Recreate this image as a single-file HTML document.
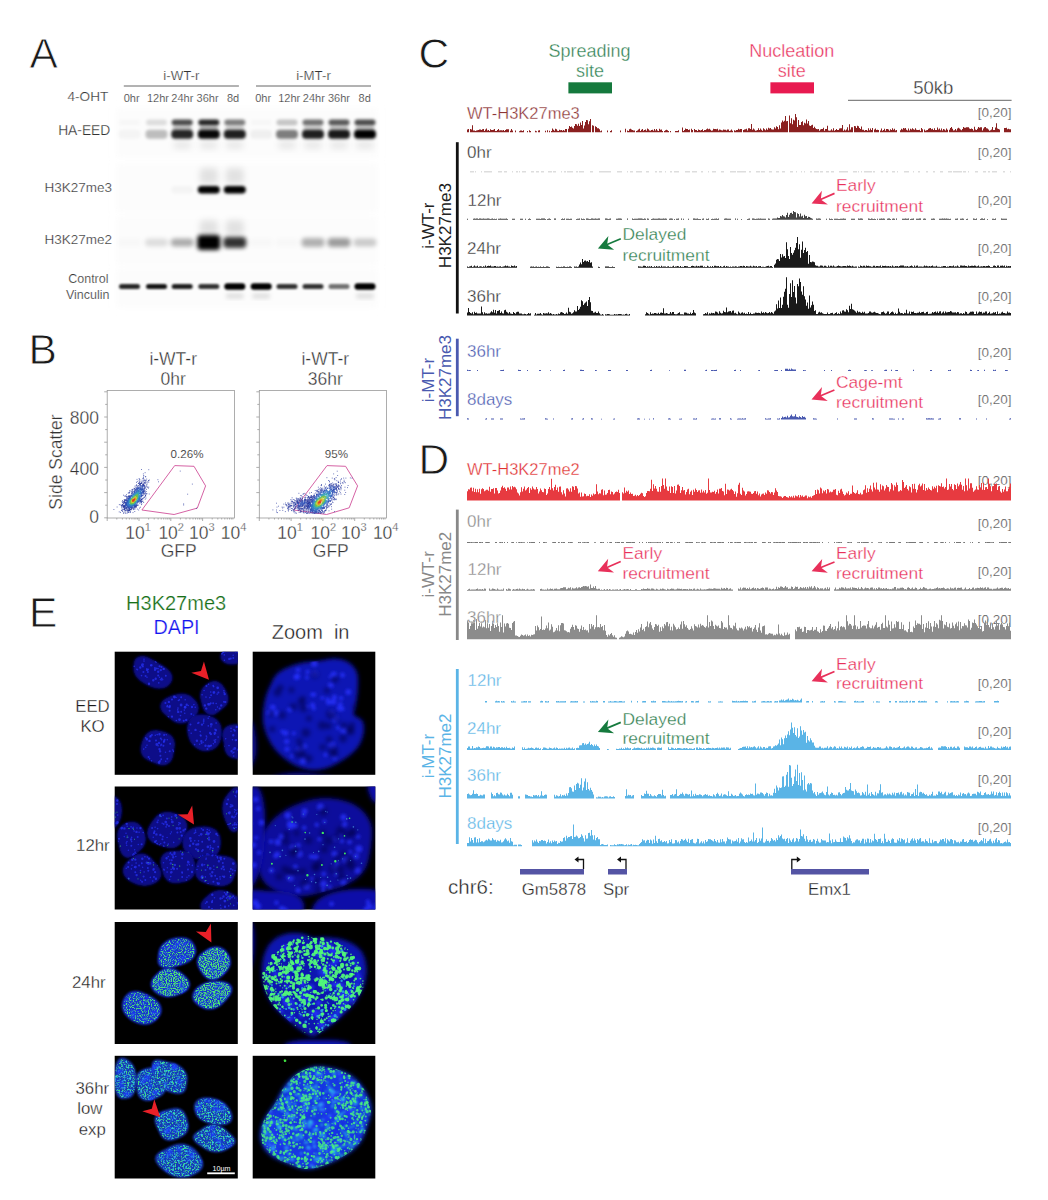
<!DOCTYPE html>
<html><head><meta charset="utf-8"><style>
html,body{margin:0;padding:0;background:#fff;}
svg{display:block;font-family:"Liberation Sans", sans-serif;}
</style></head><body>
<svg width="1048" height="1200" viewBox="0 0 1048 1200">
<defs>
<filter id="b05" x="-50%" y="-50%" width="200%" height="200%"><feGaussianBlur stdDeviation="0.5"/></filter>
<filter id="b1" x="-50%" y="-50%" width="200%" height="200%"><feGaussianBlur stdDeviation="1.2"/></filter>
<filter id="b15" x="-50%" y="-50%" width="200%" height="200%"><feGaussianBlur stdDeviation="1.5"/></filter>
<filter id="b2" x="-50%" y="-50%" width="200%" height="200%"><feGaussianBlur stdDeviation="2"/></filter>
<filter id="b3" x="-50%" y="-50%" width="200%" height="200%"><feGaussianBlur stdDeviation="3"/></filter>
</defs>
<rect width="1048" height="1200" fill="#fff"/>
<text x="29.6" y="68.4" font-size="42.5" fill="#1a1a1a" text-anchor="start" stroke="#fff" stroke-width="0.76" >A</text>
<text x="181.4" y="79.7" font-size="13.3" fill="#333" text-anchor="middle" stroke="#fff" stroke-width="0.24" >i-WT-r</text>
<text x="313.5" y="79.7" font-size="13.3" fill="#333" text-anchor="middle" stroke="#fff" stroke-width="0.24" >i-MT-r</text>
<line x1="123.8" y1="86" x2="238.9" y2="86" stroke="#666" stroke-width="1"/>
<line x1="256" y1="86" x2="371" y2="86" stroke="#666" stroke-width="1"/>
<text x="108.3" y="101.2" font-size="13.6" fill="#333" text-anchor="end" stroke="#fff" stroke-width="0.24" >4-OHT</text>
<text x="131.7" y="101.7" font-size="11" fill="#333" text-anchor="middle" stroke="#fff" stroke-width="0.20" >0hr</text>
<text x="158" y="101.7" font-size="11" fill="#333" text-anchor="middle" stroke="#fff" stroke-width="0.20" >12hr</text>
<text x="182.3" y="101.7" font-size="11" fill="#333" text-anchor="middle" stroke="#fff" stroke-width="0.20" >24hr</text>
<text x="207.6" y="101.7" font-size="11" fill="#333" text-anchor="middle" stroke="#fff" stroke-width="0.20" >36hr</text>
<text x="233" y="101.7" font-size="11" fill="#333" text-anchor="middle" stroke="#fff" stroke-width="0.20" >8d</text>
<text x="263.2" y="101.7" font-size="11" fill="#333" text-anchor="middle" stroke="#fff" stroke-width="0.20" >0hr</text>
<text x="289.2" y="101.7" font-size="11" fill="#333" text-anchor="middle" stroke="#fff" stroke-width="0.20" >12hr</text>
<text x="313.8" y="101.7" font-size="11" fill="#333" text-anchor="middle" stroke="#fff" stroke-width="0.20" >24hr</text>
<text x="339" y="101.7" font-size="11" fill="#333" text-anchor="middle" stroke="#fff" stroke-width="0.20" >36hr</text>
<text x="364.7" y="101.7" font-size="11" fill="#333" text-anchor="middle" stroke="#fff" stroke-width="0.20" >8d</text>
<text x="110.3" y="135.2" font-size="13.8" fill="#333" text-anchor="end" stroke="#fff" stroke-width="0.25" >HA-EED</text>
<text x="112" y="191.6" font-size="13.5" fill="#333" text-anchor="end" stroke="#fff" stroke-width="0.24" >H3K27me3</text>
<text x="112" y="244.1" font-size="13.5" fill="#333" text-anchor="end" stroke="#fff" stroke-width="0.24" >H3K27me2</text>
<text x="108.5" y="282.6" font-size="12.5" fill="#333" text-anchor="end" stroke="#fff" stroke-width="0.22" >Control</text>
<text x="109.5" y="299" font-size="12.5" fill="#333" text-anchor="end" stroke="#fff" stroke-width="0.22" >Vinculin</text>
<rect x="116.5" y="108" width="261" height="50" fill="#fcfcfc" filter="url(#b3)"/>
<rect x="116.5" y="163" width="261" height="50" fill="#fcfcfc" filter="url(#b3)"/>
<rect x="116.5" y="216" width="261" height="50" fill="#fcfcfc" filter="url(#b3)"/>
<rect x="116.5" y="268" width="261" height="40" fill="#fcfcfc" filter="url(#b3)"/>
<rect x="119.0" y="119.6" width="21" height="6" rx="3.0" fill="#000" fill-opacity="0.02" filter="url(#b15)"/>
<rect x="118.5" y="129.8" width="22" height="9" rx="4" fill="#000" fill-opacity="0.03" filter="url(#b15)"/>
<rect x="146.0" y="119.6" width="21" height="6" rx="3.0" fill="#000" fill-opacity="0.12" filter="url(#b15)"/>
<rect x="145.5" y="129.8" width="22" height="9" rx="4" fill="#000" fill-opacity="0.25" filter="url(#b15)"/>
<rect x="171.7" y="119.6" width="21" height="6" rx="3.0" fill="#000" fill-opacity="0.70" filter="url(#b15)"/>
<rect x="171.2" y="129.8" width="22" height="9" rx="4" fill="#000" fill-opacity="0.85" filter="url(#b15)"/>
<rect x="172.7" y="126.0" width="19" height="5" rx="2.5" fill="#000" fill-opacity="0.24" filter="url(#b15)"/>
<rect x="173.2" y="141.0" width="18" height="8" rx="4.0" fill="#000" fill-opacity="0.08" filter="url(#b3)"/>
<rect x="198.3" y="119.6" width="21" height="6" rx="3.0" fill="#000" fill-opacity="0.85" filter="url(#b15)"/>
<rect x="197.8" y="129.8" width="22" height="9" rx="4" fill="#000" fill-opacity="0.97" filter="url(#b15)"/>
<rect x="199.3" y="126.0" width="19" height="5" rx="2.5" fill="#000" fill-opacity="0.30" filter="url(#b15)"/>
<rect x="199.8" y="141.0" width="18" height="8" rx="4.0" fill="#000" fill-opacity="0.08" filter="url(#b3)"/>
<rect x="224.3" y="119.6" width="21" height="6" rx="3.0" fill="#000" fill-opacity="0.50" filter="url(#b15)"/>
<rect x="223.8" y="129.8" width="22" height="9" rx="4" fill="#000" fill-opacity="0.88" filter="url(#b15)"/>
<rect x="225.3" y="126.0" width="19" height="5" rx="2.5" fill="#000" fill-opacity="0.17" filter="url(#b15)"/>
<rect x="225.8" y="141.0" width="18" height="8" rx="4.0" fill="#000" fill-opacity="0.08" filter="url(#b3)"/>
<rect x="250.7" y="119.6" width="21" height="6" rx="3.0" fill="#000" fill-opacity="0.02" filter="url(#b15)"/>
<rect x="250.2" y="129.8" width="22" height="9" rx="4" fill="#000" fill-opacity="0.05" filter="url(#b15)"/>
<rect x="276.5" y="119.6" width="21" height="6" rx="3.0" fill="#000" fill-opacity="0.22" filter="url(#b15)"/>
<rect x="276.0" y="129.8" width="22" height="9" rx="4" fill="#000" fill-opacity="0.50" filter="url(#b15)"/>
<rect x="278.0" y="141.0" width="18" height="8" rx="4.0" fill="#000" fill-opacity="0.08" filter="url(#b3)"/>
<rect x="302.5" y="119.6" width="21" height="6" rx="3.0" fill="#000" fill-opacity="0.55" filter="url(#b15)"/>
<rect x="302.0" y="129.8" width="22" height="9" rx="4" fill="#000" fill-opacity="0.88" filter="url(#b15)"/>
<rect x="303.5" y="126.0" width="19" height="5" rx="2.5" fill="#000" fill-opacity="0.19" filter="url(#b15)"/>
<rect x="304.0" y="141.0" width="18" height="8" rx="4.0" fill="#000" fill-opacity="0.08" filter="url(#b3)"/>
<rect x="328.5" y="119.6" width="21" height="6" rx="3.0" fill="#000" fill-opacity="0.65" filter="url(#b15)"/>
<rect x="328.0" y="129.8" width="22" height="9" rx="4" fill="#000" fill-opacity="0.90" filter="url(#b15)"/>
<rect x="329.5" y="126.0" width="19" height="5" rx="2.5" fill="#000" fill-opacity="0.23" filter="url(#b15)"/>
<rect x="330.0" y="141.0" width="18" height="8" rx="4.0" fill="#000" fill-opacity="0.08" filter="url(#b3)"/>
<rect x="354.5" y="119.6" width="21" height="6" rx="3.0" fill="#000" fill-opacity="0.70" filter="url(#b15)"/>
<rect x="354.0" y="129.8" width="22" height="9" rx="4" fill="#000" fill-opacity="1.00" filter="url(#b15)"/>
<rect x="355.5" y="126.0" width="19" height="5" rx="2.5" fill="#000" fill-opacity="0.24" filter="url(#b15)"/>
<rect x="356.0" y="141.0" width="18" height="8" rx="4.0" fill="#000" fill-opacity="0.08" filter="url(#b3)"/>
<rect x="171.2" y="186.1" width="22" height="7.5" rx="3.75" fill="#000" fill-opacity="0.03" filter="url(#b15)"/>
<rect x="197.8" y="186.1" width="22" height="7.5" rx="3.75" fill="#000" fill-opacity="1.00" filter="url(#b15)"/>
<rect x="199.8" y="168.0" width="18" height="16" rx="4" fill="#000" fill-opacity="0.10" filter="url(#b3)"/>
<rect x="223.8" y="186.1" width="22" height="7.5" rx="3.75" fill="#000" fill-opacity="1.00" filter="url(#b15)"/>
<rect x="225.8" y="168.0" width="18" height="16" rx="4" fill="#000" fill-opacity="0.10" filter="url(#b3)"/>
<rect x="118.0" y="238.5" width="23" height="8" rx="4.0" fill="#000" fill-opacity="0.02" filter="url(#b2)"/>
<rect x="145.0" y="238.5" width="23" height="8" rx="4.0" fill="#000" fill-opacity="0.12" filter="url(#b2)"/>
<rect x="170.7" y="238.5" width="23" height="8" rx="4.0" fill="#000" fill-opacity="0.32" filter="url(#b2)"/>
<rect x="197.3" y="235.0" width="23" height="15" rx="4" fill="#000" fill-opacity="1.00" filter="url(#b2)"/>
<rect x="199.8" y="220.0" width="18" height="16" rx="4" fill="#000" fill-opacity="0.10" filter="url(#b3)"/>
<rect x="223.3" y="237.0" width="23" height="11" rx="4" fill="#000" fill-opacity="0.80" filter="url(#b2)"/>
<rect x="225.8" y="220.0" width="18" height="16" rx="4" fill="#000" fill-opacity="0.10" filter="url(#b3)"/>
<rect x="249.7" y="238.5" width="23" height="8" rx="4.0" fill="#000" fill-opacity="0.02" filter="url(#b2)"/>
<rect x="275.5" y="238.5" width="23" height="8" rx="4.0" fill="#000" fill-opacity="0.02" filter="url(#b2)"/>
<rect x="301.5" y="238.0" width="23" height="9" rx="4" fill="#000" fill-opacity="0.30" filter="url(#b2)"/>
<rect x="327.5" y="238.0" width="23" height="9" rx="4" fill="#000" fill-opacity="0.38" filter="url(#b2)"/>
<rect x="353.5" y="238.5" width="23" height="8" rx="4.0" fill="#000" fill-opacity="0.20" filter="url(#b2)"/>
<rect x="119.0" y="284.0" width="21" height="5" rx="2.5" fill="#000" fill-opacity="0.85" filter="url(#b1)"/>
<rect x="146.0" y="284.0" width="21" height="5" rx="2.5" fill="#000" fill-opacity="0.92" filter="url(#b1)"/>
<rect x="171.7" y="284.0" width="21" height="5" rx="2.5" fill="#000" fill-opacity="0.88" filter="url(#b1)"/>
<rect x="198.3" y="284.0" width="21" height="5" rx="2.5" fill="#000" fill-opacity="0.80" filter="url(#b1)"/>
<rect x="224.3" y="283.2" width="21" height="6.5" rx="3.25" fill="#000" fill-opacity="1.00" filter="url(#b1)"/>
<rect x="225.8" y="293.5" width="18" height="5" rx="2.5" fill="#000" fill-opacity="0.12" filter="url(#b2)"/>
<rect x="250.7" y="283.2" width="21" height="6.5" rx="3.25" fill="#000" fill-opacity="1.00" filter="url(#b1)"/>
<rect x="252.2" y="293.5" width="18" height="5" rx="2.5" fill="#000" fill-opacity="0.12" filter="url(#b2)"/>
<rect x="276.5" y="284.0" width="21" height="5" rx="2.5" fill="#000" fill-opacity="0.80" filter="url(#b1)"/>
<rect x="302.5" y="284.0" width="21" height="5" rx="2.5" fill="#000" fill-opacity="0.80" filter="url(#b1)"/>
<rect x="328.5" y="284.0" width="21" height="5" rx="2.5" fill="#000" fill-opacity="0.55" filter="url(#b1)"/>
<rect x="354.5" y="283.2" width="21" height="6.5" rx="3.25" fill="#000" fill-opacity="1.00" filter="url(#b1)"/>
<rect x="356.0" y="293.5" width="18" height="5" rx="2.5" fill="#000" fill-opacity="0.12" filter="url(#b2)"/>
<text x="28.6" y="364.3" font-size="42.5" fill="#1a1a1a" text-anchor="start" stroke="#fff" stroke-width="0.76" >B</text>
<text x="173.2" y="364.5" font-size="17.5" fill="#333" text-anchor="middle" stroke="#fff" stroke-width="0.32" >i-WT-r</text>
<text x="173.2" y="384.5" font-size="17.5" fill="#333" text-anchor="middle" stroke="#fff" stroke-width="0.32" >0hr</text>
<rect x="107.2" y="390.5" width="127.3" height="127.5" fill="none" stroke="#999" stroke-width="0.8"/>
<path d="M107.2 517.8h-3 M107.2 505.2h-2 M107.2 492.6h-3 M107.2 480.0h-2 M107.2 467.4h-3 M107.2 454.8h-2 M107.2 442.2h-3 M107.2 429.6h-2 M107.2 417.0h-3 M107.2 404.4h-2 M107.2 391.8h-3 M107.2 518h0v3 M116.8 518h0v1.5 M122.4 518h0v1.5 M126.3 518h0v1.5 M129.4 518h0v1.5 M131.9 518h0v1.5 M134.1 518h0v1.5 M135.9 518h0v1.5 M137.5 518h0v1.5 M139.0 518h0v3 M148.6 518h0v1.5 M154.2 518h0v1.5 M158.1 518h0v1.5 M161.2 518h0v1.5 M163.7 518h0v1.5 M165.9 518h0v1.5 M167.7 518h0v1.5 M169.3 518h0v1.5 M170.8 518h0v3 M180.4 518h0v1.5 M186.0 518h0v1.5 M189.9 518h0v1.5 M193.0 518h0v1.5 M195.5 518h0v1.5 M197.7 518h0v1.5 M199.5 518h0v1.5 M201.1 518h0v1.5 M202.6 518h0v3 M212.2 518h0v1.5 M217.8 518h0v1.5 M221.7 518h0v1.5 M224.8 518h0v1.5 M227.3 518h0v1.5 M229.5 518h0v1.5 M231.3 518h0v1.5 M232.9 518h0v1.5" stroke="#999" stroke-width="0.8" fill="none"/>
<text x="325.3" y="364.5" font-size="17.5" fill="#333" text-anchor="middle" stroke="#fff" stroke-width="0.32" >i-WT-r</text>
<text x="325.3" y="384.5" font-size="17.5" fill="#333" text-anchor="middle" stroke="#fff" stroke-width="0.32" >36hr</text>
<rect x="259.3" y="390.5" width="127.3" height="127.5" fill="none" stroke="#999" stroke-width="0.8"/>
<path d="M259.3 517.8h-3 M259.3 505.2h-2 M259.3 492.6h-3 M259.3 480.0h-2 M259.3 467.4h-3 M259.3 454.8h-2 M259.3 442.2h-3 M259.3 429.6h-2 M259.3 417.0h-3 M259.3 404.4h-2 M259.3 391.8h-3 M259.3 518h0v3 M268.9 518h0v1.5 M274.5 518h0v1.5 M278.4 518h0v1.5 M281.5 518h0v1.5 M284.0 518h0v1.5 M286.2 518h0v1.5 M288.0 518h0v1.5 M289.6 518h0v1.5 M291.1 518h0v3 M300.7 518h0v1.5 M306.3 518h0v1.5 M310.2 518h0v1.5 M313.3 518h0v1.5 M315.8 518h0v1.5 M318.0 518h0v1.5 M319.8 518h0v1.5 M321.4 518h0v1.5 M322.9 518h0v3 M332.5 518h0v1.5 M338.1 518h0v1.5 M342.0 518h0v1.5 M345.1 518h0v1.5 M347.6 518h0v1.5 M349.8 518h0v1.5 M351.6 518h0v1.5 M353.2 518h0v1.5 M354.7 518h0v3 M364.3 518h0v1.5 M369.9 518h0v1.5 M373.8 518h0v1.5 M376.9 518h0v1.5 M379.4 518h0v1.5 M381.6 518h0v1.5 M383.4 518h0v1.5 M385.0 518h0v1.5" stroke="#999" stroke-width="0.8" fill="none"/>
<text x="99" y="424" font-size="17.5" fill="#333" text-anchor="end" stroke="#fff" stroke-width="0.32" >800</text>
<text x="99" y="474.5" font-size="17.5" fill="#333" text-anchor="end" stroke="#fff" stroke-width="0.32" >400</text>
<text x="99" y="523" font-size="17.5" fill="#333" text-anchor="end" stroke="#fff" stroke-width="0.32" >0</text>
<text transform="translate(62,462) rotate(-90)" font-size="17.5" fill="#333" stroke="#fff" stroke-width="0.3" text-anchor="middle">Side Scatter</text>
<text x="138.0" y="539" font-size="17.5" fill="#333" stroke="#fff" stroke-width="0.3" text-anchor="middle">10<tspan font-size="11" dy="-8">1</tspan></text>
<text x="171.2" y="539" font-size="17.5" fill="#333" stroke="#fff" stroke-width="0.3" text-anchor="middle">10<tspan font-size="11" dy="-8">2</tspan></text>
<text x="201.8" y="539" font-size="17.5" fill="#333" stroke="#fff" stroke-width="0.3" text-anchor="middle">10<tspan font-size="11" dy="-8">3</tspan></text>
<text x="233.6" y="539" font-size="17.5" fill="#333" stroke="#fff" stroke-width="0.3" text-anchor="middle">10<tspan font-size="11" dy="-8">4</tspan></text>
<text x="178.7" y="556.5" font-size="17.5" fill="#333" text-anchor="middle" stroke="#fff" stroke-width="0.32" >GFP</text>
<text x="290.1" y="539" font-size="17.5" fill="#333" stroke="#fff" stroke-width="0.3" text-anchor="middle">10<tspan font-size="11" dy="-8">1</tspan></text>
<text x="323.3" y="539" font-size="17.5" fill="#333" stroke="#fff" stroke-width="0.3" text-anchor="middle">10<tspan font-size="11" dy="-8">2</tspan></text>
<text x="353.9" y="539" font-size="17.5" fill="#333" stroke="#fff" stroke-width="0.3" text-anchor="middle">10<tspan font-size="11" dy="-8">3</tspan></text>
<text x="385.7" y="539" font-size="17.5" fill="#333" stroke="#fff" stroke-width="0.3" text-anchor="middle">10<tspan font-size="11" dy="-8">4</tspan></text>
<text x="330.8" y="556.5" font-size="17.5" fill="#333" text-anchor="middle" stroke="#fff" stroke-width="0.32" >GFP</text>
<polygon points="141.9,510.0 174.7,465.6 194.0,466.3 205.6,485.9 197.3,508.1 174.1,514.5" fill="none" stroke="#d0509a" stroke-width="0.9"/>
<polygon points="293.7,510 327,465.6 345.6,466.3 357.6,485.9 349.2,507.8 326.6,514.5" fill="none" stroke="#d0509a" stroke-width="0.9"/>
<text x="187" y="458" font-size="11.6" fill="#333" text-anchor="middle" stroke="#fff" stroke-width="0.12" >0.26%</text>
<text x="336.4" y="458" font-size="11.6" fill="#333" text-anchor="middle" stroke="#fff" stroke-width="0.12" >95%</text>
<path d="M137.0 486.0h.8M132.3 508.1h.8M129.1 492.7h.8M144.0 482.4h.8M144.6 490.5h.8M125.6 508.2h.8M120.0 512.4h.8M122.3 511.4h.8M140.1 501.0h.8M143.1 491.8h.8M141.7 481.6h.8M143.4 493.3h.8M140.9 499.6h.8M127.9 496.6h.8M139.0 482.6h.8M129.6 509.3h.8M129.5 490.5h.8M144.9 482.9h.8M125.5 499.6h.8M123.8 499.8h.8M145.4 495.9h.8M148.2 488.1h.8M124.6 500.8h.8M143.1 485.0h.8M133.6 508.0h.8M118.8 511.9h.8M145.4 483.2h.8M140.8 482.2h.8M140.5 500.6h.8M127.4 498.1h.8M138.5 483.5h.8M129.4 496.2h.8M139.5 481.7h.8M119.9 504.9h.8M148.4 482.2h.8M125.2 500.3h.8M126.8 498.9h.8M123.9 508.9h.8M143.3 502.5h.8M124.4 500.2h.8M142.8 498.6h.8M142.0 495.7h.8M144.0 485.2h.8M134.2 506.5h.8M146.4 486.0h.8M124.3 509.6h.8M135.0 489.5h.8M134.8 507.4h.8M145.0 492.3h.8M134.6 490.4h.8M144.7 472.7h.8M126.5 496.9h.8M139.8 501.9h.8M121.5 508.0h.8M137.9 483.4h.8M128.9 496.7h.8M140.4 500.3h.8M124.0 508.7h.8M138.4 485.5h.8M137.5 487.3h.8M123.5 512.6h.8M141.0 504.6h.8M128.7 510.4h.8M140.1 507.2h.8M123.0 505.3h.8M129.0 508.4h.8M143.4 490.8h.8M125.6 507.6h.8M143.9 487.4h.8M142.5 495.0h.8M135.8 507.0h.8M126.1 507.9h.8M122.3 511.0h.8M140.3 483.5h.8M126.2 507.9h.8M135.8 506.1h.8M134.2 490.0h.8M129.5 491.3h.8M135.6 506.7h.8M143.3 480.1h.8M124.5 505.8h.8M143.2 490.0h.8M125.2 502.6h.8M128.5 510.5h.8M135.3 506.6h.8M124.5 501.8h.8M128.0 511.0h.8M141.5 499.5h.8M127.0 511.3h.8M122.7 505.2h.8M144.6 494.1h.8M131.6 507.9h.8M134.4 507.6h.8M130.0 512.4h.8M142.4 478.4h.8M132.1 490.8h.8M135.5 505.6h.8M135.9 505.3h.8M126.0 494.7h.8M136.1 485.1h.8M144.1 493.2h.8M118.9 504.6h.8M137.0 487.0h.8M142.0 498.5h.8M142.6 501.2h.8M124.9 510.4h.8M141.6 483.3h.8M126.1 500.7h.8M136.3 485.0h.8M142.9 473.9h.8M122.5 509.3h.8M148.3 480.5h.8M143.9 497.0h.8M144.2 488.0h.8M125.0 504.7h.8M134.2 488.7h.8M126.0 498.1h.8M128.8 510.1h.8M144.1 486.5h.8M136.5 505.5h.8M132.2 492.9h.8M143.8 491.3h.8M143.2 491.6h.8M145.0 496.2h.8M123.2 513.3h.8M142.4 485.9h.8M121.1 505.9h.8M146.6 486.6h.8M124.4 507.2h.8M125.1 503.1h.8M127.5 496.8h.8M126.2 507.9h.8M121.1 510.2h.8M122.0 502.4h.8M124.7 507.7h.8M143.1 493.7h.8M122.2 504.7h.8M122.4 506.2h.8M123.3 509.4h.8M148.2 480.8h.8M124.6 506.1h.8M127.5 512.5h.8M133.6 489.1h.8M142.9 497.7h.8M134.4 511.5h.8M128.6 496.8h.8M121.2 505.7h.8M126.2 509.7h.8M143.5 494.7h.8M123.9 501.5h.8M135.2 487.9h.8M145.3 476.9h.8M121.1 507.0h.8M124.3 496.1h.8M141.2 499.1h.8M128.8 496.1h.8M141.0 502.0h.8M124.9 500.1h.8M142.8 485.0h.8M133.6 508.8h.8M136.9 509.1h.8M143.6 480.2h.8M123.7 504.0h.8M144.8 486.7h.8M136.0 482.4h.8M145.2 495.3h.8M131.5 507.9h.8M145.6 498.0h.8M141.2 502.3h.8M124.1 505.8h.8M128.8 496.5h.8M145.3 476.5h.8M132.2 492.0h.8M127.3 509.8h.8M132.5 491.8h.8M122.7 506.6h.8M132.6 512.6h.8M124.2 502.6h.8M139.6 484.0h.8M126.7 498.8h.8M141.1 483.1h.8M125.7 500.2h.8M139.0 483.9h.8M138.2 483.2h.8M135.5 506.4h.8M121.8 504.7h.8M133.5 509.5h.8M124.4 509.1h.8M143.4 486.0h.8M139.1 484.3h.8M131.1 493.1h.8M124.5 511.1h.8M123.4 502.9h.8M143.2 485.3h.8M141.7 480.2h.8M123.7 507.4h.8M143.7 483.3h.8M116.7 507.0h.8M141.2 499.6h.8M128.4 509.9h.8M126.6 497.8h.8M139.9 500.7h.8M113.5 509.5h.8M144.0 480.1h.8M131.1 509.3h.8M130.8 492.0h.8M148.8 494.0h.8M131.0 509.0h.8M125.3 496.0h.8M134.6 486.2h.8M148.4 487.1h.8M123.9 500.1h.8M126.4 500.2h.8M143.3 475.9h.8M121.8 501.6h.8M142.3 484.9h.8M139.7 484.2h.8M135.1 506.6h.8M144.5 485.2h.8M123.9 507.8h.8M127.5 509.3h.8M124.9 502.4h.8M142.2 485.2h.8M128.9 509.0h.8M128.4 492.7h.8M132.0 489.4h.8M136.6 479.4h.8M137.9 505.1h.8M124.0 509.2h.8M137.1 504.0h.8M148.9 480.0h.8M140.1 485.7h.8M131.7 508.1h.8M141.6 499.8h.8M136.1 487.2h.8M144.2 485.7h.8M129.9 509.9h.8M128.7 495.9h.8M145.9 489.5h.8M140.2 484.3h.8M146.8 484.0h.8M134.4 488.7h.8M125.8 510.4h.8M144.9 487.4h.8M144.6 491.5h.8M138.7 480.8h.8M128.6 512.5h.8M143.1 477.6h.8M122.9 503.5h.8M122.8 506.7h.8M131.9 493.0h.8M126.4 500.4h.8M129.0 510.5h.8M125.5 500.1h.8M121.4 510.5h.8M126.9 510.3h.8M146.6 493.7h.8M129.4 496.4h.8M129.0 496.7h.8M144.1 488.5h.8M128.0 508.5h.8M145.8 494.1h.8M124.8 513.0h.8M148.4 469.7h.8M133.7 488.2h.8M123.8 506.5h.8M123.5 506.8h.8M123.2 507.2h.8M122.0 504.9h.8M143.1 491.7h.8M136.9 481.4h.8M122.8 507.7h.8M145.2 495.5h.8M141.1 501.5h.8M140.7 500.7h.8M122.3 504.8h.8M140.1 501.4h.8M123.9 506.2h.8M139.1 508.1h.8M146.3 479.1h.8M122.4 509.8h.8M124.8 510.1h.8M140.9 499.6h.8M138.3 510.0h.8M141.2 483.4h.8M124.2 505.9h.8M123.0 505.8h.8M143.8 489.7h.8M124.3 502.2h.8M144.8 499.2h.8M125.4 507.1h.8M128.4 510.2h.8M139.3 482.1h.8M123.1 495.2h.8M122.0 500.6h.8M145.1 481.9h.8M142.5 495.5h.8M141.1 469.5h.8M143.7 482.6h.8M125.0 506.0h.8M138.7 478.6h.8M126.7 508.6h.8M125.5 496.2h.8M134.7 508.9h.8M126.4 499.7h.8M128.2 496.0h.8M126.3 496.5h.8M123.9 506.3h.8M133.3 491.4h.8M122.8 502.8h.8M143.1 484.7h.8M129.0 492.8h.8M123.5 503.2h.8M143.8 490.2h.8M144.6 480.7h.8M128.3 510.7h.8M124.6 505.3h.8M129.9 511.5h.8M127.6 497.2h.8M138.3 486.0h.8M142.0 501.4h.8M132.8 509.6h.8M141.4 503.8h.8M124.3 508.6h.8M130.3 509.6h.8M130.6 509.9h.8M143.6 483.4h.8M143.5 492.3h.8M125.5 511.0h.8M124.2 500.2h.8M131.1 493.6h.8M125.5 508.5h.8M128.9 510.9h.8M142.5 484.4h.8M132.5 489.8h.8M145.8 493.6h.8M122.2 505.1h.8M142.8 492.5h.8M128.8 509.6h.8M145.8 482.1h.8M141.5 482.6h.8M141.4 499.2h.8M144.0 497.3h.8M129.4 509.2h.8M139.5 503.6h.8M131.0 508.4h.8M124.1 509.8h.8M129.1 508.8h.8M135.6 505.4h.8M133.0 508.3h.8M143.4 481.3h.8M127.8 493.2h.8M124.3 502.0h.8M123.0 501.6h.8M140.2 483.5h.8M123.4 506.3h.8M142.7 485.7h.8M135.7 507.0h.8M143.1 484.2h.8M145.4 488.3h.8M139.8 484.1h.8M143.4 475.8h.8M126.7 513.2h.8M125.4 513.1h.8M131.5 489.7h.8M135.7 485.8h.8M123.0 506.3h.8M146.0 484.9h.8M141.0 502.0h.8M145.7 480.5h.8M139.7 502.4h.8M143.7 491.4h.8M134.6 506.4h.8M141.3 483.5h.8M137.3 505.4h.8M143.8 489.0h.8M129.4 508.7h.8M143.3 478.5h.8M130.0 509.3h.8M133.9 507.2h.8M121.1 505.3h.8M145.2 480.2h.8M128.1 512.2h.8M136.6 505.3h.8M133.5 507.6h.8M139.6 479.9h.8M124.6 507.2h.8M144.8 493.7h.8M127.3 510.4h.8M125.5 508.5h.8M145.9 491.6h.8M147.2 482.0h.8M139.1 479.3h.8M146.9 487.6h.8M124.9 503.2h.8M131.0 491.2h.8M123.9 502.1h.8M142.7 484.9h.8M136.2 488.2h.8M139.3 484.9h.8M183.3 505.0h.8M183.3 503.9h.8M158.1 481.8h.8M191.9 484.1h.8M187.3 494.2h.8M157.5 479.7h.8M196.2 508.3h.8M179.8 471.1h.8" stroke="#2838a0" stroke-width=".8" fill="none"/>
<path d="M125.1 506.0h.8M139.8 489.2h.8M140.0 497.1h.8M135.8 505.0h.8M140.8 497.1h.8M128.0 499.8h.8M127.4 506.5h.8M133.9 493.1h.8M134.8 505.5h.8M140.6 486.1h.8M141.2 488.9h.8M137.2 501.7h.8M129.2 498.5h.8M128.0 507.2h.8M133.7 493.0h.8M137.3 489.1h.8M135.7 489.4h.8M134.9 490.5h.8M133.6 505.3h.8M131.0 495.4h.8M126.6 503.4h.8M127.3 500.5h.8M132.0 493.9h.8M137.8 488.2h.8M142.4 492.8h.8M130.0 495.7h.8M136.9 502.6h.8M141.2 494.7h.8M135.8 491.3h.8M127.0 501.4h.8M141.2 493.5h.8M137.9 488.3h.8M131.6 495.0h.8M140.8 489.9h.8M134.2 505.9h.8M129.6 498.1h.8M132.5 506.7h.8M127.6 501.0h.8M129.6 507.1h.8M138.9 487.9h.8M135.3 505.0h.8M128.9 506.6h.8M126.2 503.8h.8M126.7 503.9h.8M128.5 498.5h.8M125.6 502.9h.8M135.9 503.8h.8M141.3 490.0h.8M131.5 495.5h.8M133.9 506.5h.8M139.6 499.0h.8M132.8 507.0h.8M131.5 506.8h.8M128.8 499.1h.8M128.9 498.5h.8M129.1 497.2h.8M140.9 490.0h.8M137.3 501.9h.8M138.8 501.0h.8M126.6 506.7h.8M131.4 506.3h.8M132.0 507.0h.8M131.5 507.0h.8M139.7 498.5h.8M134.1 505.5h.8M134.3 491.7h.8M128.9 498.3h.8M130.7 496.5h.8M136.2 489.0h.8M129.6 496.3h.8M141.7 489.2h.8M137.2 488.3h.8M135.6 490.2h.8M130.7 506.7h.8M125.7 504.9h.8M139.4 489.3h.8M125.3 504.0h.8M130.0 497.4h.8M142.4 486.4h.8M141.3 496.5h.8M127.2 501.5h.8M139.0 500.9h.8M142.2 489.6h.8M140.7 490.0h.8M134.0 505.2h.8M141.2 495.6h.8M141.8 495.4h.8M133.5 505.4h.8M140.9 490.1h.8M129.6 506.7h.8M128.2 506.4h.8M126.0 504.1h.8M127.4 506.5h.8M134.6 491.5h.8M142.4 492.0h.8M142.7 487.0h.8M125.1 504.2h.8M128.9 506.5h.8M125.7 503.6h.8M141.7 487.6h.8M129.3 498.4h.8M128.1 498.3h.8M132.8 494.2h.8M127.9 507.0h.8M128.0 498.5h.8M127.1 501.3h.8M134.2 504.8h.8M134.2 505.7h.8M137.8 489.8h.8M134.6 504.8h.8M132.5 494.4h.8M127.8 499.8h.8M127.1 501.4h.8M139.4 486.2h.8M139.5 499.3h.8M140.6 496.4h.8M133.7 505.8h.8M128.1 506.6h.8M142.0 492.3h.8M129.3 498.6h.8M132.7 505.9h.8M135.8 504.8h.8M136.8 489.8h.8M128.5 498.1h.8M139.0 499.7h.8M142.2 490.8h.8M126.8 502.8h.8M138.0 501.2h.8M126.3 504.0h.8M140.8 486.1h.8M142.3 491.3h.8M130.3 497.0h.8M126.5 501.7h.8M134.6 505.3h.8M134.1 492.0h.8M134.0 491.3h.8M142.1 488.2h.8M138.5 501.9h.8M128.5 506.8h.8M137.7 502.3h.8M141.1 492.6h.8M142.4 491.3h.8M143.2 488.6h.8M134.8 505.7h.8M132.6 505.8h.8M136.9 489.2h.8M126.8 503.1h.8M126.3 504.2h.8M142.3 486.7h.8M128.0 500.4h.8M138.2 501.1h.8M129.7 506.8h.8M133.8 505.5h.8M136.0 491.2h.8M130.7 495.1h.8M127.5 501.5h.8M130.0 507.2h.8M141.9 489.2h.8M136.4 488.7h.8M126.7 506.2h.8M128.8 498.1h.8M136.1 490.9h.8M141.6 489.8h.8M141.3 491.3h.8M126.4 504.5h.8M138.4 500.3h.8M136.9 490.1h.8M128.3 507.4h.8M140.9 495.8h.8M128.7 506.9h.8M127.7 498.6h.8M129.6 507.7h.8M129.7 497.8h.8M139.5 489.4h.8M125.9 503.6h.8M131.3 507.4h.8M129.3 506.7h.8M133.7 505.5h.8M127.7 500.1h.8M125.4 505.8h.8M142.8 489.7h.8M125.9 505.2h.8M141.6 487.9h.8M136.6 488.9h.8M141.7 489.5h.8M130.6 507.1h.8M141.9 486.4h.8M127.0 502.4h.8M127.6 500.4h.8M140.2 489.4h.8M139.2 500.1h.8M141.9 493.7h.8M140.8 494.2h.8M134.2 492.6h.8M142.5 493.3h.8M138.5 488.4h.8M130.3 496.3h.8M133.2 494.0h.8M142.5 486.3h.8M138.3 501.0h.8M141.0 493.2h.8M141.1 493.0h.8M130.5 507.7h.8M127.3 501.4h.8M141.1 496.4h.8M127.0 502.3h.8M139.5 487.3h.8M128.0 499.3h.8M126.3 502.1h.8M129.2 506.9h.8M130.4 507.7h.8M128.6 508.1h.8M140.2 489.1h.8M134.4 492.3h.8M140.5 485.7h.8M134.1 505.9h.8M126.9 505.2h.8M134.2 492.2h.8M141.6 489.9h.8M126.0 503.1h.8M136.0 504.0h.8M140.4 485.8h.8M137.5 501.4h.8M127.1 505.2h.8M128.6 507.4h.8M126.8 502.2h.8M125.4 504.0h.8M141.6 489.5h.8M134.9 492.3h.8M126.9 504.6h.8M131.7 507.5h.8M139.5 500.1h.8M137.7 490.0h.8M127.3 507.3h.8M127.1 502.3h.8M131.1 506.6h.8M134.5 505.6h.8M125.6 506.0h.8M127.9 506.7h.8M129.7 497.0h.8M127.6 507.7h.8M142.2 489.5h.8M137.4 488.7h.8M127.8 499.9h.8M129.6 506.8h.8M127.3 505.6h.8M126.9 507.1h.8M137.3 502.8h.8M125.4 504.6h.8M141.1 492.7h.8M134.1 505.1h.8M137.5 488.2h.8M130.4 507.3h.8M126.3 505.3h.8M128.0 506.8h.8M139.5 488.9h.8M126.0 502.0h.8M135.9 490.9h.8M140.5 488.0h.8M140.4 487.5h.8M128.8 497.5h.8M137.7 488.0h.8M138.6 501.5h.8M139.6 499.7h.8M141.4 495.1h.8M142.6 492.3h.8M126.4 502.2h.8M126.8 504.6h.8M128.1 499.3h.8M128.9 498.4h.8M135.3 489.9h.8M138.7 487.4h.8M128.3 500.0h.8M129.6 497.5h.8M141.5 488.1h.8M141.1 495.5h.8M131.2 495.2h.8M126.8 507.9h.8M131.1 507.6h.8M129.6 498.1h.8M140.6 494.9h.8M132.7 492.8h.8M140.1 488.7h.8M139.8 488.4h.8M139.4 498.4h.8M142.1 488.1h.8M139.5 498.4h.8M140.8 489.2h.8M126.3 502.9h.8M137.8 487.9h.8M134.4 491.1h.8M138.4 488.3h.8M126.3 502.7h.8M129.2 506.8h.8M128.2 500.1h.8M130.8 507.6h.8M140.3 489.4h.8M142.5 489.4h.8M140.5 496.8h.8M127.2 502.0h.8M142.6 492.3h.8M128.1 507.6h.8M125.2 505.2h.8M135.8 489.3h.8M130.5 496.3h.8M143.0 490.3h.8M126.5 505.1h.8M138.5 488.5h.8M129.5 496.3h.8M127.0 500.1h.8M141.2 486.0h.8M142.7 491.0h.8M126.5 504.9h.8M125.5 505.8h.8M134.3 492.5h.8M135.4 504.2h.8M142.3 491.8h.8M126.9 506.9h.8M140.4 487.1h.8M141.5 488.8h.8M140.4 488.7h.8M131.0 495.5h.8M125.6 502.7h.8M136.6 489.2h.8M126.1 504.8h.8" stroke="#3050b8" stroke-width=".8" fill="none"/>
<path d="M128.3 505.3h.8M138.8 497.8h.8M139.5 493.4h.8M131.9 496.4h.8M127.3 504.4h.8M131.7 496.3h.8M135.6 493.6h.8M139.9 493.0h.8M137.5 500.0h.8M127.9 502.3h.8M129.2 505.2h.8M130.2 506.0h.8M138.7 499.1h.8M129.9 505.7h.8M128.2 505.7h.8M128.8 501.5h.8M131.3 505.8h.8M134.6 492.7h.8M134.6 503.9h.8M128.4 500.5h.8M138.6 491.7h.8M138.2 499.9h.8M135.5 502.8h.8M134.5 504.4h.8M128.6 502.1h.8M128.8 499.6h.8M139.2 494.1h.8M138.4 497.8h.8M136.7 500.8h.8M140.3 493.0h.8M139.5 491.5h.8M130.0 498.1h.8M130.8 505.8h.8M139.9 491.2h.8M139.6 493.2h.8M134.8 492.7h.8M136.9 490.7h.8M139.4 496.8h.8M128.6 502.5h.8M132.5 505.1h.8M138.3 498.3h.8M128.6 506.1h.8M132.6 505.2h.8M130.6 497.2h.8M127.6 501.5h.8M139.4 492.5h.8M137.8 499.7h.8M131.1 505.5h.8M135.6 492.0h.8M129.1 504.7h.8M127.7 504.2h.8M129.2 500.0h.8M139.3 497.8h.8M139.9 491.0h.8M138.6 497.9h.8M127.9 502.7h.8M132.0 505.2h.8M139.2 497.7h.8M128.4 503.3h.8M133.9 504.1h.8M129.4 505.0h.8M139.9 491.5h.8M136.4 492.4h.8M136.8 492.1h.8M128.8 504.8h.8M138.6 498.6h.8M134.4 503.2h.8M129.1 500.5h.8M137.8 491.8h.8M135.7 492.2h.8M133.0 504.6h.8M131.0 505.1h.8M128.3 501.5h.8M138.4 499.0h.8M138.4 491.7h.8M129.1 499.9h.8M129.2 500.8h.8M132.7 505.2h.8M134.4 494.3h.8M129.6 499.8h.8M127.8 505.9h.8M135.7 491.6h.8M135.3 502.5h.8M127.5 503.2h.8M131.8 506.1h.8M138.5 492.0h.8M139.8 494.8h.8M137.0 501.7h.8M128.5 504.8h.8M139.4 496.7h.8M130.3 505.2h.8M138.6 497.4h.8M129.0 504.3h.8M128.3 501.6h.8M133.9 504.3h.8M137.2 501.2h.8M134.9 504.0h.8M129.7 505.6h.8M128.8 499.5h.8M132.5 494.9h.8M135.7 501.9h.8M134.8 493.5h.8M127.7 502.1h.8M128.4 500.3h.8M139.7 495.2h.8M139.2 493.5h.8M139.3 496.1h.8M129.5 505.3h.8M131.9 496.3h.8M128.3 504.6h.8M136.3 492.6h.8M127.9 502.5h.8M140.0 495.0h.8M138.5 490.4h.8M129.2 504.8h.8M138.2 491.0h.8M138.3 498.9h.8M129.0 504.4h.8M136.3 493.1h.8M137.3 500.7h.8M127.6 505.1h.8M132.9 495.2h.8M134.7 493.9h.8M138.8 491.5h.8M130.2 506.4h.8M132.3 505.6h.8M127.3 504.7h.8M128.2 502.7h.8M134.8 502.8h.8M135.4 502.6h.8M132.2 495.8h.8M132.1 495.4h.8M136.0 501.8h.8M127.7 503.7h.8M133.0 494.4h.8M139.0 489.8h.8M132.5 504.9h.8M140.3 493.7h.8M140.4 493.4h.8M128.9 501.0h.8M130.2 506.2h.8M127.3 504.6h.8M128.2 500.4h.8M129.4 498.9h.8M128.4 503.8h.8M139.5 495.8h.8M128.8 504.7h.8M140.0 493.0h.8M140.0 492.3h.8M134.3 503.4h.8M137.6 491.4h.8M128.2 505.6h.8M139.5 496.4h.8M133.5 505.3h.8M138.6 490.5h.8M131.9 505.1h.8M138.4 492.5h.8M136.8 501.9h.8M130.5 505.2h.8M129.3 499.6h.8M128.8 505.8h.8M128.5 500.0h.8M140.4 495.0h.8M137.6 490.5h.8M137.1 490.6h.8M129.6 505.9h.8M128.7 500.8h.8M129.9 499.5h.8M130.6 505.8h.8M130.3 498.2h.8M128.1 501.5h.8M127.9 502.6h.8M135.6 502.2h.8M128.6 504.0h.8M127.5 503.0h.8M134.9 493.0h.8M128.9 500.1h.8M133.0 495.8h.8M140.7 490.9h.8M133.1 504.2h.8M128.4 502.8h.8M128.4 500.1h.8M130.2 506.1h.8M129.3 504.8h.8M134.1 494.6h.8M137.8 492.1h.8M128.5 500.3h.8M129.9 506.1h.8M138.4 491.0h.8M129.2 500.5h.8M127.1 503.3h.8M127.7 503.0h.8M139.2 489.7h.8M129.6 506.3h.8M138.5 498.6h.8M135.7 502.0h.8M134.3 493.7h.8M133.8 493.7h.8M132.7 505.6h.8M138.6 492.8h.8M129.7 505.7h.8M136.6 492.3h.8M140.0 491.4h.8M139.2 496.9h.8M138.5 490.4h.8M140.4 492.6h.8M129.4 505.6h.8M128.2 505.1h.8M128.2 505.2h.8M130.6 506.0h.8M128.6 504.7h.8M139.2 493.7h.8M133.0 504.8h.8M131.5 505.2h.8M136.9 491.9h.8M135.1 493.9h.8M130.8 497.0h.8M139.0 495.5h.8M138.2 490.4h.8M128.7 501.9h.8M135.6 502.6h.8M133.2 504.9h.8M129.1 499.3h.8M127.5 504.1h.8M129.6 505.5h.8M140.9 492.8h.8M137.6 490.2h.8M131.6 505.6h.8M134.5 504.1h.8M130.7 506.1h.8M129.3 499.1h.8M138.5 498.5h.8M138.4 497.4h.8M140.6 490.2h.8M136.6 501.7h.8M127.1 504.4h.8M136.7 501.6h.8M137.6 499.7h.8M137.7 499.7h.8M131.6 504.9h.8M139.8 490.4h.8M140.2 491.9h.8M130.3 498.8h.8M137.7 490.9h.8M131.2 496.7h.8M133.5 494.1h.8M131.8 496.7h.8M128.1 503.1h.8M133.0 494.3h.8M137.5 490.7h.8M128.1 501.1h.8M129.2 504.9h.8M139.2 497.1h.8M139.3 493.6h.8M137.5 491.4h.8M140.3 492.2h.8M128.7 504.7h.8M137.0 501.2h.8M138.3 499.3h.8M129.0 505.1h.8M139.9 491.7h.8M134.6 503.6h.8M128.1 505.9h.8M129.9 499.5h.8M134.6 493.9h.8M138.6 490.3h.8M139.6 493.4h.8M128.5 503.7h.8M135.1 503.3h.8M127.3 503.2h.8M137.2 492.2h.8M129.5 506.0h.8M134.8 503.4h.8M130.2 498.7h.8M136.4 492.4h.8M132.6 505.0h.8M128.5 501.4h.8M138.6 499.3h.8M133.9 494.5h.8M128.2 502.7h.8M138.4 491.2h.8M138.3 498.3h.8M137.3 500.7h.8M137.4 501.2h.8M136.9 491.6h.8M138.3 497.9h.8M128.7 499.5h.8" stroke="#3478c8" stroke-width=".8" fill="none"/>
<path d="M135.4 501.5h.8M137.1 494.2h.8M131.7 498.2h.8M137.2 493.9h.8M137.4 497.7h.8M137.2 494.1h.8M135.1 501.8h.8M133.8 495.7h.8M130.3 503.6h.8M137.1 493.1h.8M132.6 496.4h.8M130.0 500.9h.8M137.7 496.3h.8M129.4 501.0h.8M131.1 504.0h.8M136.4 493.8h.8M137.1 493.9h.8M138.6 495.4h.8M138.4 493.5h.8M130.1 500.2h.8M136.5 493.6h.8M129.6 500.1h.8M138.6 495.9h.8M137.5 498.9h.8M138.6 495.1h.8M135.1 494.7h.8M129.8 503.5h.8M138.5 496.2h.8M133.5 496.2h.8M134.0 495.0h.8M135.5 494.0h.8M136.8 498.8h.8M129.1 502.1h.8M130.7 504.8h.8M129.8 501.7h.8M138.0 493.5h.8M129.5 501.2h.8M132.5 497.6h.8M138.1 496.5h.8M138.5 496.8h.8M131.9 504.6h.8M131.7 504.3h.8M134.4 503.0h.8M133.7 496.1h.8M131.3 503.9h.8M132.5 503.8h.8M134.8 502.7h.8M137.5 498.6h.8M132.7 504.2h.8M129.3 500.6h.8M130.4 504.3h.8M135.7 494.2h.8M137.8 493.9h.8M133.1 496.2h.8M135.5 494.0h.8M129.8 500.1h.8M131.2 504.5h.8M137.9 493.9h.8M137.8 494.7h.8M137.4 493.7h.8M130.7 499.1h.8M138.2 493.5h.8M130.7 503.9h.8M137.1 498.4h.8M131.0 499.3h.8M137.4 492.6h.8M134.7 495.0h.8M133.5 503.1h.8M136.0 494.5h.8M136.1 493.4h.8M132.5 503.8h.8M133.4 503.5h.8M129.5 504.6h.8M130.5 504.2h.8M137.8 492.9h.8M137.5 497.2h.8M129.1 501.9h.8M136.6 500.1h.8M129.8 501.0h.8M137.9 494.4h.8M129.9 500.3h.8M134.6 495.1h.8M129.4 501.2h.8M134.9 494.9h.8M136.4 494.1h.8M129.1 502.0h.8M135.1 501.8h.8M132.4 503.9h.8M135.0 495.4h.8M129.1 502.8h.8M138.5 495.6h.8M134.2 494.9h.8M131.0 499.2h.8M134.9 502.5h.8M134.3 502.4h.8M132.4 497.0h.8M133.6 503.6h.8M131.7 504.2h.8M137.8 496.6h.8M135.0 502.4h.8M137.3 497.5h.8M132.3 503.9h.8M129.7 502.0h.8M131.1 504.6h.8M130.4 504.4h.8M138.2 492.9h.8M138.0 493.8h.8M129.6 501.6h.8M137.3 494.5h.8M132.7 496.6h.8M130.6 504.2h.8M131.7 498.4h.8M137.8 496.7h.8M135.0 495.3h.8M132.0 497.4h.8M137.5 493.4h.8M132.4 497.3h.8M138.1 497.6h.8M134.5 495.4h.8M134.7 495.5h.8M133.4 495.6h.8M130.8 498.6h.8M137.8 495.8h.8M137.5 494.1h.8M135.2 494.6h.8M131.8 504.6h.8M136.3 500.5h.8M137.9 495.6h.8M131.9 503.9h.8M136.4 499.6h.8M128.9 502.0h.8M134.9 502.4h.8M130.9 504.8h.8M129.9 504.7h.8M134.6 502.9h.8M130.6 503.9h.8M131.5 504.2h.8M135.6 501.8h.8M130.6 499.7h.8M134.2 503.1h.8M134.2 502.4h.8M137.9 496.0h.8M131.4 504.4h.8M132.2 504.4h.8M137.1 498.9h.8M130.1 504.6h.8M130.7 504.4h.8M130.2 500.5h.8M138.3 493.0h.8M135.8 494.4h.8M132.5 503.5h.8M135.1 502.1h.8M137.5 492.9h.8M134.0 503.4h.8M129.6 500.5h.8M134.4 495.4h.8M134.0 495.6h.8M134.0 503.4h.8M136.4 494.2h.8M131.4 498.7h.8M130.2 500.1h.8M137.9 493.4h.8M130.1 504.4h.8M137.4 492.7h.8M133.4 503.6h.8M138.1 494.5h.8M133.0 503.4h.8M137.6 494.3h.8M136.9 498.6h.8M129.8 504.2h.8M130.4 504.5h.8M132.9 503.8h.8M134.6 502.0h.8M135.9 501.2h.8M137.7 493.3h.8M130.3 504.4h.8M132.4 504.2h.8M135.6 501.7h.8M138.1 494.2h.8M132.3 504.1h.8M130.6 499.3h.8M133.2 504.1h.8M130.2 499.4h.8M133.3 503.7h.8M134.5 495.5h.8M132.0 503.9h.8M132.8 497.3h.8M137.1 498.6h.8M130.8 499.5h.8" stroke="#38a8b8" stroke-width=".8" fill="none"/>
<path d="M132.6 503.3h.8M130.1 501.8h.8M131.2 503.8h.8M129.9 502.4h.8M131.4 503.5h.8M129.8 502.6h.8M135.6 495.3h.8M134.9 495.8h.8M136.3 496.6h.8M137.2 495.9h.8M136.7 497.5h.8M133.5 502.7h.8M130.2 502.4h.8M130.6 501.1h.8M136.8 496.3h.8M136.5 496.6h.8M137.1 494.9h.8M130.7 500.2h.8M131.1 503.3h.8M135.6 500.6h.8M132.4 503.3h.8M131.0 503.1h.8M131.1 502.5h.8M134.7 501.4h.8M131.5 499.7h.8M130.5 502.3h.8M131.9 502.8h.8M131.3 502.6h.8M133.6 497.1h.8M137.3 496.7h.8M135.5 496.5h.8M130.7 502.3h.8M136.7 495.1h.8M135.1 496.1h.8M136.2 496.8h.8M133.2 502.5h.8M136.4 497.6h.8M135.8 498.8h.8M130.5 501.9h.8M130.8 500.6h.8M130.7 500.6h.8M136.2 495.7h.8M130.5 503.3h.8M133.4 502.7h.8M136.8 497.1h.8M134.8 496.2h.8M130.3 501.2h.8M135.9 495.0h.8M137.2 495.7h.8M130.1 502.2h.8M130.4 501.2h.8M130.4 502.7h.8M130.7 503.7h.8M129.8 501.9h.8M130.5 503.6h.8M133.4 497.3h.8M130.7 500.4h.8M133.9 497.2h.8M136.3 498.5h.8M137.4 495.1h.8M134.7 496.4h.8M131.9 503.0h.8M131.1 499.3h.8M132.9 497.4h.8M135.9 496.4h.8M135.2 496.2h.8M133.7 502.6h.8M130.9 502.9h.8M136.9 494.9h.8M132.3 498.1h.8M136.1 497.8h.8M134.2 501.5h.8M131.3 499.0h.8M132.2 502.9h.8M136.2 495.9h.8M132.4 503.0h.8M135.1 496.1h.8M132.6 503.4h.8M136.4 496.3h.8M130.0 502.7h.8M136.7 494.7h.8M135.2 500.9h.8M131.8 503.6h.8M136.1 498.1h.8M130.6 503.2h.8M130.5 502.8h.8M134.7 496.7h.8M136.0 495.5h.8M134.6 501.6h.8M131.6 498.7h.8M133.2 503.0h.8M134.5 501.5h.8M132.6 498.0h.8M137.0 495.8h.8M136.4 496.5h.8M131.8 503.1h.8M130.8 500.4h.8M130.2 501.2h.8M131.5 503.2h.8M130.5 501.1h.8M136.3 499.4h.8M134.6 500.9h.8M130.8 501.6h.8M133.1 502.7h.8M130.3 502.4h.8M136.2 495.9h.8M132.2 502.7h.8M130.9 501.1h.8M131.2 499.4h.8M131.6 503.6h.8M135.8 495.6h.8M133.4 502.9h.8M135.6 496.1h.8M133.7 496.9h.8M136.3 498.3h.8M131.4 503.6h.8M134.1 496.8h.8M131.8 503.1h.8M136.7 498.3h.8M132.7 497.7h.8M130.8 503.7h.8M137.1 497.7h.8M136.4 495.8h.8M136.3 495.8h.8M130.8 503.7h.8M133.4 502.4h.8M130.9 503.4h.8M130.2 503.0h.8M136.0 498.9h.8M134.4 501.9h.8M130.0 501.9h.8M132.3 503.3h.8M134.5 501.7h.8M130.5 503.3h.8M136.8 497.8h.8M135.5 499.6h.8M132.1 502.8h.8M131.3 499.5h.8M135.8 499.1h.8M136.2 498.7h.8M130.3 502.0h.8M134.3 501.8h.8M136.2 496.1h.8M135.2 499.8h.8M135.4 499.8h.8M136.0 499.4h.8M136.8 498.0h.8M130.3 502.2h.8" stroke="#70c050" stroke-width=".8" fill="none"/>
<path d="M133.2 502.1h.8M131.3 500.7h.8M133.1 502.2h.8M131.6 500.4h.8M132.1 499.5h.8M131.8 502.4h.8M134.7 500.3h.8M132.1 499.7h.8M132.1 502.2h.8M135.1 497.1h.8M133.9 501.0h.8M131.6 501.7h.8M133.1 498.7h.8M135.0 497.9h.8M135.1 497.4h.8M134.7 499.6h.8M131.7 502.1h.8M135.3 496.7h.8M131.4 502.5h.8M134.9 500.2h.8M134.8 497.2h.8M132.4 501.9h.8M135.4 499.4h.8M133.2 502.1h.8M133.2 501.5h.8M132.0 499.9h.8M132.0 502.1h.8M134.9 498.0h.8M131.7 502.1h.8M132.6 502.3h.8M134.4 500.5h.8M131.6 501.6h.8M136.0 497.8h.8M133.2 501.6h.8M135.1 497.3h.8M132.5 502.3h.8M131.8 499.7h.8M135.0 499.7h.8M134.9 499.0h.8M135.5 498.9h.8M135.2 499.2h.8M133.6 498.5h.8M133.3 501.9h.8M131.1 501.7h.8M135.7 498.7h.8M134.9 497.6h.8M133.9 497.8h.8M131.2 501.5h.8M131.4 500.2h.8M135.3 498.9h.8M134.6 500.2h.8M132.5 499.1h.8M133.3 501.4h.8M132.8 498.8h.8M132.3 502.0h.8M135.2 497.2h.8M131.2 501.7h.8M131.6 501.1h.8M132.6 502.2h.8M135.7 498.7h.8M135.8 498.1h.8M135.2 497.1h.8M131.0 501.9h.8M135.0 498.1h.8M135.9 497.9h.8M135.4 498.8h.8M132.1 500.0h.8M135.3 498.9h.8M132.2 502.2h.8M133.4 497.9h.8M134.4 500.5h.8M135.6 497.5h.8M135.3 496.9h.8M134.5 500.1h.8M134.6 497.0h.8M135.0 499.1h.8M134.1 497.9h.8" stroke="#c8d038" stroke-width=".8" fill="none"/>
<path d="M134.0 498.5h.8M134.7 499.0h.8M132.3 500.2h.8M132.0 501.5h.8M134.2 498.8h.8M134.8 499.2h.8M134.3 499.4h.8M134.0 498.2h.8M132.5 499.9h.8M134.8 498.9h.8M132.4 500.0h.8M132.0 501.1h.8M133.0 501.3h.8M132.7 499.4h.8M134.2 499.4h.8M134.0 498.5h.8M134.5 499.4h.8M134.3 498.7h.8M132.2 501.5h.8M133.8 498.6h.8M133.6 500.9h.8M134.8 498.4h.8M132.0 501.3h.8M133.1 501.4h.8M132.2 500.5h.8M132.4 499.8h.8M134.3 498.9h.8M134.2 499.7h.8M132.6 499.8h.8M131.8 500.9h.8M134.5 499.2h.8M134.7 498.6h.8M132.6 499.7h.8M132.8 499.3h.8M132.2 500.2h.8M133.1 501.4h.8M134.7 498.5h.8M132.8 499.5h.8M132.2 500.2h.8M134.9 498.7h.8M134.7 498.1h.8M133.3 501.1h.8M132.7 499.7h.8M132.5 500.0h.8M133.3 501.3h.8M134.3 498.9h.8" stroke="#e89028" stroke-width=".8" fill="none"/>
<path d="M133.2 500.5h.8M133.8 499.6h.8M134.1 499.0h.8M132.7 500.1h.8M133.9 500.1h.8M133.9 499.2h.8M132.8 500.0h.8M132.9 500.6h.8M132.6 500.5h.8M133.1 500.8h.8M132.4 501.0h.8M132.5 500.6h.8M132.8 500.2h.8M133.4 500.3h.8M134.0 499.5h.8M133.4 499.7h.8M133.1 500.8h.8M133.2 499.7h.8M132.5 500.2h.8M133.7 499.8h.8M133.6 500.2h.8M132.3 501.0h.8M132.6 501.1h.8M134.2 499.6h.8M133.1 499.7h.8" stroke="#e04020" stroke-width=".8" fill="none"/>
<path d="M343.6 482.1h.8M331.6 498.9h.8M305.6 506.4h.8M336.1 492.5h.8M324.8 510.7h.8M326.1 506.8h.8M302.1 504.8h.8M308.4 513.1h.8M306.5 504.2h.8M315.3 493.0h.8M317.4 491.0h.8M335.7 477.6h.8M333.5 486.2h.8M315.6 512.9h.8M325.9 506.1h.8M335.3 492.4h.8M351.6 478.2h.8M317.0 490.6h.8M335.3 488.5h.8M304.3 506.2h.8M330.8 485.6h.8M332.3 482.9h.8M318.4 512.4h.8M337.3 487.4h.8M338.2 488.3h.8M297.9 505.7h.8M347.7 485.5h.8M336.0 488.7h.8M336.0 485.8h.8M323.1 513.1h.8M326.7 507.4h.8M322.7 511.7h.8M317.7 513.4h.8M341.1 478.7h.8M339.3 489.6h.8M329.7 484.6h.8M319.8 490.7h.8M317.9 487.2h.8M307.7 512.6h.8M318.4 512.1h.8M330.5 485.7h.8M321.6 490.2h.8M319.6 512.0h.8M306.0 510.8h.8M317.5 513.1h.8M308.5 496.8h.8M328.7 485.0h.8M340.6 489.8h.8M306.9 507.4h.8M307.0 503.2h.8M324.0 508.3h.8M339.9 492.6h.8M328.6 510.8h.8M306.1 513.2h.8M320.9 485.3h.8M339.7 488.4h.8M308.3 505.2h.8M309.2 502.7h.8M308.9 501.1h.8M337.8 484.4h.8M336.8 471.2h.8M329.2 481.2h.8M336.4 480.7h.8M318.8 488.8h.8M320.2 513.2h.8M337.6 494.7h.8M329.3 484.7h.8M307.4 507.0h.8M331.3 509.2h.8M316.2 512.8h.8M333.1 484.9h.8M332.6 499.8h.8M320.8 485.6h.8M340.4 483.0h.8M317.7 492.0h.8M337.9 482.5h.8M332.6 502.6h.8M342.0 482.6h.8M334.3 478.6h.8M321.5 510.1h.8M328.6 485.7h.8M304.0 505.4h.8M308.0 503.0h.8M337.9 486.1h.8M313.6 496.3h.8M304.6 508.6h.8M303.1 512.2h.8M316.7 494.0h.8M337.8 487.1h.8M309.6 500.0h.8M307.0 504.9h.8M315.5 513.3h.8M330.1 504.9h.8M315.0 512.9h.8M321.3 489.0h.8M344.6 487.2h.8M309.7 500.1h.8M313.7 495.2h.8M313.9 495.6h.8M338.4 488.7h.8M330.6 485.1h.8M306.7 507.1h.8M338.2 482.3h.8M332.0 502.0h.8M337.8 481.3h.8M325.1 484.1h.8M328.8 485.8h.8M343.7 480.2h.8M335.5 488.7h.8M333.5 496.2h.8M325.2 488.1h.8M334.1 499.8h.8M307.4 503.9h.8M312.4 513.1h.8M328.2 480.5h.8M338.0 488.4h.8M336.1 485.2h.8M332.6 498.1h.8M340.0 487.4h.8M330.1 501.1h.8M340.1 483.8h.8M310.3 512.1h.8M331.0 503.8h.8M321.7 489.5h.8M306.7 508.8h.8M341.1 485.5h.8M333.0 497.5h.8M340.6 486.8h.8M339.3 491.3h.8M321.0 512.8h.8M331.0 506.7h.8M340.2 481.0h.8M310.8 499.6h.8M336.1 489.6h.8M318.0 491.4h.8M336.0 488.9h.8M341.1 488.1h.8M327.3 505.7h.8M337.6 486.1h.8M326.5 507.9h.8M306.4 509.1h.8M345.3 492.5h.8M309.2 501.4h.8M322.5 511.7h.8M325.8 509.2h.8M335.5 486.8h.8M336.3 493.4h.8M333.9 495.4h.8M335.0 499.2h.8M313.2 497.1h.8M335.6 499.7h.8M343.8 481.6h.8M309.1 502.5h.8M333.5 484.0h.8M308.1 510.9h.8M332.7 497.5h.8M325.4 510.6h.8M311.8 498.9h.8M307.6 499.1h.8M298.2 510.4h.8M308.0 506.5h.8M337.2 490.2h.8M335.4 484.1h.8M311.4 497.0h.8M320.6 490.4h.8M312.7 513.3h.8M321.5 512.8h.8M307.3 495.7h.8M321.9 511.0h.8M313.8 494.0h.8M320.3 512.9h.8M321.2 484.5h.8M308.5 503.1h.8M309.4 502.7h.8M340.6 494.1h.8M319.7 511.8h.8M324.3 511.2h.8M306.9 513.2h.8M326.2 508.2h.8M321.8 511.1h.8M320.9 490.7h.8M313.6 495.6h.8M343.3 478.1h.8M304.6 502.3h.8M308.2 506.0h.8M335.4 487.5h.8M306.7 507.0h.8M314.1 513.3h.8M325.5 510.3h.8M308.2 505.5h.8M324.3 488.1h.8M332.7 486.0h.8M314.1 513.4h.8M313.9 495.9h.8M308.4 511.5h.8M338.1 489.2h.8M335.6 484.1h.8M333.3 484.7h.8M317.8 489.5h.8M338.4 482.4h.8M334.5 479.8h.8M308.4 500.0h.8M308.6 504.4h.8M309.3 513.2h.8M302.7 509.8h.8M331.6 484.9h.8M336.0 484.0h.8M311.8 512.7h.8M336.2 487.6h.8M310.3 512.8h.8M316.3 491.7h.8M309.4 511.0h.8M308.0 509.5h.8M310.6 499.7h.8M322.5 488.2h.8M321.6 512.6h.8M335.9 488.6h.8M347.2 487.6h.8M323.9 486.2h.8M338.4 493.8h.8M334.6 494.2h.8M321.3 510.6h.8M316.5 494.1h.8M333.4 497.7h.8M319.7 489.7h.8M330.4 504.0h.8M319.5 491.5h.8M319.9 511.8h.8M324.3 510.9h.8M303.4 510.2h.8M306.3 505.6h.8M345.5 478.1h.8M328.8 505.7h.8M342.6 483.6h.8M320.6 489.2h.8M299.9 511.8h.8M338.0 485.8h.8M318.3 512.5h.8M306.8 505.2h.8M335.9 485.9h.8M320.5 490.2h.8M318.1 492.1h.8M344.9 482.7h.8M306.9 506.5h.8M337.3 475.5h.8M344.4 494.5h.8M310.9 513.0h.8M321.4 488.3h.8M336.2 485.9h.8M298.6 508.4h.8M310.9 497.2h.8M344.4 490.2h.8M323.6 513.0h.8M323.9 512.3h.8M326.8 507.2h.8M304.5 502.5h.8M334.2 498.3h.8M337.1 486.8h.8M310.7 497.5h.8M332.1 485.9h.8M338.6 485.6h.8M320.3 487.8h.8M311.5 497.4h.8M317.1 491.7h.8M319.9 511.4h.8M328.6 506.8h.8M328.8 503.9h.8M334.7 484.0h.8M335.6 492.1h.8M319.5 513.0h.8M307.4 506.7h.8M325.3 510.3h.8M327.6 505.6h.8M308.4 508.6h.8M336.2 490.4h.8M321.6 510.5h.8M305.1 510.8h.8M336.7 492.6h.8M349.9 477.9h.8M331.0 483.6h.8M324.9 487.4h.8M307.5 501.6h.8M305.0 512.5h.8M307.5 510.4h.8M336.9 491.4h.8M316.2 490.4h.8M331.8 478.1h.8M309.4 502.5h.8M311.1 500.1h.8M311.8 499.0h.8M307.7 503.3h.8M329.8 483.7h.8M304.3 507.0h.8M302.2 508.7h.8M330.3 501.0h.8M307.5 508.3h.8M329.1 484.5h.8M300.0 504.0h.8M307.1 513.1h.8M305.9 513.1h.8M324.1 507.9h.8M327.9 506.8h.8M336.2 494.3h.8M330.7 504.5h.8M304.7 507.3h.8M302.9 511.3h.8M333.3 473.9h.8M335.8 499.1h.8M334.2 498.8h.8M340.6 479.5h.8M326.5 477.7h.8M334.1 511.6h.8M323.3 508.5h.8M305.8 509.1h.8M331.4 500.2h.8M329.2 481.9h.8M307.9 497.2h.8M310.6 499.4h.8M339.3 486.2h.8M326.1 487.0h.8M328.8 485.8h.8M311.7 497.2h.8M310.7 495.5h.8M335.8 495.3h.8M308.4 505.6h.8M305.1 505.7h.8M334.9 486.1h.8M303.5 508.4h.8M314.8 490.5h.8M307.5 500.3h.8M333.4 499.5h.8M331.7 485.2h.8M306.4 511.6h.8M333.9 479.0h.8M337.0 486.2h.8M329.8 501.3h.8M304.1 507.8h.8M296.2 499.7h.8M300.5 499.2h.8M306.6 506.3h.8M312.7 506.0h.8M292.8 504.8h.8M299.3 500.0h.8M313.7 496.9h.8M306.1 499.8h.8M294.6 500.8h.8M298.1 502.2h.8M290.9 505.5h.8M293.0 506.0h.8M277.2 512.6h.8M291.8 501.4h.8M288.1 504.4h.8M287.7 502.9h.8M314.3 500.7h.8M297.6 509.7h.8M308.0 496.6h.8M311.3 508.6h.8M296.7 503.5h.8M276.1 510.0h.8M293.4 502.2h.8M309.9 496.8h.8M296.7 502.3h.8M307.9 507.2h.8M289.5 509.2h.8M309.0 497.3h.8M290.9 508.5h.8M296.5 501.1h.8M308.6 499.5h.8M290.0 505.7h.8M289.1 506.4h.8M307.0 497.6h.8M302.9 509.7h.8M304.2 500.3h.8M299.5 509.0h.8M292.9 499.5h.8M295.0 504.1h.8M295.5 504.5h.8M303.6 512.7h.8M301.0 508.4h.8M316.2 494.7h.8M313.3 505.6h.8M296.7 500.8h.8M297.2 506.1h.8M309.4 504.4h.8M300.7 511.3h.8M301.2 501.2h.8M306.6 509.2h.8M293.5 502.8h.8M295.1 506.5h.8M296.5 501.7h.8M299.7 498.2h.8M311.6 497.4h.8M283.5 507.2h.8M300.7 508.5h.8M300.4 498.7h.8M286.5 506.0h.8M298.5 493.3h.8M323.5 501.4h.8M297.0 503.0h.8M286.5 505.2h.8M303.0 493.8h.8M288.1 509.7h.8M295.4 508.6h.8M306.7 501.9h.8M288.6 503.9h.8M308.3 502.1h.8M298.3 498.7h.8M289.6 505.1h.8M310.9 506.2h.8M293.6 504.0h.8M298.5 509.0h.8M297.4 508.2h.8M301.8 506.1h.8M305.7 506.0h.8M307.8 506.2h.8M297.1 507.1h.8M310.5 499.6h.8M296.0 505.1h.8M314.1 506.8h.8M316.0 494.5h.8M309.0 502.9h.8M285.7 504.7h.8M314.7 497.7h.8M312.8 500.3h.8M309.9 500.3h.8M300.1 508.3h.8M296.8 502.5h.8M306.9 500.5h.8M302.7 500.6h.8M305.4 500.9h.8M301.5 506.6h.8M304.8 507.4h.8M300.4 509.7h.8M292.2 501.5h.8M316.3 498.1h.8M300.0 512.2h.8M298.4 502.5h.8M301.9 505.8h.8M307.5 504.3h.8M296.4 498.3h.8M312.5 498.0h.8M291.9 502.9h.8M304.0 500.4h.8M311.9 505.1h.8M305.6 501.0h.8M298.6 499.8h.8M291.7 497.8h.8M309.5 499.4h.8M291.6 510.7h.8M288.8 505.9h.8M305.1 500.1h.8M282.4 510.4h.8M306.7 503.4h.8M310.7 501.3h.8M310.6 496.3h.8M276.2 512.0h.8M311.4 496.0h.8M308.0 496.5h.8M313.5 503.7h.8M297.4 507.8h.8M298.1 501.0h.8M305.6 501.6h.8M300.6 495.5h.8M307.7 503.6h.8M306.3 503.0h.8M302.1 509.0h.8M294.0 511.3h.8M282.3 508.0h.8M300.9 509.5h.8M301.6 497.0h.8M288.1 504.9h.8M308.5 508.1h.8M296.8 500.9h.8M303.6 512.9h.8M308.0 500.1h.8M319.3 498.6h.8M292.7 505.7h.8M303.7 510.4h.8M320.1 497.8h.8M308.4 500.3h.8M301.7 501.2h.8M313.5 497.3h.8M297.5 501.5h.8M308.5 504.1h.8M298.1 507.4h.8M298.6 507.9h.8M323.5 493.8h.8M303.1 508.1h.8M308.2 497.7h.8M287.9 508.1h.8M312.2 498.8h.8M315.8 502.0h.8M299.2 506.2h.8M293.2 509.7h.8M300.6 495.7h.8M281.7 507.1h.8M300.5 506.5h.8M285.1 503.0h.8M310.2 502.9h.8M294.5 505.0h.8M294.7 512.2h.8M291.5 500.1h.8M287.7 506.9h.8M301.5 508.7h.8M309.3 493.0h.8M306.9 501.4h.8M310.1 497.8h.8M276.6 507.1h.8M308.6 501.5h.8M305.6 505.7h.8M294.4 505.7h.8M297.5 498.7h.8M311.9 500.9h.8M308.6 502.9h.8M288.5 506.4h.8M299.9 501.6h.8M302.0 499.2h.8M312.8 505.6h.8M279.5 510.5h.8M308.9 507.1h.8M290.9 501.7h.8M296.5 501.9h.8M307.3 508.2h.8M307.1 505.3h.8M299.3 508.9h.8M299.7 499.9h.8M312.1 496.5h.8M299.2 509.7h.8M322.1 494.6h.8M311.0 501.4h.8M304.6 508.7h.8M287.5 503.2h.8M295.5 500.5h.8M300.2 506.0h.8M297.6 505.5h.8M305.8 506.5h.8M309.2 504.0h.8M293.3 503.2h.8M286.3 505.0h.8M299.2 505.8h.8M305.4 499.8h.8M295.2 504.6h.8M308.0 503.6h.8M307.8 503.5h.8M316.6 499.1h.8M291.1 510.5h.8M289.7 503.2h.8M308.2 502.0h.8M295.8 498.2h.8M310.9 498.1h.8M287.2 508.4h.8M287.7 507.7h.8M313.2 496.1h.8M288.2 507.9h.8M303.7 507.4h.8M311.2 505.6h.8M300.8 511.6h.8M297.1 501.8h.8M291.3 506.0h.8M304.2 497.8h.8M293.5 507.1h.8M308.5 503.6h.8M290.4 499.7h.8M306.3 508.3h.8M314.0 501.7h.8M310.7 499.4h.8M290.5 505.7h.8M324.1 499.3h.8M300.3 510.6h.8M310.4 501.2h.8M295.2 504.5h.8M316.9 509.3h.8M311.3 502.4h.8M305.3 497.1h.8M290.3 506.8h.8M304.4 493.4h.8M314.8 505.6h.8M312.2 508.6h.8M301.9 497.0h.8M296.5 503.3h.8M300.5 508.1h.8M300.8 499.2h.8M291.3 503.3h.8M304.6 509.1h.8M299.4 500.6h.8M302.6 494.2h.8M307.6 502.3h.8M293.7 502.2h.8M309.6 498.0h.8M298.8 506.3h.8M297.1 499.3h.8M300.5 511.1h.8M301.3 501.2h.8M310.6 502.1h.8M298.5 508.5h.8M293.9 509.6h.8M307.4 507.9h.8M303.1 505.5h.8M278.1 506.2h.8M285.4 504.7h.8M294.5 506.2h.8M293.3 510.5h.8M296.4 506.9h.8M291.2 505.3h.8M300.3 500.8h.8M302.1 508.2h.8M293.6 502.8h.8M293.9 509.0h.8M294.7 513.1h.8M289.8 505.9h.8M305.8 500.4h.8M304.7 499.4h.8M298.7 510.1h.8M302.2 501.2h.8M294.2 500.0h.8M310.1 497.5h.8M307.9 502.9h.8M302.2 498.5h.8M305.3 504.6h.8M309.3 500.2h.8M298.6 506.7h.8M307.3 499.7h.8M294.6 503.1h.8M295.7 508.1h.8M299.1 501.9h.8M288.2 511.0h.8M305.8 504.8h.8M298.9 507.2h.8M303.7 506.8h.8M303.6 510.7h.8M311.0 496.0h.8M307.5 502.8h.8M293.0 511.8h.8M312.7 499.3h.8M297.3 500.6h.8M304.8 499.4h.8M307.3 503.9h.8M297.3 502.8h.8M295.3 502.1h.8M289.4 507.4h.8M272.5 509.9h.8M310.3 505.4h.8M299.6 507.1h.8M307.5 501.5h.8M309.5 503.0h.8M294.1 505.0h.8M311.6 500.4h.8M313.6 497.3h.8M304.8 500.1h.8M294.4 502.8h.8M318.8 496.3h.8M276.0 503.2h.8M305.4 497.5h.8M307.7 504.8h.8M302.5 506.2h.8M300.9 505.9h.8M313.8 507.4h.8M299.8 501.2h.8M300.8 506.9h.8M294.9 507.4h.8M312.3 503.1h.8M309.3 504.9h.8M287.7 510.0h.8M310.8 506.1h.8M289.4 504.4h.8M302.0 505.9h.8M309.0 498.1h.8M299.8 497.9h.8M313.7 500.0h.8M304.8 499.7h.8M308.5 498.2h.8M310.0 505.3h.8M305.4 495.1h.8M310.0 502.0h.8M312.6 501.9h.8M311.2 492.5h.8M306.1 495.1h.8M301.6 512.0h.8M298.2 506.5h.8M296.7 501.9h.8M304.4 506.6h.8M304.2 499.4h.8M312.5 501.7h.8M299.8 498.9h.8M306.4 502.3h.8M307.1 500.9h.8M284.9 511.6h.8M296.2 513.2h.8M299.4 506.2h.8M291.6 508.6h.8M297.6 507.1h.8M292.9 506.9h.8M302.1 505.4h.8M298.7 512.5h.8M295.3 503.7h.8M301.1 500.4h.8M294.5 508.4h.8M305.0 498.9h.8M302.1 500.8h.8M291.6 501.7h.8M295.3 504.1h.8M306.9 501.8h.8M292.0 509.0h.8M302.1 500.2h.8M294.0 508.2h.8M298.4 499.6h.8M307.2 499.0h.8M297.7 502.7h.8M283.4 504.1h.8M307.8 505.7h.8M307.5 507.5h.8M295.4 504.8h.8M298.8 500.5h.8M309.2 498.5h.8M288.1 506.8h.8" stroke="#2838a0" stroke-width=".8" fill="none"/>
<path d="M315.7 511.2h.8M331.7 492.2h.8M312.5 510.2h.8M324.5 507.2h.8M311.3 508.2h.8M334.9 489.2h.8M318.2 510.3h.8M330.4 500.5h.8M308.6 507.9h.8M321.5 491.3h.8M320.4 491.9h.8M332.6 496.5h.8M330.7 489.7h.8M327.6 488.5h.8M314.6 498.1h.8M311.7 501.0h.8M332.9 487.3h.8M330.8 498.7h.8M318.1 494.9h.8M319.5 494.0h.8M309.2 507.9h.8M332.2 493.4h.8M319.2 510.8h.8M325.5 490.6h.8M323.5 507.4h.8M316.6 495.8h.8M309.4 506.5h.8M333.2 489.5h.8M322.4 507.8h.8M323.0 507.0h.8M324.2 490.4h.8M310.1 510.4h.8M331.0 489.9h.8M311.7 500.9h.8M311.6 509.0h.8M327.4 502.8h.8M309.8 508.3h.8M319.8 492.5h.8M328.2 501.8h.8M312.6 500.1h.8M312.7 499.6h.8M310.5 509.4h.8M315.3 511.1h.8M333.5 489.5h.8M310.1 505.0h.8M327.5 501.6h.8M315.9 495.4h.8M320.9 509.5h.8M330.2 489.7h.8M314.1 511.8h.8M317.4 510.1h.8M331.6 494.6h.8M312.0 502.4h.8M326.0 505.3h.8M321.4 492.2h.8M316.0 511.8h.8M333.2 494.7h.8M323.1 491.1h.8M318.5 493.2h.8M331.1 496.4h.8M330.3 487.4h.8M324.2 490.3h.8M325.8 504.0h.8M312.5 511.1h.8M326.4 490.1h.8M328.7 487.6h.8M311.5 501.0h.8M332.7 492.9h.8M333.1 487.8h.8M334.3 487.2h.8M312.6 511.0h.8M330.2 488.8h.8M312.5 509.7h.8M332.1 490.7h.8M327.7 502.7h.8M322.0 491.9h.8M333.1 486.8h.8M333.2 489.5h.8M331.6 491.2h.8M313.3 512.3h.8M314.1 497.0h.8M309.7 509.4h.8M313.8 510.4h.8M323.6 507.3h.8M315.2 511.5h.8M323.7 490.0h.8M331.9 494.0h.8M309.6 506.5h.8M319.2 510.7h.8M332.0 496.0h.8M312.9 512.9h.8M311.7 509.9h.8M330.6 497.4h.8M319.0 492.8h.8M312.5 500.9h.8M324.9 490.3h.8M316.3 496.1h.8M319.2 494.4h.8M317.2 512.2h.8M333.9 488.6h.8M329.6 488.2h.8M332.1 492.9h.8M309.5 506.9h.8M333.6 492.0h.8M333.8 490.2h.8M331.8 487.0h.8M314.2 499.2h.8M331.2 499.1h.8M320.9 491.9h.8M316.1 512.4h.8M314.5 498.7h.8M309.0 507.7h.8M310.2 509.5h.8M334.6 487.0h.8M332.2 492.6h.8M333.6 490.3h.8M309.4 505.4h.8M325.1 488.8h.8M312.1 500.2h.8M332.3 490.8h.8M333.5 489.3h.8M316.1 511.0h.8M318.3 493.2h.8M331.2 489.2h.8M327.2 488.3h.8M319.2 510.5h.8M321.5 507.9h.8M317.3 494.7h.8M332.4 491.4h.8M328.0 501.0h.8M310.1 509.8h.8M333.1 490.3h.8M312.1 511.4h.8M315.9 496.4h.8M309.8 504.9h.8M324.0 490.8h.8M325.7 490.2h.8M314.9 511.5h.8M310.1 509.4h.8M313.4 499.0h.8M310.4 510.2h.8M322.5 508.4h.8M330.6 487.5h.8M322.2 490.6h.8M312.6 498.9h.8M322.8 508.3h.8M324.5 489.9h.8M310.8 507.3h.8M311.8 511.3h.8M321.1 492.3h.8M323.2 491.8h.8M315.9 511.2h.8M332.4 490.3h.8M314.7 498.1h.8M334.8 489.4h.8M317.8 495.1h.8M315.1 512.5h.8M312.4 501.8h.8M322.3 508.8h.8M326.9 488.2h.8M311.6 509.3h.8M315.0 510.7h.8M312.1 511.2h.8M333.7 489.4h.8M314.4 497.4h.8M334.1 489.4h.8M323.2 491.9h.8M333.2 492.7h.8M312.1 509.4h.8M310.5 509.8h.8M331.4 496.0h.8M317.4 511.6h.8M326.5 504.7h.8M312.1 501.1h.8M315.9 497.0h.8M330.5 490.2h.8M310.3 505.8h.8M311.8 501.9h.8M316.7 511.9h.8M320.5 492.0h.8M323.8 491.2h.8M309.0 504.6h.8M317.3 494.4h.8M312.0 509.6h.8M311.1 510.4h.8M311.5 511.7h.8M309.4 509.8h.8M327.0 503.7h.8M316.0 511.1h.8M323.6 505.8h.8M315.0 496.5h.8M311.0 507.3h.8M308.9 506.8h.8M333.5 490.0h.8M310.5 503.8h.8M310.4 503.2h.8M331.4 495.8h.8M322.4 508.9h.8M312.2 509.9h.8M319.4 510.3h.8M328.8 500.8h.8M323.5 507.2h.8M314.6 498.1h.8M331.3 495.4h.8M310.1 511.4h.8M310.1 506.3h.8M320.3 508.9h.8M313.2 510.5h.8M310.7 506.1h.8M329.4 488.4h.8M333.8 487.9h.8M312.8 510.7h.8M331.4 491.5h.8M331.8 495.3h.8M332.2 494.3h.8M322.4 508.2h.8M310.9 508.2h.8M333.0 491.0h.8M323.0 491.5h.8M326.1 490.2h.8M334.0 492.9h.8M314.2 511.8h.8M318.2 511.0h.8M320.2 493.0h.8M312.8 511.2h.8M329.7 489.0h.8M309.8 506.0h.8M309.3 504.2h.8M312.1 510.0h.8M324.3 491.3h.8M325.1 506.4h.8M332.7 491.1h.8M326.6 488.3h.8M324.1 507.7h.8M314.8 498.6h.8M329.6 501.1h.8M309.9 504.8h.8M331.1 488.3h.8M319.2 510.0h.8M331.0 489.8h.8M308.6 507.0h.8M313.3 499.2h.8M331.3 486.6h.8M330.3 486.4h.8M334.3 491.2h.8M319.1 511.1h.8M315.6 512.1h.8M311.2 504.5h.8M311.9 511.3h.8M311.0 509.7h.8M331.8 486.7h.8M310.0 504.4h.8M328.1 501.5h.8M312.9 500.8h.8M328.5 500.0h.8M319.5 493.9h.8M311.3 509.7h.8M330.2 497.4h.8M322.7 490.0h.8M327.0 504.5h.8M331.8 489.9h.8M314.2 510.7h.8M322.7 508.3h.8M314.5 498.3h.8M314.6 510.6h.8M321.8 508.0h.8M311.9 502.5h.8M323.0 507.6h.8M326.4 503.9h.8M310.0 509.1h.8M314.6 512.4h.8M311.0 508.7h.8M330.1 487.2h.8M330.6 496.2h.8M317.5 495.9h.8M333.3 487.5h.8M326.4 503.0h.8M310.1 503.4h.8M334.0 491.6h.8M332.8 488.6h.8M309.8 505.1h.8M332.2 492.4h.8M310.8 511.1h.8M311.2 508.6h.8M309.5 503.5h.8M333.8 486.7h.8M329.6 486.8h.8M333.4 491.5h.8M332.8 489.6h.8M328.9 500.8h.8M329.6 498.5h.8M313.7 512.8h.8M319.6 493.6h.8M316.2 495.1h.8M326.0 489.5h.8M328.7 500.9h.8M328.3 501.5h.8M329.1 486.7h.8M332.2 491.0h.8M316.7 510.4h.8M312.0 509.6h.8M327.2 501.8h.8M317.8 495.4h.8M320.8 508.3h.8M313.6 499.9h.8M309.1 506.1h.8M323.4 507.0h.8M317.5 496.0h.8M310.5 511.1h.8M334.2 492.3h.8M318.3 494.3h.8M331.9 488.2h.8M334.7 492.7h.8M331.2 495.8h.8M313.8 512.0h.8M310.1 511.2h.8M311.1 510.5h.8M333.1 489.9h.8M328.3 502.1h.8M309.6 503.6h.8M329.6 498.6h.8M329.4 488.9h.8M318.1 510.7h.8M319.8 508.9h.8M321.6 508.2h.8M334.0 487.3h.8M301.8 502.0h.8M302.2 504.6h.8M302.2 502.8h.8M301.8 504.9h.8M298.1 505.3h.8M304.0 502.7h.8M297.9 505.0h.8M301.3 504.1h.8M298.6 504.5h.8M305.5 503.5h.8M301.3 505.3h.8M299.3 503.5h.8M303.0 504.0h.8M298.2 503.4h.8M304.2 504.0h.8M304.2 501.8h.8M303.2 503.7h.8M300.8 502.7h.8M299.9 505.4h.8M304.7 503.1h.8M302.9 502.7h.8M303.5 503.8h.8M304.9 502.4h.8M304.1 501.2h.8M299.7 503.0h.8M300.9 502.3h.8M303.3 501.7h.8M302.4 503.5h.8M304.0 502.5h.8M302.1 503.2h.8M301.5 504.6h.8M301.4 503.3h.8M302.3 502.0h.8M301.3 502.9h.8M299.9 503.4h.8M301.5 501.9h.8M299.4 505.0h.8M298.7 505.4h.8M303.7 503.4h.8M300.7 503.0h.8M297.9 503.7h.8M305.9 503.1h.8M300.3 504.2h.8M304.9 502.0h.8M304.3 503.9h.8M298.2 502.9h.8M304.5 503.4h.8M303.6 504.2h.8M300.7 504.7h.8M306.2 502.6h.8M299.8 502.7h.8M297.8 503.3h.8M303.2 504.4h.8M300.1 504.9h.8M297.5 503.4h.8M300.8 504.2h.8M298.0 505.2h.8M302.2 502.2h.8M303.4 502.9h.8M304.0 502.9h.8M302.6 504.2h.8M304.2 501.3h.8M301.5 503.5h.8M297.9 504.9h.8M300.3 505.3h.8" stroke="#3050b8" stroke-width=".8" fill="none"/>
<path d="M312.5 506.2h.8M329.8 495.9h.8M321.6 507.2h.8M312.3 509.3h.8M325.7 490.8h.8M327.3 492.8h.8M326.9 493.1h.8M323.7 493.9h.8M328.6 491.4h.8M325.3 491.9h.8M315.8 508.9h.8M316.5 509.1h.8M316.6 497.7h.8M311.0 506.7h.8M313.2 509.1h.8M311.2 507.0h.8M311.0 506.5h.8M324.9 502.4h.8M328.6 493.5h.8M329.1 491.6h.8M311.5 505.9h.8M311.8 505.0h.8M322.5 505.4h.8M321.7 507.3h.8M312.3 503.5h.8M313.3 509.4h.8M322.4 493.7h.8M311.1 507.3h.8M326.3 490.6h.8M329.7 496.2h.8M320.5 507.2h.8M320.3 494.0h.8M312.9 507.8h.8M320.8 507.7h.8M328.1 494.7h.8M329.5 491.4h.8M314.7 509.7h.8M324.3 503.5h.8M321.2 494.8h.8M328.6 494.1h.8M314.4 508.6h.8M318.4 508.3h.8M317.6 508.6h.8M313.0 504.2h.8M313.1 504.0h.8M330.9 494.0h.8M319.1 507.7h.8M328.5 494.5h.8M313.4 503.1h.8M323.2 505.1h.8M326.6 500.4h.8M315.6 499.0h.8M316.0 499.4h.8M317.0 508.2h.8M327.8 499.1h.8M316.7 508.8h.8M328.7 492.9h.8M312.5 507.0h.8M324.2 493.5h.8M315.9 498.1h.8M327.7 500.8h.8M323.2 492.3h.8M321.4 507.6h.8M312.1 506.4h.8M320.6 507.8h.8M312.2 505.6h.8M321.4 507.1h.8M311.1 505.3h.8M324.8 503.5h.8M313.2 506.6h.8M319.5 495.0h.8M319.4 495.1h.8M321.1 506.2h.8M312.3 506.7h.8M318.0 509.5h.8M320.7 508.2h.8M312.1 504.9h.8M329.0 493.6h.8M313.0 507.4h.8M320.6 507.1h.8M312.4 509.5h.8M313.5 503.2h.8M330.5 495.7h.8M312.2 506.5h.8M328.7 496.7h.8M328.7 492.5h.8M323.6 492.8h.8M312.9 506.9h.8M313.3 508.8h.8M323.0 494.0h.8M311.8 507.0h.8M322.7 505.5h.8M329.0 493.7h.8M320.1 507.1h.8M324.5 502.6h.8M318.3 508.5h.8M325.6 502.0h.8M328.6 495.0h.8M316.3 509.0h.8M329.8 495.0h.8M329.3 490.7h.8M312.6 502.2h.8M311.6 505.7h.8M326.9 501.9h.8M318.3 496.6h.8M326.7 493.2h.8M317.0 508.4h.8M319.8 495.2h.8M325.9 500.6h.8M312.4 504.3h.8M312.5 507.0h.8M313.1 502.9h.8M316.3 497.2h.8M311.5 506.1h.8M314.7 510.4h.8M328.2 499.7h.8M329.5 492.6h.8M327.5 500.7h.8M317.1 508.8h.8M326.9 492.7h.8M329.9 492.7h.8M327.7 492.9h.8M323.3 505.5h.8M325.5 491.3h.8M316.8 508.4h.8M329.2 492.3h.8M323.5 492.5h.8M316.3 509.8h.8M321.3 507.8h.8M327.8 498.1h.8M328.2 498.7h.8M312.3 507.3h.8M325.7 501.9h.8M313.9 508.6h.8M312.2 504.8h.8M320.2 494.3h.8M317.8 496.4h.8M313.1 509.5h.8M327.8 492.0h.8M325.6 491.6h.8M317.4 508.7h.8M324.3 504.5h.8M316.0 509.2h.8M325.0 501.9h.8M312.1 505.5h.8M328.0 497.2h.8M328.1 496.2h.8M314.3 510.2h.8M312.6 506.2h.8M311.8 505.9h.8M329.7 490.7h.8M323.9 503.9h.8M324.9 492.5h.8M312.3 505.9h.8M327.0 491.3h.8M326.0 501.5h.8M329.5 495.4h.8M328.6 493.4h.8M313.4 500.9h.8M323.3 504.0h.8M330.2 493.8h.8M328.3 491.9h.8M319.7 508.9h.8M315.5 509.3h.8M315.1 508.3h.8M315.4 509.7h.8M313.2 506.5h.8M312.4 504.4h.8M316.1 498.6h.8M311.4 505.8h.8M320.9 507.5h.8M324.6 503.4h.8M312.4 505.8h.8M328.3 492.1h.8M312.2 503.2h.8M323.8 493.3h.8M316.9 509.6h.8M313.4 501.6h.8M327.2 493.1h.8M326.7 490.8h.8M330.2 493.4h.8M316.0 508.5h.8M312.4 505.7h.8M315.0 498.8h.8M311.6 507.5h.8M314.0 508.3h.8M327.2 498.7h.8M319.3 507.5h.8M313.0 508.8h.8M323.9 504.6h.8M328.1 495.1h.8M330.4 491.1h.8M320.8 507.2h.8M329.4 493.1h.8M320.0 508.1h.8M329.3 493.6h.8M330.5 490.4h.8M329.6 495.8h.8M323.3 504.5h.8M313.6 502.3h.8M312.7 508.5h.8M312.1 506.5h.8M313.8 509.1h.8M312.5 506.9h.8M325.6 501.3h.8M312.2 505.6h.8M313.6 502.3h.8M321.2 494.1h.8M321.7 507.3h.8M326.6 491.1h.8M316.4 498.1h.8M311.4 505.4h.8M328.8 493.2h.8M324.8 492.5h.8M330.5 491.7h.8M311.6 508.6h.8M329.7 496.7h.8M320.6 494.7h.8M321.7 495.0h.8M315.5 499.6h.8M311.6 505.7h.8M316.6 509.5h.8M322.4 492.5h.8M315.3 508.2h.8M317.5 508.3h.8M317.8 508.0h.8M312.3 503.7h.8M318.5 496.6h.8M330.2 496.5h.8M320.1 494.6h.8M327.2 498.9h.8M316.9 498.2h.8M330.2 492.6h.8M315.1 509.8h.8M320.9 507.8h.8M328.6 494.8h.8M314.0 502.0h.8M314.2 501.7h.8M325.8 490.9h.8M329.5 495.9h.8M312.3 505.9h.8M328.1 499.8h.8M323.6 492.2h.8M329.4 495.9h.8M323.6 493.8h.8M312.9 505.0h.8M328.1 493.7h.8M312.9 502.8h.8M328.3 499.0h.8M315.4 508.9h.8M320.4 494.7h.8M317.6 496.4h.8M319.4 508.0h.8M315.7 510.0h.8M328.8 492.9h.8M312.8 508.6h.8M325.7 493.0h.8M326.5 491.0h.8M324.8 502.9h.8M312.0 508.8h.8M315.0 508.5h.8M327.6 493.5h.8M328.5 499.3h.8M313.2 501.4h.8M328.6 491.5h.8M318.3 495.8h.8M312.6 509.5h.8M324.6 503.6h.8M319.4 508.8h.8M313.9 509.2h.8M325.9 492.9h.8M327.0 491.6h.8M328.7 491.4h.8M320.6 494.6h.8M328.9 491.8h.8M312.9 506.9h.8M329.3 490.9h.8M329.2 492.6h.8M314.5 500.7h.8M321.6 507.3h.8M331.1 491.5h.8M325.9 502.5h.8M315.7 509.6h.8M311.7 504.6h.8M313.1 503.7h.8M320.3 495.9h.8M313.2 507.4h.8M316.2 510.1h.8M328.1 494.2h.8M312.0 504.4h.8M312.2 507.1h.8M329.6 495.2h.8" stroke="#3478c8" stroke-width=".8" fill="none"/>
<path d="M319.1 507.2h.8M313.9 505.7h.8M313.5 506.6h.8M317.7 498.1h.8M326.8 497.4h.8M327.5 496.9h.8M315.5 501.8h.8M318.5 507.1h.8M325.3 500.0h.8M326.0 494.7h.8M314.6 506.0h.8M318.8 507.4h.8M326.8 495.8h.8M320.3 505.9h.8M320.7 505.5h.8M317.5 499.4h.8M317.1 507.7h.8M324.0 494.1h.8M324.8 494.2h.8M323.7 502.6h.8M315.6 501.3h.8M314.4 506.6h.8M315.6 501.3h.8M320.5 505.8h.8M314.0 505.4h.8M314.5 502.5h.8M313.8 506.4h.8M325.2 501.2h.8M315.3 501.7h.8M314.4 505.7h.8M313.6 505.8h.8M328.0 495.9h.8M323.3 495.3h.8M323.2 502.7h.8M315.6 507.0h.8M321.6 495.2h.8M321.4 496.6h.8M316.7 499.8h.8M325.0 493.8h.8M322.7 495.8h.8M324.6 495.3h.8M317.9 506.7h.8M313.7 503.9h.8M314.0 506.5h.8M313.8 506.4h.8M320.1 506.3h.8M320.1 506.2h.8M325.9 498.0h.8M314.3 506.3h.8M315.9 508.0h.8M325.1 499.8h.8M315.6 501.7h.8M325.6 500.5h.8M319.0 497.1h.8M314.9 502.0h.8M321.5 495.5h.8M317.4 499.5h.8M318.2 498.6h.8M322.1 494.8h.8M319.2 507.0h.8M314.4 507.0h.8M316.2 507.3h.8M313.8 505.2h.8M316.5 507.0h.8M314.0 506.3h.8M320.6 505.4h.8M316.7 507.2h.8M321.7 496.3h.8M323.9 502.6h.8M314.0 506.8h.8M321.3 495.6h.8M322.6 503.5h.8M322.0 504.0h.8M314.9 507.8h.8M314.9 506.6h.8M323.0 495.5h.8M314.9 502.5h.8M323.8 494.3h.8M313.5 504.1h.8M321.2 496.0h.8M316.1 500.4h.8M324.8 501.8h.8M324.3 502.2h.8M315.9 508.1h.8M320.8 496.8h.8M319.4 506.2h.8M315.2 507.8h.8M316.2 499.9h.8M314.5 502.1h.8M326.2 493.5h.8M314.3 504.8h.8M325.8 494.7h.8M314.2 504.7h.8M326.0 494.3h.8M317.0 499.5h.8M318.3 507.3h.8M323.1 503.1h.8M319.5 497.7h.8M318.5 507.3h.8M314.1 502.6h.8M313.5 506.8h.8M315.2 507.3h.8M322.7 504.1h.8M326.7 497.9h.8M316.8 507.1h.8M323.0 494.8h.8M324.3 495.5h.8M318.5 498.0h.8M316.7 499.7h.8M326.8 496.0h.8M318.4 506.6h.8M324.5 501.4h.8M322.6 503.8h.8M325.4 500.2h.8M325.3 498.9h.8M324.9 500.9h.8M324.1 502.1h.8M314.0 503.8h.8M323.2 494.4h.8M314.5 506.9h.8M316.1 500.3h.8M315.6 501.4h.8M325.1 500.0h.8M314.7 507.3h.8M322.2 495.3h.8M318.0 506.8h.8M314.1 503.2h.8M315.0 508.1h.8M325.8 498.1h.8M322.6 495.9h.8M325.3 494.9h.8M320.4 505.7h.8M324.2 501.6h.8M313.5 506.1h.8M317.3 507.8h.8M321.8 495.6h.8M321.8 504.4h.8M316.4 499.9h.8M314.9 501.5h.8M315.8 507.4h.8M323.3 503.4h.8M315.0 501.5h.8M315.4 507.6h.8M319.5 506.9h.8M318.7 506.7h.8M320.5 505.2h.8M321.4 505.4h.8M318.8 497.5h.8M321.0 496.1h.8M316.4 508.1h.8M313.9 507.0h.8M316.4 500.6h.8M324.7 500.4h.8M324.6 501.7h.8M320.2 505.7h.8M319.0 497.3h.8M316.6 508.0h.8M322.9 494.9h.8M322.4 503.8h.8M327.3 497.9h.8M318.0 507.2h.8M326.7 494.4h.8M313.3 505.1h.8M327.5 497.4h.8M324.9 500.5h.8M322.8 503.4h.8M315.4 501.3h.8M325.7 494.1h.8M326.4 497.1h.8M319.9 505.9h.8M319.5 507.1h.8M325.9 496.0h.8M317.8 507.0h.8M318.1 506.8h.8M323.4 502.4h.8M315.1 506.9h.8M314.7 506.6h.8M315.8 508.1h.8M326.7 494.2h.8M323.0 503.4h.8M324.7 500.6h.8M314.6 501.3h.8M314.0 504.7h.8M314.5 505.8h.8M325.0 494.2h.8M321.7 495.0h.8M315.0 506.0h.8M323.7 502.3h.8M324.6 494.2h.8M318.5 498.1h.8M319.6 506.1h.8M326.3 494.4h.8M314.1 505.3h.8M322.7 495.1h.8M326.0 494.9h.8M324.1 495.2h.8M324.1 494.6h.8M314.4 504.6h.8M324.3 502.2h.8M326.7 497.0h.8M317.1 498.7h.8M313.6 504.9h.8M313.9 505.8h.8M327.5 495.5h.8M326.8 496.9h.8M327.7 495.0h.8M326.0 498.6h.8M327.7 494.2h.8M322.5 503.6h.8M321.7 505.4h.8M326.3 496.5h.8M315.2 507.1h.8M323.1 503.0h.8M313.9 505.2h.8M317.2 507.2h.8" stroke="#38a8b8" stroke-width=".8" fill="none"/>
<path d="M317.0 506.2h.8M316.0 502.2h.8M319.2 505.9h.8M325.0 497.3h.8M319.8 505.3h.8M325.4 498.3h.8M322.9 502.0h.8M324.6 497.0h.8M323.8 500.1h.8M316.0 505.7h.8M324.2 496.4h.8M315.8 503.9h.8M322.7 496.3h.8M321.4 497.7h.8M322.1 501.9h.8M318.6 505.5h.8M317.0 506.0h.8M321.8 503.9h.8M323.7 500.3h.8M315.2 505.2h.8M315.0 503.9h.8M323.3 496.7h.8M321.6 503.2h.8M319.9 498.3h.8M316.8 505.9h.8M321.0 498.0h.8M324.9 498.4h.8M318.8 498.5h.8M319.1 499.4h.8M318.8 505.4h.8M325.7 497.7h.8M317.2 505.9h.8M316.5 505.1h.8M315.8 505.1h.8M315.4 504.6h.8M322.3 502.8h.8M323.8 499.3h.8M317.6 499.6h.8M324.1 498.2h.8M315.9 504.6h.8M317.7 506.3h.8M325.3 496.6h.8M315.8 505.9h.8M315.1 503.1h.8M319.0 498.4h.8M315.9 505.0h.8M325.3 497.1h.8M323.3 496.7h.8M314.9 505.6h.8M322.0 503.1h.8M323.5 497.3h.8M324.0 498.2h.8M315.2 502.7h.8M320.0 498.2h.8M324.0 501.1h.8M325.1 496.7h.8M322.7 502.0h.8M322.4 503.2h.8M315.0 505.5h.8M319.3 505.7h.8M318.8 499.3h.8M318.6 505.2h.8M320.9 497.1h.8M314.7 505.0h.8M323.1 497.4h.8M323.3 497.5h.8M320.9 504.5h.8M323.5 497.8h.8M320.3 497.4h.8M322.9 501.0h.8M323.6 501.3h.8M321.9 496.5h.8M324.5 496.5h.8M316.6 505.3h.8M317.9 499.3h.8M315.9 506.3h.8M322.2 503.0h.8M317.3 501.2h.8M319.8 505.7h.8M315.5 504.5h.8M322.2 496.9h.8M316.2 505.9h.8M323.3 501.8h.8M316.3 501.6h.8M319.7 504.8h.8M316.2 506.0h.8M315.7 504.2h.8M316.4 501.3h.8M315.2 505.2h.8M322.0 503.5h.8M316.0 505.7h.8M316.4 506.1h.8M323.6 500.1h.8M315.2 505.7h.8M322.6 502.3h.8M315.8 502.2h.8M315.8 504.9h.8M317.2 501.2h.8M318.7 498.5h.8M321.0 504.7h.8M316.4 500.8h.8M315.6 505.0h.8M316.4 501.1h.8M318.7 505.7h.8M321.5 503.5h.8M314.9 503.9h.8M315.2 504.4h.8M322.9 502.5h.8M317.4 500.7h.8M323.8 501.2h.8M322.7 497.2h.8M315.1 504.2h.8M324.5 496.8h.8M324.2 500.5h.8M319.2 498.1h.8M316.9 500.3h.8M318.0 500.0h.8M316.2 504.7h.8M316.9 505.2h.8M319.0 505.2h.8M321.7 497.3h.8M316.6 502.0h.8M322.0 496.9h.8M316.0 501.4h.8M324.1 496.6h.8M321.8 496.5h.8M321.8 497.6h.8M319.5 498.5h.8M324.3 500.2h.8M318.0 506.0h.8M316.0 506.0h.8M322.4 496.7h.8M318.4 505.3h.8M323.2 496.0h.8M320.6 497.7h.8M315.7 503.7h.8" stroke="#70c050" stroke-width=".8" fill="none"/>
<path d="M322.3 498.1h.8M318.3 504.9h.8M320.1 503.6h.8M317.1 503.0h.8M320.2 499.5h.8M317.9 504.5h.8M319.5 499.3h.8M322.2 498.1h.8M323.0 499.8h.8M322.5 501.3h.8M316.9 502.2h.8M323.5 499.2h.8M317.4 504.3h.8M319.1 504.9h.8M317.0 504.4h.8M316.7 503.0h.8M319.1 504.2h.8M322.5 500.9h.8M321.8 500.7h.8M318.0 504.8h.8M318.8 504.3h.8M317.1 503.2h.8M316.8 502.3h.8M319.6 503.8h.8M316.7 504.5h.8M316.9 505.1h.8M316.5 502.4h.8M323.1 499.8h.8M316.3 504.4h.8M319.9 499.4h.8M320.6 502.7h.8M322.2 500.3h.8M317.2 501.6h.8M321.8 499.6h.8M316.8 502.0h.8M322.0 501.7h.8M320.2 504.0h.8M316.8 502.4h.8M316.5 502.7h.8M318.4 504.7h.8M319.2 500.1h.8M323.5 498.8h.8M319.3 504.6h.8M322.6 497.9h.8M323.0 499.3h.8M321.3 499.1h.8M320.3 503.9h.8M318.7 500.7h.8M317.1 502.0h.8M320.7 499.1h.8M318.8 500.2h.8M320.0 499.7h.8M317.9 501.3h.8M318.5 504.6h.8M321.8 499.4h.8M317.3 504.7h.8M322.4 499.9h.8M316.8 502.8h.8M317.7 500.9h.8M317.8 504.7h.8M323.0 500.2h.8M321.2 498.4h.8M317.6 501.2h.8M318.5 504.4h.8M318.9 504.9h.8M316.2 503.3h.8M320.8 498.8h.8M316.8 502.8h.8M316.4 504.0h.8M317.4 501.4h.8M321.9 498.1h.8M317.1 501.5h.8M321.9 499.8h.8M317.7 501.4h.8" stroke="#c8d038" stroke-width=".8" fill="none"/>
<path d="M321.0 500.0h.8M318.5 501.5h.8M321.6 499.8h.8M319.2 503.5h.8M317.4 503.4h.8M317.7 503.8h.8M320.0 500.2h.8M318.2 504.2h.8M320.5 502.0h.8M318.7 501.3h.8M321.3 500.4h.8M318.6 503.9h.8M320.2 500.5h.8M320.7 500.5h.8M318.2 501.8h.8M321.3 501.1h.8M319.1 503.7h.8M321.0 500.3h.8M318.3 503.8h.8M319.2 503.7h.8M320.3 502.3h.8M320.8 501.9h.8M318.2 504.2h.8M317.4 502.4h.8M317.7 503.9h.8M319.0 503.6h.8M319.8 503.3h.8M317.9 503.9h.8M320.3 500.4h.8M320.3 499.9h.8M319.3 500.8h.8M319.6 500.3h.8M319.6 503.0h.8M318.3 504.2h.8M319.7 503.0h.8M319.1 500.6h.8M319.9 502.7h.8M320.9 499.7h.8M317.6 503.4h.8M318.0 503.8h.8" stroke="#e89028" stroke-width=".8" fill="none"/>
<path d="M319.6 501.6h.8M319.8 502.4h.8M319.1 502.7h.8M318.2 502.8h.8M319.9 501.1h.8M319.7 501.2h.8M319.3 502.2h.8M318.6 502.2h.8M318.5 502.4h.8M320.0 502.2h.8M319.0 501.5h.8M318.6 502.3h.8M319.6 501.1h.8M318.1 502.7h.8M320.0 502.1h.8M320.7 501.1h.8M319.9 502.2h.8M319.0 502.4h.8M318.4 502.9h.8" stroke="#e04020" stroke-width=".8" fill="none"/>
<text x="29.1" y="626.8" font-size="42.5" fill="#1a1a1a" text-anchor="start" stroke="#fff" stroke-width="0.76" >E</text>
<text x="176.1" y="609.5" font-size="20" fill="#187018" text-anchor="middle" stroke="#fff" stroke-width="0.24" >H3K27me3</text>
<text x="176.5" y="634" font-size="19.8" fill="#1414f0" text-anchor="middle" stroke="#fff" stroke-width="0.24" >DAPI</text>
<text x="310.6" y="639.2" font-size="20" fill="#1a1a1a" text-anchor="middle" stroke="#fff" stroke-width="0.36" >Zoom&#160;&#160;in</text>
<text x="92.5" y="712" font-size="16.8" fill="#1a1a1a" text-anchor="middle" stroke="#fff" stroke-width="0.30" >EED</text>
<text x="92.5" y="732.3" font-size="16.8" fill="#1a1a1a" text-anchor="middle" stroke="#fff" stroke-width="0.30" >KO</text>
<text x="92.9" y="851" font-size="16.8" fill="#1a1a1a" text-anchor="middle" stroke="#fff" stroke-width="0.30" >12hr</text>
<text x="88.8" y="987.9" font-size="16.8" fill="#1a1a1a" text-anchor="middle" stroke="#fff" stroke-width="0.30" >24hr</text>
<text x="92.3" y="1094" font-size="16.8" fill="#1a1a1a" text-anchor="middle" stroke="#fff" stroke-width="0.30" >36hr</text>
<text x="89.8" y="1114.4" font-size="16.8" fill="#1a1a1a" text-anchor="middle" stroke="#fff" stroke-width="0.30" >low</text>
<text x="92.3" y="1134.5" font-size="16.8" fill="#1a1a1a" text-anchor="middle" stroke="#fff" stroke-width="0.30" >exp</text>
<defs><clipPath id="cp00"><rect x="114.7" y="651.7" width="123.10000000000001" height="123.09999999999991"/></clipPath><clipPath id="cp01"><rect x="252.7" y="651.7" width="122.60000000000002" height="123.09999999999991"/></clipPath><clipPath id="cp10"><rect x="114.7" y="786.5" width="123.10000000000001" height="123.0"/></clipPath><clipPath id="cp11"><rect x="252.7" y="786.5" width="122.60000000000002" height="123.0"/></clipPath><clipPath id="cp20"><rect x="114.7" y="922" width="123.10000000000001" height="122"/></clipPath><clipPath id="cp21"><rect x="252.7" y="922" width="122.60000000000002" height="122"/></clipPath><clipPath id="cp30"><rect x="114.7" y="1055.8" width="123.10000000000001" height="122.70000000000005"/></clipPath><clipPath id="cp31"><rect x="252.7" y="1055.8" width="122.60000000000002" height="122.70000000000005"/></clipPath><filter id="f0" x="0" y="0" width="100%" height="100%" color-interpolation-filters="sRGB"><feTurbulence type="fractalNoise" baseFrequency="0.8" numOctaves="1" seed="13"/><feColorMatrix type="matrix" values="0 0 0 0 0.306 0 0 0 0 0.910 0 0 0 0 0.455 6 0 0 0 -2.880"/><feGaussianBlur stdDeviation="0.25"/><feComposite in2="SourceAlpha" operator="in"/></filter><filter id="f1" x="0" y="0" width="100%" height="100%" color-interpolation-filters="sRGB"><feTurbulence type="fractalNoise" baseFrequency="0.8" numOctaves="1" seed="13"/><feColorMatrix type="matrix" values="0 0 0 0 0.306 0 0 0 0 0.910 0 0 0 0 0.455 6 0 0 0 -2.520"/><feGaussianBlur stdDeviation="0.25"/><feComposite in2="SourceAlpha" operator="in"/></filter><filter id="f2" x="0" y="0" width="100%" height="100%" color-interpolation-filters="sRGB"><feTurbulence type="fractalNoise" baseFrequency="0.5" numOctaves="1" seed="15"/><feColorMatrix type="matrix" values="0 0 0 0 0.188 0 0 0 0 0.784 0 0 0 0 0.878 5 0 0 0 -2.500"/><feGaussianBlur stdDeviation="0.4"/><feComposite in2="SourceAlpha" operator="in"/></filter><filter id="f3" x="0" y="0" width="100%" height="100%" color-interpolation-filters="sRGB"><feTurbulence type="fractalNoise" baseFrequency="0.8" numOctaves="1" seed="16"/><feColorMatrix type="matrix" values="0 0 0 0 0.251 0 0 0 0 0.878 0 0 0 0 0.502 6 0 0 0 -3.180"/><feGaussianBlur stdDeviation="0.25"/><feComposite in2="SourceAlpha" operator="in"/></filter></defs>
<rect x="114.7" y="651.7" width="123.10000000000001" height="123.09999999999991" fill="#000"/>
<g clip-path="url(#cp00)"><path d="M170.8 683.0L169.3 684.9L167.4 686.5L165.1 687.8L162.4 688.6L159.2 688.8L155.8 688.4L152.4 687.4L149.0 686.2L145.8 684.6L142.8 682.8L139.9 680.7L137.4 678.3L135.4 675.8L134.2 673.1L133.5 670.5L133.3 668.1L133.4 665.7L133.7 663.3L134.3 660.8L135.5 658.6L137.7 656.9L140.7 656.0L144.3 656.1L148.1 657.2L151.6 658.9L154.8 660.8L157.6 662.5L160.4 664.1L163.3 665.8L166.2 667.8L169.0 670.2L171.1 672.9L172.3 675.7L172.5 678.4L171.9 680.9Z" fill="#080a88" filter="url(#b1)"/><clipPath id="nc1"><path d="M170.8 683.0L169.3 684.9L167.4 686.5L165.1 687.8L162.4 688.6L159.2 688.8L155.8 688.4L152.4 687.4L149.0 686.2L145.8 684.6L142.8 682.8L139.9 680.7L137.4 678.3L135.4 675.8L134.2 673.1L133.5 670.5L133.3 668.1L133.4 665.7L133.7 663.3L134.3 660.8L135.5 658.6L137.7 656.9L140.7 656.0L144.3 656.1L148.1 657.2L151.6 658.9L154.8 660.8L157.6 662.5L160.4 664.1L163.3 665.8L166.2 667.8L169.0 670.2L171.1 672.9L172.3 675.7L172.5 678.4L171.9 680.9Z"/></clipPath><g clip-path="url(#nc1)"><g stroke="#2630f0" stroke-opacity="0.75" stroke-linecap="round" fill="none" filter="url(#b05)"><path d="M162.7 679.7h0M141.5 675.6h0M144.0 659.2h0M137.5 669.8h0M161.3 680.0h0M158.8 682.9h0M134.1 666.4h0M160.4 679.5h0M144.0 661.1h0M136.9 669.3h0M146.8 668.8h0M158.1 668.6h0M150.8 665.4h0M147.0 677.3h0M159.5 677.2h0M148.3 669.4h0" stroke-width="1.6"/><path d="M142.9 666.6h0M154.9 668.1h0M161.7 678.6h0M159.5 666.2h0M143.4 672.1h0M145.6 676.1h0M158.2 675.6h0M147.9 672.0h0M165.8 675.8h0M156.7 668.5h0M161.5 666.9h0" stroke-width="2.0"/><path d="M149.0 683.7h0M153.3 680.3h0M155.0 669.8h0M147.1 669.9h0M160.8 670.1h0M140.3 667.5h0M163.7 668.9h0M151.4 665.3h0M155.7 678.8h0M158.2 671.8h0" stroke-width="2.4"/><path d="M156.1 661.4h0M142.6 664.6h0M142.3 665.2h0" stroke-width="2.8"/></g></g><path d="M228.0 695.3L228.6 698.1L228.4 700.9L227.6 703.5L226.1 705.7L224.3 707.5L222.4 709.0L220.6 710.4L218.7 712.0L216.6 713.6L214.1 714.9L211.3 715.3L208.4 714.7L205.9 713.1L204.0 710.7L202.7 707.9L201.9 705.2L201.2 702.7L200.6 700.1L200.1 697.6L200.0 694.9L200.4 692.2L201.4 689.8L202.8 687.6L204.5 685.8L206.5 684.1L208.6 682.7L210.9 681.6L213.5 680.9L216.2 681.0L218.8 681.9L221.1 683.5L223.0 685.6L224.6 687.9L225.9 690.3L227.1 692.7Z" fill="#080a88" filter="url(#b1)"/><clipPath id="nc2"><path d="M228.0 695.3L228.6 698.1L228.4 700.9L227.6 703.5L226.1 705.7L224.3 707.5L222.4 709.0L220.6 710.4L218.7 712.0L216.6 713.6L214.1 714.9L211.3 715.3L208.4 714.7L205.9 713.1L204.0 710.7L202.7 707.9L201.9 705.2L201.2 702.7L200.6 700.1L200.1 697.6L200.0 694.9L200.4 692.2L201.4 689.8L202.8 687.6L204.5 685.8L206.5 684.1L208.6 682.7L210.9 681.6L213.5 680.9L216.2 681.0L218.8 681.9L221.1 683.5L223.0 685.6L224.6 687.9L225.9 690.3L227.1 692.7Z"/></clipPath><g clip-path="url(#nc2)"><g stroke="#2630f0" stroke-opacity="0.75" stroke-linecap="round" fill="none" filter="url(#b05)"><path d="M204.1 690.5h0M209.8 697.6h0M217.2 694.1h0M210.7 692.0h0M224.1 692.6h0M213.9 692.8h0M213.7 686.6h0M215.8 709.7h0M223.9 690.7h0M216.2 703.5h0M217.5 707.0h0M208.5 684.3h0M202.1 694.7h0M206.0 697.1h0" stroke-width="1.6"/><path d="M224.0 701.8h0M211.1 695.2h0M210.7 703.3h0M225.4 702.0h0M206.4 686.0h0M219.6 708.4h0M208.2 704.0h0M213.2 703.3h0M218.4 692.6h0M213.2 685.8h0" stroke-width="2.0"/><path d="M204.9 705.4h0M221.2 705.4h0M206.3 708.6h0M224.7 694.1h0M208.7 704.5h0M209.6 704.3h0" stroke-width="2.4"/><path d="M217.7 687.8h0M213.9 692.4h0" stroke-width="2.8"/></g></g><path d="M198.8 708.1L198.5 710.8L197.5 713.4L195.9 715.8L193.9 717.9L191.6 719.7L189.1 721.3L186.4 722.7L183.3 723.5L180.1 723.7L177.0 723.1L174.2 721.9L171.8 720.3L169.7 718.6L167.7 716.9L165.6 715.2L163.4 713.2L161.5 710.9L160.3 708.1L160.2 705.1L161.3 702.3L163.3 699.9L166.0 698.1L168.8 696.7L171.6 695.6L174.3 694.7L177.2 694.0L180.1 693.5L183.1 693.5L186.1 694.1L189.0 695.1L191.5 696.6L193.7 698.5L195.7 700.5L197.2 702.8L198.4 705.4Z" fill="#080a88" filter="url(#b1)"/><clipPath id="nc3"><path d="M198.8 708.1L198.5 710.8L197.5 713.4L195.9 715.8L193.9 717.9L191.6 719.7L189.1 721.3L186.4 722.7L183.3 723.5L180.1 723.7L177.0 723.1L174.2 721.9L171.8 720.3L169.7 718.6L167.7 716.9L165.6 715.2L163.4 713.2L161.5 710.9L160.3 708.1L160.2 705.1L161.3 702.3L163.3 699.9L166.0 698.1L168.8 696.7L171.6 695.6L174.3 694.7L177.2 694.0L180.1 693.5L183.1 693.5L186.1 694.1L189.0 695.1L191.5 696.6L193.7 698.5L195.7 700.5L197.2 702.8L198.4 705.4Z"/></clipPath><g clip-path="url(#nc3)"><g stroke="#2630f0" stroke-opacity="0.75" stroke-linecap="round" fill="none" filter="url(#b05)"><path d="M184.3 710.1h0M193.8 715.3h0M178.0 708.1h0M184.8 713.3h0M180.5 715.6h0M176.4 720.5h0M177.7 709.9h0M193.9 704.6h0M170.0 705.5h0M179.4 699.9h0M176.1 697.5h0M167.5 705.6h0M188.3 705.5h0M185.2 699.8h0M168.2 716.9h0M195.2 707.2h0M178.4 700.5h0" stroke-width="1.6"/><path d="M181.2 711.7h0M191.3 713.9h0M181.2 697.3h0M165.4 703.0h0M169.6 710.8h0M183.7 720.7h0M169.8 706.5h0M172.0 699.6h0M167.2 706.6h0" stroke-width="2.0"/><path d="M186.2 719.9h0M178.2 711.9h0M186.7 704.8h0M168.9 701.9h0M169.4 707.0h0M192.0 707.0h0M185.1 707.3h0M172.0 716.6h0" stroke-width="2.4"/><path d="M185.1 707.2h0M181.1 705.0h0M179.5 719.6h0M174.4 697.0h0" stroke-width="2.8"/></g></g><path d="M221.9 732.4L221.8 735.6L221.2 738.8L220.2 741.9L218.7 744.8L216.5 747.4L213.9 749.3L210.9 750.6L207.7 751.2L204.5 751.2L201.4 750.7L198.5 749.6L195.8 748.1L193.5 746.1L191.5 743.8L190.0 741.2L188.8 738.4L187.9 735.5L187.3 732.4L187.0 729.2L187.2 725.8L188.0 722.4L189.6 719.4L192.0 716.9L195.0 715.2L198.2 714.4L201.4 714.3L204.5 714.5L207.4 715.1L210.3 715.9L213.1 716.9L215.7 718.5L218.0 720.6L219.8 723.1L221.1 726.1L221.7 729.2Z" fill="#080a88" filter="url(#b1)"/><clipPath id="nc4"><path d="M221.9 732.4L221.8 735.6L221.2 738.8L220.2 741.9L218.7 744.8L216.5 747.4L213.9 749.3L210.9 750.6L207.7 751.2L204.5 751.2L201.4 750.7L198.5 749.6L195.8 748.1L193.5 746.1L191.5 743.8L190.0 741.2L188.8 738.4L187.9 735.5L187.3 732.4L187.0 729.2L187.2 725.8L188.0 722.4L189.6 719.4L192.0 716.9L195.0 715.2L198.2 714.4L201.4 714.3L204.5 714.5L207.4 715.1L210.3 715.9L213.1 716.9L215.7 718.5L218.0 720.6L219.8 723.1L221.1 726.1L221.7 729.2Z"/></clipPath><g clip-path="url(#nc4)"><g stroke="#2630f0" stroke-opacity="0.75" stroke-linecap="round" fill="none" filter="url(#b05)"><path d="M208.2 718.3h0M194.6 744.6h0M191.2 733.3h0M216.1 723.1h0M203.6 723.1h0M205.5 740.2h0M203.8 719.2h0M215.6 739.8h0M214.2 740.2h0M206.3 736.0h0M189.0 730.3h0M206.8 737.0h0M200.2 731.6h0M206.4 738.9h0M199.6 744.2h0M211.0 726.7h0M209.2 716.3h0M218.1 737.1h0M200.9 735.9h0M215.0 729.4h0M210.8 745.8h0M214.5 734.3h0M213.4 743.8h0M203.1 742.3h0M208.3 725.9h0" stroke-width="1.6"/><path d="M201.5 743.0h0M207.4 749.0h0M209.7 746.3h0M200.5 735.3h0M211.1 745.4h0M198.0 723.2h0M198.6 722.8h0M215.0 742.0h0M203.7 721.0h0M190.5 724.5h0" stroke-width="2.0"/><path d="M201.3 741.1h0M215.9 730.3h0M202.0 724.6h0M196.9 740.7h0M210.9 734.1h0M205.5 745.8h0M195.5 729.9h0M210.0 732.9h0" stroke-width="2.4"/><path d="M208.6 746.2h0M211.3 724.4h0M214.9 733.2h0" stroke-width="2.8"/></g></g><path d="M174.1 751.7L173.6 754.6L172.9 757.6L171.6 760.5L169.5 763.1L166.6 764.8L163.3 765.5L159.9 765.2L156.8 764.2L154.0 763.1L151.4 761.9L148.7 760.7L146.0 759.3L143.6 757.4L141.7 754.8L140.7 751.9L140.4 748.9L140.8 745.9L141.5 743.0L142.5 740.3L143.7 737.6L145.3 735.0L147.5 732.8L150.2 731.1L153.3 730.3L156.5 730.1L159.6 730.5L162.6 731.2L165.5 732.1L168.3 733.4L170.9 735.1L173.0 737.5L174.4 740.3L175.0 743.3L174.9 746.2L174.5 749.0Z" fill="#080a88" filter="url(#b1)"/><clipPath id="nc5"><path d="M174.1 751.7L173.6 754.6L172.9 757.6L171.6 760.5L169.5 763.1L166.6 764.8L163.3 765.5L159.9 765.2L156.8 764.2L154.0 763.1L151.4 761.9L148.7 760.7L146.0 759.3L143.6 757.4L141.7 754.8L140.7 751.9L140.4 748.9L140.8 745.9L141.5 743.0L142.5 740.3L143.7 737.6L145.3 735.0L147.5 732.8L150.2 731.1L153.3 730.3L156.5 730.1L159.6 730.5L162.6 731.2L165.5 732.1L168.3 733.4L170.9 735.1L173.0 737.5L174.4 740.3L175.0 743.3L174.9 746.2L174.5 749.0Z"/></clipPath><g clip-path="url(#nc5)"><g stroke="#2630f0" stroke-opacity="0.75" stroke-linecap="round" fill="none" filter="url(#b05)"><path d="M143.7 749.1h0M161.6 739.8h0M165.7 761.2h0M151.5 760.8h0M147.0 745.3h0M157.2 734.6h0M166.2 734.8h0M165.5 752.3h0M158.1 745.8h0M167.3 739.7h0M155.3 735.2h0M150.7 735.9h0M173.6 751.4h0M172.8 750.0h0M160.9 745.6h0M149.6 758.8h0M145.8 737.9h0M145.8 747.2h0" stroke-width="1.6"/><path d="M160.0 760.9h0M156.0 740.6h0M163.4 745.7h0M164.1 734.9h0M161.2 759.2h0M160.4 755.8h0M148.6 757.1h0M169.7 751.3h0M163.8 742.1h0M160.8 738.6h0M151.9 735.0h0M161.3 744.6h0M170.2 743.8h0M164.6 739.7h0M167.3 758.7h0" stroke-width="2.0"/><path d="M159.5 749.1h0M160.1 751.2h0M149.5 740.9h0M164.1 741.1h0M146.9 739.3h0M159.5 734.3h0M159.0 743.0h0M150.4 736.4h0" stroke-width="2.4"/><path d="M159.1 762.5h0M156.8 744.5h0" stroke-width="2.8"/></g></g><path d="M257.8 741.5L258.0 744.4L257.8 747.5L257.0 750.5L255.4 753.4L252.9 755.7L249.9 757.3L246.7 758.3L243.3 758.9L240.0 759.2L236.6 759.1L233.2 758.6L230.1 757.3L227.4 755.3L225.6 752.6L224.5 749.7L224.1 746.8L223.7 744.1L223.2 741.5L222.5 738.7L222.1 735.5L222.4 732.1L223.8 729.0L226.3 726.5L229.6 724.9L233.2 724.2L236.7 724.2L240.0 724.5L243.2 724.9L246.3 725.4L249.4 726.4L252.3 728.1L254.5 730.3L256.0 733.0L257.0 735.8L257.5 738.7Z" fill="#080a88" filter="url(#b1)"/><clipPath id="nc6"><path d="M257.8 741.5L258.0 744.4L257.8 747.5L257.0 750.5L255.4 753.4L252.9 755.7L249.9 757.3L246.7 758.3L243.3 758.9L240.0 759.2L236.6 759.1L233.2 758.6L230.1 757.3L227.4 755.3L225.6 752.6L224.5 749.7L224.1 746.8L223.7 744.1L223.2 741.5L222.5 738.7L222.1 735.5L222.4 732.1L223.8 729.0L226.3 726.5L229.6 724.9L233.2 724.2L236.7 724.2L240.0 724.5L243.2 724.9L246.3 725.4L249.4 726.4L252.3 728.1L254.5 730.3L256.0 733.0L257.0 735.8L257.5 738.7Z"/></clipPath><g clip-path="url(#nc6)"><g stroke="#2630f0" stroke-opacity="0.75" stroke-linecap="round" fill="none" filter="url(#b05)"><path d="M233.7 729.7h0M234.3 729.9h0M225.7 738.7h0M231.0 728.4h0M233.2 749.3h0M223.8 746.2h0M255.9 741.2h0M253.9 735.9h0M229.0 745.6h0M249.5 747.2h0M233.9 752.3h0M247.0 743.7h0M232.9 753.1h0M232.5 739.8h0M242.6 726.5h0M246.9 749.3h0M238.1 726.7h0M246.6 740.7h0M231.0 731.3h0M233.7 756.0h0M236.5 740.1h0M251.7 749.3h0" stroke-width="1.6"/><path d="M249.5 729.2h0M249.0 737.7h0M240.2 750.6h0M252.4 742.0h0M243.2 753.8h0M253.7 741.1h0M252.8 742.7h0M247.3 750.6h0M234.8 730.7h0M238.9 740.7h0M244.3 736.3h0M247.5 727.6h0M238.6 727.3h0" stroke-width="2.0"/><path d="M235.7 740.1h0M239.3 751.4h0M236.7 726.9h0M231.6 751.2h0M238.1 749.8h0M242.9 740.2h0M242.4 727.4h0M233.3 735.2h0" stroke-width="2.4"/><path d="M241.0 732.8h0M234.8 748.5h0M246.2 748.2h0" stroke-width="2.8"/></g></g><path d="M243.0 656.0L243.3 657.4L243.2 658.9L242.6 660.3L241.5 661.6L240.0 662.7L238.2 663.6L236.2 664.1L234.1 664.5L232.0 664.6L229.9 664.5L227.8 664.2L225.8 663.6L224.1 662.7L222.7 661.6L221.5 660.3L220.7 658.9L220.3 657.5L220.3 656.0L220.6 654.6L221.3 653.2L222.3 652.0L223.5 650.9L224.8 649.9L226.2 648.9L227.9 647.9L229.8 647.1L232.0 646.6L234.3 646.6L236.6 647.1L238.5 648.0L240.0 649.3L241.0 650.7L241.6 652.1L242.1 653.4L242.6 654.7Z" fill="#080a88" filter="url(#b1)"/><clipPath id="nc7"><path d="M243.0 656.0L243.3 657.4L243.2 658.9L242.6 660.3L241.5 661.6L240.0 662.7L238.2 663.6L236.2 664.1L234.1 664.5L232.0 664.6L229.9 664.5L227.8 664.2L225.8 663.6L224.1 662.7L222.7 661.6L221.5 660.3L220.7 658.9L220.3 657.5L220.3 656.0L220.6 654.6L221.3 653.2L222.3 652.0L223.5 650.9L224.8 649.9L226.2 648.9L227.9 647.9L229.8 647.1L232.0 646.6L234.3 646.6L236.6 647.1L238.5 648.0L240.0 649.3L241.0 650.7L241.6 652.1L242.1 653.4L242.6 654.7Z"/></clipPath><g clip-path="url(#nc7)"><g stroke="#2630f0" stroke-opacity="0.75" stroke-linecap="round" fill="none" filter="url(#b05)"><path d="M239.4 661.2h0M224.3 654.9h0M224.4 660.2h0M230.2 650.1h0M224.9 651.7h0M223.1 652.1h0M233.2 655.2h0" stroke-width="1.6"/><path d="M230.8 658.6h0M237.9 652.2h0M223.3 652.2h0M233.3 657.9h0M235.7 651.6h0" stroke-width="2.0"/><path d="M221.8 653.4h0M229.3 658.9h0" stroke-width="2.4"/></g></g></g>
<path transform="translate(209 679.8) rotate(48)" d="M0 0 L-17 -8.5 L-12 0 L-17 8.5 Z" fill="#e82028"/>
<rect x="252.7" y="651.7" width="122.60000000000002" height="123.09999999999991" fill="#000"/>
<g clip-path="url(#cp01)"><path d="M279.3 672.0C284.0 668.5 292.4 665.2 298.9 663.4C305.4 661.6 312.3 661.8 318.4 661.0C324.5 660.2 330.2 658.1 335.5 658.5C340.8 658.9 346.5 660.8 350.2 663.4C353.9 666.0 356.3 669.5 357.5 674.4C358.7 679.3 357.9 687.0 357.5 692.7C357.1 698.4 355.6 704.9 355.0 708.6C354.4 712.3 352.6 712.7 353.8 714.7C355.0 716.7 360.8 717.8 362.4 720.8C364.0 723.8 364.4 728.5 363.6 733.0C362.8 737.5 361.0 743.2 357.5 747.7C354.0 752.2 348.5 756.5 342.8 760.0C337.1 763.5 329.6 767.5 323.3 769.0C317.0 770.5 311.1 770.5 305.0 769.0C298.9 767.5 292.1 764.0 286.6 760.0C281.1 756.0 275.9 751.4 272.0 745.3C268.1 739.2 264.6 730.6 263.4 723.3C262.2 716.0 263.5 707.8 264.7 701.3C265.9 694.8 268.4 689.1 270.8 684.2C273.2 679.3 274.6 675.5 279.3 672.0Z" fill="#1012b4" filter="url(#b2)"/><clipPath id="nc8"><path d="M279.3 672.0C284.0 668.5 292.4 665.2 298.9 663.4C305.4 661.6 312.3 661.8 318.4 661.0C324.5 660.2 330.2 658.1 335.5 658.5C340.8 658.9 346.5 660.8 350.2 663.4C353.9 666.0 356.3 669.5 357.5 674.4C358.7 679.3 357.9 687.0 357.5 692.7C357.1 698.4 355.6 704.9 355.0 708.6C354.4 712.3 352.6 712.7 353.8 714.7C355.0 716.7 360.8 717.8 362.4 720.8C364.0 723.8 364.4 728.5 363.6 733.0C362.8 737.5 361.0 743.2 357.5 747.7C354.0 752.2 348.5 756.5 342.8 760.0C337.1 763.5 329.6 767.5 323.3 769.0C317.0 770.5 311.1 770.5 305.0 769.0C298.9 767.5 292.1 764.0 286.6 760.0C281.1 756.0 275.9 751.4 272.0 745.3C268.1 739.2 264.6 730.6 263.4 723.3C262.2 716.0 263.5 707.8 264.7 701.3C265.9 694.8 268.4 689.1 270.8 684.2C273.2 679.3 274.6 675.5 279.3 672.0Z"/></clipPath><g clip-path="url(#nc8)"><g stroke="#2530ff" stroke-opacity="0.75" stroke-linecap="round" fill="none" filter="url(#b15)"><path d="M307.0 677.4h0M301.3 749.2h0M292.0 756.0h0M293.8 733.3h0M327.5 699.0h0M313.9 708.4h0M342.7 709.0h0M282.2 731.6h0M330.7 676.8h0M322.3 698.0h0M307.1 706.8h0M312.0 694.6h0" stroke-width="4.0"/><path d="M290.8 709.6h0M307.8 672.0h0M325.6 754.7h0M341.1 698.3h0M332.3 747.7h0M338.3 727.7h0" stroke-width="4.4"/><path d="M298.1 670.1h0M340.4 704.4h0M268.9 712.9h0M333.5 675.3h0M313.9 694.6h0" stroke-width="4.8"/><path d="M342.4 675.0h0M286.7 741.4h0M334.6 757.6h0M334.5 697.0h0M289.6 709.6h0M304.5 746.2h0M287.0 749.1h0M312.6 705.2h0" stroke-width="5.2"/><path d="M331.6 712.6h0M297.4 676.4h0M328.6 702.2h0M334.7 720.0h0" stroke-width="5.6"/><path d="M348.3 692.0h0M285.5 733.1h0M272.8 707.6h0M330.7 685.3h0M296.4 676.9h0" stroke-width="6.0"/><path d="M333.9 674.7h0M276.0 713.1h0M299.1 749.8h0M314.9 673.7h0M339.8 708.1h0M333.4 701.8h0" stroke-width="6.4"/><path d="M314.3 663.4h0M303.2 760.7h0M335.4 718.3h0" stroke-width="6.8"/><path d="M331.9 745.2h0M343.8 730.5h0" stroke-width="7.2"/></g></g><clipPath id="nc9"><path d="M279.3 672.0C284.0 668.5 292.4 665.2 298.9 663.4C305.4 661.6 312.3 661.8 318.4 661.0C324.5 660.2 330.2 658.1 335.5 658.5C340.8 658.9 346.5 660.8 350.2 663.4C353.9 666.0 356.3 669.5 357.5 674.4C358.7 679.3 357.9 687.0 357.5 692.7C357.1 698.4 355.6 704.9 355.0 708.6C354.4 712.3 352.6 712.7 353.8 714.7C355.0 716.7 360.8 717.8 362.4 720.8C364.0 723.8 364.4 728.5 363.6 733.0C362.8 737.5 361.0 743.2 357.5 747.7C354.0 752.2 348.5 756.5 342.8 760.0C337.1 763.5 329.6 767.5 323.3 769.0C317.0 770.5 311.1 770.5 305.0 769.0C298.9 767.5 292.1 764.0 286.6 760.0C281.1 756.0 275.9 751.4 272.0 745.3C268.1 739.2 264.6 730.6 263.4 723.3C262.2 716.0 263.5 707.8 264.7 701.3C265.9 694.8 268.4 689.1 270.8 684.2C273.2 679.3 274.6 675.5 279.3 672.0Z"/></clipPath><g clip-path="url(#nc9)"><g stroke="#000048" stroke-opacity="0.55" stroke-linecap="round" fill="none" filter="url(#b2)"><path d="M326.9 690.4h0M355.7 707.3h0M308.9 718.4h0M336.4 719.3h0M302.8 699.1h0M271.1 714.1h0M301.2 747.2h0M291.5 689.9h0" stroke-width="6.0"/><path d="M351.9 725.1h0M299.3 741.2h0M272.2 729.1h0M328.6 726.0h0M280.3 687.7h0M303.2 754.3h0M322.7 747.3h0" stroke-width="6.4"/><path d="M350.4 729.8h0M329.1 739.6h0" stroke-width="6.8"/><path d="M343.8 725.5h0M335.0 679.1h0M301.3 701.5h0" stroke-width="7.2"/><path d="M282.3 715.3h0M293.5 706.8h0M334.3 754.2h0M314.8 674.6h0" stroke-width="7.6"/><path d="M308.7 758.5h0M343.0 738.5h0M277.4 692.4h0" stroke-width="8.0"/><path d="M350.5 731.3h0M303.5 708.0h0" stroke-width="8.4"/><path d="M322.2 725.4h0" stroke-width="8.8"/><path d="M305.8 732.8h0" stroke-width="9.2"/><path d="M330.8 714.3h0M298.6 753.9h0" stroke-width="9.6"/><path d="M332.9 750.1h0" stroke-width="10.0"/></g></g><path d="M256.3 744.0L256.4 748.5L256.1 752.8L255.4 756.6L254.6 759.5L253.7 761.6L252.8 763.4L251.9 765.1L251.0 766.8L250.0 768.3L248.9 768.9L247.8 768.1L246.8 765.9L246.1 762.6L245.6 758.8L245.2 755.0L244.9 751.4L244.5 747.8L244.2 744.0L243.9 739.7L244.0 735.2L244.3 730.9L245.0 727.3L245.9 724.6L246.9 722.8L248.0 721.7L249.0 721.1L250.0 720.8L251.0 721.1L252.0 722.1L252.9 723.9L253.7 726.4L254.4 729.3L255.0 732.4L255.6 735.9L256.0 739.7Z" fill="#0a0c90" filter="url(#b2)"/><path d="M336.8 785.0L334.5 786.9L332.0 788.7L329.7 790.4L327.5 792.3L324.7 794.3L320.5 796.2L314.6 797.6L307.4 798.3L300.0 798.0L293.3 797.1L287.5 795.8L282.6 794.5L277.8 793.4L272.7 792.2L267.6 790.9L263.4 789.2L260.8 787.2L260.4 785.0L262.0 782.9L265.0 781.0L268.4 779.2L272.1 777.6L276.1 776.0L280.9 774.6L286.6 773.4L293.1 772.7L300.0 772.6L306.7 773.1L312.9 773.8L318.8 774.7L324.5 775.8L329.8 777.1L334.2 778.8L337.1 780.7L337.9 782.9Z" fill="#0a0c90" filter="url(#b2)"/></g>
<rect x="114.7" y="786.5" width="123.10000000000001" height="123.0" fill="#000"/>
<g clip-path="url(#cp10)"><path d="M145.9 839.0L145.6 842.1L144.6 845.0L143.2 847.5L141.4 849.5L139.5 851.2L137.6 852.8L135.7 854.4L133.5 856.1L131.0 857.3L128.2 857.9L125.4 857.4L123.0 855.8L121.1 853.3L119.8 850.3L119.0 847.3L118.5 844.5L117.9 841.8L117.4 839.0L117.1 836.0L117.3 833.0L118.1 830.0L119.6 827.4L121.5 825.4L123.8 823.9L126.1 822.8L128.5 822.1L131.0 821.7L133.5 821.7L136.0 822.3L138.4 823.5L140.5 825.3L142.3 827.6L143.7 830.1L144.8 832.9L145.6 835.9Z" fill="#080a88" filter="url(#b1)"/><clipPath id="nc10"><path d="M145.9 839.0L145.6 842.1L144.6 845.0L143.2 847.5L141.4 849.5L139.5 851.2L137.6 852.8L135.7 854.4L133.5 856.1L131.0 857.3L128.2 857.9L125.4 857.4L123.0 855.8L121.1 853.3L119.8 850.3L119.0 847.3L118.5 844.5L117.9 841.8L117.4 839.0L117.1 836.0L117.3 833.0L118.1 830.0L119.6 827.4L121.5 825.4L123.8 823.9L126.1 822.8L128.5 822.1L131.0 821.7L133.5 821.7L136.0 822.3L138.4 823.5L140.5 825.3L142.3 827.6L143.7 830.1L144.8 832.9L145.6 835.9Z"/></clipPath><g clip-path="url(#nc10)"><g stroke="#2630f0" stroke-opacity="0.75" stroke-linecap="round" fill="none" filter="url(#b05)"><path d="M133.3 827.2h0M127.2 826.3h0M132.6 855.0h0M134.6 849.8h0M135.1 852.2h0M128.4 850.2h0M131.6 837.4h0M138.3 844.5h0M124.3 836.6h0M118.0 841.3h0M127.0 841.6h0M137.0 828.0h0M139.1 832.3h0M128.0 837.2h0M131.6 841.6h0M131.1 826.9h0M126.0 833.3h0M126.3 843.1h0M126.7 845.2h0M143.2 832.6h0M134.1 831.0h0M132.5 828.4h0M136.0 853.6h0" stroke-width="1.6"/><path d="M137.7 837.0h0M119.0 838.8h0M131.3 845.7h0M141.6 844.2h0" stroke-width="2.0"/><path d="M131.1 839.5h0M136.5 831.9h0M126.7 823.8h0M124.4 828.4h0M133.8 854.2h0M121.6 828.3h0M122.0 827.9h0M140.4 828.1h0" stroke-width="2.4"/></g></g><clipPath id="nc11"><path d="M145.9 839.0L145.6 842.1L144.6 845.0L143.2 847.5L141.4 849.5L139.5 851.2L137.6 852.8L135.7 854.4L133.5 856.1L131.0 857.3L128.2 857.9L125.4 857.4L123.0 855.8L121.1 853.3L119.8 850.3L119.0 847.3L118.5 844.5L117.9 841.8L117.4 839.0L117.1 836.0L117.3 833.0L118.1 830.0L119.6 827.4L121.5 825.4L123.8 823.9L126.1 822.8L128.5 822.1L131.0 821.7L133.5 821.7L136.0 822.3L138.4 823.5L140.5 825.3L142.3 827.6L143.7 830.1L144.8 832.9L145.6 835.9Z"/></clipPath><g clip-path="url(#nc11)"><g stroke="#50f060" stroke-opacity="0.9" stroke-linecap="round" fill="none"><path d="M134.6 839.3h0M127.2 836.1h0M127.1 837.6h0" stroke-width="0.8"/><path d="M129.0 828.5h0M133.5 829.0h0M120.3 846.0h0" stroke-width="1.2"/></g></g><path d="M187.0 830.0L186.0 833.1L184.9 836.0L183.6 838.8L182.1 841.6L180.2 844.3L177.6 846.5L174.5 847.9L171.1 848.3L167.7 848.0L164.5 847.1L161.6 846.2L158.6 845.2L155.4 844.0L152.3 842.4L149.6 840.0L147.7 837.0L147.0 833.5L147.4 830.0L148.7 826.8L150.3 823.9L152.1 821.3L153.9 818.9L155.9 816.5L158.3 814.4L161.2 812.8L164.4 811.9L167.7 811.7L171.0 812.1L174.2 812.9L177.4 814.0L180.4 815.4L183.3 817.5L185.5 820.1L186.9 823.3L187.4 826.7Z" fill="#080a88" filter="url(#b1)"/><clipPath id="nc12"><path d="M187.0 830.0L186.0 833.1L184.9 836.0L183.6 838.8L182.1 841.6L180.2 844.3L177.6 846.5L174.5 847.9L171.1 848.3L167.7 848.0L164.5 847.1L161.6 846.2L158.6 845.2L155.4 844.0L152.3 842.4L149.6 840.0L147.7 837.0L147.0 833.5L147.4 830.0L148.7 826.8L150.3 823.9L152.1 821.3L153.9 818.9L155.9 816.5L158.3 814.4L161.2 812.8L164.4 811.9L167.7 811.7L171.0 812.1L174.2 812.9L177.4 814.0L180.4 815.4L183.3 817.5L185.5 820.1L186.9 823.3L187.4 826.7Z"/></clipPath><g clip-path="url(#nc12)"><g stroke="#2630f0" stroke-opacity="0.75" stroke-linecap="round" fill="none" filter="url(#b05)"><path d="M179.7 823.2h0M163.2 815.4h0M159.2 844.9h0M157.6 828.6h0M171.5 819.6h0M171.4 832.0h0M180.3 823.4h0M162.2 823.2h0M153.3 837.3h0M166.1 826.9h0M178.8 824.7h0M156.3 840.7h0M161.3 816.5h0M158.1 820.2h0M168.3 844.1h0M171.7 816.9h0M167.1 837.5h0M178.9 822.8h0M170.5 833.8h0M173.7 842.4h0M155.1 827.2h0M160.7 843.7h0M181.9 835.6h0" stroke-width="1.6"/><path d="M152.1 828.0h0M177.4 832.5h0M164.4 842.5h0M163.7 824.1h0M163.6 846.3h0M169.0 825.9h0M157.4 822.3h0M185.2 829.2h0M166.8 818.5h0M157.1 843.7h0M162.8 836.4h0M180.7 832.0h0M162.4 839.3h0M154.5 831.3h0" stroke-width="2.0"/><path d="M160.4 834.9h0M155.2 841.8h0M154.0 832.9h0M181.8 835.6h0M183.5 830.4h0M166.9 824.6h0M156.4 834.4h0M160.1 815.2h0" stroke-width="2.4"/><path d="M176.9 828.4h0M165.8 822.1h0M175.7 815.5h0M172.3 821.9h0M179.7 828.3h0" stroke-width="2.8"/></g></g><clipPath id="nc13"><path d="M187.0 830.0L186.0 833.1L184.9 836.0L183.6 838.8L182.1 841.6L180.2 844.3L177.6 846.5L174.5 847.9L171.1 848.3L167.7 848.0L164.5 847.1L161.6 846.2L158.6 845.2L155.4 844.0L152.3 842.4L149.6 840.0L147.7 837.0L147.0 833.5L147.4 830.0L148.7 826.8L150.3 823.9L152.1 821.3L153.9 818.9L155.9 816.5L158.3 814.4L161.2 812.8L164.4 811.9L167.7 811.7L171.0 812.1L174.2 812.9L177.4 814.0L180.4 815.4L183.3 817.5L185.5 820.1L186.9 823.3L187.4 826.7Z"/></clipPath><g clip-path="url(#nc13)"><g stroke="#50f060" stroke-opacity="0.9" stroke-linecap="round" fill="none"><path d="M167.7 845.3h0M179.1 838.9h0M169.0 818.2h0M160.1 816.2h0M173.1 825.6h0" stroke-width="0.8"/><path d="M176.8 817.8h0" stroke-width="1.2"/></g></g><path d="M220.5 838.0L220.8 841.0L220.8 843.9L220.4 846.9L219.7 850.0L218.3 853.0L216.2 855.7L213.4 857.9L210.1 859.4L206.6 860.2L203.1 860.3L199.8 859.9L196.7 859.2L193.7 858.2L191.0 856.9L188.4 855.2L186.3 853.1L184.5 850.7L183.2 848.0L182.5 845.1L182.2 842.0L182.6 838.9L183.7 835.8L185.5 832.9L188.0 830.5L191.0 828.6L194.3 827.4L197.6 826.7L200.9 826.4L204.2 826.3L207.4 826.6L210.6 827.2L213.6 828.4L216.3 830.1L218.3 832.5L219.8 835.2Z" fill="#080a88" filter="url(#b1)"/><clipPath id="nc14"><path d="M220.5 838.0L220.8 841.0L220.8 843.9L220.4 846.9L219.7 850.0L218.3 853.0L216.2 855.7L213.4 857.9L210.1 859.4L206.6 860.2L203.1 860.3L199.8 859.9L196.7 859.2L193.7 858.2L191.0 856.9L188.4 855.2L186.3 853.1L184.5 850.7L183.2 848.0L182.5 845.1L182.2 842.0L182.6 838.9L183.7 835.8L185.5 832.9L188.0 830.5L191.0 828.6L194.3 827.4L197.6 826.7L200.9 826.4L204.2 826.3L207.4 826.6L210.6 827.2L213.6 828.4L216.3 830.1L218.3 832.5L219.8 835.2Z"/></clipPath><g clip-path="url(#nc14)"><g stroke="#2630f0" stroke-opacity="0.75" stroke-linecap="round" fill="none" filter="url(#b05)"><path d="M188.7 852.2h0M200.6 856.3h0M212.7 851.9h0M210.0 849.1h0M209.2 830.2h0M202.7 855.6h0M207.3 829.5h0M210.3 832.2h0M206.3 833.7h0M199.1 835.6h0M195.5 830.3h0M194.3 833.3h0M206.4 856.2h0M194.8 840.7h0M201.5 828.7h0M210.3 845.6h0M217.6 835.5h0M198.5 840.9h0" stroke-width="1.6"/><path d="M205.0 858.3h0M203.1 829.9h0M195.5 832.3h0M209.0 837.4h0M202.0 851.1h0M190.9 841.1h0M202.8 850.1h0M210.7 847.4h0M202.2 841.8h0M212.9 854.9h0M196.0 849.0h0M218.2 846.8h0M212.9 848.4h0M208.9 833.4h0" stroke-width="2.0"/><path d="M198.2 844.2h0M209.1 839.5h0M207.1 832.5h0M216.4 834.0h0M196.4 844.6h0M189.9 845.8h0M208.7 855.0h0M193.2 843.7h0" stroke-width="2.4"/><path d="M207.3 854.6h0M190.3 838.4h0M201.2 834.3h0M207.9 846.9h0M214.0 841.5h0M208.1 834.2h0M197.9 850.3h0" stroke-width="2.8"/></g></g><clipPath id="nc15"><path d="M220.5 838.0L220.8 841.0L220.8 843.9L220.4 846.9L219.7 850.0L218.3 853.0L216.2 855.7L213.4 857.9L210.1 859.4L206.6 860.2L203.1 860.3L199.8 859.9L196.7 859.2L193.7 858.2L191.0 856.9L188.4 855.2L186.3 853.1L184.5 850.7L183.2 848.0L182.5 845.1L182.2 842.0L182.6 838.9L183.7 835.8L185.5 832.9L188.0 830.5L191.0 828.6L194.3 827.4L197.6 826.7L200.9 826.4L204.2 826.3L207.4 826.6L210.6 827.2L213.6 828.4L216.3 830.1L218.3 832.5L219.8 835.2Z"/></clipPath><g clip-path="url(#nc15)"><g stroke="#50f060" stroke-opacity="0.9" stroke-linecap="round" fill="none"><path d="M198.2 851.3h0M188.1 852.5h0M199.2 857.5h0M206.0 834.5h0M207.4 838.7h0" stroke-width="0.8"/><path d="M212.7 850.6h0" stroke-width="1.2"/></g></g><path d="M160.9 870.5L161.5 873.5L161.1 876.5L159.7 879.4L157.4 881.7L154.6 883.6L151.5 884.8L148.3 885.6L145.1 885.9L142.0 885.8L139.0 885.3L136.2 884.5L133.5 883.3L130.9 882.0L128.5 880.4L126.2 878.4L124.3 876.1L123.1 873.4L122.7 870.5L123.2 867.6L124.4 864.9L126.1 862.5L128.1 860.4L130.3 858.4L132.7 856.5L135.4 854.8L138.6 853.7L142.0 853.3L145.4 853.9L148.3 855.4L150.7 857.3L152.6 859.5L154.3 861.5L156.0 863.5L157.8 865.5L159.5 867.8Z" fill="#080a88" filter="url(#b1)"/><clipPath id="nc16"><path d="M160.9 870.5L161.5 873.5L161.1 876.5L159.7 879.4L157.4 881.7L154.6 883.6L151.5 884.8L148.3 885.6L145.1 885.9L142.0 885.8L139.0 885.3L136.2 884.5L133.5 883.3L130.9 882.0L128.5 880.4L126.2 878.4L124.3 876.1L123.1 873.4L122.7 870.5L123.2 867.6L124.4 864.9L126.1 862.5L128.1 860.4L130.3 858.4L132.7 856.5L135.4 854.8L138.6 853.7L142.0 853.3L145.4 853.9L148.3 855.4L150.7 857.3L152.6 859.5L154.3 861.5L156.0 863.5L157.8 865.5L159.5 867.8Z"/></clipPath><g clip-path="url(#nc16)"><g stroke="#2630f0" stroke-opacity="0.75" stroke-linecap="round" fill="none" filter="url(#b05)"><path d="M142.6 867.2h0M152.7 881.0h0M132.0 865.3h0M153.2 870.0h0M126.3 868.3h0M144.9 856.8h0M131.4 868.9h0M134.5 867.2h0M140.5 870.6h0M136.1 863.1h0M140.7 880.2h0M153.5 862.7h0M147.3 857.1h0M150.4 877.4h0M157.5 865.0h0M144.1 872.0h0" stroke-width="1.6"/><path d="M143.6 876.5h0M128.1 867.0h0M145.3 880.0h0M154.0 877.0h0M141.8 863.2h0M128.6 862.5h0M142.1 881.8h0M139.1 865.4h0M147.8 867.9h0M135.3 872.3h0M148.3 870.8h0M128.6 878.5h0" stroke-width="2.0"/><path d="M155.9 878.7h0M149.0 858.6h0M136.6 875.1h0M132.3 859.8h0M146.8 862.8h0M146.8 862.7h0M135.3 859.6h0M155.1 872.1h0M153.7 869.3h0M142.3 858.8h0" stroke-width="2.4"/><path d="M148.4 863.5h0M135.4 867.1h0M150.0 863.3h0" stroke-width="2.8"/></g></g><clipPath id="nc17"><path d="M160.9 870.5L161.5 873.5L161.1 876.5L159.7 879.4L157.4 881.7L154.6 883.6L151.5 884.8L148.3 885.6L145.1 885.9L142.0 885.8L139.0 885.3L136.2 884.5L133.5 883.3L130.9 882.0L128.5 880.4L126.2 878.4L124.3 876.1L123.1 873.4L122.7 870.5L123.2 867.6L124.4 864.9L126.1 862.5L128.1 860.4L130.3 858.4L132.7 856.5L135.4 854.8L138.6 853.7L142.0 853.3L145.4 853.9L148.3 855.4L150.7 857.3L152.6 859.5L154.3 861.5L156.0 863.5L157.8 865.5L159.5 867.8Z"/></clipPath><g clip-path="url(#nc17)"><g stroke="#50f060" stroke-opacity="0.9" stroke-linecap="round" fill="none"><path d="M128.9 878.9h0M140.3 872.7h0M133.5 858.6h0M138.0 878.9h0M148.1 862.5h0M153.6 864.9h0" stroke-width="0.8"/></g></g><path d="M195.7 866.5L195.7 869.6L195.2 872.7L194.0 875.7L192.1 878.2L189.6 880.1L186.7 881.4L183.8 882.2L180.9 882.8L178.0 883.2L175.0 883.3L171.9 883.0L169.0 881.9L166.5 880.0L164.6 877.6L163.3 874.9L162.4 872.1L161.6 869.4L160.8 866.5L160.2 863.4L160.3 860.1L161.2 856.9L163.2 854.2L165.9 852.3L169.1 851.2L172.2 850.8L175.2 850.7L178.0 850.7L180.8 850.6L183.8 850.8L186.8 851.5L189.5 852.9L191.8 855.1L193.4 857.7L194.5 860.6L195.2 863.5Z" fill="#080a88" filter="url(#b1)"/><clipPath id="nc18"><path d="M195.7 866.5L195.7 869.6L195.2 872.7L194.0 875.7L192.1 878.2L189.6 880.1L186.7 881.4L183.8 882.2L180.9 882.8L178.0 883.2L175.0 883.3L171.9 883.0L169.0 881.9L166.5 880.0L164.6 877.6L163.3 874.9L162.4 872.1L161.6 869.4L160.8 866.5L160.2 863.4L160.3 860.1L161.2 856.9L163.2 854.2L165.9 852.3L169.1 851.2L172.2 850.8L175.2 850.7L178.0 850.7L180.8 850.6L183.8 850.8L186.8 851.5L189.5 852.9L191.8 855.1L193.4 857.7L194.5 860.6L195.2 863.5Z"/></clipPath><g clip-path="url(#nc18)"><g stroke="#2630f0" stroke-opacity="0.75" stroke-linecap="round" fill="none" filter="url(#b05)"><path d="M171.2 869.4h0M163.5 862.7h0M187.3 865.1h0M169.8 860.1h0M163.8 869.3h0M169.6 879.5h0M186.3 880.0h0M170.7 876.6h0M188.9 875.7h0M168.3 856.6h0M189.4 864.6h0M182.0 872.0h0M180.6 851.0h0M170.1 853.8h0M187.0 877.2h0M170.5 852.8h0M167.4 867.7h0M167.1 872.1h0M164.2 869.9h0M192.4 865.4h0M172.9 855.3h0M188.0 861.2h0M175.8 856.5h0" stroke-width="1.6"/><path d="M177.1 868.7h0M182.2 872.8h0M172.9 867.9h0M188.0 869.5h0M182.1 858.2h0M171.9 854.5h0M171.8 860.2h0M182.2 877.1h0" stroke-width="2.0"/><path d="M173.2 857.3h0M170.8 863.4h0M166.6 858.3h0M174.4 853.8h0M171.1 872.4h0M192.0 872.0h0M171.5 872.1h0M174.9 865.0h0M174.5 852.8h0" stroke-width="2.4"/><path d="M173.8 868.8h0M188.3 862.3h0M182.3 854.3h0" stroke-width="2.8"/></g></g><clipPath id="nc19"><path d="M195.7 866.5L195.7 869.6L195.2 872.7L194.0 875.7L192.1 878.2L189.6 880.1L186.7 881.4L183.8 882.2L180.9 882.8L178.0 883.2L175.0 883.3L171.9 883.0L169.0 881.9L166.5 880.0L164.6 877.6L163.3 874.9L162.4 872.1L161.6 869.4L160.8 866.5L160.2 863.4L160.3 860.1L161.2 856.9L163.2 854.2L165.9 852.3L169.1 851.2L172.2 850.8L175.2 850.7L178.0 850.7L180.8 850.6L183.8 850.8L186.8 851.5L189.5 852.9L191.8 855.1L193.4 857.7L194.5 860.6L195.2 863.5Z"/></clipPath><g clip-path="url(#nc19)"><g stroke="#50f060" stroke-opacity="0.9" stroke-linecap="round" fill="none"><path d="M172.9 866.8h0M178.2 879.9h0M172.6 864.4h0M173.0 864.7h0M182.5 852.4h0" stroke-width="0.8"/><path d="M179.7 866.0h0" stroke-width="1.2"/></g></g><path d="M236.6 870.0L235.8 872.8L235.0 875.5L234.0 878.3L232.5 881.0L230.2 883.4L227.1 885.3L223.4 886.2L219.6 886.4L216.0 886.0L212.6 885.4L209.3 884.7L206.0 883.8L202.7 882.6L199.7 880.9L197.3 878.6L195.8 875.9L195.1 872.9L195.0 870.0L195.3 867.1L196.0 864.2L197.2 861.3L199.0 858.7L201.7 856.5L205.1 855.0L208.9 854.4L212.5 854.4L216.0 854.8L219.3 855.1L222.7 855.4L226.2 855.9L229.9 856.9L233.1 858.6L235.5 861.0L236.8 864.0L237.0 867.0Z" fill="#080a88" filter="url(#b1)"/><clipPath id="nc20"><path d="M236.6 870.0L235.8 872.8L235.0 875.5L234.0 878.3L232.5 881.0L230.2 883.4L227.1 885.3L223.4 886.2L219.6 886.4L216.0 886.0L212.6 885.4L209.3 884.7L206.0 883.8L202.7 882.6L199.7 880.9L197.3 878.6L195.8 875.9L195.1 872.9L195.0 870.0L195.3 867.1L196.0 864.2L197.2 861.3L199.0 858.7L201.7 856.5L205.1 855.0L208.9 854.4L212.5 854.4L216.0 854.8L219.3 855.1L222.7 855.4L226.2 855.9L229.9 856.9L233.1 858.6L235.5 861.0L236.8 864.0L237.0 867.0Z"/></clipPath><g clip-path="url(#nc20)"><g stroke="#2630f0" stroke-opacity="0.75" stroke-linecap="round" fill="none" filter="url(#b05)"><path d="M206.2 858.2h0M217.6 883.7h0M222.5 876.2h0M217.7 858.1h0M220.0 876.9h0M217.3 882.8h0M232.7 870.0h0M213.9 869.5h0M208.1 883.5h0M220.2 879.0h0M235.0 870.6h0M215.9 855.1h0M213.8 866.0h0M197.0 869.5h0M210.1 874.1h0M198.0 866.3h0M232.7 873.7h0M204.6 864.7h0M229.6 871.6h0M205.4 876.9h0M206.0 859.2h0M207.5 867.1h0" stroke-width="1.6"/><path d="M220.9 859.5h0M205.5 869.9h0M224.3 858.8h0M217.3 856.9h0M230.5 877.3h0M224.1 869.4h0M215.2 875.7h0M213.4 881.8h0M205.1 881.0h0M222.8 862.9h0M230.9 869.1h0M221.6 868.8h0M212.3 855.6h0M201.6 876.9h0M217.0 878.7h0" stroke-width="2.0"/><path d="M224.1 876.7h0M218.9 861.2h0M223.2 866.7h0M201.9 877.7h0M212.3 872.3h0M211.5 876.0h0" stroke-width="2.4"/><path d="M233.3 863.6h0M218.6 883.6h0M202.2 865.0h0M202.2 876.7h0M220.6 857.8h0M210.2 868.4h0" stroke-width="2.8"/></g></g><clipPath id="nc21"><path d="M236.6 870.0L235.8 872.8L235.0 875.5L234.0 878.3L232.5 881.0L230.2 883.4L227.1 885.3L223.4 886.2L219.6 886.4L216.0 886.0L212.6 885.4L209.3 884.7L206.0 883.8L202.7 882.6L199.7 880.9L197.3 878.6L195.8 875.9L195.1 872.9L195.0 870.0L195.3 867.1L196.0 864.2L197.2 861.3L199.0 858.7L201.7 856.5L205.1 855.0L208.9 854.4L212.5 854.4L216.0 854.8L219.3 855.1L222.7 855.4L226.2 855.9L229.9 856.9L233.1 858.6L235.5 861.0L236.8 864.0L237.0 867.0Z"/></clipPath><g clip-path="url(#nc21)"><g stroke="#50f060" stroke-opacity="0.9" stroke-linecap="round" fill="none"><path d="M201.4 870.2h0" stroke-width="0.8"/><path d="M205.9 880.5h0M202.8 877.8h0M230.7 875.4h0M217.1 867.2h0M207.9 865.2h0" stroke-width="1.2"/></g></g><path d="M247.7 809.0L247.2 812.9L246.1 816.4L244.7 819.3L243.3 821.8L241.9 824.1L240.5 826.5L238.9 828.9L237.1 830.9L235.0 832.1L232.8 832.0L230.7 830.7L228.9 828.4L227.4 825.6L226.0 822.8L224.8 819.8L223.6 816.6L222.6 813.0L222.2 809.0L222.4 804.9L223.3 801.2L224.7 798.1L226.3 795.7L228.0 793.6L229.6 791.7L231.2 789.8L233.0 788.1L235.0 787.1L237.1 786.9L239.2 787.7L241.2 789.5L242.9 791.8L244.4 794.5L245.8 797.6L246.9 801.1L247.6 804.9Z" fill="#080a88" filter="url(#b1)"/><clipPath id="nc22"><path d="M247.7 809.0L247.2 812.9L246.1 816.4L244.7 819.3L243.3 821.8L241.9 824.1L240.5 826.5L238.9 828.9L237.1 830.9L235.0 832.1L232.8 832.0L230.7 830.7L228.9 828.4L227.4 825.6L226.0 822.8L224.8 819.8L223.6 816.6L222.6 813.0L222.2 809.0L222.4 804.9L223.3 801.2L224.7 798.1L226.3 795.7L228.0 793.6L229.6 791.7L231.2 789.8L233.0 788.1L235.0 787.1L237.1 786.9L239.2 787.7L241.2 789.5L242.9 791.8L244.4 794.5L245.8 797.6L246.9 801.1L247.6 804.9Z"/></clipPath><g clip-path="url(#nc22)"><g stroke="#2630f0" stroke-opacity="0.75" stroke-linecap="round" fill="none" filter="url(#b05)"><path d="M242.8 820.2h0M230.9 804.6h0M235.9 810.2h0M243.1 809.8h0M242.3 811.1h0M235.1 795.6h0M235.2 816.4h0M235.8 796.7h0M234.9 822.8h0M228.4 812.9h0M238.1 822.2h0M232.7 825.0h0M242.4 798.2h0M236.0 827.5h0M234.5 812.0h0M242.2 806.8h0M234.6 809.6h0M236.1 814.5h0M228.0 824.5h0M229.4 824.0h0" stroke-width="1.6"/><path d="M236.8 813.3h0M229.4 813.5h0M238.4 809.4h0M228.1 799.4h0M236.6 824.5h0M233.9 817.5h0M237.0 791.0h0M233.7 828.1h0M240.9 797.4h0" stroke-width="2.0"/><path d="M232.1 816.7h0M229.6 812.4h0M226.9 804.0h0M236.6 792.3h0M234.6 824.4h0M239.3 807.9h0M230.7 806.6h0M232.3 805.8h0" stroke-width="2.4"/></g></g><clipPath id="nc23"><path d="M247.7 809.0L247.2 812.9L246.1 816.4L244.7 819.3L243.3 821.8L241.9 824.1L240.5 826.5L238.9 828.9L237.1 830.9L235.0 832.1L232.8 832.0L230.7 830.7L228.9 828.4L227.4 825.6L226.0 822.8L224.8 819.8L223.6 816.6L222.6 813.0L222.2 809.0L222.4 804.9L223.3 801.2L224.7 798.1L226.3 795.7L228.0 793.6L229.6 791.7L231.2 789.8L233.0 788.1L235.0 787.1L237.1 786.9L239.2 787.7L241.2 789.5L242.9 791.8L244.4 794.5L245.8 797.6L246.9 801.1L247.6 804.9Z"/></clipPath><g clip-path="url(#nc23)"><g stroke="#50f060" stroke-opacity="0.9" stroke-linecap="round" fill="none"><path d="M226.4 813.8h0M230.3 823.4h0M234.4 828.6h0M233.3 791.9h0M245.0 802.8h0" stroke-width="0.8"/><path d="M241.4 811.5h0" stroke-width="1.2"/></g></g><path d="M121.9 812.0L121.6 814.7L121.1 817.2L120.4 819.6L119.6 821.8L118.6 823.8L117.4 825.5L116.0 826.8L114.6 827.8L113.0 828.4L111.4 828.5L109.7 828.0L108.2 826.9L106.8 825.1L105.8 822.8L105.1 820.1L104.8 817.3L104.7 814.6L104.7 812.0L104.8 809.4L105.0 806.8L105.4 804.2L106.0 801.6L107.0 799.3L108.3 797.6L109.8 796.5L111.4 796.0L113.0 796.0L114.6 796.4L116.1 797.0L117.5 798.1L118.9 799.5L120.1 801.4L121.1 803.7L121.7 806.4L121.9 809.2Z" fill="#080a88" filter="url(#b1)"/><clipPath id="nc24"><path d="M121.9 812.0L121.6 814.7L121.1 817.2L120.4 819.6L119.6 821.8L118.6 823.8L117.4 825.5L116.0 826.8L114.6 827.8L113.0 828.4L111.4 828.5L109.7 828.0L108.2 826.9L106.8 825.1L105.8 822.8L105.1 820.1L104.8 817.3L104.7 814.6L104.7 812.0L104.8 809.4L105.0 806.8L105.4 804.2L106.0 801.6L107.0 799.3L108.3 797.6L109.8 796.5L111.4 796.0L113.0 796.0L114.6 796.4L116.1 797.0L117.5 798.1L118.9 799.5L120.1 801.4L121.1 803.7L121.7 806.4L121.9 809.2Z"/></clipPath><g clip-path="url(#nc24)"><g stroke="#2630f0" stroke-opacity="0.75" stroke-linecap="round" fill="none" filter="url(#b05)"><path d="M111.0 816.0h0M116.8 823.8h0M110.1 804.0h0M117.7 815.1h0M106.7 805.3h0M111.5 805.2h0M110.9 826.0h0M111.2 803.5h0" stroke-width="1.6"/><path d="M117.0 804.1h0M111.1 819.6h0" stroke-width="2.0"/><path d="M110.2 802.6h0M111.1 812.3h0M109.7 807.3h0M117.3 800.5h0M113.5 815.5h0M109.3 800.5h0M114.4 823.3h0" stroke-width="2.4"/><path d="M117.4 822.5h0M113.9 813.7h0M109.4 807.4h0" stroke-width="2.8"/></g></g><clipPath id="nc25"><path d="M121.9 812.0L121.6 814.7L121.1 817.2L120.4 819.6L119.6 821.8L118.6 823.8L117.4 825.5L116.0 826.8L114.6 827.8L113.0 828.4L111.4 828.5L109.7 828.0L108.2 826.9L106.8 825.1L105.8 822.8L105.1 820.1L104.8 817.3L104.7 814.6L104.7 812.0L104.8 809.4L105.0 806.8L105.4 804.2L106.0 801.6L107.0 799.3L108.3 797.6L109.8 796.5L111.4 796.0L113.0 796.0L114.6 796.4L116.1 797.0L117.5 798.1L118.9 799.5L120.1 801.4L121.1 803.7L121.7 806.4L121.9 809.2Z"/></clipPath><g clip-path="url(#nc25)"><g stroke="#50f060" stroke-opacity="0.9" stroke-linecap="round" fill="none"><path d="M117.0 812.2h0M115.6 817.1h0" stroke-width="0.8"/><path d="M109.5 814.7h0M110.3 803.5h0M114.7 812.9h0M114.4 805.0h0" stroke-width="1.2"/></g></g><path d="M243.4 905.0L243.0 907.8L241.8 910.4L239.9 912.8L237.6 914.8L235.0 916.6L232.0 918.0L228.8 919.0L225.4 919.4L222.0 919.3L218.8 918.7L215.7 917.9L212.8 916.9L209.8 915.9L206.8 914.6L204.0 912.8L201.7 910.5L200.5 907.8L200.3 905.0L201.3 902.3L203.0 899.8L205.0 897.7L207.2 895.7L209.5 893.8L212.1 892.1L215.1 890.7L218.5 889.9L222.0 889.9L225.4 890.5L228.5 891.6L231.3 892.9L233.9 894.3L236.5 895.9L239.0 897.6L241.2 899.8L242.8 902.3Z" fill="#080a88" filter="url(#b1)"/><clipPath id="nc26"><path d="M243.4 905.0L243.0 907.8L241.8 910.4L239.9 912.8L237.6 914.8L235.0 916.6L232.0 918.0L228.8 919.0L225.4 919.4L222.0 919.3L218.8 918.7L215.7 917.9L212.8 916.9L209.8 915.9L206.8 914.6L204.0 912.8L201.7 910.5L200.5 907.8L200.3 905.0L201.3 902.3L203.0 899.8L205.0 897.7L207.2 895.7L209.5 893.8L212.1 892.1L215.1 890.7L218.5 889.9L222.0 889.9L225.4 890.5L228.5 891.6L231.3 892.9L233.9 894.3L236.5 895.9L239.0 897.6L241.2 899.8L242.8 902.3Z"/></clipPath><g clip-path="url(#nc26)"><g stroke="#2630f0" stroke-opacity="0.75" stroke-linecap="round" fill="none" filter="url(#b05)"><path d="M237.5 902.9h0M224.5 892.6h0M220.9 908.3h0M222.3 898.2h0M239.8 903.3h0M212.4 900.5h0M233.7 905.4h0M214.5 897.7h0M214.8 915.4h0M230.4 915.0h0M220.5 905.2h0M206.8 911.2h0M228.7 905.9h0M222.8 915.3h0M205.5 903.2h0M228.9 914.1h0M234.6 898.0h0" stroke-width="1.6"/><path d="M212.0 908.8h0M238.4 904.0h0M222.1 911.2h0M233.2 896.3h0M206.5 910.9h0M226.7 897.9h0M215.0 911.1h0M231.8 897.4h0M228.1 896.5h0M214.6 910.2h0M206.9 901.9h0M216.6 912.3h0M209.0 907.0h0M220.7 911.8h0" stroke-width="2.0"/><path d="M212.0 902.0h0M225.0 906.8h0M212.3 894.7h0M227.4 892.3h0M220.5 898.5h0M223.5 896.5h0" stroke-width="2.4"/><path d="M229.7 898.4h0M217.4 915.7h0M226.3 894.3h0M217.5 911.3h0M224.9 901.1h0" stroke-width="2.8"/></g></g><clipPath id="nc27"><path d="M243.4 905.0L243.0 907.8L241.8 910.4L239.9 912.8L237.6 914.8L235.0 916.6L232.0 918.0L228.8 919.0L225.4 919.4L222.0 919.3L218.8 918.7L215.7 917.9L212.8 916.9L209.8 915.9L206.8 914.6L204.0 912.8L201.7 910.5L200.5 907.8L200.3 905.0L201.3 902.3L203.0 899.8L205.0 897.7L207.2 895.7L209.5 893.8L212.1 892.1L215.1 890.7L218.5 889.9L222.0 889.9L225.4 890.5L228.5 891.6L231.3 892.9L233.9 894.3L236.5 895.9L239.0 897.6L241.2 899.8L242.8 902.3Z"/></clipPath><g clip-path="url(#nc27)"><g stroke="#50f060" stroke-opacity="0.9" stroke-linecap="round" fill="none"><path d="M227.5 892.3h0M230.6 903.9h0M221.8 916.9h0M227.8 900.0h0" stroke-width="0.8"/><path d="M212.5 911.6h0M230.0 896.2h0" stroke-width="1.2"/></g></g></g>
<path transform="translate(194 824.5) rotate(58)" d="M0 0 L-17 -8.5 L-12 0 L-17 8.5 Z" fill="#e82028"/>
<rect x="252.7" y="786.5" width="122.60000000000002" height="123.0" fill="#000"/>
<g clip-path="url(#cp11)"><path d="M257.3 857.3C257.3 850.0 259.4 841.8 262.2 835.3C265.0 828.8 269.3 823.1 274.4 818.2C279.5 813.3 285.6 809.2 292.7 806.0C299.8 802.8 309.0 799.7 317.2 798.7C325.4 797.7 334.5 798.3 341.6 799.9C348.7 801.5 355.1 804.3 360.0 808.4C364.9 812.5 369.2 818.2 371.0 824.3C372.8 830.4 372.0 837.5 371.0 845.0C370.0 852.5 368.7 863.0 364.8 869.5C360.9 876.0 354.2 880.5 347.7 884.2C341.2 887.9 333.8 889.5 325.7 891.5C317.6 893.5 307.0 896.4 298.9 896.4C290.8 896.4 283.0 894.4 276.9 891.5C270.8 888.6 265.5 885.0 262.2 879.3C258.9 873.6 257.3 864.6 257.3 857.3Z" fill="#0c0e9c" filter="url(#b2)"/><clipPath id="nc28"><path d="M257.3 857.3C257.3 850.0 259.4 841.8 262.2 835.3C265.0 828.8 269.3 823.1 274.4 818.2C279.5 813.3 285.6 809.2 292.7 806.0C299.8 802.8 309.0 799.7 317.2 798.7C325.4 797.7 334.5 798.3 341.6 799.9C348.7 801.5 355.1 804.3 360.0 808.4C364.9 812.5 369.2 818.2 371.0 824.3C372.8 830.4 372.0 837.5 371.0 845.0C370.0 852.5 368.7 863.0 364.8 869.5C360.9 876.0 354.2 880.5 347.7 884.2C341.2 887.9 333.8 889.5 325.7 891.5C317.6 893.5 307.0 896.4 298.9 896.4C290.8 896.4 283.0 894.4 276.9 891.5C270.8 888.6 265.5 885.0 262.2 879.3C258.9 873.6 257.3 864.6 257.3 857.3Z"/></clipPath><g clip-path="url(#nc28)"><g stroke="#2530ff" stroke-opacity="0.75" stroke-linecap="round" fill="none" filter="url(#b15)"><path d="M288.3 876.6h0M324.4 821.6h0M329.9 887.1h0M350.2 852.1h0M340.8 835.0h0M312.2 878.9h0" stroke-width="4.0"/><path d="M323.0 889.9h0M358.0 836.6h0M336.9 862.9h0M303.6 815.1h0M275.3 856.2h0M336.1 874.2h0M304.3 827.8h0M341.8 841.0h0M319.5 839.1h0M316.7 824.7h0" stroke-width="4.4"/><path d="M323.7 874.1h0M345.0 824.0h0M271.1 841.6h0M311.2 856.7h0M344.0 825.5h0M349.5 842.0h0" stroke-width="4.8"/><path d="M298.1 890.2h0M295.4 867.0h0M298.2 845.5h0M271.4 870.3h0" stroke-width="5.2"/><path d="M315.7 857.1h0M281.6 836.6h0M334.9 839.0h0" stroke-width="5.6"/><path d="M277.2 854.6h0M292.4 847.5h0M294.5 825.4h0M334.5 853.9h0M356.1 856.3h0M304.6 811.2h0" stroke-width="6.0"/><path d="M290.5 826.3h0M357.5 870.5h0M306.5 886.4h0M343.2 881.7h0M334.9 868.0h0M343.5 817.2h0" stroke-width="6.4"/><path d="M290.2 823.9h0M299.3 853.9h0M345.3 860.0h0M290.5 877.9h0M287.8 815.5h0M278.0 842.2h0" stroke-width="6.8"/><path d="M358.9 848.8h0M320.5 807.0h0M323.2 884.0h0" stroke-width="7.2"/></g></g><clipPath id="nc29"><path d="M257.3 857.3C257.3 850.0 259.4 841.8 262.2 835.3C265.0 828.8 269.3 823.1 274.4 818.2C279.5 813.3 285.6 809.2 292.7 806.0C299.8 802.8 309.0 799.7 317.2 798.7C325.4 797.7 334.5 798.3 341.6 799.9C348.7 801.5 355.1 804.3 360.0 808.4C364.9 812.5 369.2 818.2 371.0 824.3C372.8 830.4 372.0 837.5 371.0 845.0C370.0 852.5 368.7 863.0 364.8 869.5C360.9 876.0 354.2 880.5 347.7 884.2C341.2 887.9 333.8 889.5 325.7 891.5C317.6 893.5 307.0 896.4 298.9 896.4C290.8 896.4 283.0 894.4 276.9 891.5C270.8 888.6 265.5 885.0 262.2 879.3C258.9 873.6 257.3 864.6 257.3 857.3Z"/></clipPath><g clip-path="url(#nc29)"><g stroke="#000048" stroke-opacity="0.55" stroke-linecap="round" fill="none" filter="url(#b2)"><path d="M319.2 862.4h0M296.5 833.1h0" stroke-width="6.0"/><path d="M295.5 849.7h0M295.9 871.4h0M322.8 833.0h0M343.5 853.6h0M286.2 834.3h0M337.2 858.2h0M317.6 889.1h0M352.8 831.7h0" stroke-width="6.4"/><path d="M348.2 834.8h0M335.7 838.1h0M316.9 881.0h0" stroke-width="6.8"/><path d="M352.1 832.8h0M324.2 849.6h0M341.0 869.2h0M303.1 871.7h0M279.2 876.7h0" stroke-width="7.2"/><path d="M284.7 869.4h0M285.9 841.6h0M341.2 876.9h0M308.5 840.5h0" stroke-width="7.6"/><path d="M315.9 867.4h0" stroke-width="8.0"/><path d="M290.1 872.0h0M304.6 883.0h0M323.4 811.8h0" stroke-width="8.4"/><path d="M315.9 866.8h0M351.2 866.1h0M333.7 869.0h0" stroke-width="9.2"/><path d="M348.8 861.8h0M328.0 840.8h0" stroke-width="9.6"/><path d="M340.7 831.2h0M293.5 852.2h0" stroke-width="10.0"/></g></g><clipPath id="nc30"><path d="M257.3 857.3C257.3 850.0 259.4 841.8 262.2 835.3C265.0 828.8 269.3 823.1 274.4 818.2C279.5 813.3 285.6 809.2 292.7 806.0C299.8 802.8 309.0 799.7 317.2 798.7C325.4 797.7 334.5 798.3 341.6 799.9C348.7 801.5 355.1 804.3 360.0 808.4C364.9 812.5 369.2 818.2 371.0 824.3C372.8 830.4 372.0 837.5 371.0 845.0C370.0 852.5 368.7 863.0 364.8 869.5C360.9 876.0 354.2 880.5 347.7 884.2C341.2 887.9 333.8 889.5 325.7 891.5C317.6 893.5 307.0 896.4 298.9 896.4C290.8 896.4 283.0 894.4 276.9 891.5C270.8 888.6 265.5 885.0 262.2 879.3C258.9 873.6 257.3 864.6 257.3 857.3Z"/></clipPath><g clip-path="url(#nc30)"><g stroke="#4080d0" stroke-opacity="0.85" stroke-linecap="round" fill="none"><path d="M320.7 877.5h0M294.7 885.6h0M324.8 822.4h0M271.2 870.8h0M295.3 846.2h0M305.5 879.5h0M325.7 811.3h0M316.8 814.5h0M313.5 852.5h0M292.0 816.8h0M289.2 829.4h0M355.5 856.3h0M337.9 880.0h0M347.0 875.3h0M342.7 858.8h0M303.3 814.1h0M275.3 825.6h0M285.9 855.3h0M350.6 860.6h0M338.4 860.7h0M292.9 817.8h0M327.3 812.0h0M357.8 829.8h0M338.6 838.8h0M311.6 881.7h0M331.2 863.8h0M288.4 878.7h0M323.0 844.7h0" stroke-width="1.2"/><path d="M295.8 851.4h0M298.0 870.7h0M315.8 882.6h0M309.6 833.0h0M346.7 818.9h0M347.7 878.6h0M353.4 826.9h0M350.5 878.1h0M318.7 851.4h0M280.1 856.6h0M314.5 874.5h0M330.5 881.3h0M327.6 877.2h0M334.6 847.2h0M270.0 852.4h0M289.1 877.6h0M282.4 850.4h0M305.0 839.1h0M361.5 863.2h0M336.3 873.7h0M327.1 885.4h0M295.8 822.2h0" stroke-width="1.6"/></g></g><clipPath id="nc31"><path d="M257.3 857.3C257.3 850.0 259.4 841.8 262.2 835.3C265.0 828.8 269.3 823.1 274.4 818.2C279.5 813.3 285.6 809.2 292.7 806.0C299.8 802.8 309.0 799.7 317.2 798.7C325.4 797.7 334.5 798.3 341.6 799.9C348.7 801.5 355.1 804.3 360.0 808.4C364.9 812.5 369.2 818.2 371.0 824.3C372.8 830.4 372.0 837.5 371.0 845.0C370.0 852.5 368.7 863.0 364.8 869.5C360.9 876.0 354.2 880.5 347.7 884.2C341.2 887.9 333.8 889.5 325.7 891.5C317.6 893.5 307.0 896.4 298.9 896.4C290.8 896.4 283.0 894.4 276.9 891.5C270.8 888.6 265.5 885.0 262.2 879.3C258.9 873.6 257.3 864.6 257.3 857.3Z"/></clipPath><g clip-path="url(#nc31)"><g stroke="#40f060" stroke-opacity="0.95" stroke-linecap="round" fill="none" filter="url(#b05)"><path d="M292.1 822.0h0M344.5 835.9h0M349.6 818.2h0M305.2 832.6h0" stroke-width="1.6"/><path d="M271.9 863.8h0M321.9 865.0h0M344.9 853.4h0" stroke-width="2.0"/><path d="M335.3 861.3h0M322.8 832.9h0M307.4 875.3h0" stroke-width="2.4"/></g></g><path d="M264.9 835.0L264.3 843.7L263.5 851.9L262.4 859.4L261.0 866.2L259.4 872.1L257.5 877.1L255.5 881.4L253.4 885.0L251.0 887.7L248.4 889.0L245.8 888.0L243.3 884.3L241.3 878.1L239.8 870.0L238.9 861.0L238.3 852.1L238.0 843.5L237.7 835.0L237.6 826.2L237.8 817.1L238.5 808.2L239.9 800.4L241.9 794.5L244.1 790.9L246.5 789.0L248.8 787.9L251.0 787.0L253.3 786.3L255.8 786.2L258.4 787.7L260.8 791.7L262.8 798.1L264.3 806.6L265.0 816.1L265.2 825.7Z" fill="#0e10a8" filter="url(#b2)"/><clipPath id="nc32"><path d="M264.9 835.0L264.3 843.7L263.5 851.9L262.4 859.4L261.0 866.2L259.4 872.1L257.5 877.1L255.5 881.4L253.4 885.0L251.0 887.7L248.4 889.0L245.8 888.0L243.3 884.3L241.3 878.1L239.8 870.0L238.9 861.0L238.3 852.1L238.0 843.5L237.7 835.0L237.6 826.2L237.8 817.1L238.5 808.2L239.9 800.4L241.9 794.5L244.1 790.9L246.5 789.0L248.8 787.9L251.0 787.0L253.3 786.3L255.8 786.2L258.4 787.7L260.8 791.7L262.8 798.1L264.3 806.6L265.0 816.1L265.2 825.7Z"/></clipPath><g clip-path="url(#nc32)"><g stroke="#2530ff" stroke-opacity="0.75" stroke-linecap="round" fill="none" filter="url(#b15)"><path d="M256.0 837.8h0M243.5 837.6h0M238.6 843.5h0" stroke-width="4.0"/><path d="M259.2 852.6h0M250.1 823.4h0M258.2 808.7h0" stroke-width="4.4"/><path d="M255.7 799.4h0M245.7 835.8h0" stroke-width="5.2"/><path d="M253.7 865.1h0M253.3 845.0h0M261.5 822.6h0" stroke-width="5.6"/><path d="M246.4 821.9h0" stroke-width="6.0"/><path d="M242.0 842.7h0" stroke-width="6.8"/></g></g><path d="M395.7 902.3L396.2 905.7L395.8 909.2L394.0 913.0L390.6 916.8L385.4 920.5L378.6 923.6L371.0 926.0L363.1 927.8L355.4 929.1L347.7 930.2L339.9 931.1L331.9 931.5L324.3 931.2L317.8 929.8L313.1 927.4L310.6 924.2L310.0 920.8L310.4 917.3L311.2 914.0L311.8 910.7L312.7 907.2L314.7 903.4L318.4 899.5L324.2 895.8L331.6 892.8L339.9 890.7L348.4 889.6L356.5 889.1L364.0 889.1L371.1 889.5L377.7 890.4L383.6 891.7L388.4 893.7L392.0 896.2L394.3 899.1Z" fill="#0e10a8" filter="url(#b2)"/><clipPath id="nc33"><path d="M395.7 902.3L396.2 905.7L395.8 909.2L394.0 913.0L390.6 916.8L385.4 920.5L378.6 923.6L371.0 926.0L363.1 927.8L355.4 929.1L347.7 930.2L339.9 931.1L331.9 931.5L324.3 931.2L317.8 929.8L313.1 927.4L310.6 924.2L310.0 920.8L310.4 917.3L311.2 914.0L311.8 910.7L312.7 907.2L314.7 903.4L318.4 899.5L324.2 895.8L331.6 892.8L339.9 890.7L348.4 889.6L356.5 889.1L364.0 889.1L371.1 889.5L377.7 890.4L383.6 891.7L388.4 893.7L392.0 896.2L394.3 899.1Z"/></clipPath><g clip-path="url(#nc33)"><g stroke="#2530ff" stroke-opacity="0.75" stroke-linecap="round" fill="none" filter="url(#b15)"><path d="M376.6 904.8h0" stroke-width="4.0"/><path d="M375.0 908.6h0M367.9 901.8h0" stroke-width="4.4"/><path d="M331.6 904.0h0M379.2 894.3h0M320.4 925.1h0" stroke-width="4.8"/><path d="M365.9 909.6h0M349.2 919.0h0" stroke-width="5.2"/><path d="M324.1 925.8h0M366.8 920.9h0" stroke-width="5.6"/><path d="M351.3 918.0h0M366.9 914.1h0" stroke-width="6.0"/><path d="M344.7 918.7h0M369.2 906.4h0M345.5 913.8h0M338.6 926.0h0M345.4 923.0h0" stroke-width="6.4"/></g></g><path d="M304.1 908.0L303.2 911.6L301.2 915.1L298.1 918.3L293.7 920.9L288.5 922.9L282.9 924.2L277.2 925.1L271.7 925.9L266.0 926.6L259.9 927.1L253.5 927.1L247.0 926.3L241.3 924.3L237.1 921.5L234.5 918.1L233.2 914.6L232.3 911.3L231.5 908.0L230.7 904.5L230.6 900.8L231.9 897.1L235.4 893.7L240.7 891.3L247.3 890.0L254.1 889.8L260.4 890.2L266.0 890.7L271.4 891.0L277.1 891.1L283.2 891.5L289.4 892.5L295.1 894.5L299.5 897.2L302.4 900.6L303.9 904.3Z" fill="#0e10a8" filter="url(#b2)"/><clipPath id="nc34"><path d="M304.1 908.0L303.2 911.6L301.2 915.1L298.1 918.3L293.7 920.9L288.5 922.9L282.9 924.2L277.2 925.1L271.7 925.9L266.0 926.6L259.9 927.1L253.5 927.1L247.0 926.3L241.3 924.3L237.1 921.5L234.5 918.1L233.2 914.6L232.3 911.3L231.5 908.0L230.7 904.5L230.6 900.8L231.9 897.1L235.4 893.7L240.7 891.3L247.3 890.0L254.1 889.8L260.4 890.2L266.0 890.7L271.4 891.0L277.1 891.1L283.2 891.5L289.4 892.5L295.1 894.5L299.5 897.2L302.4 900.6L303.9 904.3Z"/></clipPath><g clip-path="url(#nc34)"><g stroke="#2530ff" stroke-opacity="0.75" stroke-linecap="round" fill="none" filter="url(#b15)"><path d="M287.1 917.1h0M276.5 902.7h0" stroke-width="4.4"/><path d="M269.1 915.7h0" stroke-width="4.8"/><path d="M259.8 925.8h0" stroke-width="5.2"/><path d="M272.0 919.9h0M263.4 920.5h0M284.9 910.6h0M281.9 908.7h0" stroke-width="6.0"/><path d="M255.2 902.6h0M238.5 908.4h0" stroke-width="6.4"/><path d="M277.0 923.2h0M257.8 906.3h0" stroke-width="6.8"/><path d="M258.7 915.8h0" stroke-width="7.2"/></g></g><path d="M388.4 790.0L388.3 792.2L387.7 794.2L386.8 796.1L385.6 797.6L384.2 798.9L382.8 800.0L381.3 800.9L379.7 801.8L378.0 802.3L376.2 802.4L374.4 801.8L372.9 800.7L371.6 799.1L370.7 797.4L370.0 795.6L369.3 793.8L368.7 792.0L368.1 790.0L367.8 787.8L367.9 785.6L368.6 783.5L369.8 781.7L371.3 780.4L373.0 779.5L374.7 779.0L376.3 778.7L378.0 778.6L379.7 778.6L381.3 779.0L382.9 779.8L384.3 780.9L385.6 782.4L386.6 784.0L387.5 785.9L388.1 787.9Z" fill="#0e10a8" filter="url(#b2)"/></g>
<rect x="114.7" y="922" width="123.10000000000001" height="122" fill="#000"/>
<g clip-path="url(#cp20)"><path d="M194.1 944.3L195.1 946.5L195.8 948.8L196.1 951.3L195.6 954.1L194.2 957.0L191.9 959.7L188.8 962.0L185.4 963.7L181.9 964.9L178.6 965.9L175.3 966.9L171.9 967.7L168.4 968.3L164.9 968.3L161.9 967.6L159.6 966.0L158.2 963.8L157.7 961.3L157.7 958.8L157.9 956.4L158.2 953.9L158.6 951.4L159.4 948.7L161.0 945.9L163.4 943.3L166.4 941.0L169.9 939.3L173.6 938.1L177.2 937.4L180.6 937.2L183.8 937.4L186.8 938.1L189.3 939.2L191.3 940.6L192.9 942.4Z" fill="#1632d0" filter="url(#b1)"/><clipPath id="nc35"><path d="M194.1 944.3L195.1 946.5L195.8 948.8L196.1 951.3L195.6 954.1L194.2 957.0L191.9 959.7L188.8 962.0L185.4 963.7L181.9 964.9L178.6 965.9L175.3 966.9L171.9 967.7L168.4 968.3L164.9 968.3L161.9 967.6L159.6 966.0L158.2 963.8L157.7 961.3L157.7 958.8L157.9 956.4L158.2 953.9L158.6 951.4L159.4 948.7L161.0 945.9L163.4 943.3L166.4 941.0L169.9 939.3L173.6 938.1L177.2 937.4L180.6 937.2L183.8 937.4L186.8 938.1L189.3 939.2L191.3 940.6L192.9 942.4Z"/></clipPath><g clip-path="url(#nc35)"><g stroke="#2630f0" stroke-opacity="0.75" stroke-linecap="round" fill="none" filter="url(#b05)"><path d="M168.5 953.1h0M172.0 948.7h0M176.2 965.7h0M166.2 947.6h0M192.6 953.8h0M185.1 944.1h0M194.0 950.9h0M173.8 964.5h0M176.5 945.5h0M163.6 951.4h0M176.2 952.1h0M168.8 945.3h0M189.8 953.3h0M189.1 942.7h0M182.1 959.3h0" stroke-width="1.6"/><path d="M185.8 943.3h0M189.2 958.5h0M180.6 964.4h0M169.8 961.2h0M167.1 943.7h0M167.6 955.5h0M183.1 959.9h0M185.6 948.7h0M178.9 959.4h0M179.9 954.7h0M183.0 945.2h0M165.7 952.6h0M162.6 946.8h0M185.9 947.9h0M168.7 942.3h0M173.3 956.9h0M179.0 943.0h0" stroke-width="2.0"/><path d="M164.7 960.3h0M186.2 948.9h0M171.1 945.3h0M167.7 949.6h0M165.7 958.3h0M173.4 950.2h0M182.6 957.8h0" stroke-width="2.4"/><path d="M167.1 946.8h0M169.9 947.6h0" stroke-width="2.8"/></g></g><path d="M194.1 944.3L195.1 946.5L195.8 948.8L196.1 951.3L195.6 954.1L194.2 957.0L191.9 959.7L188.8 962.0L185.4 963.7L181.9 964.9L178.6 965.9L175.3 966.9L171.9 967.7L168.4 968.3L164.9 968.3L161.9 967.6L159.6 966.0L158.2 963.8L157.7 961.3L157.7 958.8L157.9 956.4L158.2 953.9L158.6 951.4L159.4 948.7L161.0 945.9L163.4 943.3L166.4 941.0L169.9 939.3L173.6 938.1L177.2 937.4L180.6 937.2L183.8 937.4L186.8 938.1L189.3 939.2L191.3 940.6L192.9 942.4Z" transform="translate(176.2 952.7) scale(0.93) translate(-176.2 -952.7)" fill="#fff" filter="url(#f0)"/><clipPath id="nc36"><path d="M194.1 944.3L195.1 946.5L195.8 948.8L196.1 951.3L195.6 954.1L194.2 957.0L191.9 959.7L188.8 962.0L185.4 963.7L181.9 964.9L178.6 965.9L175.3 966.9L171.9 967.7L168.4 968.3L164.9 968.3L161.9 967.6L159.6 966.0L158.2 963.8L157.7 961.3L157.7 958.8L157.9 956.4L158.2 953.9L158.6 951.4L159.4 948.7L161.0 945.9L163.4 943.3L166.4 941.0L169.9 939.3L173.6 938.1L177.2 937.4L180.6 937.2L183.8 937.4L186.8 938.1L189.3 939.2L191.3 940.6L192.9 942.4Z"/></clipPath><g clip-path="url(#nc36)"><g stroke="#2040ff" stroke-opacity="0.7" stroke-linecap="round" fill="none" filter="url(#b1)"><path d="M176.5 945.8h0M187.0 950.8h0M164.7 952.7h0M160.1 953.0h0" stroke-width="2.4"/><path d="M184.1 943.8h0M171.9 958.9h0M177.5 943.5h0" stroke-width="3.2"/><path d="M178.3 943.7h0M179.8 959.2h0" stroke-width="4.0"/><path d="M184.1 957.3h0" stroke-width="4.4"/><path d="M174.4 947.8h0" stroke-width="4.8"/></g></g><path d="M230.2 965.9L229.2 968.3L227.7 970.6L226.0 972.5L224.2 974.4L222.2 976.3L219.9 978.1L217.3 979.5L214.2 980.3L211.0 980.3L207.9 979.3L205.2 977.5L203.1 975.3L201.4 972.9L199.9 970.6L198.6 968.2L197.5 965.6L196.9 962.8L197.0 960.0L197.8 957.3L199.4 954.9L201.4 953.0L203.7 951.4L205.9 950.0L208.3 948.6L210.9 947.5L213.8 946.7L216.9 946.4L220.0 947.0L222.9 948.3L225.4 950.1L227.4 952.4L229.0 954.9L230.1 957.6L230.7 960.4L230.8 963.2Z" fill="#1632d0" filter="url(#b1)"/><clipPath id="nc37"><path d="M230.2 965.9L229.2 968.3L227.7 970.6L226.0 972.5L224.2 974.4L222.2 976.3L219.9 978.1L217.3 979.5L214.2 980.3L211.0 980.3L207.9 979.3L205.2 977.5L203.1 975.3L201.4 972.9L199.9 970.6L198.6 968.2L197.5 965.6L196.9 962.8L197.0 960.0L197.8 957.3L199.4 954.9L201.4 953.0L203.7 951.4L205.9 950.0L208.3 948.6L210.9 947.5L213.8 946.7L216.9 946.4L220.0 947.0L222.9 948.3L225.4 950.1L227.4 952.4L229.0 954.9L230.1 957.6L230.7 960.4L230.8 963.2Z"/></clipPath><g clip-path="url(#nc37)"><g stroke="#2630f0" stroke-opacity="0.75" stroke-linecap="round" fill="none" filter="url(#b05)"><path d="M213.3 958.8h0M224.2 955.5h0M211.2 957.9h0M200.6 970.2h0M207.2 975.6h0M209.4 960.2h0M210.0 968.6h0M229.1 960.3h0M220.9 950.4h0M226.8 955.7h0M219.4 960.6h0M214.1 970.3h0M219.1 973.3h0M217.9 951.1h0M220.3 962.6h0M204.9 971.7h0" stroke-width="1.6"/><path d="M218.5 951.3h0M206.6 967.2h0M219.0 960.9h0M217.7 957.9h0M213.7 954.6h0M223.6 973.2h0M221.3 959.7h0M218.6 963.6h0M224.7 959.9h0" stroke-width="2.0"/><path d="M229.2 964.6h0M208.9 969.0h0M216.1 953.5h0M222.5 952.4h0M221.6 969.5h0M208.5 974.6h0M208.4 958.2h0M200.8 958.7h0" stroke-width="2.4"/><path d="M222.1 959.6h0M220.1 963.0h0M210.2 954.8h0M227.8 956.7h0M206.8 951.5h0" stroke-width="2.8"/></g></g><path d="M230.2 965.9L229.2 968.3L227.7 970.6L226.0 972.5L224.2 974.4L222.2 976.3L219.9 978.1L217.3 979.5L214.2 980.3L211.0 980.3L207.9 979.3L205.2 977.5L203.1 975.3L201.4 972.9L199.9 970.6L198.6 968.2L197.5 965.6L196.9 962.8L197.0 960.0L197.8 957.3L199.4 954.9L201.4 953.0L203.7 951.4L205.9 950.0L208.3 948.6L210.9 947.5L213.8 946.7L216.9 946.4L220.0 947.0L222.9 948.3L225.4 950.1L227.4 952.4L229.0 954.9L230.1 957.6L230.7 960.4L230.8 963.2Z" transform="translate(214 963) scale(0.93) translate(-214 -963)" fill="#fff" filter="url(#f1)"/><clipPath id="nc38"><path d="M230.2 965.9L229.2 968.3L227.7 970.6L226.0 972.5L224.2 974.4L222.2 976.3L219.9 978.1L217.3 979.5L214.2 980.3L211.0 980.3L207.9 979.3L205.2 977.5L203.1 975.3L201.4 972.9L199.9 970.6L198.6 968.2L197.5 965.6L196.9 962.8L197.0 960.0L197.8 957.3L199.4 954.9L201.4 953.0L203.7 951.4L205.9 950.0L208.3 948.6L210.9 947.5L213.8 946.7L216.9 946.4L220.0 947.0L222.9 948.3L225.4 950.1L227.4 952.4L229.0 954.9L230.1 957.6L230.7 960.4L230.8 963.2Z"/></clipPath><g clip-path="url(#nc38)"><g stroke="#2040ff" stroke-opacity="0.7" stroke-linecap="round" fill="none" filter="url(#b1)"><path d="M214.0 955.5h0M219.6 956.4h0M226.9 964.8h0" stroke-width="2.4"/><path d="M217.7 970.9h0" stroke-width="2.8"/><path d="M214.5 976.7h0M221.5 956.7h0" stroke-width="3.2"/><path d="M222.9 972.2h0M221.6 959.7h0M210.5 948.8h0" stroke-width="3.6"/><path d="M212.1 969.2h0" stroke-width="4.0"/></g></g><path d="M189.8 986.5L188.6 988.9L186.6 990.9L184.3 992.5L181.8 993.8L179.2 994.8L176.6 995.8L173.8 996.6L170.8 997.1L167.5 997.2L164.1 996.7L160.8 995.8L157.7 994.3L155.0 992.4L152.8 990.1L151.3 987.5L150.6 984.8L150.8 982.2L151.7 979.8L153.1 977.6L154.7 975.7L156.4 974.0L158.2 972.2L160.3 970.5L162.8 969.1L165.8 968.1L169.2 967.7L172.6 968.2L175.9 969.3L178.7 970.8L181.3 972.6L183.7 974.4L185.9 976.4L187.9 978.7L189.4 981.2L190.1 983.8Z" fill="#1632d0" filter="url(#b1)"/><clipPath id="nc39"><path d="M189.8 986.5L188.6 988.9L186.6 990.9L184.3 992.5L181.8 993.8L179.2 994.8L176.6 995.8L173.8 996.6L170.8 997.1L167.5 997.2L164.1 996.7L160.8 995.8L157.7 994.3L155.0 992.4L152.8 990.1L151.3 987.5L150.6 984.8L150.8 982.2L151.7 979.8L153.1 977.6L154.7 975.7L156.4 974.0L158.2 972.2L160.3 970.5L162.8 969.1L165.8 968.1L169.2 967.7L172.6 968.2L175.9 969.3L178.7 970.8L181.3 972.6L183.7 974.4L185.9 976.4L187.9 978.7L189.4 981.2L190.1 983.8Z"/></clipPath><g clip-path="url(#nc39)"><g stroke="#2630f0" stroke-opacity="0.75" stroke-linecap="round" fill="none" filter="url(#b05)"><path d="M167.6 970.2h0M177.4 972.8h0M172.1 987.2h0M153.3 983.4h0M169.9 971.3h0M181.1 975.3h0M164.5 970.3h0M174.0 983.5h0M162.1 972.8h0M175.8 990.6h0M176.9 981.6h0M165.8 973.7h0M184.0 979.3h0M176.8 990.0h0M161.0 979.6h0M155.1 984.5h0M167.8 976.1h0" stroke-width="1.6"/><path d="M168.9 994.4h0M172.3 976.8h0M180.6 984.8h0M159.5 986.5h0M182.2 992.9h0M170.6 979.6h0M171.2 970.5h0M159.8 971.5h0M181.5 978.5h0M159.7 984.5h0M168.6 974.7h0M177.1 984.2h0M179.4 985.8h0" stroke-width="2.0"/><path d="M178.4 976.7h0M162.6 985.6h0M162.1 984.5h0M166.9 988.3h0M157.3 982.1h0M155.5 989.2h0M156.0 976.9h0M159.2 991.2h0" stroke-width="2.4"/></g></g><path d="M189.8 986.5L188.6 988.9L186.6 990.9L184.3 992.5L181.8 993.8L179.2 994.8L176.6 995.8L173.8 996.6L170.8 997.1L167.5 997.2L164.1 996.7L160.8 995.8L157.7 994.3L155.0 992.4L152.8 990.1L151.3 987.5L150.6 984.8L150.8 982.2L151.7 979.8L153.1 977.6L154.7 975.7L156.4 974.0L158.2 972.2L160.3 970.5L162.8 969.1L165.8 968.1L169.2 967.7L172.6 968.2L175.9 969.3L178.7 970.8L181.3 972.6L183.7 974.4L185.9 976.4L187.9 978.7L189.4 981.2L190.1 983.8Z" transform="translate(170 983) scale(0.93) translate(-170 -983)" fill="#fff" filter="url(#f1)"/><clipPath id="nc40"><path d="M189.8 986.5L188.6 988.9L186.6 990.9L184.3 992.5L181.8 993.8L179.2 994.8L176.6 995.8L173.8 996.6L170.8 997.1L167.5 997.2L164.1 996.7L160.8 995.8L157.7 994.3L155.0 992.4L152.8 990.1L151.3 987.5L150.6 984.8L150.8 982.2L151.7 979.8L153.1 977.6L154.7 975.7L156.4 974.0L158.2 972.2L160.3 970.5L162.8 969.1L165.8 968.1L169.2 967.7L172.6 968.2L175.9 969.3L178.7 970.8L181.3 972.6L183.7 974.4L185.9 976.4L187.9 978.7L189.4 981.2L190.1 983.8Z"/></clipPath><g clip-path="url(#nc40)"><g stroke="#2040ff" stroke-opacity="0.7" stroke-linecap="round" fill="none" filter="url(#b1)"><path d="M159.3 990.8h0M182.8 992.5h0M168.2 990.0h0" stroke-width="2.4"/><path d="M166.2 972.0h0M180.5 986.7h0M167.5 995.7h0" stroke-width="2.8"/><path d="M168.2 987.4h0" stroke-width="3.6"/><path d="M181.1 984.0h0M184.0 989.5h0" stroke-width="4.4"/><path d="M159.4 983.9h0" stroke-width="4.8"/></g></g><path d="M232.0 987.2L232.2 989.9L231.5 992.7L230.1 995.3L228.3 997.7L226.5 999.9L224.5 1002.1L222.4 1004.2L219.9 1006.2L216.9 1008.0L213.6 1009.2L210.2 1009.6L206.9 1009.4L204.0 1008.7L201.4 1007.6L199.2 1006.3L197.1 1004.8L195.2 1003.1L193.7 1001.2L192.6 998.9L192.3 996.4L192.7 993.7L193.9 991.0L195.8 988.4L198.3 986.2L201.2 984.4L204.2 982.9L207.4 981.9L210.6 981.3L213.6 981.0L216.6 980.9L219.7 980.9L222.7 981.2L225.7 981.9L228.5 983.1L230.7 984.9Z" fill="#1632d0" filter="url(#b1)"/><clipPath id="nc41"><path d="M232.0 987.2L232.2 989.9L231.5 992.7L230.1 995.3L228.3 997.7L226.5 999.9L224.5 1002.1L222.4 1004.2L219.9 1006.2L216.9 1008.0L213.6 1009.2L210.2 1009.6L206.9 1009.4L204.0 1008.7L201.4 1007.6L199.2 1006.3L197.1 1004.8L195.2 1003.1L193.7 1001.2L192.6 998.9L192.3 996.4L192.7 993.7L193.9 991.0L195.8 988.4L198.3 986.2L201.2 984.4L204.2 982.9L207.4 981.9L210.6 981.3L213.6 981.0L216.6 980.9L219.7 980.9L222.7 981.2L225.7 981.9L228.5 983.1L230.7 984.9Z"/></clipPath><g clip-path="url(#nc41)"><g stroke="#2630f0" stroke-opacity="0.75" stroke-linecap="round" fill="none" filter="url(#b05)"><path d="M224.5 995.9h0M220.6 990.9h0M225.8 991.2h0M204.2 1005.4h0M211.7 984.8h0M217.3 990.2h0M219.5 1002.7h0M201.9 991.0h0M215.3 998.3h0M210.9 983.8h0M205.6 993.9h0M224.4 989.4h0M215.3 986.3h0M200.2 1002.8h0M209.0 990.9h0M212.2 1005.8h0" stroke-width="1.6"/><path d="M226.8 994.9h0M216.9 994.8h0M217.4 991.5h0M197.3 990.8h0M212.1 990.6h0" stroke-width="2.0"/><path d="M225.8 987.1h0M216.0 989.3h0M215.3 992.5h0M210.5 999.3h0M212.4 992.3h0M204.8 998.2h0M205.8 995.7h0M228.4 995.5h0M227.5 988.3h0M225.1 996.3h0M196.4 1001.0h0M215.0 983.2h0M197.0 993.8h0M225.6 994.0h0" stroke-width="2.4"/><path d="M226.7 989.8h0M205.9 989.0h0M220.0 992.3h0" stroke-width="2.8"/></g></g><path d="M232.0 987.2L232.2 989.9L231.5 992.7L230.1 995.3L228.3 997.7L226.5 999.9L224.5 1002.1L222.4 1004.2L219.9 1006.2L216.9 1008.0L213.6 1009.2L210.2 1009.6L206.9 1009.4L204.0 1008.7L201.4 1007.6L199.2 1006.3L197.1 1004.8L195.2 1003.1L193.7 1001.2L192.6 998.9L192.3 996.4L192.7 993.7L193.9 991.0L195.8 988.4L198.3 986.2L201.2 984.4L204.2 982.9L207.4 981.9L210.6 981.3L213.6 981.0L216.6 980.9L219.7 980.9L222.7 981.2L225.7 981.9L228.5 983.1L230.7 984.9Z" transform="translate(212 994.5) scale(0.93) translate(-212 -994.5)" fill="#fff" filter="url(#f1)"/><clipPath id="nc42"><path d="M232.0 987.2L232.2 989.9L231.5 992.7L230.1 995.3L228.3 997.7L226.5 999.9L224.5 1002.1L222.4 1004.2L219.9 1006.2L216.9 1008.0L213.6 1009.2L210.2 1009.6L206.9 1009.4L204.0 1008.7L201.4 1007.6L199.2 1006.3L197.1 1004.8L195.2 1003.1L193.7 1001.2L192.6 998.9L192.3 996.4L192.7 993.7L193.9 991.0L195.8 988.4L198.3 986.2L201.2 984.4L204.2 982.9L207.4 981.9L210.6 981.3L213.6 981.0L216.6 980.9L219.7 980.9L222.7 981.2L225.7 981.9L228.5 983.1L230.7 984.9Z"/></clipPath><g clip-path="url(#nc42)"><g stroke="#2040ff" stroke-opacity="0.7" stroke-linecap="round" fill="none" filter="url(#b1)"><path d="M224.1 984.8h0M211.4 994.2h0M206.6 995.3h0M209.7 986.4h0" stroke-width="2.4"/><path d="M204.4 1001.9h0M223.3 996.9h0" stroke-width="2.8"/><path d="M198.0 992.4h0" stroke-width="3.2"/><path d="M201.4 1005.0h0" stroke-width="3.6"/><path d="M217.6 996.7h0" stroke-width="4.0"/><path d="M219.2 985.0h0" stroke-width="4.4"/></g></g><path d="M157.3 1019.2L155.3 1021.0L153.0 1022.6L150.5 1023.8L147.7 1024.6L144.7 1024.8L141.5 1024.5L138.4 1023.7L135.3 1022.5L132.2 1021.0L129.3 1019.0L126.7 1016.6L124.5 1013.9L122.9 1010.8L122.1 1007.6L122.0 1004.5L122.5 1001.6L123.5 999.0L124.9 996.5L126.7 994.4L128.9 992.6L131.6 991.4L134.7 990.9L137.9 991.1L141.1 991.8L144.1 993.0L147.0 994.2L149.9 995.7L152.9 997.3L155.9 999.4L158.5 1002.0L160.5 1005.1L161.5 1008.4L161.5 1011.6L160.6 1014.6L159.1 1017.1Z" fill="#1632d0" filter="url(#b1)"/><clipPath id="nc43"><path d="M157.3 1019.2L155.3 1021.0L153.0 1022.6L150.5 1023.8L147.7 1024.6L144.7 1024.8L141.5 1024.5L138.4 1023.7L135.3 1022.5L132.2 1021.0L129.3 1019.0L126.7 1016.6L124.5 1013.9L122.9 1010.8L122.1 1007.6L122.0 1004.5L122.5 1001.6L123.5 999.0L124.9 996.5L126.7 994.4L128.9 992.6L131.6 991.4L134.7 990.9L137.9 991.1L141.1 991.8L144.1 993.0L147.0 994.2L149.9 995.7L152.9 997.3L155.9 999.4L158.5 1002.0L160.5 1005.1L161.5 1008.4L161.5 1011.6L160.6 1014.6L159.1 1017.1Z"/></clipPath><g clip-path="url(#nc43)"><g stroke="#2630f0" stroke-opacity="0.75" stroke-linecap="round" fill="none" filter="url(#b05)"><path d="M137.9 999.0h0M153.0 1003.2h0M148.0 1008.1h0M130.5 1005.5h0M142.6 1018.3h0M132.4 1001.4h0M138.8 1016.9h0M145.6 1000.8h0M150.5 1007.1h0M145.3 1010.0h0M124.5 1004.5h0M157.4 1014.7h0M127.5 1006.8h0M148.8 1003.0h0M142.3 1011.8h0M142.7 1002.4h0M148.2 1014.1h0M133.8 1001.4h0M156.9 1013.0h0" stroke-width="1.6"/><path d="M145.9 1018.6h0M153.0 1012.6h0M148.2 1010.5h0M136.6 1010.9h0M137.8 1006.6h0M143.5 1001.1h0M132.7 1010.8h0M149.6 1018.4h0M144.8 1022.2h0M138.7 1016.4h0M158.5 1012.4h0M142.9 1009.1h0" stroke-width="2.0"/><path d="M146.7 994.4h0M144.1 997.2h0M127.1 1012.9h0M147.5 1019.8h0M127.4 999.1h0M142.3 1007.6h0M157.0 1017.3h0M154.8 1019.6h0M125.1 1010.3h0M147.2 997.6h0M129.6 1001.6h0M152.0 1014.3h0" stroke-width="2.4"/><path d="M135.9 995.2h0M156.6 1010.0h0" stroke-width="2.8"/></g></g><path d="M157.3 1019.2L155.3 1021.0L153.0 1022.6L150.5 1023.8L147.7 1024.6L144.7 1024.8L141.5 1024.5L138.4 1023.7L135.3 1022.5L132.2 1021.0L129.3 1019.0L126.7 1016.6L124.5 1013.9L122.9 1010.8L122.1 1007.6L122.0 1004.5L122.5 1001.6L123.5 999.0L124.9 996.5L126.7 994.4L128.9 992.6L131.6 991.4L134.7 990.9L137.9 991.1L141.1 991.8L144.1 993.0L147.0 994.2L149.9 995.7L152.9 997.3L155.9 999.4L158.5 1002.0L160.5 1005.1L161.5 1008.4L161.5 1011.6L160.6 1014.6L159.1 1017.1Z" transform="translate(141.3 1008) scale(0.93) translate(-141.3 -1008)" fill="#fff" filter="url(#f0)"/><clipPath id="nc44"><path d="M157.3 1019.2L155.3 1021.0L153.0 1022.6L150.5 1023.8L147.7 1024.6L144.7 1024.8L141.5 1024.5L138.4 1023.7L135.3 1022.5L132.2 1021.0L129.3 1019.0L126.7 1016.6L124.5 1013.9L122.9 1010.8L122.1 1007.6L122.0 1004.5L122.5 1001.6L123.5 999.0L124.9 996.5L126.7 994.4L128.9 992.6L131.6 991.4L134.7 990.9L137.9 991.1L141.1 991.8L144.1 993.0L147.0 994.2L149.9 995.7L152.9 997.3L155.9 999.4L158.5 1002.0L160.5 1005.1L161.5 1008.4L161.5 1011.6L160.6 1014.6L159.1 1017.1Z"/></clipPath><g clip-path="url(#nc44)"><g stroke="#2040ff" stroke-opacity="0.7" stroke-linecap="round" fill="none" filter="url(#b1)"><path d="M125.7 1001.1h0M146.0 1009.3h0M133.5 994.7h0" stroke-width="2.4"/><path d="M139.4 1012.0h0M151.5 1013.2h0M147.8 1008.0h0M139.5 997.9h0" stroke-width="2.8"/><path d="M144.3 1003.4h0" stroke-width="3.2"/><path d="M133.4 1012.8h0M143.5 1019.0h0" stroke-width="4.0"/><path d="M133.7 1015.9h0M155.3 1012.7h0" stroke-width="4.4"/></g></g></g>
<path transform="translate(211.4 942.6) rotate(62)" d="M0 0 L-17 -8.5 L-12 0 L-17 8.5 Z" fill="#e82028"/>
<rect x="252.7" y="922" width="122.60000000000002" height="122" fill="#000"/>
<g clip-path="url(#cp21)"><path d="M313 938 C300 930 275 930 266 950 C258 968 260 995 282 1015 C296 1028 306 1034 313 1037 C322 1032 340 1020 352 1006 C368 988 370 965 362 952 C352 938 330 936 313 938Z" fill="#1018b0" filter="url(#b2)"/><clipPath id="nc45"><path d="M313 938 C300 930 275 930 266 950 C258 968 260 995 282 1015 C296 1028 306 1034 313 1037 C322 1032 340 1020 352 1006 C368 988 370 965 362 952 C352 938 330 936 313 938Z"/></clipPath><g clip-path="url(#nc45)"><g stroke="#2530ff" stroke-opacity="0.75" stroke-linecap="round" fill="none" filter="url(#b15)"><path d="M326.0 969.1h0M322.6 1023.8h0M296.0 1008.4h0M325.0 978.8h0M320.9 980.5h0M282.3 975.3h0" stroke-width="4.0"/><path d="M317.1 1016.9h0M349.7 990.4h0M285.4 1002.3h0M325.0 973.0h0M301.2 1015.5h0M268.8 988.6h0M291.9 1017.5h0" stroke-width="4.4"/><path d="M357.8 974.1h0M312.3 1012.2h0M289.0 1020.3h0M329.7 965.3h0M334.9 957.1h0M354.8 1007.0h0M333.1 964.7h0M286.5 986.7h0" stroke-width="4.8"/><path d="M355.9 1004.3h0M302.8 1000.4h0M283.2 997.5h0M317.2 952.9h0M311.4 986.8h0M348.4 994.5h0M334.7 951.2h0" stroke-width="5.2"/><path d="M275.4 974.0h0M358.6 978.2h0M323.7 945.9h0M287.6 976.2h0" stroke-width="5.6"/><path d="M280.6 1011.6h0M334.6 984.5h0M318.6 1002.9h0" stroke-width="6.0"/><path d="M330.7 1018.1h0M288.1 978.5h0M302.4 984.0h0" stroke-width="6.4"/><path d="M329.1 946.6h0M327.9 987.1h0M315.2 1012.9h0M336.2 960.3h0M298.1 963.5h0M342.0 995.2h0" stroke-width="6.8"/><path d="M321.1 1024.8h0M285.4 948.1h0M332.3 950.8h0M340.7 986.2h0" stroke-width="7.2"/></g></g><clipPath id="nc46"><path d="M313 938 C300 930 275 930 266 950 C258 968 260 995 282 1015 C296 1028 306 1034 313 1037 C322 1032 340 1020 352 1006 C368 988 370 965 362 952 C352 938 330 936 313 938Z"/></clipPath><g clip-path="url(#nc46)"><g stroke="#2444ff" stroke-opacity="0.65" stroke-linecap="round" fill="none" filter="url(#b2)"><path d="M355.3 963.8h0M319.8 1013.1h0" stroke-width="6.4"/><path d="M337.7 994.3h0M352.7 998.7h0" stroke-width="6.8"/><path d="M356.6 985.2h0M338.2 1011.2h0" stroke-width="7.2"/><path d="M285.3 1018.8h0" stroke-width="7.6"/><path d="M343.0 1005.6h0" stroke-width="8.4"/><path d="M334.6 1018.5h0M346.8 996.7h0" stroke-width="10.0"/><path d="M323.5 971.6h0" stroke-width="10.4"/><path d="M321.1 953.3h0" stroke-width="11.2"/><path d="M289.3 1003.0h0M305.8 996.5h0" stroke-width="11.6"/></g></g><clipPath id="nc47"><path d="M313 938 C300 930 275 930 266 950 C258 968 260 995 282 1015 C296 1028 306 1034 313 1037 C322 1032 340 1020 352 1006 C368 988 370 965 362 952 C352 938 330 936 313 938Z"/></clipPath><g clip-path="url(#nc47)"><g stroke="#30d0e8" stroke-opacity="0.7" stroke-linecap="round" fill="none" filter="url(#b05)"><path d="M317.9 1031.2h0M320.1 943.5h0M271.7 991.4h0M314.2 998.3h0M316.6 1026.9h0M319.4 952.3h0M321.0 951.9h0M320.5 1022.1h0M328.5 1003.4h0M292.6 1014.3h0M328.9 1020.8h0M309.0 999.0h0M322.9 1009.5h0M306.1 978.7h0M288.7 987.2h0M299.7 996.1h0M338.8 987.3h0M300.0 1013.7h0M330.3 993.7h0M325.5 990.8h0M309.1 1014.2h0M269.5 983.1h0M341.8 1022.9h0M311.4 997.2h0M322.4 1030.1h0M302.3 991.6h0M333.5 1018.8h0M309.4 1018.9h0M340.9 1001.1h0M333.2 1025.5h0M351.3 994.7h0M288.1 1017.6h0M345.1 1004.8h0M355.3 992.2h0M294.8 1017.9h0M301.0 1014.8h0M301.0 1008.3h0M293.1 943.8h0" stroke-width="1.6"/><path d="M353.8 986.2h0M302.1 957.4h0M333.6 962.0h0M306.6 986.0h0M296.6 996.4h0M291.4 1015.1h0M274.9 970.7h0M284.9 1015.6h0M335.9 965.4h0M299.3 1021.7h0M351.1 990.3h0M280.0 1008.9h0M312.1 1014.7h0M273.1 971.3h0M347.0 982.6h0M299.3 1022.0h0M313.1 995.9h0M328.2 1013.9h0M286.1 1009.0h0M339.2 1001.0h0M328.5 946.6h0M282.5 1006.8h0M312.0 955.1h0M317.2 948.7h0M325.8 1024.8h0M271.2 1004.0h0M312.5 1004.0h0M279.1 983.1h0M310.0 968.0h0M349.1 962.0h0M271.9 985.0h0" stroke-width="2.0"/><path d="M281.8 994.7h0M344.4 979.0h0M300.2 992.3h0M342.9 995.7h0M342.2 1021.5h0M324.3 972.4h0M328.2 1025.2h0M339.9 987.0h0M302.3 988.2h0M322.3 1028.0h0M278.5 994.0h0M341.8 1000.3h0M313.8 990.9h0M334.0 997.4h0M293.6 1009.5h0M280.8 955.8h0M303.5 1006.2h0M341.6 980.8h0M297.2 943.2h0M335.1 991.0h0" stroke-width="2.4"/><path d="M288.0 1022.7h0M351.7 996.5h0M304.9 1003.0h0M305.0 1012.1h0M282.5 997.2h0M296.5 1003.9h0M328.9 996.0h0M285.9 1022.1h0M305.8 1021.9h0M290.5 992.4h0M321.7 946.3h0M293.6 971.7h0M317.7 1016.3h0M284.2 960.4h0M308.9 1003.0h0M343.0 991.6h0M289.3 1007.8h0M266.1 976.8h0" stroke-width="2.8"/><path d="M310.0 1000.4h0M335.1 1015.7h0M281.4 1016.0h0M297.2 990.4h0M341.8 950.5h0M300.0 1005.4h0M271.5 994.0h0M321.8 1010.5h0M269.9 1000.1h0M338.0 985.0h0M344.9 1009.3h0M306.6 946.9h0M321.5 1014.4h0" stroke-width="3.2"/></g></g><clipPath id="nc48"><path d="M313 938 C300 930 275 930 266 950 C258 968 260 995 282 1015 C296 1028 306 1034 313 1037 C322 1032 340 1020 352 1006 C368 988 370 965 362 952 C352 938 330 936 313 938Z"/></clipPath><g clip-path="url(#nc48)"><g stroke="#50f878" stroke-opacity="0.92" stroke-linecap="round" fill="none" filter="url(#b05)"><path d="M303.5 940.7h0M321.5 1018.8h0M329.8 974.9h0M312.0 992.1h0M301.0 995.8h0M296.4 973.4h0M272.6 971.6h0M294.1 964.0h0M316.1 968.8h0M302.0 951.9h0M318.3 953.8h0M299.3 978.8h0M316.1 1008.7h0M315.4 991.5h0M304.1 1025.9h0M331.9 965.5h0M318.0 1023.4h0M323.9 1026.0h0M316.3 939.9h0M284.5 976.8h0M360.6 984.4h0M310.6 992.5h0M268.4 986.7h0M287.0 972.6h0M316.9 1027.8h0M292.3 978.4h0M350.1 963.2h0M284.8 966.3h0M350.7 963.7h0M332.2 994.3h0M282.7 987.8h0M287.3 944.3h0M326.6 995.3h0M299.4 984.3h0M345.5 990.8h0M327.4 988.0h0M326.9 942.1h0M268.7 963.2h0M285.4 970.9h0M348.6 993.8h0M323.5 992.2h0M281.2 952.8h0M317.0 1019.4h0M284.8 1019.4h0M315.0 939.2h0M294.6 952.7h0M362.8 983.7h0M296.5 990.4h0M304.4 951.3h0M333.6 992.4h0M314.3 979.2h0M309.6 944.1h0M269.5 971.9h0M295.2 951.7h0M283.9 1008.3h0M299.2 1013.0h0M277.0 969.7h0M280.6 950.1h0M306.1 1027.2h0M327.3 1002.1h0M301.5 955.9h0M270.5 964.8h0M295.3 1025.4h0M359.3 998.4h0M275.7 988.9h0M330.0 974.9h0M346.7 993.1h0M319.3 954.0h0M336.1 990.7h0M290.4 997.1h0M299.4 1011.5h0M279.3 963.7h0M332.1 995.6h0M303.7 947.5h0M339.8 983.6h0M320.8 999.4h0M348.7 996.9h0M340.2 978.4h0M333.3 993.1h0M352.7 987.6h0M294.2 948.1h0M296.5 980.6h0M302.1 1031.3h0M336.4 950.9h0M334.0 960.0h0M346.1 995.4h0M264.8 986.0h0M345.1 947.9h0M289.8 1017.1h0M304.3 942.7h0M318.3 978.8h0M269.0 965.8h0M349.0 960.5h0M316.9 1029.4h0M336.5 1003.0h0M305.7 983.2h0M288.7 962.3h0M344.8 949.1h0M274.2 996.0h0M299.2 1013.1h0M281.4 963.8h0M302.7 952.0h0M322.8 946.2h0M278.7 998.6h0M302.0 1009.7h0M299.5 951.1h0M270.1 994.6h0M309.9 1028.9h0M323.9 990.9h0M347.6 949.6h0M299.6 978.9h0M308.4 1006.7h0M292.4 944.8h0M302.1 958.5h0M277.8 954.4h0M268.4 977.5h0M332.0 971.2h0M286.2 992.1h0M322.6 977.4h0M312.8 995.3h0M360.7 978.4h0M335.5 982.2h0M335.3 1010.5h0M304.8 986.9h0M310.6 1004.6h0M341.0 959.9h0M348.2 994.6h0M279.7 966.7h0M283.9 969.6h0M341.6 989.0h0M329.3 965.2h0M282.3 950.9h0M288.8 953.0h0M297.8 954.1h0M284.6 1015.4h0M306.1 981.1h0M309.5 959.3h0" stroke-width="1.2"/><path d="M361.2 999.1h0M307.7 982.4h0M328.2 955.6h0M270.8 1011.6h0M332.0 953.4h0M312.2 937.1h0M280.0 1011.9h0M294.4 1012.8h0M363.2 987.5h0M317.2 962.0h0M280.5 1021.8h0M354.2 983.5h0M280.2 985.8h0M326.5 966.3h0M327.3 949.5h0M355.7 991.3h0M279.3 1002.9h0M304.6 1032.7h0M315.3 980.4h0M342.0 945.8h0M342.5 977.6h0M343.3 994.9h0M360.3 978.7h0M357.0 965.9h0M339.9 945.6h0M303.0 969.3h0M343.9 952.5h0M351.0 954.4h0M266.9 975.7h0M330.0 1016.2h0M274.5 954.7h0M331.6 1013.1h0M350.0 995.6h0M280.2 1004.9h0M318.2 1031.2h0M361.5 994.3h0M295.3 992.7h0M265.7 991.7h0M354.1 984.0h0M281.4 966.2h0M288.4 944.0h0M320.3 977.4h0M327.9 997.4h0M268.8 979.2h0M288.2 972.7h0M328.5 1016.6h0M298.8 955.1h0M337.0 1017.1h0M327.0 942.8h0M268.3 1006.3h0M289.6 971.2h0M264.0 981.8h0M328.9 982.8h0M343.3 978.0h0M295.0 955.1h0M333.1 1010.8h0M330.5 971.3h0M271.8 987.3h0M266.3 970.3h0M333.7 956.9h0M323.8 1022.5h0M323.2 970.3h0M308.8 974.7h0M291.2 1004.0h0M314.4 1023.6h0M286.5 995.0h0M274.5 1012.0h0M308.4 936.6h0M303.8 965.7h0M322.6 952.5h0M282.8 1022.6h0M341.4 1010.8h0M276.8 1011.7h0M308.7 989.8h0M273.5 997.1h0M362.9 981.0h0M312.5 1019.2h0M337.2 989.1h0M322.3 1016.2h0M347.2 968.6h0M283.6 945.5h0M319.9 979.4h0M321.9 949.5h0M266.3 974.5h0M314.9 941.3h0M302.5 948.7h0M321.2 993.0h0M358.3 967.3h0M321.1 1020.0h0M350.7 957.9h0M339.5 977.8h0M291.6 965.2h0M327.6 975.3h0M330.6 1028.4h0M282.7 995.1h0M284.7 981.4h0M308.4 938.7h0M346.1 990.6h0M331.1 996.4h0M323.1 989.2h0M345.7 991.6h0M270.1 984.0h0M278.6 981.6h0M334.2 968.8h0M353.6 999.8h0M346.9 952.9h0M344.0 955.0h0M287.3 983.1h0M321.8 999.5h0M329.9 968.7h0M310.5 971.5h0M334.6 1008.3h0M343.5 1003.8h0M359.5 986.9h0M290.4 959.0h0M290.6 960.0h0M270.0 995.7h0M283.7 966.4h0M334.9 1000.7h0M326.7 984.8h0M275.9 991.8h0M321.6 963.0h0M304.2 963.7h0M298.7 942.0h0M291.7 953.5h0M311.8 1031.5h0M319.7 993.9h0M280.3 997.3h0M309.0 1023.7h0M279.6 1021.4h0M323.9 958.3h0M302.3 1012.2h0M281.8 948.3h0M346.3 986.1h0M334.6 942.9h0M302.9 957.9h0M326.8 981.3h0M297.8 1009.2h0M278.2 996.0h0M335.2 943.3h0" stroke-width="1.6"/><path d="M300.0 964.6h0M315.2 943.3h0M274.6 993.4h0M296.1 996.8h0M282.9 954.5h0M322.2 980.5h0M326.7 1018.3h0M319.8 945.5h0M351.7 983.4h0M296.1 960.4h0M282.1 980.5h0M302.2 990.2h0M307.0 979.2h0M284.9 956.3h0M349.9 1010.1h0M341.3 976.7h0M286.5 988.4h0M349.4 960.1h0M281.1 1022.7h0M274.7 963.3h0M282.9 957.9h0M309.2 956.8h0M296.2 980.4h0M277.7 952.4h0M350.6 965.4h0M315.9 942.7h0M304.9 954.8h0M340.7 989.2h0M267.1 968.2h0M265.4 979.8h0M351.9 974.0h0M324.8 970.5h0M293.7 998.6h0M280.6 959.2h0M314.5 937.7h0M324.5 988.2h0M285.9 1001.0h0M334.1 960.5h0M289.1 964.0h0M263.8 990.0h0M324.0 977.6h0M327.8 958.8h0M356.7 1004.9h0M327.7 943.1h0M354.3 980.4h0M308.5 985.4h0M280.6 979.0h0M348.2 982.0h0M278.6 995.4h0M308.2 987.4h0M298.9 971.2h0M310.9 987.8h0M358.3 969.1h0M292.6 976.9h0M293.2 964.1h0M353.8 974.4h0M357.3 971.6h0M332.1 972.5h0M269.7 972.4h0M288.0 951.4h0M319.4 1015.5h0M297.3 969.3h0M311.5 967.1h0M282.1 946.5h0M295.9 971.7h0M310.2 966.4h0M332.8 960.4h0M278.3 951.9h0M280.0 969.7h0M344.0 969.6h0M327.6 943.9h0M320.8 950.4h0M293.9 940.3h0M271.4 1001.2h0M329.8 979.0h0M273.6 966.7h0M284.7 985.7h0M353.2 988.3h0M278.9 966.7h0M309.9 995.0h0M288.0 954.6h0M329.5 980.4h0M264.7 976.1h0M331.5 959.2h0M340.0 952.2h0M319.4 948.8h0M297.2 1007.7h0M351.6 992.0h0M304.8 982.6h0M348.0 1005.3h0M327.4 952.7h0M319.4 1029.6h0M337.0 1003.8h0M346.6 958.8h0M278.2 1004.6h0M308.8 977.5h0M334.3 996.3h0M304.1 950.8h0M326.0 1011.0h0M267.4 977.9h0M298.3 968.8h0M284.2 959.4h0M311.5 945.8h0M283.7 967.4h0M320.6 949.8h0M338.5 993.4h0M279.0 975.4h0M291.8 994.8h0M319.1 1017.8h0M283.8 953.6h0M274.8 980.0h0M323.4 984.2h0M316.0 947.8h0M358.0 962.7h0M322.8 983.7h0M289.4 964.8h0M349.9 977.0h0M276.5 983.4h0M318.1 960.4h0M300.0 996.7h0M340.1 961.1h0" stroke-width="2.0"/><path d="M316.5 951.6h0M331.1 1008.3h0M327.6 987.6h0M312.8 996.7h0M358.9 1003.7h0M328.5 954.3h0M295.7 1003.3h0M322.5 992.8h0M347.6 957.7h0M271.0 994.7h0M282.5 1006.8h0M339.2 1007.1h0M280.3 992.2h0M297.7 960.9h0M326.2 973.1h0M320.7 942.1h0M326.4 973.1h0M307.8 989.1h0M283.9 993.9h0M275.8 962.7h0M322.5 999.8h0M272.6 957.5h0M267.2 1005.4h0M274.4 1013.2h0M323.9 960.8h0M287.3 993.1h0M337.4 986.2h0M354.9 971.2h0M291.5 1009.1h0M293.3 941.7h0M338.7 946.9h0M286.1 1022.5h0M325.5 965.6h0M284.9 972.3h0M354.7 996.2h0M310.3 943.8h0M325.4 987.6h0M263.2 977.5h0M345.5 999.5h0M317.4 965.3h0M351.7 974.6h0M324.8 1019.6h0M311.6 996.5h0M319.9 967.4h0M293.5 991.9h0M275.6 1013.7h0M289.3 955.3h0M314.0 1003.6h0M285.4 967.4h0M308.1 960.1h0M292.6 956.6h0M315.0 966.8h0M331.0 941.6h0M290.3 986.1h0M341.1 948.6h0M297.8 971.2h0M296.8 983.0h0M333.7 993.2h0M304.3 954.4h0M294.6 948.6h0M315.5 980.6h0M340.7 958.2h0M344.6 956.2h0M281.9 991.4h0M282.3 976.6h0M358.1 988.4h0M353.7 993.0h0M347.0 982.2h0M351.1 996.6h0M327.0 962.6h0M288.0 998.4h0M301.8 1002.6h0M320.3 954.0h0M316.2 964.0h0M323.2 964.5h0M335.3 1006.6h0M296.5 976.6h0M271.8 998.5h0M315.8 999.3h0M336.1 953.5h0M290.6 948.8h0M304.1 994.8h0M267.0 988.4h0M298.3 959.4h0M352.2 991.3h0M286.0 973.5h0M310.5 960.6h0M264.3 989.8h0M352.3 970.5h0M351.4 1015.9h0M348.4 1015.4h0M266.4 985.9h0M296.5 942.9h0M331.5 955.0h0M296.0 979.6h0M308.4 946.8h0M363.2 990.8h0" stroke-width="2.4"/><path d="M311.3 942.5h0M321.6 937.9h0M330.2 972.6h0M286.7 1000.0h0M318.7 948.5h0M340.5 997.1h0M275.4 976.7h0M321.4 939.3h0M282.3 956.9h0M328.0 945.5h0M277.5 1017.8h0M273.3 990.3h0M297.1 943.7h0M326.3 975.7h0M329.0 996.7h0M286.6 972.8h0M300.5 978.3h0M355.7 978.8h0M313.4 997.3h0M277.1 1008.2h0M309.6 964.5h0M265.8 988.0h0M299.9 969.4h0M291.7 952.7h0M360.4 986.6h0M300.1 1022.9h0M273.5 994.3h0M332.7 948.0h0M325.2 982.3h0M312.6 937.0h0M348.5 1017.7h0M297.7 946.6h0M321.1 981.6h0M338.4 967.7h0M288.8 980.9h0M302.8 978.2h0M270.2 981.5h0M316.5 949.3h0M289.4 952.7h0M296.9 977.7h0M303.2 942.9h0M302.2 937.8h0M319.4 946.0h0M336.0 1025.8h0M277.1 964.6h0M269.5 976.4h0M304.7 980.8h0M315.5 952.4h0M271.7 982.1h0M301.3 980.6h0M303.9 1015.4h0M271.8 994.1h0M276.0 1000.2h0M340.0 970.9h0M273.7 978.9h0M338.6 957.5h0M311.8 958.6h0M302.0 973.8h0M321.7 1005.3h0M291.9 1013.1h0M352.0 974.2h0M300.8 982.9h0M316.5 1028.0h0M309.3 976.1h0M342.6 952.4h0M294.5 992.7h0M302.7 975.3h0M309.0 1003.9h0M357.1 991.1h0M333.4 1005.4h0M319.6 952.8h0" stroke-width="2.8"/><path d="M346.8 964.9h0M314.2 940.7h0M304.6 1003.8h0M297.8 940.1h0M338.3 994.0h0M293.5 988.1h0M287.5 948.8h0M322.0 952.8h0M266.8 978.5h0M300.7 992.8h0M342.2 996.9h0M298.0 956.6h0M305.0 1008.5h0M340.3 971.0h0M318.6 1007.9h0M328.1 976.3h0M307.7 995.0h0M263.8 973.4h0M326.2 971.0h0M281.0 973.5h0M330.4 955.0h0M264.6 988.9h0M317.0 997.5h0M272.3 969.3h0M313.2 1011.1h0M289.5 945.2h0M352.7 995.2h0M288.5 977.6h0M315.6 991.5h0M293.9 983.6h0M264.3 986.9h0M280.3 967.7h0M301.7 977.9h0M273.3 999.2h0M289.0 1004.5h0M326.2 997.9h0M325.0 954.0h0M349.9 986.6h0M343.5 954.6h0M271.1 963.4h0M323.0 940.1h0M312.1 1017.6h0M324.8 968.0h0M339.3 985.4h0M268.5 969.3h0M319.7 984.4h0M300.6 967.7h0M333.2 975.7h0M283.0 955.9h0M338.9 1020.8h0M282.2 968.5h0M323.2 987.1h0M281.0 981.8h0M307.7 945.0h0M353.5 957.4h0M296.6 950.9h0M317.9 993.4h0M289.2 965.7h0M326.4 1010.5h0M296.5 961.4h0M288.4 993.8h0M302.4 963.3h0M336.5 971.1h0M308.4 1005.1h0M325.6 1005.3h0M310.9 1031.6h0M273.4 1011.9h0M327.4 948.7h0M302.0 974.9h0M305.3 978.0h0M361.0 991.2h0M346.2 977.3h0M315.6 942.0h0M291.2 982.3h0M323.7 985.8h0M268.7 981.1h0M325.7 1007.5h0M330.8 997.7h0M341.1 1012.0h0" stroke-width="3.2"/><path d="M323.6 958.5h0M324.4 970.0h0M296.0 994.5h0M358.9 990.3h0M337.1 943.7h0M339.5 1003.0h0M339.5 972.0h0M330.7 989.5h0M309.7 999.5h0M303.8 947.5h0M316.9 979.1h0M296.7 1020.3h0M314.8 960.7h0M276.4 980.0h0M340.1 1001.6h0M300.3 999.7h0M356.6 969.1h0M339.1 945.5h0M326.0 982.2h0M358.0 987.7h0M286.5 967.9h0M332.8 967.9h0M342.4 999.9h0M290.2 954.0h0M295.9 979.5h0M281.4 950.2h0M302.2 962.1h0M360.3 995.6h0M322.6 1014.0h0M314.4 938.6h0M353.0 963.3h0M293.2 985.9h0M314.6 991.9h0M283.5 972.0h0M340.2 990.8h0M282.7 949.9h0M350.7 974.6h0M297.7 989.7h0M342.3 1008.2h0M346.4 1006.5h0M289.3 956.5h0M341.1 988.1h0M292.6 963.4h0M332.6 979.6h0M286.9 981.2h0M289.5 994.0h0M289.8 992.7h0M270.4 969.9h0M355.3 1004.6h0M334.8 1020.4h0M323.2 943.5h0M307.5 1014.8h0M321.3 950.8h0M324.8 948.6h0M351.0 975.8h0M306.2 954.2h0M335.5 976.4h0M346.3 992.5h0M298.4 997.1h0M323.5 983.7h0M300.0 951.8h0M322.5 938.7h0M341.9 966.7h0M322.3 960.2h0" stroke-width="3.6"/><path d="M265.5 994.0h0M272.4 978.0h0M306.6 995.2h0M268.4 968.0h0M321.8 1021.4h0M339.0 968.5h0M359.6 993.3h0M345.0 959.3h0M278.4 960.5h0M288.1 977.5h0M332.6 1020.4h0M272.6 968.7h0M329.4 947.0h0M296.2 948.4h0M310.3 996.6h0M347.9 983.8h0M357.7 989.3h0M298.3 968.3h0M349.1 1006.9h0M343.1 975.5h0M349.2 984.5h0M291.7 969.5h0M333.8 968.9h0M320.0 984.6h0M318.8 967.4h0M321.4 980.0h0M307.2 976.2h0M321.1 952.3h0M359.3 968.5h0M313.7 954.6h0M347.4 999.6h0M279.8 974.0h0M316.7 946.2h0M347.1 976.2h0M298.6 982.7h0M284.6 994.6h0M304.5 989.7h0M320.7 956.4h0M309.6 987.4h0M336.2 973.3h0M324.9 1032.0h0M271.6 989.0h0M295.8 972.3h0M336.4 956.4h0M299.2 941.3h0M287.8 1000.8h0M307.4 951.0h0M273.2 956.1h0M275.3 958.4h0M307.8 953.4h0M356.2 968.4h0M333.4 998.4h0M284.7 1024.9h0M311.2 961.9h0M277.0 961.0h0M320.6 1033.1h0M291.5 961.9h0M297.0 978.6h0" stroke-width="4.0"/><path d="M279.0 999.2h0M315.0 963.1h0M337.2 948.5h0M344.3 953.9h0M308.6 979.1h0M288.5 948.1h0M330.7 978.4h0M303.8 1000.9h0M336.1 999.0h0M322.2 984.6h0M290.2 943.4h0M297.1 961.7h0M329.7 986.1h0M276.3 997.5h0M338.2 952.3h0M304.5 1025.7h0M262.5 986.1h0M289.4 966.8h0M310.7 947.2h0M275.0 1006.3h0M286.1 992.4h0M275.2 958.2h0M269.9 998.4h0M348.4 968.9h0M342.1 964.9h0M324.6 981.4h0M296.7 975.0h0M351.7 958.1h0M291.2 968.2h0M315.9 952.0h0M287.4 970.2h0M315.3 939.1h0M320.5 982.0h0" stroke-width="4.4"/></g></g><path d="M350.7 1049.0L349.8 1050.7L348.7 1052.3L347.1 1053.9L344.5 1055.5L340.7 1056.9L335.7 1058.0L329.9 1058.6L323.9 1058.9L318.0 1058.8L312.3 1058.6L306.7 1058.1L301.4 1057.5L296.5 1056.5L292.3 1055.3L289.1 1053.9L286.7 1052.4L285.0 1050.7L283.9 1049.0L283.5 1047.2L284.2 1045.4L286.3 1043.6L290.0 1042.1L295.1 1041.0L301.0 1040.3L307.0 1040.1L312.6 1040.1L318.0 1040.0L323.4 1040.0L329.2 1039.9L335.3 1040.2L341.2 1040.9L346.2 1042.0L349.5 1043.6L351.1 1045.5L351.3 1047.3Z" fill="#1014b0" filter="url(#b2)"/><path d="M254.2 945.0L253.9 950.2L253.4 955.1L252.8 959.7L251.9 963.6L250.9 967.0L249.8 969.6L248.6 971.5L247.3 972.9L246.0 974.0L244.6 974.5L243.2 974.2L241.7 972.7L240.5 969.8L239.5 965.6L238.8 960.5L238.5 955.2L238.4 950.0L238.4 945.0L238.4 940.0L238.6 934.9L238.9 929.7L239.6 924.9L240.6 921.0L241.9 918.5L243.3 917.3L244.7 917.1L246.0 917.3L247.3 917.7L248.6 918.2L250.0 919.2L251.3 921.2L252.5 924.4L253.5 928.8L254.1 934.0L254.3 939.5Z" fill="#0e10a8" filter="url(#b2)"/></g>
<rect x="114.7" y="1055.8" width="123.10000000000001" height="122.70000000000005" fill="#000"/>
<g clip-path="url(#cp30)"><path d="M136.6 1079.0L136.5 1083.1L136.1 1087.1L135.2 1090.8L133.9 1093.9L132.2 1096.2L130.4 1097.7L128.5 1098.5L126.7 1098.8L125.0 1099.0L123.2 1099.0L121.4 1098.9L119.5 1098.1L117.7 1096.4L116.2 1093.8L115.1 1090.4L114.5 1086.6L114.3 1082.8L114.3 1079.0L114.4 1075.3L114.6 1071.5L115.1 1067.6L116.0 1063.9L117.4 1060.8L119.1 1058.7L121.1 1057.7L123.1 1057.7L125.0 1058.3L126.7 1059.2L128.4 1060.3L130.1 1061.5L131.7 1063.0L133.3 1065.2L134.6 1067.9L135.6 1071.3L136.3 1075.0Z" fill="#1838b8" filter="url(#b1)"/><path d="M136.6 1079.0L136.5 1083.1L136.1 1087.1L135.2 1090.8L133.9 1093.9L132.2 1096.2L130.4 1097.7L128.5 1098.5L126.7 1098.8L125.0 1099.0L123.2 1099.0L121.4 1098.9L119.5 1098.1L117.7 1096.4L116.2 1093.8L115.1 1090.4L114.5 1086.6L114.3 1082.8L114.3 1079.0L114.4 1075.3L114.6 1071.5L115.1 1067.6L116.0 1063.9L117.4 1060.8L119.1 1058.7L121.1 1057.7L123.1 1057.7L125.0 1058.3L126.7 1059.2L128.4 1060.3L130.1 1061.5L131.7 1063.0L133.3 1065.2L134.6 1067.9L135.6 1071.3L136.3 1075.0Z" transform="translate(125 1079) scale(0.93) translate(-125 -1079)" fill="#fff" filter="url(#f2)"/><path d="M136.6 1079.0L136.5 1083.1L136.1 1087.1L135.2 1090.8L133.9 1093.9L132.2 1096.2L130.4 1097.7L128.5 1098.5L126.7 1098.8L125.0 1099.0L123.2 1099.0L121.4 1098.9L119.5 1098.1L117.7 1096.4L116.2 1093.8L115.1 1090.4L114.5 1086.6L114.3 1082.8L114.3 1079.0L114.4 1075.3L114.6 1071.5L115.1 1067.6L116.0 1063.9L117.4 1060.8L119.1 1058.7L121.1 1057.7L123.1 1057.7L125.0 1058.3L126.7 1059.2L128.4 1060.3L130.1 1061.5L131.7 1063.0L133.3 1065.2L134.6 1067.9L135.6 1071.3L136.3 1075.0Z" transform="translate(125 1079) scale(0.93) translate(-125 -1079)" fill="#fff" filter="url(#f3)"/><clipPath id="nc49"><path d="M136.6 1079.0L136.5 1083.1L136.1 1087.1L135.2 1090.8L133.9 1093.9L132.2 1096.2L130.4 1097.7L128.5 1098.5L126.7 1098.8L125.0 1099.0L123.2 1099.0L121.4 1098.9L119.5 1098.1L117.7 1096.4L116.2 1093.8L115.1 1090.4L114.5 1086.6L114.3 1082.8L114.3 1079.0L114.4 1075.3L114.6 1071.5L115.1 1067.6L116.0 1063.9L117.4 1060.8L119.1 1058.7L121.1 1057.7L123.1 1057.7L125.0 1058.3L126.7 1059.2L128.4 1060.3L130.1 1061.5L131.7 1063.0L133.3 1065.2L134.6 1067.9L135.6 1071.3L136.3 1075.0Z"/></clipPath><g clip-path="url(#nc49)"><g stroke="#1c3cff" stroke-opacity="0.75" stroke-linecap="round" fill="none" filter="url(#b1)"><path d="M116.0 1080.2h0M127.2 1093.3h0" stroke-width="2.8"/><path d="M129.4 1094.0h0" stroke-width="3.2"/><path d="M121.1 1071.6h0M126.5 1076.0h0M122.3 1086.9h0" stroke-width="3.6"/><path d="M120.3 1084.4h0M121.8 1082.2h0" stroke-width="4.0"/><path d="M119.3 1071.7h0" stroke-width="4.8"/><path d="M126.2 1093.8h0" stroke-width="5.2"/></g></g><path d="M166.3 1089.3L165.1 1091.8L163.4 1094.1L161.2 1095.9L158.9 1097.3L156.4 1098.5L153.8 1099.6L151.0 1100.5L148.0 1101.0L144.8 1100.7L141.9 1099.5L139.5 1097.4L137.9 1094.7L137.0 1091.8L136.5 1089.0L136.2 1086.3L135.8 1083.7L135.6 1081.0L135.7 1078.1L136.5 1075.3L138.0 1072.8L140.2 1070.8L142.7 1069.4L145.4 1068.4L148.2 1067.8L151.0 1067.3L153.9 1067.2L156.9 1067.6L159.7 1068.6L162.2 1070.4L164.1 1072.7L165.4 1075.4L166.2 1078.2L166.7 1080.9L167.0 1083.7L166.9 1086.5Z" fill="#1838b8" filter="url(#b1)"/><path d="M166.3 1089.3L165.1 1091.8L163.4 1094.1L161.2 1095.9L158.9 1097.3L156.4 1098.5L153.8 1099.6L151.0 1100.5L148.0 1101.0L144.8 1100.7L141.9 1099.5L139.5 1097.4L137.9 1094.7L137.0 1091.8L136.5 1089.0L136.2 1086.3L135.8 1083.7L135.6 1081.0L135.7 1078.1L136.5 1075.3L138.0 1072.8L140.2 1070.8L142.7 1069.4L145.4 1068.4L148.2 1067.8L151.0 1067.3L153.9 1067.2L156.9 1067.6L159.7 1068.6L162.2 1070.4L164.1 1072.7L165.4 1075.4L166.2 1078.2L166.7 1080.9L167.0 1083.7L166.9 1086.5Z" transform="translate(151 1083.7) scale(0.93) translate(-151 -1083.7)" fill="#fff" filter="url(#f2)"/><path d="M166.3 1089.3L165.1 1091.8L163.4 1094.1L161.2 1095.9L158.9 1097.3L156.4 1098.5L153.8 1099.6L151.0 1100.5L148.0 1101.0L144.8 1100.7L141.9 1099.5L139.5 1097.4L137.9 1094.7L137.0 1091.8L136.5 1089.0L136.2 1086.3L135.8 1083.7L135.6 1081.0L135.7 1078.1L136.5 1075.3L138.0 1072.8L140.2 1070.8L142.7 1069.4L145.4 1068.4L148.2 1067.8L151.0 1067.3L153.9 1067.2L156.9 1067.6L159.7 1068.6L162.2 1070.4L164.1 1072.7L165.4 1075.4L166.2 1078.2L166.7 1080.9L167.0 1083.7L166.9 1086.5Z" transform="translate(151 1083.7) scale(0.93) translate(-151 -1083.7)" fill="#fff" filter="url(#f3)"/><clipPath id="nc50"><path d="M166.3 1089.3L165.1 1091.8L163.4 1094.1L161.2 1095.9L158.9 1097.3L156.4 1098.5L153.8 1099.6L151.0 1100.5L148.0 1101.0L144.8 1100.7L141.9 1099.5L139.5 1097.4L137.9 1094.7L137.0 1091.8L136.5 1089.0L136.2 1086.3L135.8 1083.7L135.6 1081.0L135.7 1078.1L136.5 1075.3L138.0 1072.8L140.2 1070.8L142.7 1069.4L145.4 1068.4L148.2 1067.8L151.0 1067.3L153.9 1067.2L156.9 1067.6L159.7 1068.6L162.2 1070.4L164.1 1072.7L165.4 1075.4L166.2 1078.2L166.7 1080.9L167.0 1083.7L166.9 1086.5Z"/></clipPath><g clip-path="url(#nc50)"><g stroke="#1c3cff" stroke-opacity="0.75" stroke-linecap="round" fill="none" filter="url(#b1)"><path d="M145.0 1070.6h0" stroke-width="2.8"/><path d="M149.5 1081.3h0M163.3 1078.9h0" stroke-width="3.6"/><path d="M162.3 1079.1h0M150.8 1085.7h0M154.0 1093.0h0" stroke-width="4.0"/><path d="M155.8 1092.3h0" stroke-width="4.4"/><path d="M153.7 1070.4h0M143.5 1081.0h0" stroke-width="5.2"/><path d="M147.1 1077.4h0M151.8 1098.6h0" stroke-width="5.6"/></g></g><path d="M185.7 1089.7L184.6 1091.6L182.8 1093.0L180.4 1093.7L177.6 1093.9L174.5 1093.5L171.2 1092.7L167.8 1091.5L164.3 1089.7L161.0 1087.3L158.1 1084.3L156.0 1081.2L154.6 1078.0L153.8 1075.1L153.1 1072.4L152.5 1069.7L152.0 1067.0L151.8 1064.2L152.5 1061.9L154.3 1060.2L156.8 1059.5L159.9 1059.7L163.0 1060.4L165.9 1061.2L168.9 1061.9L172.0 1062.6L175.6 1063.6L179.3 1065.5L182.7 1068.1L185.4 1071.4L187.0 1074.8L187.5 1078.0L187.4 1080.7L187.0 1083.1L186.6 1085.3L186.3 1087.5Z" fill="#1838b8" filter="url(#b1)"/><path d="M185.7 1089.7L184.6 1091.6L182.8 1093.0L180.4 1093.7L177.6 1093.9L174.5 1093.5L171.2 1092.7L167.8 1091.5L164.3 1089.7L161.0 1087.3L158.1 1084.3L156.0 1081.2L154.6 1078.0L153.8 1075.1L153.1 1072.4L152.5 1069.7L152.0 1067.0L151.8 1064.2L152.5 1061.9L154.3 1060.2L156.8 1059.5L159.9 1059.7L163.0 1060.4L165.9 1061.2L168.9 1061.9L172.0 1062.6L175.6 1063.6L179.3 1065.5L182.7 1068.1L185.4 1071.4L187.0 1074.8L187.5 1078.0L187.4 1080.7L187.0 1083.1L186.6 1085.3L186.3 1087.5Z" transform="translate(170 1076.5) scale(0.93) translate(-170 -1076.5)" fill="#fff" filter="url(#f2)"/><path d="M185.7 1089.7L184.6 1091.6L182.8 1093.0L180.4 1093.7L177.6 1093.9L174.5 1093.5L171.2 1092.7L167.8 1091.5L164.3 1089.7L161.0 1087.3L158.1 1084.3L156.0 1081.2L154.6 1078.0L153.8 1075.1L153.1 1072.4L152.5 1069.7L152.0 1067.0L151.8 1064.2L152.5 1061.9L154.3 1060.2L156.8 1059.5L159.9 1059.7L163.0 1060.4L165.9 1061.2L168.9 1061.9L172.0 1062.6L175.6 1063.6L179.3 1065.5L182.7 1068.1L185.4 1071.4L187.0 1074.8L187.5 1078.0L187.4 1080.7L187.0 1083.1L186.6 1085.3L186.3 1087.5Z" transform="translate(170 1076.5) scale(0.93) translate(-170 -1076.5)" fill="#fff" filter="url(#f3)"/><clipPath id="nc51"><path d="M185.7 1089.7L184.6 1091.6L182.8 1093.0L180.4 1093.7L177.6 1093.9L174.5 1093.5L171.2 1092.7L167.8 1091.5L164.3 1089.7L161.0 1087.3L158.1 1084.3L156.0 1081.2L154.6 1078.0L153.8 1075.1L153.1 1072.4L152.5 1069.7L152.0 1067.0L151.8 1064.2L152.5 1061.9L154.3 1060.2L156.8 1059.5L159.9 1059.7L163.0 1060.4L165.9 1061.2L168.9 1061.9L172.0 1062.6L175.6 1063.6L179.3 1065.5L182.7 1068.1L185.4 1071.4L187.0 1074.8L187.5 1078.0L187.4 1080.7L187.0 1083.1L186.6 1085.3L186.3 1087.5Z"/></clipPath><g clip-path="url(#nc51)"><g stroke="#1c3cff" stroke-opacity="0.75" stroke-linecap="round" fill="none" filter="url(#b1)"><path d="M166.6 1088.4h0M175.7 1086.3h0" stroke-width="2.8"/><path d="M154.6 1066.2h0M167.6 1076.7h0M177.8 1077.9h0" stroke-width="3.2"/><path d="M165.8 1083.9h0" stroke-width="3.6"/><path d="M157.9 1064.6h0M172.9 1068.0h0" stroke-width="4.0"/><path d="M179.5 1081.8h0M175.2 1068.0h0" stroke-width="4.8"/><path d="M153.8 1067.1h0" stroke-width="5.2"/><path d="M174.3 1065.8h0" stroke-width="5.6"/></g></g><path d="M232.4 1117.8L231.9 1120.1L230.6 1122.2L228.3 1123.7L225.5 1124.7L222.3 1125.1L218.9 1125.1L215.6 1124.8L212.4 1124.3L209.1 1123.6L205.8 1122.5L202.7 1121.1L199.9 1119.2L197.6 1117.0L196.0 1114.7L195.0 1112.3L194.4 1110.0L194.1 1107.7L194.2 1105.4L194.8 1103.2L196.1 1101.2L198.0 1099.5L200.6 1098.3L203.6 1097.6L206.9 1097.4L210.2 1097.6L213.7 1098.2L217.0 1099.1L220.2 1100.5L223.2 1102.1L225.7 1104.1L227.7 1106.2L229.3 1108.4L230.6 1110.7L231.6 1113.0L232.3 1115.4Z" fill="#1838b8" filter="url(#b1)"/><path d="M232.4 1117.8L231.9 1120.1L230.6 1122.2L228.3 1123.7L225.5 1124.7L222.3 1125.1L218.9 1125.1L215.6 1124.8L212.4 1124.3L209.1 1123.6L205.8 1122.5L202.7 1121.1L199.9 1119.2L197.6 1117.0L196.0 1114.7L195.0 1112.3L194.4 1110.0L194.1 1107.7L194.2 1105.4L194.8 1103.2L196.1 1101.2L198.0 1099.5L200.6 1098.3L203.6 1097.6L206.9 1097.4L210.2 1097.6L213.7 1098.2L217.0 1099.1L220.2 1100.5L223.2 1102.1L225.7 1104.1L227.7 1106.2L229.3 1108.4L230.6 1110.7L231.6 1113.0L232.3 1115.4Z" transform="translate(213 1111.5) scale(0.93) translate(-213 -1111.5)" fill="#fff" filter="url(#f2)"/><path d="M232.4 1117.8L231.9 1120.1L230.6 1122.2L228.3 1123.7L225.5 1124.7L222.3 1125.1L218.9 1125.1L215.6 1124.8L212.4 1124.3L209.1 1123.6L205.8 1122.5L202.7 1121.1L199.9 1119.2L197.6 1117.0L196.0 1114.7L195.0 1112.3L194.4 1110.0L194.1 1107.7L194.2 1105.4L194.8 1103.2L196.1 1101.2L198.0 1099.5L200.6 1098.3L203.6 1097.6L206.9 1097.4L210.2 1097.6L213.7 1098.2L217.0 1099.1L220.2 1100.5L223.2 1102.1L225.7 1104.1L227.7 1106.2L229.3 1108.4L230.6 1110.7L231.6 1113.0L232.3 1115.4Z" transform="translate(213 1111.5) scale(0.93) translate(-213 -1111.5)" fill="#fff" filter="url(#f3)"/><clipPath id="nc52"><path d="M232.4 1117.8L231.9 1120.1L230.6 1122.2L228.3 1123.7L225.5 1124.7L222.3 1125.1L218.9 1125.1L215.6 1124.8L212.4 1124.3L209.1 1123.6L205.8 1122.5L202.7 1121.1L199.9 1119.2L197.6 1117.0L196.0 1114.7L195.0 1112.3L194.4 1110.0L194.1 1107.7L194.2 1105.4L194.8 1103.2L196.1 1101.2L198.0 1099.5L200.6 1098.3L203.6 1097.6L206.9 1097.4L210.2 1097.6L213.7 1098.2L217.0 1099.1L220.2 1100.5L223.2 1102.1L225.7 1104.1L227.7 1106.2L229.3 1108.4L230.6 1110.7L231.6 1113.0L232.3 1115.4Z"/></clipPath><g clip-path="url(#nc52)"><g stroke="#1c3cff" stroke-opacity="0.75" stroke-linecap="round" fill="none" filter="url(#b1)"><path d="M214.5 1107.9h0" stroke-width="3.2"/><path d="M205.6 1100.9h0M200.8 1105.3h0" stroke-width="3.6"/><path d="M197.5 1109.8h0" stroke-width="4.0"/><path d="M214.9 1109.2h0M217.8 1109.7h0M222.9 1105.6h0M222.2 1109.3h0" stroke-width="4.4"/><path d="M209.6 1101.1h0M198.9 1108.8h0" stroke-width="4.8"/><path d="M217.4 1102.3h0" stroke-width="5.2"/></g></g><path d="M187.1 1118.5L187.8 1121.1L188.4 1123.7L188.6 1126.5L188.2 1129.4L187.1 1132.1L185.2 1134.5L182.8 1136.3L180.2 1137.8L177.4 1139.0L174.6 1139.9L171.7 1140.6L168.6 1140.7L165.6 1140.0L163.1 1138.5L161.1 1136.3L159.8 1133.9L158.7 1131.5L157.7 1129.2L156.5 1126.9L155.4 1124.3L154.6 1121.4L154.7 1118.3L156.0 1115.4L158.2 1113.1L161.0 1111.5L164.0 1110.5L166.8 1109.8L169.5 1109.1L172.3 1108.5L175.2 1108.1L178.3 1108.3L181.1 1109.3L183.4 1111.1L185.1 1113.4L186.2 1116.0Z" fill="#1838b8" filter="url(#b1)"/><path d="M187.1 1118.5L187.8 1121.1L188.4 1123.7L188.6 1126.5L188.2 1129.4L187.1 1132.1L185.2 1134.5L182.8 1136.3L180.2 1137.8L177.4 1139.0L174.6 1139.9L171.7 1140.6L168.6 1140.7L165.6 1140.0L163.1 1138.5L161.1 1136.3L159.8 1133.9L158.7 1131.5L157.7 1129.2L156.5 1126.9L155.4 1124.3L154.6 1121.4L154.7 1118.3L156.0 1115.4L158.2 1113.1L161.0 1111.5L164.0 1110.5L166.8 1109.8L169.5 1109.1L172.3 1108.5L175.2 1108.1L178.3 1108.3L181.1 1109.3L183.4 1111.1L185.1 1113.4L186.2 1116.0Z" transform="translate(172 1124) scale(0.93) translate(-172 -1124)" fill="#fff" filter="url(#f2)"/><path d="M187.1 1118.5L187.8 1121.1L188.4 1123.7L188.6 1126.5L188.2 1129.4L187.1 1132.1L185.2 1134.5L182.8 1136.3L180.2 1137.8L177.4 1139.0L174.6 1139.9L171.7 1140.6L168.6 1140.7L165.6 1140.0L163.1 1138.5L161.1 1136.3L159.8 1133.9L158.7 1131.5L157.7 1129.2L156.5 1126.9L155.4 1124.3L154.6 1121.4L154.7 1118.3L156.0 1115.4L158.2 1113.1L161.0 1111.5L164.0 1110.5L166.8 1109.8L169.5 1109.1L172.3 1108.5L175.2 1108.1L178.3 1108.3L181.1 1109.3L183.4 1111.1L185.1 1113.4L186.2 1116.0Z" transform="translate(172 1124) scale(0.93) translate(-172 -1124)" fill="#fff" filter="url(#f3)"/><clipPath id="nc53"><path d="M187.1 1118.5L187.8 1121.1L188.4 1123.7L188.6 1126.5L188.2 1129.4L187.1 1132.1L185.2 1134.5L182.8 1136.3L180.2 1137.8L177.4 1139.0L174.6 1139.9L171.7 1140.6L168.6 1140.7L165.6 1140.0L163.1 1138.5L161.1 1136.3L159.8 1133.9L158.7 1131.5L157.7 1129.2L156.5 1126.9L155.4 1124.3L154.6 1121.4L154.7 1118.3L156.0 1115.4L158.2 1113.1L161.0 1111.5L164.0 1110.5L166.8 1109.8L169.5 1109.1L172.3 1108.5L175.2 1108.1L178.3 1108.3L181.1 1109.3L183.4 1111.1L185.1 1113.4L186.2 1116.0Z"/></clipPath><g clip-path="url(#nc53)"><g stroke="#1c3cff" stroke-opacity="0.75" stroke-linecap="round" fill="none" filter="url(#b1)"><path d="M170.7 1138.0h0M163.0 1113.2h0M165.6 1131.2h0" stroke-width="2.8"/><path d="M178.5 1126.2h0M173.1 1119.3h0M178.2 1127.5h0M186.7 1126.0h0" stroke-width="3.2"/><path d="M175.3 1131.0h0" stroke-width="3.6"/><path d="M170.4 1115.0h0" stroke-width="4.0"/><path d="M167.7 1132.0h0" stroke-width="4.4"/><path d="M168.4 1128.8h0" stroke-width="5.2"/></g></g><path d="M235.6 1141.7L234.9 1143.8L233.2 1145.7L231.1 1147.3L228.7 1148.7L226.2 1150.0L223.4 1151.2L220.1 1152.1L216.4 1152.4L212.5 1152.0L208.9 1151.0L205.6 1149.5L202.9 1147.8L200.3 1146.1L197.8 1144.4L195.6 1142.4L193.8 1140.3L192.9 1138.0L193.2 1135.7L194.6 1133.7L196.6 1132.1L198.8 1130.7L200.9 1129.2L202.9 1127.7L205.4 1126.2L208.5 1124.9L212.3 1124.3L216.4 1124.6L220.2 1125.8L223.4 1127.6L225.9 1129.6L228.0 1131.5L230.0 1133.3L232.1 1135.2L234.0 1137.2L235.3 1139.4Z" fill="#1838b8" filter="url(#b1)"/><path d="M235.6 1141.7L234.9 1143.8L233.2 1145.7L231.1 1147.3L228.7 1148.7L226.2 1150.0L223.4 1151.2L220.1 1152.1L216.4 1152.4L212.5 1152.0L208.9 1151.0L205.6 1149.5L202.9 1147.8L200.3 1146.1L197.8 1144.4L195.6 1142.4L193.8 1140.3L192.9 1138.0L193.2 1135.7L194.6 1133.7L196.6 1132.1L198.8 1130.7L200.9 1129.2L202.9 1127.7L205.4 1126.2L208.5 1124.9L212.3 1124.3L216.4 1124.6L220.2 1125.8L223.4 1127.6L225.9 1129.6L228.0 1131.5L230.0 1133.3L232.1 1135.2L234.0 1137.2L235.3 1139.4Z" transform="translate(214.4 1138.7) scale(0.93) translate(-214.4 -1138.7)" fill="#fff" filter="url(#f2)"/><path d="M235.6 1141.7L234.9 1143.8L233.2 1145.7L231.1 1147.3L228.7 1148.7L226.2 1150.0L223.4 1151.2L220.1 1152.1L216.4 1152.4L212.5 1152.0L208.9 1151.0L205.6 1149.5L202.9 1147.8L200.3 1146.1L197.8 1144.4L195.6 1142.4L193.8 1140.3L192.9 1138.0L193.2 1135.7L194.6 1133.7L196.6 1132.1L198.8 1130.7L200.9 1129.2L202.9 1127.7L205.4 1126.2L208.5 1124.9L212.3 1124.3L216.4 1124.6L220.2 1125.8L223.4 1127.6L225.9 1129.6L228.0 1131.5L230.0 1133.3L232.1 1135.2L234.0 1137.2L235.3 1139.4Z" transform="translate(214.4 1138.7) scale(0.93) translate(-214.4 -1138.7)" fill="#fff" filter="url(#f3)"/><clipPath id="nc54"><path d="M235.6 1141.7L234.9 1143.8L233.2 1145.7L231.1 1147.3L228.7 1148.7L226.2 1150.0L223.4 1151.2L220.1 1152.1L216.4 1152.4L212.5 1152.0L208.9 1151.0L205.6 1149.5L202.9 1147.8L200.3 1146.1L197.8 1144.4L195.6 1142.4L193.8 1140.3L192.9 1138.0L193.2 1135.7L194.6 1133.7L196.6 1132.1L198.8 1130.7L200.9 1129.2L202.9 1127.7L205.4 1126.2L208.5 1124.9L212.3 1124.3L216.4 1124.6L220.2 1125.8L223.4 1127.6L225.9 1129.6L228.0 1131.5L230.0 1133.3L232.1 1135.2L234.0 1137.2L235.3 1139.4Z"/></clipPath><g clip-path="url(#nc54)"><g stroke="#1c3cff" stroke-opacity="0.75" stroke-linecap="round" fill="none" filter="url(#b1)"><path d="M213.2 1133.7h0M221.6 1146.8h0M227.4 1146.5h0" stroke-width="2.8"/><path d="M220.3 1142.4h0" stroke-width="3.2"/><path d="M230.0 1145.6h0M216.2 1139.5h0M210.6 1134.2h0" stroke-width="3.6"/><path d="M218.7 1140.0h0" stroke-width="4.0"/><path d="M213.0 1134.9h0" stroke-width="4.4"/><path d="M222.5 1147.2h0" stroke-width="4.8"/><path d="M212.0 1128.2h0" stroke-width="5.2"/></g></g><path d="M203.1 1165.9L202.1 1168.5L200.3 1170.7L197.9 1172.7L195.2 1174.3L192.2 1175.8L188.8 1177.0L185.0 1177.8L180.8 1177.9L176.5 1177.3L172.4 1176.0L168.7 1174.2L165.5 1172.0L162.5 1169.7L159.8 1167.2L157.5 1164.6L155.8 1161.7L155.1 1158.7L155.7 1155.8L157.6 1153.4L160.2 1151.5L163.1 1150.0L166.0 1148.7L168.7 1147.3L171.6 1145.8L175.1 1144.5L179.1 1143.7L183.7 1143.7L188.2 1144.9L192.1 1146.9L195.3 1149.4L197.7 1152.2L199.7 1154.9L201.2 1157.6L202.5 1160.4L203.2 1163.1Z" fill="#1838b8" filter="url(#b1)"/><path d="M203.1 1165.9L202.1 1168.5L200.3 1170.7L197.9 1172.7L195.2 1174.3L192.2 1175.8L188.8 1177.0L185.0 1177.8L180.8 1177.9L176.5 1177.3L172.4 1176.0L168.7 1174.2L165.5 1172.0L162.5 1169.7L159.8 1167.2L157.5 1164.6L155.8 1161.7L155.1 1158.7L155.7 1155.8L157.6 1153.4L160.2 1151.5L163.1 1150.0L166.0 1148.7L168.7 1147.3L171.6 1145.8L175.1 1144.5L179.1 1143.7L183.7 1143.7L188.2 1144.9L192.1 1146.9L195.3 1149.4L197.7 1152.2L199.7 1154.9L201.2 1157.6L202.5 1160.4L203.2 1163.1Z" transform="translate(180 1161) scale(0.93) translate(-180 -1161)" fill="#fff" filter="url(#f2)"/><path d="M203.1 1165.9L202.1 1168.5L200.3 1170.7L197.9 1172.7L195.2 1174.3L192.2 1175.8L188.8 1177.0L185.0 1177.8L180.8 1177.9L176.5 1177.3L172.4 1176.0L168.7 1174.2L165.5 1172.0L162.5 1169.7L159.8 1167.2L157.5 1164.6L155.8 1161.7L155.1 1158.7L155.7 1155.8L157.6 1153.4L160.2 1151.5L163.1 1150.0L166.0 1148.7L168.7 1147.3L171.6 1145.8L175.1 1144.5L179.1 1143.7L183.7 1143.7L188.2 1144.9L192.1 1146.9L195.3 1149.4L197.7 1152.2L199.7 1154.9L201.2 1157.6L202.5 1160.4L203.2 1163.1Z" transform="translate(180 1161) scale(0.93) translate(-180 -1161)" fill="#fff" filter="url(#f3)"/><clipPath id="nc55"><path d="M203.1 1165.9L202.1 1168.5L200.3 1170.7L197.9 1172.7L195.2 1174.3L192.2 1175.8L188.8 1177.0L185.0 1177.8L180.8 1177.9L176.5 1177.3L172.4 1176.0L168.7 1174.2L165.5 1172.0L162.5 1169.7L159.8 1167.2L157.5 1164.6L155.8 1161.7L155.1 1158.7L155.7 1155.8L157.6 1153.4L160.2 1151.5L163.1 1150.0L166.0 1148.7L168.7 1147.3L171.6 1145.8L175.1 1144.5L179.1 1143.7L183.7 1143.7L188.2 1144.9L192.1 1146.9L195.3 1149.4L197.7 1152.2L199.7 1154.9L201.2 1157.6L202.5 1160.4L203.2 1163.1Z"/></clipPath><g clip-path="url(#nc55)"><g stroke="#1c3cff" stroke-opacity="0.75" stroke-linecap="round" fill="none" filter="url(#b1)"><path d="M175.2 1157.7h0M188.7 1149.9h0M190.9 1150.3h0M167.0 1157.4h0M177.2 1149.1h0" stroke-width="2.8"/><path d="M170.1 1154.7h0M166.9 1170.7h0M201.3 1161.6h0M180.0 1154.2h0" stroke-width="3.2"/><path d="M162.0 1158.8h0M167.1 1154.6h0M189.2 1154.2h0" stroke-width="3.6"/><path d="M188.6 1160.2h0" stroke-width="4.0"/><path d="M179.6 1149.6h0" stroke-width="4.8"/><path d="M192.1 1155.6h0M170.1 1151.5h0" stroke-width="5.2"/></g></g></g>
<path transform="translate(160.3 1117.3) rotate(45)" d="M0 0 L-17 -8.5 L-12 0 L-17 8.5 Z" fill="#e82028"/>
<line x1="207.2" y1="1173.3" x2="234.8" y2="1173.3" stroke="#fff" stroke-width="1.8"/>
<text x="221.5" y="1171.2" font-size="7.2" fill="#fff" text-anchor="middle">10µm</text>
<rect x="252.7" y="1055.8" width="122.60000000000002" height="122.70000000000005" fill="#000"/>
<g clip-path="url(#cp31)"><path d="M260.4 1138.5C259.6 1133.2 261.1 1127.1 263.4 1121.4C265.7 1115.7 270.5 1110.6 274.4 1104.3C278.3 1098.0 282.1 1089.0 286.6 1083.5C291.1 1078.0 296.0 1074.1 301.3 1071.3C306.6 1068.5 311.5 1066.4 318.4 1066.4C325.3 1066.4 335.9 1068.5 342.8 1071.3C349.7 1074.1 355.2 1077.8 359.9 1083.5C364.6 1089.2 369.7 1098.4 370.9 1105.5C372.1 1112.6 369.5 1119.6 367.3 1126.3C365.1 1133.0 362.8 1140.1 357.5 1145.8C352.2 1151.5 343.6 1156.6 335.5 1160.5C327.4 1164.4 316.8 1168.6 308.6 1169.0C300.5 1169.4 293.3 1165.5 286.6 1162.9C279.9 1160.3 272.7 1157.3 268.3 1153.2C263.9 1149.1 261.2 1143.8 260.4 1138.5Z" fill="#1838e0" filter="url(#b2)"/><clipPath id="nc56"><path d="M260.4 1138.5C259.6 1133.2 261.1 1127.1 263.4 1121.4C265.7 1115.7 270.5 1110.6 274.4 1104.3C278.3 1098.0 282.1 1089.0 286.6 1083.5C291.1 1078.0 296.0 1074.1 301.3 1071.3C306.6 1068.5 311.5 1066.4 318.4 1066.4C325.3 1066.4 335.9 1068.5 342.8 1071.3C349.7 1074.1 355.2 1077.8 359.9 1083.5C364.6 1089.2 369.7 1098.4 370.9 1105.5C372.1 1112.6 369.5 1119.6 367.3 1126.3C365.1 1133.0 362.8 1140.1 357.5 1145.8C352.2 1151.5 343.6 1156.6 335.5 1160.5C327.4 1164.4 316.8 1168.6 308.6 1169.0C300.5 1169.4 293.3 1165.5 286.6 1162.9C279.9 1160.3 272.7 1157.3 268.3 1153.2C263.9 1149.1 261.2 1143.8 260.4 1138.5Z"/></clipPath><g clip-path="url(#nc56)"><g stroke="#2530ff" stroke-opacity="0.75" stroke-linecap="round" fill="none" filter="url(#b15)"><path d="M336.6 1132.6h0M319.3 1087.1h0M320.9 1149.8h0M313.0 1153.7h0M328.6 1070.0h0M345.3 1127.5h0M287.6 1160.8h0M349.7 1116.1h0M284.5 1133.4h0M333.8 1094.3h0M350.1 1135.9h0M347.7 1080.8h0M273.3 1131.1h0" stroke-width="4.0"/><path d="M339.6 1142.4h0M286.0 1121.6h0M275.2 1134.7h0M299.1 1155.4h0M287.2 1149.8h0" stroke-width="4.4"/><path d="M348.5 1086.0h0M315.5 1139.0h0M305.8 1126.0h0M308.2 1099.2h0M300.7 1099.3h0M325.7 1117.9h0M288.4 1145.6h0M304.6 1106.6h0M309.6 1077.0h0" stroke-width="4.8"/><path d="M267.2 1145.2h0M275.0 1151.6h0M280.5 1143.9h0M303.4 1099.7h0M314.7 1145.7h0" stroke-width="5.2"/><path d="M321.8 1078.4h0M323.0 1109.8h0M358.8 1140.6h0M340.0 1138.5h0M316.7 1076.0h0M312.1 1165.1h0M292.0 1114.9h0" stroke-width="5.6"/><path d="M321.4 1104.4h0M332.7 1098.7h0M309.5 1149.3h0M337.2 1124.6h0M286.0 1116.4h0M330.7 1150.5h0M340.8 1101.2h0M331.4 1116.7h0" stroke-width="6.0"/><path d="M267.4 1102.4h0M291.0 1100.1h0M327.7 1143.7h0M358.1 1086.8h0M339.8 1074.5h0" stroke-width="6.4"/><path d="M269.7 1113.0h0M348.9 1110.7h0M302.2 1127.4h0M313.8 1125.1h0M334.0 1094.6h0M304.6 1111.3h0M272.6 1146.2h0" stroke-width="6.8"/><path d="M271.0 1123.3h0" stroke-width="7.2"/></g></g><clipPath id="nc57"><path d="M260.4 1138.5C259.6 1133.2 261.1 1127.1 263.4 1121.4C265.7 1115.7 270.5 1110.6 274.4 1104.3C278.3 1098.0 282.1 1089.0 286.6 1083.5C291.1 1078.0 296.0 1074.1 301.3 1071.3C306.6 1068.5 311.5 1066.4 318.4 1066.4C325.3 1066.4 335.9 1068.5 342.8 1071.3C349.7 1074.1 355.2 1077.8 359.9 1083.5C364.6 1089.2 369.7 1098.4 370.9 1105.5C372.1 1112.6 369.5 1119.6 367.3 1126.3C365.1 1133.0 362.8 1140.1 357.5 1145.8C352.2 1151.5 343.6 1156.6 335.5 1160.5C327.4 1164.4 316.8 1168.6 308.6 1169.0C300.5 1169.4 293.3 1165.5 286.6 1162.9C279.9 1160.3 272.7 1157.3 268.3 1153.2C263.9 1149.1 261.2 1143.8 260.4 1138.5Z"/></clipPath><g clip-path="url(#nc57)"><g stroke="#1030e0" stroke-opacity="0.8" stroke-linecap="round" fill="none" filter="url(#b3)"><path d="M291.5 1092.9h0" stroke-width="10.4"/><path d="M337.1 1146.2h0M338.5 1131.9h0" stroke-width="10.8"/><path d="M317.3 1091.3h0" stroke-width="11.6"/><path d="M284.5 1107.9h0" stroke-width="12.4"/><path d="M340.4 1125.1h0" stroke-width="12.8"/></g></g><clipPath id="nc58"><path d="M260.4 1138.5C259.6 1133.2 261.1 1127.1 263.4 1121.4C265.7 1115.7 270.5 1110.6 274.4 1104.3C278.3 1098.0 282.1 1089.0 286.6 1083.5C291.1 1078.0 296.0 1074.1 301.3 1071.3C306.6 1068.5 311.5 1066.4 318.4 1066.4C325.3 1066.4 335.9 1068.5 342.8 1071.3C349.7 1074.1 355.2 1077.8 359.9 1083.5C364.6 1089.2 369.7 1098.4 370.9 1105.5C372.1 1112.6 369.5 1119.6 367.3 1126.3C365.1 1133.0 362.8 1140.1 357.5 1145.8C352.2 1151.5 343.6 1156.6 335.5 1160.5C327.4 1164.4 316.8 1168.6 308.6 1169.0C300.5 1169.4 293.3 1165.5 286.6 1162.9C279.9 1160.3 272.7 1157.3 268.3 1153.2C263.9 1149.1 261.2 1143.8 260.4 1138.5Z"/></clipPath><g clip-path="url(#nc58)"><g stroke="#30d8f0" stroke-opacity="0.5" stroke-linecap="round" fill="none" filter="url(#b1)"><path d="M277.7 1124.6h0M301.2 1138.4h0M338.2 1092.2h0M294.1 1140.7h0M354.8 1110.2h0M325.7 1091.4h0M361.7 1097.1h0M264.2 1131.9h0M302.6 1074.2h0M274.1 1144.8h0M322.6 1109.9h0M324.4 1098.0h0M366.2 1120.2h0M335.0 1146.9h0M265.3 1140.6h0M335.3 1145.7h0M324.1 1109.5h0M286.7 1099.2h0M320.5 1136.3h0M366.3 1111.0h0M346.0 1144.9h0M340.3 1156.0h0M316.2 1153.7h0M339.2 1073.6h0M286.3 1151.7h0M317.1 1072.5h0M282.3 1084.2h0M306.1 1095.0h0M286.2 1161.4h0M313.9 1115.5h0M356.4 1101.8h0M350.1 1149.3h0M284.5 1137.9h0M335.1 1092.4h0M340.4 1079.3h0M265.6 1143.9h0M283.3 1091.8h0M336.2 1120.4h0M322.3 1161.4h0M281.5 1127.1h0M288.7 1115.1h0M329.5 1115.8h0M332.4 1094.1h0M307.7 1142.2h0M321.9 1153.3h0M291.2 1166.4h0M273.8 1101.6h0M300.9 1133.7h0M291.9 1086.8h0M341.8 1104.2h0M273.8 1148.1h0" stroke-width="2.4"/><path d="M301.3 1153.3h0M327.4 1082.5h0M328.7 1125.2h0M298.2 1071.0h0M334.5 1076.3h0M326.6 1151.0h0M277.7 1103.3h0M370.1 1114.4h0M341.1 1099.2h0M278.6 1102.7h0M287.1 1161.9h0M359.3 1131.7h0M346.8 1140.2h0M330.6 1090.5h0M353.4 1126.2h0M366.2 1111.4h0M345.5 1126.4h0M341.8 1130.5h0M299.9 1094.8h0M269.8 1144.9h0M283.7 1140.5h0M322.9 1119.8h0M332.4 1095.8h0M292.1 1138.3h0M356.8 1097.2h0M354.9 1082.3h0M306.2 1074.8h0M314.1 1101.1h0M325.7 1144.9h0M331.3 1160.6h0M354.8 1095.6h0M270.5 1124.0h0M350.4 1127.4h0M309.4 1148.0h0M337.0 1120.6h0M362.6 1129.2h0M344.0 1112.1h0M307.2 1123.8h0M302.1 1137.2h0M268.9 1122.0h0M361.8 1127.8h0M319.3 1157.9h0" stroke-width="2.8"/><path d="M365.5 1107.8h0M361.4 1115.0h0M333.6 1091.9h0M348.7 1076.7h0M308.4 1107.3h0M281.6 1083.3h0M290.0 1103.7h0M341.9 1114.0h0M265.5 1134.3h0M290.2 1118.4h0M321.8 1124.8h0M289.0 1107.7h0M343.1 1146.0h0M296.0 1136.1h0M269.7 1121.9h0M336.8 1101.0h0M305.5 1142.4h0M324.7 1146.1h0M281.8 1096.2h0M327.3 1124.5h0M311.4 1165.8h0M304.7 1103.2h0M359.9 1087.6h0M320.4 1109.2h0M297.6 1165.6h0M328.9 1087.1h0M307.4 1103.8h0M323.9 1133.8h0M264.3 1106.0h0M269.7 1140.7h0M320.5 1067.2h0M294.7 1103.8h0M281.9 1103.8h0M283.5 1157.9h0M338.6 1153.4h0M287.2 1102.2h0M317.3 1080.8h0M288.5 1097.5h0M268.9 1116.3h0M366.3 1099.9h0M311.5 1096.5h0M307.3 1154.9h0M298.3 1135.2h0M280.8 1161.3h0M361.7 1124.2h0M358.7 1078.2h0M333.4 1151.2h0" stroke-width="3.2"/><path d="M292.0 1079.5h0M321.1 1074.4h0M332.1 1151.7h0M316.1 1085.8h0M337.0 1147.6h0M265.7 1125.2h0M327.7 1161.5h0M283.1 1110.7h0M361.4 1108.6h0M334.0 1123.6h0M297.5 1139.6h0M286.9 1101.6h0M266.7 1132.6h0M353.7 1100.1h0M319.2 1105.2h0M290.5 1088.8h0M358.4 1085.2h0M352.3 1146.6h0M349.7 1144.1h0M340.3 1114.7h0M314.5 1146.5h0M340.0 1116.6h0M320.1 1149.3h0M316.0 1087.8h0M348.8 1088.1h0M355.9 1122.3h0M289.1 1154.4h0M313.6 1142.0h0M264.3 1131.7h0M296.3 1129.4h0M345.0 1132.7h0M308.0 1086.9h0M339.7 1147.6h0M293.3 1110.3h0M273.9 1140.1h0M362.9 1130.5h0M288.4 1089.8h0M298.7 1167.3h0M308.1 1089.9h0M353.0 1113.5h0M305.8 1086.6h0M301.1 1136.0h0M332.3 1150.1h0M332.5 1106.3h0M272.4 1122.0h0M288.5 1107.8h0" stroke-width="3.6"/><path d="M339.4 1069.5h0M296.6 1094.6h0M324.1 1137.1h0M308.0 1147.4h0M370.6 1097.9h0M346.5 1135.5h0M305.8 1103.4h0M316.8 1129.3h0M319.0 1160.1h0M320.2 1158.7h0M350.7 1108.6h0M333.7 1102.1h0M322.7 1159.1h0M314.8 1168.2h0M336.6 1111.2h0M312.0 1087.4h0M279.4 1127.2h0M309.4 1126.6h0M304.5 1109.0h0" stroke-width="4.0"/><path d="M317.5 1074.0h0M303.2 1069.7h0M342.6 1156.0h0M342.8 1099.3h0M286.4 1147.8h0M327.4 1128.3h0M304.2 1121.7h0M338.3 1069.4h0M337.4 1118.6h0M274.2 1104.2h0M310.8 1135.3h0M314.5 1168.2h0M289.3 1084.0h0M270.6 1135.1h0M333.9 1072.8h0M316.9 1092.1h0M282.3 1136.9h0M292.8 1167.7h0M310.2 1121.6h0M286.9 1113.5h0M334.7 1150.3h0M313.9 1092.0h0M352.8 1083.5h0M270.0 1110.2h0M304.0 1126.4h0" stroke-width="4.4"/><path d="M279.0 1127.5h0M322.9 1147.8h0M292.8 1127.8h0M321.4 1104.4h0M314.9 1068.0h0M338.7 1140.5h0M280.4 1108.3h0M316.6 1098.0h0M292.1 1159.2h0M280.9 1087.2h0M332.7 1146.3h0M334.3 1153.4h0M314.9 1130.4h0M299.6 1167.4h0M321.1 1134.1h0M280.3 1158.9h0M343.4 1099.0h0" stroke-width="4.8"/><path d="M263.9 1125.7h0M310.9 1122.8h0M293.0 1117.1h0M355.7 1142.6h0M355.2 1102.9h0M301.7 1098.6h0M331.1 1090.5h0M314.6 1108.2h0M285.3 1089.9h0M265.3 1127.4h0M272.7 1148.5h0M315.9 1159.1h0M278.2 1122.0h0" stroke-width="5.2"/></g></g><clipPath id="nc59"><path d="M260.4 1138.5C259.6 1133.2 261.1 1127.1 263.4 1121.4C265.7 1115.7 270.5 1110.6 274.4 1104.3C278.3 1098.0 282.1 1089.0 286.6 1083.5C291.1 1078.0 296.0 1074.1 301.3 1071.3C306.6 1068.5 311.5 1066.4 318.4 1066.4C325.3 1066.4 335.9 1068.5 342.8 1071.3C349.7 1074.1 355.2 1077.8 359.9 1083.5C364.6 1089.2 369.7 1098.4 370.9 1105.5C372.1 1112.6 369.5 1119.6 367.3 1126.3C365.1 1133.0 362.8 1140.1 357.5 1145.8C352.2 1151.5 343.6 1156.6 335.5 1160.5C327.4 1164.4 316.8 1168.6 308.6 1169.0C300.5 1169.4 293.3 1165.5 286.6 1162.9C279.9 1160.3 272.7 1157.3 268.3 1153.2C263.9 1149.1 261.2 1143.8 260.4 1138.5Z"/></clipPath><g clip-path="url(#nc59)"><g stroke="#48f080" stroke-opacity="0.8" stroke-linecap="round" fill="none" filter="url(#b05)"><path d="M330.1 1156.6h0M350.0 1137.2h0M273.6 1092.6h0M363.4 1087.3h0M286.0 1130.9h0M291.2 1114.2h0M310.0 1133.1h0M322.4 1068.1h0M348.2 1137.5h0M264.7 1118.0h0M289.0 1145.0h0M344.3 1153.0h0M356.0 1128.2h0M364.0 1099.5h0M339.1 1099.7h0M345.6 1103.0h0M332.1 1160.5h0M281.4 1097.8h0M315.0 1090.6h0M312.5 1110.9h0M265.2 1104.5h0M292.7 1156.4h0M332.8 1139.9h0M339.9 1124.1h0M349.1 1135.1h0M288.2 1143.9h0M267.9 1097.5h0M314.0 1153.1h0M289.2 1157.7h0M353.8 1141.4h0M321.9 1121.5h0M270.3 1095.2h0M280.9 1126.9h0M289.4 1142.8h0M305.9 1123.3h0M300.3 1069.1h0M312.1 1079.3h0M299.2 1076.9h0M298.5 1135.0h0M290.8 1095.9h0M281.4 1131.4h0M319.3 1077.3h0M300.2 1113.6h0M339.4 1153.0h0M294.5 1101.1h0M309.1 1094.4h0M339.9 1118.7h0M347.8 1095.9h0M362.8 1092.8h0M356.5 1093.8h0M348.8 1152.0h0M304.0 1090.6h0M323.6 1136.6h0M267.3 1149.6h0M281.2 1107.4h0M266.0 1120.3h0M326.5 1159.8h0M265.3 1132.9h0M274.6 1128.4h0M299.3 1093.9h0M338.9 1140.5h0M279.8 1103.7h0M329.2 1145.2h0M298.8 1085.1h0M297.0 1126.5h0M280.0 1098.5h0M337.8 1159.2h0M356.7 1119.0h0M271.9 1122.1h0M324.7 1073.2h0M276.3 1143.7h0M357.0 1126.3h0M297.5 1087.9h0M289.9 1122.5h0M267.0 1148.5h0M345.5 1152.7h0M307.4 1106.6h0M361.3 1123.9h0M298.7 1090.1h0M275.3 1145.9h0M347.6 1110.4h0M269.0 1109.5h0M276.3 1122.1h0M338.3 1096.5h0M315.3 1091.7h0M340.1 1083.5h0M289.2 1159.5h0M275.3 1147.3h0M348.7 1136.2h0M358.8 1085.7h0M318.2 1113.1h0M319.7 1138.7h0M270.5 1147.6h0M329.0 1075.9h0M308.9 1089.5h0M332.1 1123.5h0M267.2 1146.6h0M303.7 1124.4h0M310.8 1065.6h0M346.8 1101.9h0M367.7 1130.0h0M364.1 1113.8h0M300.8 1118.9h0M261.6 1123.7h0M305.8 1078.9h0M330.7 1066.0h0M319.0 1068.4h0M309.5 1132.1h0M319.7 1098.6h0M287.2 1139.4h0M339.3 1117.2h0M302.4 1158.5h0M363.9 1132.8h0M296.7 1086.8h0M325.9 1081.2h0M319.2 1168.0h0M310.3 1081.8h0M351.1 1113.3h0M285.1 1152.2h0M319.9 1136.1h0M357.3 1092.8h0M330.4 1102.1h0M364.2 1114.6h0M309.0 1134.2h0M289.0 1109.6h0M361.9 1117.3h0M262.7 1119.9h0M338.0 1121.3h0M320.7 1073.6h0M328.0 1102.6h0M351.6 1094.3h0M329.5 1101.7h0M330.9 1139.5h0M285.9 1110.0h0M341.0 1089.9h0M327.9 1153.4h0M315.4 1077.0h0M319.6 1087.0h0M298.1 1126.4h0M360.8 1113.4h0M271.3 1121.5h0M369.1 1109.0h0M344.6 1115.7h0M313.0 1105.4h0M348.7 1147.0h0M320.5 1162.7h0M331.9 1159.2h0M303.9 1094.5h0M340.3 1100.5h0M330.0 1160.0h0M361.2 1088.1h0M329.3 1066.2h0M303.1 1169.0h0M304.1 1070.7h0M309.4 1094.4h0M356.8 1132.3h0M264.8 1111.0h0M282.6 1104.7h0M357.4 1118.4h0M340.4 1133.1h0M285.7 1102.5h0M276.7 1104.6h0M352.0 1088.4h0M342.1 1140.9h0M363.9 1112.6h0M332.2 1129.3h0M309.6 1081.4h0M304.7 1140.0h0M312.3 1082.3h0M359.4 1117.5h0M312.4 1167.1h0M283.0 1115.6h0M322.5 1082.2h0M287.2 1117.4h0M272.0 1121.4h0M323.8 1079.7h0M297.2 1083.4h0M340.5 1107.8h0M311.1 1094.6h0M269.3 1148.1h0M324.8 1071.3h0M276.8 1088.0h0M343.0 1157.2h0M291.8 1129.1h0M341.4 1090.1h0M271.7 1119.9h0M319.1 1166.1h0M344.6 1144.9h0M315.8 1091.6h0M307.3 1091.5h0M282.5 1094.2h0M294.1 1112.0h0M337.0 1158.9h0M323.3 1080.9h0M291.9 1102.2h0M328.5 1155.8h0M332.9 1144.6h0M357.1 1119.8h0M361.7 1090.8h0M265.0 1134.1h0M297.6 1164.2h0M356.2 1131.8h0M285.6 1120.5h0M332.1 1099.8h0M365.0 1120.6h0M361.0 1092.7h0M335.6 1124.3h0M343.2 1100.0h0M324.9 1080.5h0M317.9 1070.9h0M308.7 1134.6h0M307.4 1074.6h0M370.5 1101.5h0M369.3 1107.1h0M358.2 1128.9h0M359.7 1097.1h0M348.1 1153.7h0M347.8 1122.2h0M356.4 1084.9h0M329.1 1098.5h0M300.2 1072.1h0M261.8 1125.9h0M340.9 1104.0h0M295.8 1071.4h0M290.7 1153.7h0M353.1 1090.2h0M337.2 1148.7h0M308.6 1096.1h0M284.5 1113.5h0M295.3 1073.8h0M298.7 1148.7h0M300.0 1143.6h0M294.1 1142.4h0M360.8 1138.7h0M278.4 1124.2h0M286.2 1157.5h0M313.2 1083.0h0M319.8 1079.7h0M295.5 1144.2h0M319.8 1082.0h0M271.7 1141.4h0M271.1 1100.7h0" stroke-width="1.2"/><path d="M273.5 1115.9h0M282.9 1126.1h0M261.5 1114.9h0M316.7 1103.5h0M343.1 1145.1h0M290.6 1085.0h0M347.9 1141.6h0M318.9 1087.0h0M348.5 1130.9h0M287.8 1105.1h0M310.7 1077.4h0M261.7 1134.1h0M288.4 1116.3h0M342.1 1082.4h0M338.0 1103.1h0M310.3 1085.9h0M331.2 1135.9h0M289.8 1153.4h0M270.7 1125.3h0M280.4 1144.4h0M287.9 1150.6h0M289.3 1133.1h0M318.4 1138.1h0M266.8 1110.5h0M284.9 1110.6h0M351.5 1072.4h0M285.7 1089.1h0M315.3 1103.1h0M368.3 1107.2h0M351.0 1151.7h0M337.1 1115.7h0M263.6 1125.4h0M316.8 1102.7h0M337.6 1159.1h0M359.0 1143.5h0M326.6 1085.3h0M289.1 1141.4h0M311.1 1115.9h0M304.0 1114.4h0M365.0 1133.1h0M302.9 1163.6h0M356.9 1095.0h0M309.6 1134.9h0M361.1 1140.1h0M328.0 1143.1h0M344.4 1129.0h0M366.4 1124.7h0M331.0 1145.2h0M351.2 1132.7h0M329.9 1130.3h0M348.0 1082.2h0M327.5 1101.7h0M325.6 1108.7h0M295.4 1074.9h0M322.4 1141.8h0M322.2 1070.4h0M282.8 1079.9h0M282.7 1104.8h0M290.2 1164.1h0M284.9 1099.6h0M346.7 1097.5h0M344.7 1150.8h0M337.1 1134.3h0M299.8 1126.1h0M266.0 1138.8h0M362.1 1091.5h0M287.1 1078.0h0M288.8 1106.8h0M316.7 1166.0h0M346.2 1093.9h0M325.0 1064.1h0M269.5 1152.3h0M333.1 1083.6h0M284.4 1117.7h0M300.2 1101.3h0M269.4 1107.6h0M297.7 1110.4h0M303.4 1166.5h0M309.9 1133.2h0M261.2 1114.2h0M334.5 1154.6h0M264.4 1126.7h0M352.9 1095.3h0M366.4 1097.2h0M300.2 1121.6h0M285.7 1140.6h0M300.4 1166.7h0M345.9 1105.7h0M333.7 1151.8h0M336.5 1069.2h0M329.8 1089.7h0M298.1 1079.1h0M305.6 1099.6h0M277.7 1086.8h0M296.2 1081.5h0M324.3 1153.5h0M267.3 1114.9h0M296.1 1122.2h0M339.8 1095.8h0M338.9 1129.6h0M292.5 1114.7h0M355.7 1116.3h0M322.9 1144.1h0M316.3 1110.0h0M307.7 1084.1h0M264.1 1122.3h0M273.0 1109.2h0M302.2 1112.2h0M316.3 1066.9h0M276.7 1121.1h0M335.1 1108.7h0M292.9 1164.6h0M349.6 1148.8h0M283.4 1106.1h0M335.8 1142.6h0M287.9 1076.1h0M337.9 1116.2h0M326.2 1113.8h0M324.0 1078.5h0M312.2 1068.3h0M302.8 1123.0h0M323.5 1159.5h0M320.4 1133.7h0M302.4 1076.4h0M298.2 1074.7h0M262.7 1139.2h0M290.7 1145.7h0M328.6 1095.3h0M287.3 1119.0h0M347.9 1134.2h0M365.4 1120.8h0M304.1 1105.8h0M311.5 1155.9h0M331.7 1157.4h0M328.4 1147.0h0M365.7 1108.4h0M354.9 1107.8h0M266.3 1122.5h0M338.0 1114.2h0M353.0 1107.3h0M344.9 1095.3h0M363.7 1115.7h0M346.0 1116.1h0M362.1 1126.2h0M297.0 1117.2h0M327.3 1145.7h0M360.5 1121.4h0M361.7 1130.2h0M311.8 1069.0h0M326.3 1098.5h0M345.2 1119.9h0M278.7 1092.6h0M329.4 1133.9h0M338.6 1066.0h0M298.2 1093.9h0M321.8 1071.1h0M299.9 1083.0h0M325.9 1139.8h0M348.5 1128.3h0M344.7 1086.9h0M284.1 1154.3h0M292.4 1120.1h0M330.3 1097.1h0M341.5 1149.6h0M285.1 1111.5h0M276.0 1107.3h0M282.1 1130.7h0M302.1 1128.5h0M262.5 1135.6h0M338.1 1121.4h0M355.5 1100.0h0M346.5 1101.2h0M308.8 1100.8h0M298.9 1161.8h0M283.4 1152.3h0M316.9 1161.8h0M303.5 1111.2h0M262.6 1140.5h0M361.2 1106.7h0M277.4 1087.9h0M328.3 1101.5h0M318.5 1087.0h0M302.1 1109.9h0M347.6 1092.1h0M283.1 1119.6h0M354.5 1138.8h0M339.7 1103.1h0M343.6 1103.2h0M322.1 1068.7h0M328.0 1128.9h0M354.6 1135.3h0M289.1 1130.8h0M265.0 1144.4h0M305.0 1095.5h0M316.6 1068.1h0M364.7 1089.8h0M340.6 1133.2h0M321.6 1077.3h0M328.2 1121.5h0M320.6 1066.8h0M280.0 1161.4h0M309.1 1090.5h0M289.2 1154.1h0M277.4 1134.3h0M268.7 1118.8h0M306.6 1097.0h0M328.6 1163.2h0M277.9 1117.6h0M302.3 1116.7h0M358.9 1078.7h0M353.5 1119.7h0M363.1 1116.1h0M287.1 1077.4h0M321.5 1113.9h0M344.4 1078.4h0M320.7 1148.4h0M362.7 1117.1h0M266.1 1115.5h0M318.7 1160.7h0M293.5 1154.3h0M283.5 1143.3h0M331.5 1163.1h0" stroke-width="1.6"/><path d="M267.3 1100.2h0M344.0 1076.2h0M344.4 1143.8h0M267.4 1099.6h0M292.4 1108.1h0M355.4 1098.2h0M355.5 1102.1h0M276.1 1087.7h0M285.5 1165.1h0M341.5 1088.1h0M350.8 1113.7h0M361.8 1104.6h0M340.3 1094.0h0M284.0 1108.5h0M316.0 1134.5h0M318.0 1162.2h0M275.0 1142.6h0M305.2 1157.5h0M299.5 1076.7h0M323.9 1165.7h0M322.9 1151.3h0M335.2 1123.3h0M338.5 1156.8h0M298.6 1157.6h0M357.3 1078.7h0M320.2 1094.8h0M325.9 1076.4h0M304.5 1088.6h0M345.2 1081.1h0M299.0 1088.3h0M281.6 1135.6h0M297.1 1109.2h0M302.9 1094.6h0M356.9 1125.3h0M351.8 1149.5h0M334.8 1076.9h0M340.3 1083.2h0M337.8 1098.7h0M331.3 1068.2h0M280.2 1163.0h0M270.1 1139.2h0M299.6 1165.4h0M315.2 1100.9h0M345.2 1073.3h0M293.8 1079.2h0M262.7 1140.0h0M285.0 1157.5h0M280.6 1151.2h0M308.6 1169.9h0M362.4 1110.4h0M305.0 1168.7h0M349.3 1078.3h0M348.6 1087.7h0M271.8 1106.4h0M361.4 1122.1h0M276.2 1150.9h0M295.2 1156.8h0M351.8 1124.1h0M278.6 1157.2h0M279.7 1135.3h0M347.9 1154.9h0M355.1 1143.3h0M295.7 1105.9h0M366.1 1099.4h0M354.5 1136.9h0M334.6 1064.7h0M322.4 1139.9h0M281.3 1151.4h0M267.2 1107.1h0M311.8 1156.1h0M345.1 1155.8h0M321.4 1083.2h0M291.7 1116.3h0M314.5 1066.8h0M317.7 1072.4h0M338.6 1112.1h0M341.3 1089.5h0M353.4 1111.9h0M314.6 1109.9h0M270.2 1108.6h0M339.2 1150.6h0M358.3 1096.0h0M333.2 1071.5h0M337.6 1097.0h0M303.4 1126.1h0M283.7 1134.6h0M302.0 1128.5h0M322.9 1148.6h0M344.0 1140.4h0M353.8 1144.2h0M301.7 1098.3h0M284.7 1152.5h0M319.0 1073.1h0M282.5 1096.1h0M371.3 1112.0h0M357.9 1119.7h0M276.5 1139.6h0M364.9 1130.7h0M325.3 1077.7h0M276.9 1100.1h0M317.4 1096.2h0M280.6 1122.4h0M315.8 1065.4h0M292.0 1076.1h0M276.4 1130.0h0M273.9 1096.9h0M290.3 1122.7h0M338.0 1140.0h0M283.0 1107.4h0M362.2 1117.3h0M284.7 1115.6h0M350.1 1107.3h0M303.8 1084.8h0M269.1 1117.9h0M298.4 1134.0h0M276.9 1140.9h0M348.9 1106.3h0M300.3 1109.9h0M330.6 1117.8h0M329.6 1127.8h0M358.2 1125.5h0M326.8 1165.8h0M271.4 1137.7h0M365.8 1116.6h0M338.8 1113.0h0M291.4 1137.9h0M360.4 1113.7h0M306.8 1110.9h0M305.8 1088.8h0M332.2 1144.3h0M281.0 1107.2h0M350.0 1076.1h0M294.4 1122.1h0M334.8 1142.5h0M306.6 1104.5h0M346.5 1068.7h0M350.6 1100.8h0M343.9 1096.9h0M317.7 1091.1h0M284.9 1098.5h0M362.1 1079.8h0M318.7 1065.3h0M341.5 1066.9h0M353.8 1082.9h0M292.9 1081.4h0M303.4 1135.2h0M285.1 1131.9h0M280.5 1129.1h0M282.7 1107.3h0M335.3 1105.1h0M350.2 1089.9h0M315.8 1133.0h0M281.7 1135.5h0M292.8 1076.1h0M318.9 1079.9h0M307.9 1163.0h0M327.4 1162.3h0M291.6 1083.7h0M347.7 1148.0h0M289.3 1078.0h0M353.3 1085.2h0M352.8 1074.4h0M283.0 1137.1h0" stroke-width="2.0"/><path d="M333.8 1071.2h0M351.7 1093.6h0M285.9 1133.9h0M296.7 1100.4h0M283.9 1153.1h0M299.2 1076.5h0M274.9 1108.0h0M278.8 1089.9h0M297.7 1159.1h0M331.2 1139.8h0M347.0 1108.5h0M306.5 1164.1h0M264.6 1128.5h0M275.2 1142.6h0M353.6 1115.2h0M299.0 1158.1h0M275.8 1117.2h0M306.4 1068.9h0M343.1 1107.7h0M288.8 1138.5h0M297.0 1144.3h0M282.5 1132.6h0M325.4 1076.6h0M362.7 1083.7h0M304.4 1117.0h0M290.7 1093.9h0M306.1 1072.2h0M296.5 1163.0h0M361.4 1095.0h0M346.7 1116.7h0M354.0 1123.0h0M302.3 1098.1h0M345.3 1141.4h0M296.7 1083.7h0M349.5 1142.6h0M332.1 1151.5h0M307.1 1159.3h0M343.6 1068.9h0M309.8 1094.5h0M278.5 1109.4h0M280.4 1152.9h0M358.5 1078.4h0M317.8 1167.7h0M350.8 1107.3h0M274.9 1089.1h0M357.3 1110.3h0M267.9 1128.0h0M339.9 1148.5h0M345.0 1105.6h0M320.5 1158.5h0M330.7 1141.9h0M341.1 1139.5h0M285.0 1160.6h0M293.1 1133.7h0M361.7 1102.8h0M352.4 1118.2h0M298.8 1073.7h0M278.5 1158.2h0M263.3 1113.4h0M263.1 1142.8h0M300.4 1130.1h0M313.0 1078.8h0M280.4 1099.3h0M308.6 1089.9h0M268.0 1114.6h0M351.5 1102.7h0M267.1 1118.8h0M359.4 1115.8h0M340.0 1119.3h0M340.3 1139.4h0M264.6 1137.2h0M304.7 1152.7h0M318.8 1142.4h0M308.8 1139.7h0M270.8 1099.9h0M294.3 1115.2h0M320.1 1132.1h0M313.0 1093.9h0M274.6 1095.3h0M292.3 1106.5h0M293.2 1142.7h0M275.2 1154.3h0M319.9 1069.9h0M270.0 1103.7h0M321.3 1080.3h0M311.4 1088.3h0M315.9 1093.8h0M314.0 1076.1h0M365.8 1109.4h0M300.7 1115.1h0M332.2 1132.9h0M314.1 1070.9h0M271.6 1100.1h0M296.3 1127.4h0M332.9 1146.1h0M272.2 1134.8h0M337.5 1145.4h0M323.8 1069.6h0M341.9 1072.7h0M303.7 1096.1h0M280.3 1089.4h0M305.7 1103.6h0M273.9 1152.3h0M360.6 1131.7h0M293.4 1133.5h0M322.0 1161.2h0M261.0 1116.9h0M334.4 1085.2h0M313.3 1133.9h0M344.7 1116.0h0M346.8 1092.8h0M367.1 1102.0h0M345.8 1109.1h0M271.2 1099.7h0M357.0 1139.1h0M342.8 1105.8h0M310.9 1159.8h0M297.8 1162.0h0M360.5 1132.0h0M346.5 1085.3h0M346.6 1108.5h0M323.9 1133.0h0M326.3 1148.2h0M306.5 1079.0h0M345.8 1104.1h0M292.0 1156.9h0M290.6 1150.1h0M273.6 1141.0h0M263.8 1117.6h0M304.3 1116.5h0M293.7 1074.1h0M310.9 1138.1h0M358.5 1114.3h0M282.6 1122.7h0M333.8 1147.9h0M338.7 1103.7h0M317.3 1078.8h0M284.6 1143.9h0M346.6 1125.8h0M340.8 1141.6h0M362.0 1118.7h0M280.8 1085.0h0M339.1 1065.6h0M316.3 1102.9h0M367.9 1105.2h0M341.8 1135.8h0M317.7 1079.9h0M302.5 1147.5h0M294.0 1082.2h0M367.3 1102.5h0M286.2 1120.3h0M316.6 1126.0h0M341.4 1087.0h0M301.8 1158.7h0" stroke-width="2.4"/><path d="M281.1 1100.5h0M308.6 1099.3h0M354.2 1100.9h0M300.0 1122.8h0M325.6 1124.6h0M320.5 1147.1h0M273.7 1154.4h0M281.8 1108.5h0M319.8 1120.7h0M306.2 1073.1h0M308.9 1103.5h0M307.9 1069.3h0M288.2 1130.7h0M290.0 1109.7h0M302.3 1129.8h0M291.1 1137.1h0M269.7 1150.3h0M335.9 1145.6h0M269.8 1125.7h0M333.4 1146.6h0M291.6 1081.0h0M298.2 1159.4h0M321.6 1166.2h0M361.7 1079.4h0M302.4 1118.3h0M319.9 1092.9h0M356.9 1113.6h0M300.3 1119.8h0M307.3 1099.0h0M313.8 1156.6h0M359.0 1117.2h0M313.3 1090.1h0M289.2 1116.2h0M340.5 1069.1h0M260.2 1121.6h0M314.5 1113.8h0M270.0 1131.6h0M321.5 1139.3h0M280.4 1131.6h0M307.8 1154.0h0M336.6 1068.4h0M319.1 1145.7h0M307.8 1078.8h0M307.4 1108.3h0M298.7 1166.6h0M305.2 1157.6h0M300.0 1147.3h0M291.0 1099.0h0M333.3 1127.9h0M285.1 1139.9h0M350.8 1092.7h0M303.8 1100.2h0M310.2 1067.0h0M349.4 1132.4h0M298.8 1107.6h0M342.6 1105.1h0M273.9 1137.2h0M339.4 1116.8h0M298.4 1074.5h0M334.5 1076.5h0M304.1 1117.8h0M331.3 1077.9h0M286.7 1102.3h0M337.3 1111.6h0M347.3 1085.1h0M291.3 1076.8h0M367.2 1102.8h0M279.4 1138.0h0M325.5 1148.7h0M277.0 1092.3h0M289.0 1127.0h0M311.0 1082.7h0M294.9 1071.7h0M350.8 1086.0h0M290.9 1122.7h0M332.2 1127.7h0M309.9 1073.3h0M287.1 1131.2h0M344.2 1077.6h0M342.4 1118.9h0M360.8 1104.0h0M349.5 1107.3h0M286.2 1151.1h0M301.8 1101.1h0M338.5 1157.8h0M294.6 1156.4h0M349.0 1075.8h0M323.9 1167.4h0M306.0 1068.7h0M263.8 1120.6h0M300.3 1090.3h0M355.4 1091.3h0M338.0 1137.1h0M327.0 1154.6h0M319.8 1144.2h0M364.8 1104.7h0M312.3 1111.3h0M304.0 1097.9h0M297.1 1074.2h0M310.7 1069.6h0M306.0 1095.9h0M277.0 1124.2h0M290.2 1093.5h0M351.8 1082.8h0M301.1 1106.8h0M338.8 1160.1h0M306.0 1169.1h0M310.5 1141.7h0M296.8 1135.2h0M348.5 1098.2h0M280.4 1161.8h0M290.9 1093.9h0M326.4 1157.0h0M328.9 1069.0h0M319.5 1153.5h0M265.8 1140.6h0M314.1 1078.2h0M335.4 1137.4h0M352.8 1098.9h0M336.3 1157.4h0M351.1 1104.0h0M302.0 1100.8h0M340.6 1126.1h0M286.2 1128.7h0M302.4 1071.1h0M338.6 1149.1h0M293.4 1098.3h0M323.6 1066.5h0M323.3 1093.3h0M310.4 1076.1h0M360.3 1122.7h0M296.9 1112.8h0M287.6 1159.5h0M351.7 1083.2h0M270.4 1131.9h0M369.9 1111.1h0M280.8 1088.3h0M300.5 1125.9h0M283.4 1125.5h0M284.8 1120.2h0M358.1 1086.8h0M280.5 1119.6h0M352.3 1113.9h0M333.9 1137.9h0M270.7 1097.8h0M368.4 1107.2h0M362.8 1089.2h0M289.6 1143.0h0" stroke-width="2.8"/><path d="M281.9 1089.7h0M291.9 1097.5h0M335.8 1118.1h0M335.6 1098.0h0M353.2 1131.9h0M310.0 1097.3h0M325.9 1145.3h0M294.2 1091.7h0M303.0 1069.5h0M360.4 1095.0h0M305.0 1159.1h0M367.2 1111.7h0M298.0 1158.6h0M322.1 1145.7h0M268.9 1105.5h0M271.2 1122.7h0M306.8 1167.3h0M345.7 1153.5h0M350.7 1101.9h0M286.2 1125.5h0M270.4 1116.2h0M270.6 1137.9h0M325.9 1130.6h0M291.6 1127.8h0M263.3 1135.7h0M313.2 1070.0h0M328.1 1138.6h0M283.4 1080.5h0M267.2 1137.9h0M330.8 1071.4h0M323.8 1142.8h0M271.1 1138.3h0M350.9 1139.4h0M326.7 1163.5h0M356.2 1095.6h0M297.1 1088.0h0M303.5 1077.1h0M358.4 1084.4h0M282.3 1103.6h0M292.1 1088.3h0M353.6 1075.0h0M328.6 1076.6h0M284.1 1162.6h0M293.9 1146.1h0M277.8 1156.4h0M296.4 1081.5h0M268.4 1129.3h0M365.6 1102.9h0M342.2 1159.2h0M310.8 1082.7h0M336.1 1157.5h0M302.9 1116.6h0M328.7 1102.5h0M348.1 1131.4h0M307.2 1068.8h0M264.7 1131.4h0M306.0 1131.9h0M263.6 1111.9h0M298.4 1126.4h0M347.3 1102.5h0M338.0 1150.6h0M306.1 1076.9h0M304.8 1081.3h0M331.1 1152.3h0M342.4 1127.9h0M347.2 1155.5h0M310.6 1097.8h0M267.3 1122.6h0M306.5 1099.9h0M335.5 1107.6h0M305.6 1160.9h0" stroke-width="3.2"/></g></g><path d="M286.3 1060.7L286.3 1060.9L286.3 1061.2L286.2 1061.4L286.0 1061.6L285.9 1061.7L285.6 1061.8L285.4 1061.9L285.2 1061.9L285.0 1061.9L284.8 1061.9L284.6 1061.9L284.3 1061.9L284.1 1061.7L284.0 1061.5L283.9 1061.3L283.9 1061.1L283.8 1060.9L283.8 1060.7L283.7 1060.5L283.7 1060.2L283.8 1060.0L283.9 1059.8L284.1 1059.6L284.3 1059.5L284.6 1059.5L284.8 1059.5L285.0 1059.5L285.2 1059.5L285.4 1059.6L285.6 1059.6L285.8 1059.7L286.0 1059.8L286.1 1060.0L286.2 1060.3L286.3 1060.5Z" fill="#40e040" filter="url(#b05)"/></g>
<text x="418.4" y="68.2" font-size="42.5" fill="#1a1a1a" text-anchor="start" stroke="#fff" stroke-width="0.76" >C</text>
<text x="589.6" y="56.7" font-size="18" fill="#2e8050" text-anchor="middle" stroke="#fff" stroke-width="0.32" >Spreading</text>
<text x="590.1" y="77.2" font-size="18" fill="#2e8050" text-anchor="middle" stroke="#fff" stroke-width="0.32" >site</text>
<rect x="568.4" y="82.3" width="43.6" height="11.1" fill="#15793d"/>
<text x="791.7" y="56.7" font-size="18" fill="#e8305a" text-anchor="middle" stroke="#fff" stroke-width="0.32" >Nucleation</text>
<text x="791.8" y="77.2" font-size="18" fill="#e8305a" text-anchor="middle" stroke="#fff" stroke-width="0.32" >site</text>
<rect x="770.4" y="82.3" width="43.6" height="11.1" fill="#e81a50"/>
<text x="933.2" y="93.6" font-size="18.5" fill="#333" text-anchor="middle" stroke="#fff" stroke-width="0.33" >50kb</text>
<line x1="848" y1="100.3" x2="1011.6" y2="100.3" stroke="#666" stroke-width="1"/>
<text x="467" y="119" font-size="16.5" fill="#8c3434" text-anchor="start" stroke="#fff" stroke-width="0.30" >WT-H3K27me3</text>
<text x="1011.5" y="116.9" font-size="13.5" fill="#555" text-anchor="end" stroke="#fff" stroke-width="0.24" >[0,20]</text>
<text x="1011.5" y="157" font-size="13.5" fill="#555" text-anchor="end" stroke="#fff" stroke-width="0.24" >[0,20]</text>
<text x="1011.5" y="204.5" font-size="13.5" fill="#555" text-anchor="end" stroke="#fff" stroke-width="0.24" >[0,20]</text>
<text x="1011.5" y="253" font-size="13.5" fill="#555" text-anchor="end" stroke="#fff" stroke-width="0.24" >[0,20]</text>
<text x="1011.5" y="301" font-size="13.5" fill="#555" text-anchor="end" stroke="#fff" stroke-width="0.24" >[0,20]</text>
<text x="1011.5" y="356.5" font-size="13.5" fill="#555" text-anchor="end" stroke="#fff" stroke-width="0.24" >[0,20]</text>
<text x="1011.5" y="404" font-size="13.5" fill="#555" text-anchor="end" stroke="#fff" stroke-width="0.24" >[0,20]</text>
<text x="1011.5" y="485" font-size="13.5" fill="#555" text-anchor="end" stroke="#fff" stroke-width="0.24" >[0,20]</text>
<text x="1011.5" y="528" font-size="13.5" fill="#555" text-anchor="end" stroke="#fff" stroke-width="0.24" >[0,20]</text>
<text x="1011.5" y="576" font-size="13.5" fill="#555" text-anchor="end" stroke="#fff" stroke-width="0.24" >[0,20]</text>
<text x="1011.5" y="624" font-size="13.5" fill="#555" text-anchor="end" stroke="#fff" stroke-width="0.24" >[0,20]</text>
<text x="1011.5" y="687.5" font-size="13.5" fill="#555" text-anchor="end" stroke="#fff" stroke-width="0.24" >[0,20]</text>
<text x="1011.5" y="735.5" font-size="13.5" fill="#555" text-anchor="end" stroke="#fff" stroke-width="0.24" >[0,20]</text>
<text x="1011.5" y="783.7" font-size="13.5" fill="#555" text-anchor="end" stroke="#fff" stroke-width="0.24" >[0,20]</text>
<text x="1011.5" y="832" font-size="13.5" fill="#555" text-anchor="end" stroke="#fff" stroke-width="0.24" >[0,20]</text>
<path d="M467 132.2V129.6h1V129.1h1V132.2h1V129.1h1V129.6h1V125.3h1V130.5h1V130.5h1V131.1h1V130.6h1V130.2h1V130.0h1V129.6h1V129.6h1V130.0h1V129.3h1V129.1h1V131.0h1V129.6h1V128.5h1V130.5h1V129.9h1V131.1h1V129.2h1V130.0h1V130.0h1V129.7h1V129.0h1V130.9h1V131.0h1V129.9h1V129.0h1V130.4h1V130.3h1V130.3h1V130.5h1V130.0h1V131.0h1V130.0h1V129.3h1V129.3h1V129.2h1V132.2h1V130.7h1V129.0h1V130.5h1V132.2h1V132.2h1V130.4h1V132.2h1V132.2h1V132.2h1V131.2h1V130.6h1V130.6h1V131.0h1V130.2h1V132.2h1V132.2h1V132.2h1V130.9h1V132.2h1V130.2h1V131.0h1V132.2h1V132.2h1V132.2h1V132.2h1V130.7h1V131.2h1V132.2h1V130.4h1V130.2h1V132.2h1V132.2h1V132.2h1V132.2h1V132.2h1V130.7h1V132.2h1V130.3h1V132.2h1V130.8h1V132.2h1V130.9h1V128.5h1V129.8h1V130.7h1V128.7h1V129.2h1V130.7h1V130.9h1V129.7h1V130.2h1V130.0h1V130.8h1V130.1h1V130.7h1V129.0h1V129.1h1V132.2h1V128.7h1V126.1h1V127.0h1V126.4h1V127.7h1V128.5h1V126.0h1V124.0h1V124.3h1V125.7h1V123.8h1V126.0h1V122.6h1V124.9h1V121.1h1V128.5h1V125.4h1V122.1h1V120.1h1V120.3h1V124.3h1V121.3h1V119.0h1V132.2h1V125.2h1V125.8h1V132.2h1V126.2h1V127.0h1V128.3h1V128.3h1V129.3h1V131.2h1V130.5h1V132.2h1V132.2h1V132.2h1V132.2h1V132.2h1V130.6h1V132.2h1V132.2h1V131.0h1V130.3h1V132.2h1V132.2h1V132.2h1V132.2h1V132.2h1V132.2h1V132.2h1V132.2h1V130.5h1V132.2h1V132.2h1V132.2h1V132.2h1V128.8h1V132.2h1V130.5h1V131.0h1V129.3h1V128.8h1V129.5h1V129.9h1V130.4h1V130.4h1V132.2h1V131.1h1V130.4h1V129.4h1V128.8h1V130.9h1V129.7h1V129.1h1V130.8h1V129.9h1V129.4h1V130.7h1V128.6h1V129.2h1V130.4h1V130.7h1V130.0h1V129.8h1V130.8h1V129.1h1V130.4h1V128.9h1V130.4h1V130.9h1V128.7h1V129.8h1V129.6h1V131.0h1V132.2h1V131.0h1V130.3h1V129.8h1V130.3h1V131.0h1V132.2h1V131.1h1V132.2h1V132.2h1V132.2h1V132.2h1V130.9h1V130.9h1V131.1h1V130.3h1V132.2h1V132.2h1V132.2h1V127.6h1V130.9h1V130.0h1V128.6h1V129.0h1V129.1h1V130.0h1V129.5h1V132.2h1V128.7h1V130.0h1V132.2h1V128.9h1V130.1h1V129.9h1V131.1h1V129.6h1V130.0h1V130.6h1V130.0h1V129.2h1V130.9h1V130.0h1V130.0h1V129.2h1V128.5h1V129.3h1V128.8h1V129.8h1V130.7h1V130.4h1V128.8h1V129.0h1V129.1h1V129.2h1V128.7h1V130.5h1V129.5h1V129.8h1V130.3h1V130.5h1V129.6h1V129.7h1V129.8h1V130.4h1V129.6h1V129.6h1V131.1h1V130.5h1V129.5h1V130.8h1V132.2h1V130.3h1V130.8h1V130.1h1V129.9h1V128.8h1V129.6h1V129.1h1V128.9h1V132.2h1V130.1h1V129.6h1V129.2h1V128.7h1V130.4h1V128.2h1V128.2h1V129.0h1V124.0h1V129.7h1V128.4h1V129.6h1V130.8h1V130.5h1V130.0h1V128.3h1V130.1h1V128.4h1V129.8h1V130.7h1V128.3h1V129.2h1V130.3h1V128.6h1V129.7h1V127.8h1V128.5h1V127.9h1V129.3h1V129.6h1V129.4h1V127.2h1V128.5h1V126.2h1V127.1h1V129.2h1V125.3h1V128.5h1V122.5h1V120.5h1V121.8h1V120.7h1V115.9h1V121.2h1V121.1h1V132.2h1V115.5h1V123.2h1V118.2h1V124.3h1V119.8h1V120.4h1V114.0h1V117.2h1V126.9h1V119.9h1V125.0h1V125.0h1V122.1h1V121.2h1V125.3h1V122.7h1V123.5h1V119.5h1V123.6h1V121.1h1V125.4h1V126.0h1V125.2h1V124.8h1V128.1h1V126.8h1V128.2h1V129.1h1V129.3h1V129.0h1V130.7h1V129.4h1V129.1h1V129.1h1V127.8h1V130.8h1V129.0h1V129.0h1V125.7h1V130.6h1V130.8h1V130.6h1V129.2h1V130.4h1V128.3h1V130.8h1V130.0h1V128.9h1V130.0h1V130.1h1V128.5h1V128.3h1V128.2h1V125.1h1V130.8h1V129.5h1V130.5h1V129.4h1V127.2h1V130.4h1V124.2h1V129.5h1V127.3h1V127.3h1V132.2h1V125.9h1V126.3h1V128.0h1V125.8h1V126.3h1V127.9h1V129.0h1V126.5h1V129.8h1V129.8h1V130.7h1V130.1h1V129.9h1V130.7h1V128.3h1V130.2h1V128.5h1V130.0h1V128.1h1V132.2h1V129.6h1V128.5h1V129.9h1V129.7h1V129.9h1V132.2h1V130.6h1V128.5h1V130.7h1V130.0h1V128.7h1V130.7h1V128.9h1V129.0h1V129.6h1V130.8h1V129.3h1V129.9h1V128.2h1V129.8h1V128.8h1V130.5h1V130.0h1V132.2h1V132.2h1V132.2h1V130.3h1V128.8h1V129.5h1V128.0h1V128.4h1V127.9h1V129.8h1V130.5h1V128.6h1V130.5h1V128.8h1V129.5h1V128.2h1V129.2h1V129.8h1V128.2h1V129.8h1V130.0h1V130.1h1V129.7h1V130.9h1V128.1h1V129.3h1V132.2h1V129.4h1V130.7h1V130.2h1V130.1h1V128.8h1V128.2h1V128.1h1V129.3h1V128.8h1V129.9h1V128.2h1V129.9h1V130.1h1V127.6h1V129.5h1V128.6h1V130.3h1V128.5h1V130.4h1V128.9h1V129.4h1V130.4h1V128.6h1V129.7h1V132.2h1V129.8h1V127.9h1V126.9h1V128.8h1V130.5h1V130.3h1V129.1h1V130.4h1V128.4h1V127.8h1V128.6h1V129.5h1V130.3h1V129.0h1V127.0h1V127.8h1V127.8h1V127.2h1V127.3h1V127.2h1V128.6h1V128.9h1V128.4h1V129.0h1V130.5h1V126.8h1V129.5h1V130.0h1V128.7h1V127.1h1V127.7h1V127.3h1V127.2h1V130.4h1V128.4h1V127.3h1V126.9h1V128.2h1V128.4h1V129.5h1V130.7h1V130.3h1V129.4h1V127.1h1V129.9h1V130.1h1V127.5h1V123.3h1V128.5h1V128.9h1V129.6h1V132.2h1V132.2h1V132.2h1V132.2h1V128.0h1V128.1h1V127.7h1V129.2h1V128.7h1V129.3h1V129.3h1V132.2Z" fill="#8b2020"/>
<path d="M467 172.3V172.3h1V172.3h1V172.3h1V171.5h1V171.5h1V171.5h1V171.5h1V172.3h1V171.5h1V172.3h1V172.3h1V172.3h1V172.3h1V172.3h1V171.5h1V172.3h1V172.3h1V171.5h1V171.5h1V171.5h1V171.5h1V171.4h1V171.5h1V171.5h1V171.5h1V172.3h1V172.3h1V172.3h1V172.3h1V172.3h1V172.3h1V171.4h1V171.5h1V171.4h1V171.5h1V172.3h1V172.3h1V171.5h1V171.5h1V171.4h1V172.3h1V172.3h1V172.3h1V172.3h1V172.3h1V171.5h1V172.3h1V172.3h1V172.3h1V171.4h1V171.5h1V172.3h1V171.5h1V172.3h1V172.3h1V171.5h1V171.5h1V171.5h1V171.5h1V172.3h1V172.3h1V172.3h1V172.3h1V172.3h1V171.5h1V171.5h1V171.5h1V172.3h1V172.3h1V171.5h1V171.5h1V171.5h1V172.3h1V172.3h1V171.5h1V171.5h1V171.4h1V172.3h1V172.3h1V172.3h1V172.3h1V171.5h1V171.5h1V171.5h1V171.5h1V172.3h1V171.5h1V171.5h1V171.4h1V172.3h1V172.3h1V172.3h1V172.3h1V172.3h1V171.5h1V172.3h1V172.3h1V171.5h1V171.5h1V172.3h1V171.5h1V171.5h1V171.5h1V171.5h1V171.4h1V171.5h1V172.3h1V172.3h1V172.3h1V171.4h1V171.5h1V172.3h1V171.5h1V171.5h1V171.5h1V171.4h1V171.5h1V172.3h1V172.3h1V172.3h1V172.3h1V172.3h1V172.3h1V171.4h1V171.5h1V171.5h1V172.3h1V172.3h1V172.3h1V172.3h1V172.3h1V172.3h1V171.5h1V171.5h1V171.5h1V171.5h1V171.5h1V171.4h1V171.5h1V171.4h1V171.5h1V171.5h1V171.5h1V171.4h1V172.3h1V172.3h1V172.3h1V172.3h1V172.3h1V172.3h1V171.4h1V171.5h1V171.5h1V171.4h1V171.5h1V172.3h1V172.3h1V172.3h1V172.3h1V172.3h1V171.5h1V172.3h1V172.3h1V171.5h1V171.5h1V171.5h1V172.3h1V172.3h1V172.3h1V171.5h1V171.5h1V171.4h1V171.5h1V171.5h1V171.5h1V172.3h1V172.3h1V172.3h1V172.3h1V171.5h1V171.5h1V171.4h1V172.3h1V172.3h1V172.3h1V172.3h1V172.3h1V172.3h1V171.5h1V171.5h1V172.3h1V172.3h1V171.5h1V171.5h1V171.4h1V172.3h1V172.3h1V172.3h1V171.5h1V172.3h1V172.3h1V172.3h1V172.3h1V171.5h1V171.4h1V172.3h1V172.3h1V171.5h1V171.5h1V171.5h1V171.5h1V171.5h1V172.3h1V172.3h1V172.3h1V172.3h1V172.3h1V172.3h1V171.4h1V171.5h1V171.5h1V171.5h1V171.5h1V172.3h1V172.3h1V171.5h1V171.5h1V171.5h1V171.5h1V171.5h1V172.3h1V172.3h1V172.3h1V172.3h1V171.5h1V171.5h1V172.3h1V172.3h1V172.3h1V172.3h1V172.3h1V171.4h1V172.3h1V172.3h1V172.3h1V171.5h1V171.5h1V171.5h1V171.5h1V172.3h1V172.3h1V172.3h1V172.3h1V172.3h1V171.4h1V171.5h1V171.5h1V172.3h1V172.3h1V172.3h1V172.3h1V172.3h1V172.3h1V171.4h1V171.5h1V171.5h1V171.5h1V171.5h1V171.5h1V172.3h1V171.5h1V171.5h1V171.5h1V171.5h1V171.4h1V171.4h1V171.4h1V171.5h1V171.5h1V172.3h1V172.3h1V172.3h1V171.5h1V171.5h1V172.3h1V172.3h1V172.3h1V172.3h1V172.3h1V171.5h1V171.5h1V171.5h1V171.4h1V172.3h1V171.5h1V171.4h1V171.5h1V171.5h1V172.3h1V172.3h1V172.3h1V172.3h1V171.5h1V171.5h1V171.4h1V172.3h1V172.3h1V172.3h1V172.3h1V171.5h1V171.5h1V171.5h1V172.3h1V172.3h1V172.3h1V171.5h1V171.5h1V171.5h1V172.3h1V172.3h1V172.3h1V172.3h1V172.3h1V171.5h1V171.5h1V171.5h1V172.3h1V172.3h1V172.3h1V171.5h1V172.3h1V172.3h1V172.3h1V172.3h1V171.5h1V172.3h1V172.3h1V171.5h1V172.3h1V172.3h1V172.3h1V172.3h1V172.3h1V171.4h1V171.5h1V172.3h1V172.3h1V171.5h1V171.5h1V171.5h1V171.4h1V171.5h1V172.3h1V171.5h1V171.5h1V171.5h1V172.3h1V172.3h1V172.3h1V171.4h1V171.5h1V171.5h1V172.3h1V172.3h1V171.5h1V171.5h1V171.5h1V172.3h1V172.3h1V172.3h1V172.3h1V172.3h1V171.5h1V171.5h1V171.5h1V171.5h1V171.5h1V171.5h1V171.5h1V171.5h1V171.5h1V172.3h1V172.3h1V172.3h1V172.3h1V172.3h1V171.4h1V171.4h1V171.5h1V171.4h1V172.3h1V171.5h1V172.3h1V172.3h1V171.5h1V172.3h1V172.3h1V171.5h1V171.5h1V171.5h1V171.5h1V171.5h1V171.5h1V171.5h1V171.5h1V172.3h1V171.5h1V171.5h1V172.3h1V172.3h1V172.3h1V172.3h1V172.3h1V172.3h1V171.5h1V171.5h1V172.3h1V172.3h1V172.3h1V171.5h1V171.4h1V172.3h1V172.3h1V172.3h1V172.3h1V171.5h1V171.4h1V171.5h1V172.3h1V172.3h1V171.5h1V172.3h1V172.3h1V172.3h1V172.3h1V172.3h1V172.3h1V171.5h1V171.5h1V171.5h1V171.5h1V171.5h1V172.3h1V172.3h1V172.3h1V172.3h1V171.5h1V172.3h1V172.3h1V172.3h1V172.3h1V171.5h1V171.5h1V172.3h1V172.3h1V172.3h1V172.3h1V172.3h1V172.3h1V171.5h1V171.4h1V172.3h1V172.3h1V172.3h1V172.3h1V172.3h1V171.5h1V171.5h1V172.3h1V172.3h1V172.3h1V172.3h1V172.3h1V171.5h1V171.4h1V171.5h1V172.3h1V172.3h1V172.3h1V172.3h1V172.3h1V171.5h1V171.5h1V171.4h1V171.5h1V172.3h1V171.5h1V171.5h1V171.5h1V171.5h1V171.4h1V171.4h1V171.5h1V171.4h1V171.5h1V172.3h1V171.5h1V171.5h1V171.5h1V172.3h1V172.3h1V171.5h1V172.3h1V172.3h1V172.3h1V172.3h1V172.3h1V172.3h1V171.5h1V171.5h1V171.5h1V172.3h1V172.3h1V172.3h1V172.3h1V172.3h1V171.5h1V171.5h1V171.5h1V172.3h1V172.3h1V171.4h1V171.5h1V172.3h1V172.3h1V171.5h1V171.4h1V171.5h1V171.4h1V171.5h1V172.3h1V172.3h1V172.3h1V172.3h1V172.3h1V172.3h1V171.5h1V171.5h1V172.3h1V172.3h1V172.3h1V172.3h1V172.3h1V171.5h1V172.3Z" fill="#bbb"/>
<path d="M467 219.7V218.7h1V219.7h1V219.7h1V219.7h1V219.7h1V219.7h1V218.7h1V218.5h1V218.7h1V218.6h1V218.6h1V218.9h1V218.6h1V218.6h1V218.8h1V218.7h1V218.6h1V218.7h1V218.8h1V218.8h1V218.5h1V218.6h1V218.7h1V218.9h1V218.8h1V218.6h1V218.9h1V218.7h1V218.9h1V218.8h1V219.7h1V218.8h1V218.7h1V218.6h1V218.7h1V218.8h1V218.7h1V218.7h1V218.7h1V218.6h1V218.9h1V219.7h1V219.7h1V219.7h1V219.7h1V218.7h1V218.8h1V218.8h1V219.7h1V219.7h1V219.7h1V219.7h1V219.7h1V218.8h1V218.8h1V218.7h1V219.7h1V219.7h1V218.8h1V219.7h1V219.7h1V218.9h1V218.6h1V218.9h1V219.7h1V219.7h1V219.7h1V219.7h1V219.7h1V218.7h1V218.7h1V218.8h1V218.7h1V218.9h1V218.6h1V218.5h1V218.6h1V218.5h1V218.9h1V219.7h1V218.9h1V218.8h1V218.6h1V218.9h1V219.7h1V219.7h1V219.7h1V218.6h1V218.6h1V219.7h1V219.7h1V219.7h1V219.7h1V219.7h1V218.9h1V218.6h1V218.9h1V218.6h1V219.7h1V218.7h1V218.8h1V218.8h1V218.9h1V218.7h1V218.8h1V219.7h1V219.7h1V219.7h1V219.7h1V218.9h1V218.7h1V218.8h1V218.5h1V219.7h1V218.6h1V218.9h1V218.8h1V218.9h1V219.7h1V218.6h1V218.6h1V218.7h1V218.9h1V218.9h1V218.5h1V218.6h1V218.7h1V218.8h1V218.5h1V218.8h1V218.8h1V218.6h1V218.6h1V219.7h1V219.7h1V219.7h1V219.7h1V219.7h1V218.5h1V218.6h1V218.7h1V218.9h1V218.8h1V218.6h1V219.7h1V219.7h1V219.7h1V219.7h1V219.7h1V218.7h1V218.7h1V218.6h1V218.5h1V218.6h1V218.8h1V219.7h1V219.7h1V219.7h1V219.7h1V219.7h1V218.5h1V219.7h1V219.7h1V219.7h1V219.7h1V218.6h1V218.9h1V218.8h1V218.7h1V218.7h1V218.8h1V218.5h1V218.5h1V218.6h1V218.6h1V218.8h1V218.9h1V218.6h1V218.8h1V219.7h1V218.5h1V218.7h1V219.7h1V219.7h1V218.9h1V218.8h1V218.6h1V218.8h1V218.8h1V218.7h1V218.7h1V218.5h1V218.6h1V218.8h1V218.7h1V218.8h1V218.5h1V218.7h1V218.6h1V218.7h1V219.7h1V219.7h1V218.8h1V218.6h1V218.5h1V218.8h1V219.7h1V218.9h1V219.7h1V218.8h1V218.8h1V218.5h1V219.7h1V219.7h1V218.6h1V219.7h1V218.7h1V219.7h1V219.7h1V219.7h1V219.7h1V218.7h1V219.7h1V219.7h1V219.7h1V219.7h1V218.6h1V218.5h1V218.8h1V218.8h1V218.6h1V218.9h1V218.9h1V218.9h1V219.7h1V218.7h1V218.5h1V219.7h1V219.7h1V218.7h1V218.9h1V218.6h1V219.7h1V219.7h1V218.9h1V218.8h1V218.9h1V218.8h1V218.8h1V218.6h1V218.9h1V218.5h1V219.7h1V219.7h1V219.7h1V219.7h1V219.7h1V218.7h1V218.6h1V218.5h1V218.8h1V218.8h1V218.7h1V218.7h1V219.7h1V219.7h1V219.7h1V219.7h1V218.6h1V219.7h1V218.7h1V219.7h1V219.7h1V219.7h1V218.9h1V219.7h1V219.7h1V219.7h1V219.7h1V219.7h1V218.9h1V218.8h1V218.6h1V219.7h1V219.7h1V218.6h1V218.5h1V218.8h1V218.9h1V218.8h1V218.7h1V218.6h1V218.7h1V218.6h1V218.8h1V218.8h1V218.7h1V218.8h1V218.8h1V219.7h1V219.7h1V218.6h1V218.7h1V219.7h1V219.7h1V218.7h1V218.5h1V218.5h1V218.6h1V218.6h1V217.6h1V218.0h1V218.1h1V215.9h1V216.6h1V215.0h1V216.3h1V216.5h1V217.5h1V215.0h1V212.8h1V217.0h1V214.7h1V213.0h1V212.8h1V214.0h1V210.9h1V212.0h1V212.3h1V217.4h1V213.3h1V213.9h1V216.6h1V213.4h1V216.4h1V215.7h1V217.9h1V214.7h1V216.3h1V215.9h1V217.9h1V216.8h1V217.1h1V217.7h1V218.2h1V218.8h1V219.7h1V219.7h1V219.7h1V218.5h1V218.8h1V218.6h1V218.6h1V218.7h1V219.7h1V219.7h1V219.7h1V219.7h1V219.7h1V218.8h1V219.7h1V219.7h1V218.6h1V218.9h1V218.8h1V218.9h1V219.7h1V218.7h1V218.8h1V218.8h1V218.8h1V218.9h1V218.9h1V218.7h1V218.7h1V218.8h1V218.6h1V218.8h1V218.7h1V219.7h1V219.7h1V219.7h1V219.7h1V219.7h1V218.8h1V218.7h1V218.7h1V218.7h1V219.7h1V219.7h1V219.7h1V218.6h1V218.8h1V218.5h1V218.6h1V218.8h1V219.7h1V219.7h1V219.7h1V219.7h1V219.7h1V218.5h1V218.7h1V218.9h1V218.5h1V218.7h1V218.9h1V218.7h1V218.9h1V219.7h1V218.8h1V219.7h1V218.7h1V218.7h1V218.5h1V218.7h1V218.5h1V218.7h1V219.7h1V219.7h1V218.8h1V218.5h1V218.6h1V218.9h1V219.7h1V218.7h1V218.6h1V218.7h1V219.7h1V218.6h1V219.7h1V219.7h1V219.7h1V219.7h1V219.7h1V218.8h1V218.8h1V218.7h1V218.5h1V218.7h1V218.7h1V218.6h1V219.7h1V218.9h1V218.8h1V218.7h1V218.6h1V219.7h1V219.7h1V218.8h1V218.8h1V218.7h1V218.6h1V218.6h1V219.7h1V219.7h1V218.7h1V218.6h1V218.8h1V219.7h1V219.7h1V219.7h1V219.7h1V219.7h1V218.8h1V218.8h1V218.6h1V218.7h1V219.7h1V219.7h1V219.7h1V219.7h1V218.7h1V218.8h1V218.7h1V218.5h1V218.8h1V218.6h1V218.8h1V218.6h1V218.8h1V218.7h1V218.9h1V218.7h1V219.7h1V219.7h1V219.7h1V219.7h1V218.7h1V218.8h1V218.5h1V219.7h1V219.7h1V218.7h1V218.8h1V218.6h1V218.8h1V219.7h1V219.7h1V218.9h1V218.8h1V219.7h1V219.7h1V219.7h1V219.7h1V219.7h1V218.5h1V218.8h1V218.9h1V218.6h1V219.7h1V219.7h1V219.7h1V218.9h1V218.5h1V218.5h1V218.9h1V218.6h1V219.7h1V219.7h1V218.9h1V219.7h1V219.7h1V219.7h1V219.7h1V218.8h1V218.8h1V218.9h1V218.5h1V219.7h1V219.7h1V219.7h1V219.7h1V219.7h1V218.5h1V218.7h1V218.8h1V218.7h1V218.8h1V218.8h1V219.7h1V219.7h1V219.7h1V219.7h1V219.7Z" fill="#444"/>
<path d="M467 267.8V266.5h1V266.9h1V266.5h1V266.2h1V265.7h1V267.0h1V266.6h1V265.6h1V266.5h1V266.6h1V265.7h1V267.0h1V266.5h1V266.3h1V266.6h1V266.9h1V266.2h1V266.8h1V265.5h1V266.7h1V266.0h1V265.7h1V266.1h1V265.5h1V266.4h1V266.5h1V266.5h1V266.0h1V265.9h1V266.8h1V266.5h1V266.7h1V266.5h1V266.3h1V266.9h1V266.8h1V266.6h1V266.2h1V265.4h1V266.3h1V265.7h1V266.6h1V266.6h1V266.9h1V265.4h1V266.0h1V266.2h1V265.6h1V266.5h1V266.0h1V267.8h1V267.8h1V267.8h1V267.8h1V267.8h1V267.8h1V267.8h1V267.8h1V267.8h1V267.8h1V267.8h1V267.8h1V267.8h1V266.8h1V266.5h1V266.7h1V266.5h1V267.0h1V266.7h1V266.5h1V267.0h1V266.7h1V267.0h1V266.4h1V267.0h1V267.0h1V266.5h1V267.0h1V266.9h1V266.6h1V266.4h1V266.8h1V266.9h1V267.8h1V267.8h1V267.8h1V267.8h1V267.8h1V267.8h1V266.8h1V267.0h1V266.8h1V267.0h1V266.9h1V266.7h1V267.0h1V266.4h1V266.5h1V267.0h1V266.9h1V266.7h1V267.0h1V266.4h1V266.4h1V267.0h1V267.8h1V267.8h1V266.5h1V266.7h1V266.4h1V267.0h1V266.6h1V264.6h1V262.4h1V264.3h1V258.9h1V261.9h1V260.7h1V260.4h1V261.4h1V261.0h1V262.1h1V259.9h1V262.7h1V262.2h1V266.6h1V267.8h1V267.8h1V267.8h1V267.8h1V267.8h1V266.8h1V267.0h1V267.8h1V267.8h1V267.8h1V267.8h1V267.8h1V266.4h1V266.6h1V266.6h1V266.6h1V267.0h1V267.0h1V267.0h1V266.4h1V266.9h1V267.0h1V267.8h1V267.8h1V267.8h1V267.8h1V267.8h1V267.8h1V267.8h1V267.8h1V267.8h1V267.8h1V267.8h1V267.8h1V267.8h1V267.8h1V267.8h1V267.8h1V267.8h1V267.8h1V267.8h1V267.8h1V267.8h1V267.8h1V267.8h1V266.2h1V266.4h1V266.4h1V266.8h1V266.8h1V265.7h1V265.8h1V266.0h1V267.0h1V266.2h1V266.7h1V266.2h1V266.7h1V266.0h1V266.9h1V266.9h1V266.3h1V267.0h1V266.1h1V266.8h1V266.6h1V266.3h1V267.0h1V265.8h1V266.7h1V266.4h1V266.6h1V266.6h1V267.0h1V266.6h1V266.2h1V266.9h1V266.8h1V266.9h1V266.6h1V265.8h1V266.9h1V266.6h1V266.5h1V266.1h1V266.3h1V266.9h1V265.9h1V267.0h1V266.8h1V266.9h1V266.1h1V266.1h1V266.2h1V266.3h1V266.9h1V267.0h1V266.9h1V265.9h1V265.8h1V265.9h1V266.4h1V266.4h1V265.8h1V266.5h1V265.9h1V266.5h1V265.8h1V265.8h1V265.8h1V267.0h1V266.4h1V266.9h1V267.0h1V265.8h1V266.4h1V266.9h1V266.2h1V267.0h1V266.0h1V266.9h1V265.7h1V265.7h1V266.3h1V266.3h1V266.1h1V266.9h1V266.1h1V266.7h1V267.0h1V266.2h1V265.7h1V267.0h1V266.1h1V266.6h1V266.5h1V267.0h1V266.6h1V267.0h1V266.4h1V266.6h1V266.8h1V266.3h1V266.5h1V267.0h1V266.5h1V266.5h1V266.0h1V266.0h1V266.4h1V265.7h1V265.9h1V266.9h1V266.0h1V266.2h1V266.4h1V266.4h1V265.8h1V266.6h1V266.8h1V265.8h1V266.3h1V266.6h1V266.0h1V267.0h1V266.3h1V266.3h1V266.1h1V267.0h1V266.7h1V266.8h1V267.0h1V266.8h1V266.3h1V265.9h1V265.8h1V266.7h1V266.0h1V266.1h1V266.9h1V267.8h1V264.8h1V263.5h1V259.8h1V258.9h1V259.2h1V260.9h1V253.9h1V257.6h1V254.3h1V256.6h1V256.0h1V258.0h1V242.2h1V249.3h1V256.1h1V259.0h1V247.0h1V252.9h1V254.7h1V252.7h1V250.3h1V247.8h1V242.9h1V237.0h1V249.2h1V244.2h1V257.7h1V249.8h1V241.4h1V253.1h1V250.1h1V247.7h1V251.9h1V250.9h1V263.7h1V255.1h1V262.1h1V262.3h1V261.6h1V261.8h1V262.2h1V265.2h1V265.8h1V265.8h1V266.4h1V266.4h1V265.4h1V265.5h1V265.7h1V266.8h1V265.8h1V265.7h1V266.6h1V267.0h1V265.4h1V266.8h1V265.7h1V265.7h1V266.6h1V265.6h1V266.6h1V266.7h1V266.6h1V266.0h1V265.4h1V266.0h1V266.2h1V266.6h1V266.2h1V265.9h1V265.9h1V266.1h1V266.5h1V265.6h1V266.0h1V265.5h1V266.0h1V266.4h1V265.7h1V266.6h1V266.8h1V266.6h1V266.4h1V267.8h1V266.4h1V266.9h1V265.5h1V265.9h1V266.5h1V265.7h1V265.7h1V266.7h1V265.5h1V266.1h1V265.7h1V266.2h1V266.3h1V266.8h1V266.7h1V265.7h1V265.7h1V266.8h1V266.1h1V265.9h1V266.3h1V266.2h1V265.5h1V267.0h1V265.7h1V265.9h1V266.1h1V265.7h1V266.2h1V266.2h1V265.9h1V266.5h1V265.9h1V266.7h1V265.6h1V266.6h1V266.7h1V265.9h1V266.2h1V266.1h1V266.7h1V265.9h1V265.6h1V265.6h1V265.4h1V265.5h1V266.4h1V266.2h1V266.6h1V266.1h1V266.8h1V266.6h1V266.1h1V265.4h1V266.3h1V267.0h1V265.4h1V266.7h1V265.8h1V265.6h1V266.7h1V266.6h1V266.5h1V266.5h1V266.8h1V266.6h1V265.6h1V266.2h1V265.7h1V266.2h1V266.4h1V265.9h1V266.4h1V266.0h1V265.4h1V266.4h1V266.4h1V266.6h1V265.7h1V266.8h1V266.7h1V266.8h1V266.9h1V266.5h1V266.4h1V266.1h1V266.1h1V265.9h1V267.0h1V266.6h1V266.7h1V265.9h1V266.1h1V266.3h1V266.2h1V265.6h1V266.8h1V266.3h1V266.4h1V265.5h1V266.4h1V266.9h1V265.6h1V265.4h1V265.7h1V265.8h1V265.5h1V265.9h1V265.9h1V266.8h1V265.5h1V266.2h1V265.9h1V265.8h1V265.7h1V266.0h1V265.6h1V265.7h1V266.5h1V266.2h1V265.4h1V266.8h1V266.5h1V266.2h1V266.5h1V266.1h1V266.1h1V266.6h1V265.9h1V266.1h1V265.5h1V265.9h1V267.0h1V266.9h1V267.0h1V265.8h1V265.5h1V266.1h1V266.9h1V265.5h1V265.6h1V266.9h1V265.7h1V265.8h1V265.6h1V266.2h1V265.5h1V267.0h1V265.8h1V266.4h1V266.0h1V266.2h1V265.9h1V267.8Z" fill="#1a1a1a"/>
<path d="M467 315.6V312.4h1V308.0h1V312.0h1V312.9h1V313.6h1V312.2h1V314.3h1V311.7h1V312.9h1V312.5h1V313.4h1V313.5h1V313.4h1V313.5h1V306.6h1V312.3h1V314.2h1V312.3h1V313.6h1V313.3h1V313.8h1V313.6h1V313.5h1V312.4h1V311.2h1V312.2h1V309.7h1V312.8h1V310.0h1V313.4h1V311.1h1V310.8h1V310.0h1V312.9h1V311.6h1V313.3h1V313.5h1V310.3h1V309.8h1V311.7h1V312.4h1V313.6h1V311.9h1V313.4h1V313.8h1V314.1h1V311.9h1V312.9h1V313.8h1V312.3h1V311.8h1V311.8h1V313.4h1V313.4h1V313.5h1V314.2h1V314.2h1V313.7h1V314.0h1V314.5h1V314.1h1V313.1h1V313.8h1V313.2h1V315.6h1V315.6h1V315.6h1V314.7h1V313.0h1V314.6h1V313.7h1V313.8h1V313.8h1V313.1h1V314.2h1V314.7h1V313.1h1V313.5h1V313.6h1V313.2h1V313.4h1V312.2h1V313.8h1V313.1h1V313.7h1V314.5h1V313.9h1V314.5h1V314.5h1V313.9h1V314.6h1V313.4h1V314.0h1V312.5h1V311.9h1V312.5h1V312.9h1V314.0h1V313.8h1V312.6h1V313.7h1V307.8h1V311.8h1V312.2h1V313.7h1V313.3h1V312.2h1V310.3h1V311.5h1V311.6h1V306.1h1V309.9h1V308.7h1V306.7h1V300.2h1V301.2h1V304.9h1V303.6h1V302.6h1V301.5h1V306.0h1V300.1h1V296.9h1V302.3h1V310.8h1V311.1h1V312.8h1V312.4h1V311.8h1V312.9h1V312.9h1V311.6h1V313.3h1V314.6h1V314.8h1V314.0h1V314.7h1V315.6h1V314.2h1V314.6h1V314.1h1V314.1h1V314.2h1V314.7h1V314.8h1V314.7h1V314.8h1V314.0h1V314.5h1V314.3h1V314.4h1V313.9h1V313.9h1V314.1h1V314.3h1V314.8h1V314.4h1V314.7h1V314.1h1V313.8h1V314.5h1V314.8h1V313.9h1V315.6h1V315.6h1V315.6h1V315.6h1V315.6h1V315.6h1V315.6h1V315.6h1V315.6h1V315.6h1V315.6h1V315.6h1V315.6h1V315.6h1V315.6h1V314.2h1V312.2h1V312.9h1V313.8h1V314.4h1V312.2h1V314.1h1V313.5h1V313.8h1V312.9h1V313.0h1V313.4h1V313.7h1V312.8h1V314.0h1V312.7h1V312.4h1V312.9h1V308.3h1V313.5h1V313.6h1V313.1h1V313.5h1V314.0h1V313.8h1V312.0h1V313.5h1V312.1h1V312.0h1V314.1h1V314.2h1V314.2h1V313.7h1V313.1h1V312.3h1V314.2h1V314.3h1V314.2h1V314.4h1V312.4h1V312.5h1V312.8h1V313.4h1V313.4h1V314.0h1V312.4h1V313.9h1V312.9h1V309.9h1V312.6h1V313.3h1V315.6h1V315.6h1V315.6h1V315.6h1V315.6h1V315.6h1V315.6h1V314.2h1V313.9h1V313.1h1V313.7h1V312.3h1V314.4h1V313.2h1V313.8h1V312.7h1V313.3h1V313.0h1V313.5h1V311.5h1V311.7h1V312.5h1V313.8h1V311.3h1V312.7h1V313.4h1V313.3h1V310.8h1V311.9h1V312.3h1V307.5h1V312.3h1V311.4h1V311.3h1V310.9h1V312.4h1V310.8h1V310.5h1V313.3h1V312.7h1V313.7h1V314.2h1V311.5h1V312.7h1V313.7h1V312.8h1V312.3h1V313.4h1V312.7h1V313.9h1V313.4h1V314.0h1V312.1h1V314.1h1V312.8h1V313.9h1V314.0h1V313.4h1V313.6h1V312.4h1V312.7h1V312.9h1V312.8h1V312.9h1V313.6h1V311.4h1V313.0h1V312.2h1V313.2h1V312.1h1V312.8h1V313.3h1V313.0h1V312.1h1V313.3h1V311.9h1V312.8h1V313.8h1V311.4h1V310.6h1V304.3h1V308.5h1V300.6h1V308.1h1V297.4h1V308.1h1V304.7h1V296.7h1V291.7h1V288.8h1V277.3h1V304.7h1V307.8h1V294.1h1V283.3h1V297.1h1V280.3h1V292.1h1V285.9h1V297.5h1V303.5h1V284.0h1V286.2h1V278.5h1V282.0h1V291.5h1V294.8h1V286.3h1V296.3h1V299.5h1V305.7h1V302.5h1V308.7h1V295.4h1V307.4h1V305.3h1V301.6h1V304.8h1V311.1h1V310.3h1V313.9h1V314.1h1V312.5h1V311.7h1V312.8h1V312.2h1V313.3h1V313.7h1V313.9h1V314.0h1V314.1h1V312.6h1V314.1h1V314.0h1V313.2h1V312.9h1V312.7h1V314.2h1V313.8h1V313.1h1V312.3h1V313.9h1V313.2h1V314.1h1V311.4h1V313.2h1V310.6h1V310.2h1V311.4h1V311.8h1V309.3h1V310.3h1V312.2h1V305.7h1V309.1h1V303.8h1V309.2h1V309.7h1V310.5h1V311.6h1V312.7h1V310.7h1V312.2h1V311.8h1V312.4h1V313.1h1V311.8h1V312.7h1V311.8h1V313.6h1V313.4h1V313.5h1V313.1h1V311.5h1V311.6h1V312.5h1V312.8h1V312.3h1V311.8h1V312.4h1V312.9h1V312.9h1V313.5h1V313.9h1V314.2h1V312.3h1V312.1h1V311.5h1V312.7h1V313.7h1V313.3h1V311.4h1V311.5h1V314.0h1V313.0h1V312.0h1V311.6h1V312.6h1V314.1h1V312.7h1V314.1h1V313.5h1V308.6h1V311.7h1V313.3h1V312.9h1V313.3h1V313.9h1V312.7h1V313.2h1V309.8h1V313.5h1V313.5h1V311.4h1V314.1h1V311.8h1V312.0h1V311.5h1V313.0h1V312.9h1V313.2h1V312.8h1V312.7h1V311.8h1V313.0h1V312.2h1V312.0h1V311.7h1V313.2h1V313.3h1V311.9h1V311.7h1V314.0h1V313.8h1V313.7h1V313.4h1V312.0h1V312.8h1V312.0h1V311.6h1V312.7h1V311.4h1V313.1h1V311.4h1V311.3h1V313.5h1V312.5h1V311.4h1V313.2h1V311.5h1V312.6h1V312.2h1V312.1h1V312.1h1V310.9h1V311.4h1V312.6h1V312.5h1V312.4h1V312.3h1V313.2h1V311.9h1V312.3h1V313.7h1V313.3h1V313.3h1V314.0h1V313.0h1V313.7h1V311.5h1V311.9h1V313.8h1V313.7h1V312.8h1V311.8h1V311.7h1V311.4h1V311.8h1V314.1h1V313.9h1V311.5h1V313.7h1V312.5h1V311.6h1V312.1h1V311.8h1V313.5h1V312.4h1V312.8h1V311.5h1V311.5h1V313.8h1V313.0h1V311.8h1V313.7h1V313.6h1V313.2h1V312.2h1V312.8h1V312.0h1V314.0h1V311.4h1V314.0h1V313.5h1V313.8h1V312.5h1V311.7h1V313.0h1V313.0h1V313.6h1V313.5h1V311.6h1V312.8h1V312.4h1V313.1h1V315.6Z" fill="#1a1a1a"/>
<path d="M467 371V369.8h1V370.2h1V370.1h1V370.2h1V371h1V371h1V371h1V371h1V371h1V371h1V370.0h1V371h1V371h1V371h1V371h1V371h1V371h1V371h1V371h1V371h1V371h1V371h1V371h1V371h1V371h1V371h1V371h1V371h1V371h1V371h1V371h1V371h1V371h1V370.2h1V370.1h1V369.9h1V369.7h1V371h1V371h1V371h1V371h1V371h1V371h1V371h1V371h1V371h1V371h1V371h1V371h1V371h1V371h1V369.7h1V369.9h1V369.9h1V371h1V371h1V371h1V371h1V371h1V371h1V370.0h1V371h1V371h1V371h1V371h1V371h1V371h1V371h1V371h1V371h1V371h1V371h1V369.9h1V369.9h1V371h1V371h1V371h1V371h1V371h1V371h1V371h1V371h1V371h1V370.2h1V371h1V371h1V371h1V371h1V371h1V371h1V371h1V371h1V371h1V371h1V371h1V371h1V370.1h1V369.7h1V371h1V371h1V371h1V371h1V371h1V371h1V371h1V371h1V371h1V371h1V371h1V371h1V371h1V371h1V371h1V369.7h1V369.8h1V370.1h1V370.1h1V371h1V371h1V371h1V371h1V371h1V371h1V371h1V371h1V371h1V371h1V371h1V370.0h1V370.2h1V371h1V371h1V371h1V371h1V371h1V371h1V371h1V371h1V371h1V371h1V371h1V370.0h1V370.1h1V370.1h1V371h1V371h1V371h1V371h1V371h1V371h1V371h1V371h1V371h1V371h1V371h1V371h1V371h1V371h1V371h1V370.1h1V369.9h1V371h1V371h1V371h1V371h1V371h1V371h1V371h1V371h1V371h1V371h1V371h1V371h1V371h1V371h1V371h1V371h1V371h1V371h1V371h1V371h1V371h1V371h1V370.1h1V369.8h1V371h1V371h1V371h1V371h1V371h1V371h1V371h1V371h1V371h1V371h1V371h1V371h1V371h1V371h1V371h1V371h1V371h1V370.2h1V371h1V371h1V371h1V371h1V371h1V371h1V371h1V371h1V371h1V371h1V371h1V371h1V371h1V371h1V369.7h1V369.7h1V371h1V371h1V371h1V371h1V371h1V371h1V371h1V371h1V371h1V371h1V371h1V371h1V371h1V371h1V371h1V371h1V371h1V371h1V371h1V370.2h1V369.7h1V371h1V371h1V371h1V371h1V369.9h1V370.0h1V370.2h1V369.9h1V370.0h1V369.8h1V371h1V371h1V371h1V371h1V371h1V371h1V371h1V371h1V371h1V371h1V371h1V371h1V371h1V371h1V371h1V371h1V371h1V370.0h1V369.8h1V371h1V371h1V371h1V371h1V370.0h1V371h1V371h1V371h1V371h1V371h1V371h1V371h1V371h1V371h1V371h1V371h1V371h1V371h1V371h1V371h1V371h1V371h1V370.2h1V369.9h1V371h1V371h1V371h1V371h1V371h1V371h1V371h1V371h1V371h1V371h1V371h1V371h1V371h1V371h1V370.2h1V370.0h1V369.9h1V369.9h1V371h1V371h1V371h1V369.9h1V371h1V371h1V371h1V368.8h1V368.7h1V368.8h1V369.7h1V368.8h1V369.7h1V368.4h1V369.2h1V369.6h1V369.4h1V369.5h1V371h1V371h1V371h1V371h1V371h1V371h1V371h1V369.9h1V370.2h1V370.2h1V371h1V371h1V371h1V371h1V371h1V371h1V371h1V371h1V371h1V371h1V371h1V371h1V371h1V371h1V371h1V371h1V371h1V371h1V369.9h1V371h1V371h1V371h1V371h1V371h1V371h1V369.9h1V371h1V371h1V371h1V371h1V371h1V371h1V371h1V371h1V371h1V371h1V371h1V371h1V371h1V371h1V371h1V371h1V369.9h1V369.8h1V369.9h1V371h1V371h1V371h1V371h1V371h1V371h1V371h1V371h1V371h1V371h1V371h1V371h1V371h1V370.2h1V370.1h1V370.2h1V371h1V371h1V371h1V371h1V370.2h1V370.2h1V371h1V371h1V371h1V371h1V371h1V371h1V371h1V371h1V371h1V371h1V371h1V370.2h1V369.7h1V369.8h1V371h1V371h1V371h1V371h1V369.8h1V371h1V371h1V371h1V370.2h1V370.0h1V370.0h1V371h1V371h1V371h1V371h1V371h1V371h1V371h1V371h1V371h1V371h1V371h1V371h1V371h1V371h1V371h1V369.8h1V371h1V371h1V371h1V371h1V371h1V371h1V371h1V371h1V371h1V371h1V371h1V371h1V371h1V371h1V371h1V371h1V370.1h1V369.9h1V371h1V371h1V371h1V371h1V371h1V371h1V371h1V371h1V371h1V371h1V371h1V371h1V371h1V371h1V371h1V371h1V369.9h1V370.2h1V369.8h1V371h1V371h1V371h1V371h1V371h1V371h1V371h1V371h1V371h1V371h1V371h1V371h1V371h1V371h1V371h1V371h1V371h1V371h1V371h1V369.7h1V369.9h1V371h1V371h1V371h1V371h1V371h1V370.2h1V369.9h1V371h1V371h1V371h1V371h1V371h1V369.7h1V371h1V371h1V371h1V371h1V371h1V371h1V371h1V371h1V369.8h1V370.2h1V369.7h1V371h1V371h1V371h1V371h1V371h1V371h1V371h1V371h1V371h1V370.1h1V370.1h1V370.2h1V371h1V371h1V371h1V371Z" fill="#4a5ab0"/>
<path d="M467 419.5V418.2h1V418.6h1V419.5h1V419.5h1V419.5h1V419.5h1V419.5h1V419.5h1V419.5h1V419.5h1V419.5h1V419.5h1V419.5h1V419.5h1V419.5h1V419.5h1V419.5h1V419.5h1V418.7h1V418.3h1V419.5h1V419.5h1V419.5h1V419.5h1V418.4h1V418.5h1V418.5h1V419.5h1V419.5h1V419.5h1V419.5h1V419.5h1V419.5h1V418.5h1V418.4h1V418.5h1V419.5h1V419.5h1V419.5h1V419.5h1V419.5h1V419.5h1V419.5h1V419.5h1V419.5h1V419.5h1V419.5h1V419.5h1V419.5h1V419.5h1V419.5h1V419.5h1V419.5h1V418.6h1V418.7h1V418.5h1V418.5h1V418.2h1V419.5h1V419.5h1V419.5h1V419.5h1V419.5h1V419.5h1V419.5h1V419.5h1V419.5h1V419.5h1V419.5h1V419.5h1V419.5h1V419.5h1V419.5h1V419.5h1V419.5h1V419.5h1V419.5h1V419.5h1V418.3h1V418.6h1V418.7h1V419.5h1V419.5h1V419.5h1V419.5h1V419.5h1V418.4h1V419.5h1V419.5h1V419.5h1V419.5h1V419.5h1V419.5h1V419.5h1V419.5h1V419.5h1V419.5h1V419.5h1V419.5h1V419.5h1V419.5h1V419.5h1V419.5h1V419.5h1V418.4h1V418.2h1V419.5h1V419.5h1V419.5h1V419.5h1V419.5h1V419.5h1V419.5h1V419.5h1V419.5h1V418.7h1V418.3h1V419.5h1V419.5h1V419.5h1V419.5h1V419.5h1V419.5h1V419.5h1V418.3h1V418.6h1V419.5h1V419.5h1V419.5h1V419.5h1V419.5h1V419.5h1V419.5h1V419.5h1V418.7h1V419.5h1V419.5h1V419.5h1V419.5h1V419.5h1V419.5h1V419.5h1V419.5h1V419.5h1V419.5h1V419.5h1V418.7h1V418.5h1V419.5h1V419.5h1V419.5h1V419.5h1V419.5h1V419.5h1V419.5h1V419.5h1V419.5h1V419.5h1V419.5h1V419.5h1V419.5h1V419.5h1V419.5h1V419.5h1V419.5h1V419.5h1V419.5h1V419.5h1V419.5h1V419.5h1V418.4h1V418.3h1V418.6h1V419.5h1V419.5h1V419.5h1V419.5h1V418.7h1V419.5h1V419.5h1V419.5h1V419.5h1V418.7h1V419.5h1V419.5h1V419.5h1V418.3h1V419.5h1V419.5h1V419.5h1V419.5h1V419.5h1V419.5h1V419.5h1V419.5h1V419.5h1V419.5h1V419.5h1V419.5h1V419.5h1V419.5h1V418.6h1V418.2h1V418.7h1V419.5h1V419.5h1V419.5h1V419.5h1V419.5h1V419.5h1V419.5h1V419.5h1V418.7h1V418.7h1V418.5h1V419.5h1V419.5h1V419.5h1V419.5h1V419.5h1V419.5h1V419.5h1V419.5h1V419.5h1V419.5h1V419.5h1V418.6h1V418.5h1V418.7h1V418.3h1V419.5h1V419.5h1V419.5h1V419.5h1V419.5h1V419.5h1V419.5h1V419.5h1V419.5h1V419.5h1V419.5h1V419.5h1V419.5h1V419.5h1V418.7h1V418.6h1V418.5h1V418.7h1V418.6h1V419.5h1V419.5h1V419.5h1V418.3h1V418.3h1V419.5h1V419.5h1V419.5h1V419.5h1V419.5h1V419.5h1V419.5h1V419.5h1V419.5h1V418.3h1V418.7h1V419.5h1V419.5h1V419.5h1V419.5h1V419.5h1V418.7h1V418.4h1V418.4h1V418.5h1V418.7h1V418.2h1V418.7h1V418.6h1V418.3h1V419.5h1V419.5h1V419.5h1V419.5h1V419.5h1V419.5h1V419.5h1V419.5h1V419.5h1V419.5h1V419.5h1V419.5h1V419.5h1V419.5h1V419.5h1V419.5h1V419.5h1V419.5h1V419.5h1V418.3h1V418.7h1V418.7h1V418.5h1V418.6h1V418.3h1V419.5h1V419.5h1V419.5h1V419.5h1V419.5h1V419.5h1V418.5h1V418.7h1V418.2h1V419.5h1V417.9h1V416.5h1V417.4h1V417.1h1V416.7h1V417.6h1V415.7h1V417.5h1V417.3h1V415.8h1V414.5h1V416.2h1V416.6h1V416.2h1V414.2h1V416.7h1V417.1h1V417.5h1V416.3h1V416.9h1V417.8h1V416.1h1V416.9h1V416.7h1V417.8h1V419.5h1V419.5h1V419.5h1V419.5h1V419.5h1V419.5h1V419.5h1V418.2h1V418.6h1V418.5h1V418.7h1V419.5h1V419.5h1V419.5h1V419.5h1V419.5h1V419.5h1V419.5h1V419.5h1V419.5h1V419.5h1V419.5h1V419.5h1V419.5h1V419.5h1V419.5h1V419.5h1V419.5h1V419.5h1V419.5h1V419.5h1V418.5h1V419.5h1V419.5h1V419.5h1V419.5h1V419.5h1V419.5h1V419.5h1V419.5h1V419.5h1V419.5h1V419.5h1V419.5h1V419.5h1V419.5h1V419.5h1V419.5h1V418.5h1V418.5h1V418.6h1V419.5h1V419.5h1V419.5h1V419.5h1V419.5h1V419.5h1V419.5h1V419.5h1V419.5h1V419.5h1V419.5h1V419.5h1V419.5h1V419.5h1V419.5h1V418.2h1V418.4h1V419.5h1V419.5h1V419.5h1V419.5h1V419.5h1V419.5h1V419.5h1V419.5h1V419.5h1V419.5h1V419.5h1V419.5h1V419.5h1V419.5h1V419.5h1V418.4h1V418.6h1V418.5h1V418.6h1V418.7h1V418.7h1V419.5h1V419.5h1V419.5h1V418.6h1V419.5h1V419.5h1V419.5h1V418.6h1V418.5h1V419.5h1V419.5h1V419.5h1V419.5h1V419.5h1V419.5h1V419.5h1V419.5h1V419.5h1V419.5h1V419.5h1V419.5h1V419.5h1V419.5h1V419.5h1V419.5h1V419.5h1V419.5h1V419.5h1V419.5h1V419.5h1V419.5h1V418.3h1V418.6h1V418.3h1V418.3h1V418.5h1V418.3h1V418.4h1V418.4h1V419.5h1V419.5h1V419.5h1V419.5h1V418.7h1V418.6h1V418.2h1V419.5h1V419.5h1V419.5h1V419.5h1V419.5h1V419.5h1V419.5h1V419.5h1V419.5h1V419.5h1V419.5h1V419.5h1V419.5h1V419.5h1V419.5h1V419.5h1V419.5h1V419.5h1V418.3h1V418.3h1V419.5h1V419.5h1V419.5h1V419.5h1V419.5h1V419.5h1V419.5h1V419.5h1V419.5h1V419.5h1V419.5h1V419.5h1V419.5h1V419.5h1V419.5h1V418.5h1V419.5h1V419.5h1V419.5h1V419.5h1V419.5h1V419.5h1V419.5h1V419.5h1V419.5h1V418.4h1V419.5h1V419.5h1V419.5h1V419.5h1V419.5h1V419.5h1V419.5h1V419.5h1V419.5h1V419.5h1V419.5h1V419.5h1V419.5h1V419.5h1V419.5h1V419.5h1V419.5h1V419.5h1V419.5h1V419.5h1V419.5h1V419.5h1V418.7h1V418.2h1V419.5Z" fill="#4a5ab0"/>
<rect x="455.9" y="142.2" width="2.8" height="171.3" fill="#111"/>
<rect x="455.9" y="338.7" width="2.8" height="77.5" fill="#4a5ab0"/>
<text x="467" y="158" font-size="17" fill="#333" text-anchor="start" stroke="#fff" stroke-width="0.31" >0hr</text>
<text x="467.5" y="205.8" font-size="17" fill="#333" text-anchor="start" stroke="#fff" stroke-width="0.31" >12hr</text>
<text x="467" y="254" font-size="17" fill="#333" text-anchor="start" stroke="#fff" stroke-width="0.31" >24hr</text>
<text x="467" y="302" font-size="17" fill="#333" text-anchor="start" stroke="#fff" stroke-width="0.31" >36hr</text>
<text x="467" y="357" font-size="17" fill="#4a5ab0" text-anchor="start" stroke="#fff" stroke-width="0.31" >36hr</text>
<text x="467" y="405.1" font-size="17" fill="#4a5ab0" text-anchor="start" stroke="#fff" stroke-width="0.31" >8days</text>
<text transform="translate(434,225.6) rotate(-90)" font-size="17" fill="#222" text-anchor="middle">i-WT-r</text>
<text transform="translate(451.3,225.6) rotate(-90)" font-size="17" fill="#222" text-anchor="middle">H3K27me3</text>
<text transform="translate(434,380) rotate(-90)" font-size="17" fill="#4a5ab0" text-anchor="middle">i-MT-r</text>
<text transform="translate(451.3,377.5) rotate(-90)" font-size="17" fill="#4a5ab0" text-anchor="middle">H3K27me3</text>
<text x="836" y="191" font-size="17.4" fill="#e8305a" text-anchor="start" stroke="#fff" stroke-width="0.31" >Early</text>
<text x="836" y="211.5" font-size="17.4" fill="#e8305a" text-anchor="start" stroke="#fff" stroke-width="0.31" >recruitment</text>
<line x1="834.5" y1="193.4" x2="818.9" y2="200.2" stroke="#e8305a" stroke-width="1.7"/>
<path transform="translate(811.6 203.4) rotate(156.4)" d="M0 0 L-14.5 -7.5 L-10 0 L-14.5 7.5 Z" fill="#e8305a"/>
<text x="622.5" y="240" font-size="17.4" fill="#2e7d4e" text-anchor="start" stroke="#fff" stroke-width="0.31" >Delayed</text>
<text x="622.5" y="260.5" font-size="17.4" fill="#2e7d4e" text-anchor="start" stroke="#fff" stroke-width="0.31" >recruitment</text>
<line x1="620.8" y1="238.8" x2="605.3" y2="245.3" stroke="#167a3e" stroke-width="1.7"/>
<path transform="translate(597.9 248.4) rotate(157.3)" d="M0 0 L-14.5 -7.5 L-10 0 L-14.5 7.5 Z" fill="#167a3e"/>
<text x="836" y="387.5" font-size="17.4" fill="#e8305a" text-anchor="start" stroke="#fff" stroke-width="0.31" >Cage-mt</text>
<text x="836" y="407.5" font-size="17.4" fill="#e8305a" text-anchor="start" stroke="#fff" stroke-width="0.31" >recruitment</text>
<line x1="834.4" y1="390" x2="818.9" y2="396.5" stroke="#e8305a" stroke-width="1.7"/>
<path transform="translate(811.5 399.6) rotate(157.3)" d="M0 0 L-14.5 -7.5 L-10 0 L-14.5 7.5 Z" fill="#e8305a"/>
<text x="418.6" y="474.3" font-size="42.5" fill="#1a1a1a" text-anchor="start" stroke="#fff" stroke-width="0.76" >D</text>
<text x="467" y="475" font-size="16.5" fill="#e03030" text-anchor="start" stroke="#fff" stroke-width="0.30" >WT-H3K27me2</text>
<path d="M467 500.5V491.3h1V489.3h1V489.4h1V487.7h1V487.6h1V491.2h1V487.7h1V492.0h1V488.7h1V492.3h1V489.2h1V492.2h1V488.8h1V493.7h1V489.3h1V488.2h1V488.9h1V491.3h1V490.5h1V489.8h1V489.8h1V490.7h1V486.7h1V491.8h1V488.9h1V489.0h1V488.3h1V493.5h1V488.0h1V488.0h1V490.6h1V493.6h1V493.0h1V490.5h1V487.3h1V485.7h1V487.9h1V487.3h1V488.7h1V490.9h1V487.4h1V487.5h1V489.6h1V486.6h1V489.5h1V486.1h1V487.3h1V486.8h1V487.4h1V489.2h1V492.4h1V493.6h1V495.4h1V492.3h1V487.3h1V491.5h1V488.7h1V486.5h1V490.6h1V489.4h1V487.9h1V486.9h1V493.0h1V488.3h1V489.8h1V486.5h1V488.5h1V489.5h1V489.4h1V486.9h1V488.9h1V493.5h1V491.6h1V488.4h1V490.3h1V491.9h1V492.2h1V488.6h1V488.9h1V494.9h1V493.5h1V488.9h1V487.0h1V489.7h1V478.8h1V488.2h1V490.5h1V487.1h1V484.8h1V490.0h1V487.5h1V491.8h1V486.7h1V486.4h1V492.2h1V494.4h1V490.3h1V493.6h1V496.4h1V488.4h1V488.3h1V489.4h1V491.5h1V488.3h1V491.8h1V486.3h1V486.8h1V490.1h1V486.0h1V486.3h1V488.6h1V493.5h1V492.4h1V496.8h1V492.5h1V496.4h1V496.3h1V493.5h1V494.1h1V496.3h1V495.8h1V495.9h1V494.2h1V497.0h1V494.4h1V495.7h1V493.5h1V494.5h1V494.1h1V484.2h1V491.6h1V494.2h1V493.3h1V493.6h1V489.7h1V489.2h1V495.2h1V490.6h1V494.8h1V494.4h1V492.9h1V489.9h1V489.7h1V494.2h1V491.5h1V492.0h1V494.5h1V493.5h1V491.9h1V491.5h1V491.9h1V489.7h1V493.1h1V500.5h1V500.5h1V492.2h1V493.4h1V487.4h1V492.8h1V490.7h1V491.7h1V490.5h1V494.0h1V492.5h1V494.0h1V493.7h1V496.0h1V495.8h1V494.7h1V496.3h1V494.9h1V496.0h1V494.9h1V493.7h1V492.7h1V493.3h1V496.0h1V497.0h1V496.3h1V492.9h1V491.0h1V490.9h1V491.3h1V488.8h1V479.7h1V491.1h1V484.3h1V488.6h1V485.9h1V488.8h1V491.4h1V491.8h1V486.9h1V491.7h1V486.0h1V478.5h1V485.1h1V488.7h1V478.5h1V486.4h1V490.6h1V490.9h1V486.6h1V493.1h1V486.3h1V487.1h1V493.1h1V485.9h1V493.6h1V490.5h1V484.7h1V484.5h1V486.1h1V492.9h1V490.3h1V487.0h1V490.6h1V490.0h1V494.6h1V492.0h1V489.5h1V488.7h1V494.2h1V491.7h1V490.5h1V495.0h1V489.7h1V491.8h1V488.6h1V490.1h1V492.1h1V490.6h1V490.2h1V492.7h1V489.6h1V492.4h1V490.7h1V492.4h1V490.1h1V493.8h1V492.7h1V478.5h1V489.9h1V492.4h1V492.4h1V491.7h1V491.9h1V490.7h1V493.8h1V492.1h1V489.5h1V493.5h1V488.7h1V488.7h1V488.0h1V490.9h1V491.4h1V495.3h1V483.7h1V493.9h1V489.6h1V489.7h1V490.4h1V489.4h1V488.7h1V490.0h1V491.3h1V493.9h1V491.6h1V496.8h1V493.3h1V484.7h1V482.7h1V493.8h1V494.9h1V487.8h1V490.6h1V491.5h1V495.5h1V494.1h1V491.5h1V491.2h1V491.6h1V491.8h1V493.7h1V494.1h1V493.0h1V491.2h1V490.9h1V493.7h1V491.4h1V495.2h1V493.6h1V496.6h1V494.5h1V493.7h1V493.5h1V494.9h1V492.4h1V493.7h1V490.3h1V490.4h1V492.1h1V493.5h1V492.0h1V492.3h1V494.9h1V492.5h1V488.3h1V490.6h1V492.0h1V495.9h1V496.3h1V496.2h1V496.8h1V498.1h1V496.7h1V496.0h1V495.9h1V496.9h1V497.2h1V497.8h1V496.1h1V497.3h1V496.2h1V497.5h1V495.8h1V497.7h1V495.6h1V496.3h1V496.4h1V495.1h1V497.4h1V495.0h1V496.4h1V495.5h1V497.0h1V496.5h1V495.4h1V495.5h1V498.3h1V496.6h1V497.2h1V496.4h1V497.8h1V496.1h1V495.6h1V495.1h1V490.1h1V493.9h1V489.6h1V490.3h1V493.4h1V487.5h1V488.5h1V493.3h1V490.4h1V491.5h1V489.9h1V493.4h1V488.9h1V489.4h1V492.4h1V491.6h1V492.2h1V491.8h1V489.8h1V489.7h1V489.1h1V494.8h1V495.2h1V490.8h1V493.1h1V489.6h1V488.7h1V491.5h1V493.9h1V495.4h1V494.7h1V492.6h1V493.4h1V491.2h1V494.9h1V493.8h1V493.8h1V485.6h1V491.9h1V492.9h1V493.7h1V492.7h1V490.2h1V494.1h1V494.3h1V492.7h1V494.5h1V494.3h1V490.2h1V489.5h1V485.3h1V492.8h1V488.2h1V491.9h1V488.7h1V485.4h1V489.6h1V491.6h1V482.8h1V487.6h1V489.6h1V482.5h1V489.5h1V489.8h1V491.7h1V484.3h1V489.5h1V485.4h1V486.3h1V490.5h1V488.6h1V485.1h1V486.7h1V486.9h1V491.6h1V489.3h1V482.9h1V484.4h1V490.5h1V485.2h1V486.8h1V482.5h1V485.1h1V491.6h1V491.2h1V489.9h1V490.7h1V480.1h1V481.9h1V488.0h1V486.8h1V485.0h1V489.0h1V490.6h1V486.2h1V487.3h1V492.6h1V484.1h1V488.7h1V483.8h1V489.1h1V492.6h1V489.8h1V485.3h1V483.8h1V486.4h1V485.5h1V483.4h1V490.1h1V484.0h1V490.7h1V487.9h1V489.7h1V487.4h1V489.1h1V490.0h1V490.6h1V486.2h1V488.8h1V486.7h1V488.3h1V485.8h1V492.3h1V485.3h1V486.1h1V486.5h1V483.3h1V487.0h1V486.6h1V488.5h1V487.0h1V478.5h1V489.9h1V489.5h1V484.1h1V486.6h1V484.0h1V488.9h1V490.3h1V484.2h1V484.9h1V489.1h1V483.6h1V486.3h1V484.6h1V481.9h1V484.8h1V489.8h1V486.1h1V491.2h1V478.5h1V485.2h1V490.4h1V478.5h1V488.4h1V483.3h1V483.3h1V487.7h1V491.7h1V490.4h1V489.5h1V486.2h1V489.6h1V489.8h1V485.0h1V487.9h1V483.0h1V489.8h1V482.8h1V489.9h1V487.2h1V487.0h1V489.0h1V478.5h1V483.7h1V486.2h1V491.3h1V486.3h1V485.9h1V484.3h1V484.1h1V483.4h1V490.0h1V486.6h1V486.1h1V491.4h1V492.8h1V489.1h1V491.8h1V489.5h1V486.4h1V491.3h1V491.2h1V488.5h1V486.7h1V483.5h1V500.5Z" fill="#e73a40"/>
<path d="M467 543V542.1h1V542.0h1V542.1h1V542.2h1V542.1h1V542.2h1V542.2h1V542.2h1V542.0h1V542.1h1V542.0h1V543h1V542.1h1V542.1h1V542.2h1V541.9h1V543h1V543h1V542.2h1V542.0h1V542.0h1V542.0h1V542.2h1V543h1V543h1V543h1V543h1V543h1V542.0h1V542.0h1V543h1V543h1V542.2h1V542.1h1V542.2h1V542.0h1V543h1V542.1h1V543h1V543h1V542.1h1V543h1V543h1V543h1V542.2h1V542.0h1V542.0h1V543h1V543h1V542.2h1V543h1V542.2h1V541.9h1V542.2h1V542.1h1V542.2h1V542.2h1V542.2h1V543h1V543h1V542.2h1V543h1V542.1h1V542.2h1V542.1h1V542.0h1V542.1h1V542.0h1V543h1V543h1V543h1V543h1V542.0h1V543h1V543h1V543h1V542.0h1V542.1h1V542.2h1V542.2h1V543h1V543h1V543h1V543h1V543h1V542.2h1V542.0h1V542.1h1V542.0h1V543h1V543h1V541.9h1V542.2h1V543h1V542.1h1V542.2h1V542.0h1V542.1h1V543h1V543h1V543h1V542.0h1V542.2h1V542.0h1V542.0h1V542.2h1V543h1V543h1V543h1V543h1V543h1V542.0h1V542.2h1V541.9h1V543h1V542.2h1V542.2h1V541.9h1V542.2h1V542.2h1V542.0h1V542.1h1V543h1V543h1V543h1V543h1V543h1V542.2h1V542.2h1V543h1V543h1V543h1V543h1V542.1h1V542.1h1V542.2h1V542.0h1V543h1V543h1V543h1V542.2h1V543h1V542.2h1V541.9h1V542.0h1V543h1V543h1V543h1V542.1h1V542.2h1V542.0h1V542.0h1V541.9h1V543h1V542.0h1V542.1h1V541.9h1V543h1V543h1V541.9h1V541.9h1V541.9h1V542.0h1V542.0h1V542.2h1V542.1h1V542.1h1V542.1h1V543h1V543h1V543h1V543h1V541.9h1V543h1V543h1V542.1h1V543h1V543h1V543h1V541.9h1V543h1V542.0h1V542.2h1V541.9h1V542.2h1V542.2h1V542.2h1V542.2h1V542.2h1V542.2h1V542.1h1V542.2h1V542.2h1V542.1h1V543h1V542.0h1V543h1V543h1V543h1V542.1h1V542.1h1V542.0h1V543h1V542.1h1V541.9h1V542.2h1V543h1V542.2h1V543h1V543h1V542.1h1V542.2h1V542.1h1V543h1V543h1V543h1V543h1V543h1V542.2h1V542.0h1V542.0h1V542.2h1V542.0h1V542.1h1V542.0h1V542.0h1V543h1V543h1V543h1V542.0h1V542.2h1V542.2h1V542.2h1V543h1V542.2h1V542.1h1V542.2h1V542.0h1V542.2h1V543h1V543h1V543h1V543h1V542.0h1V542.0h1V542.2h1V542.2h1V542.0h1V542.1h1V543h1V542.2h1V542.0h1V542.1h1V542.1h1V542.2h1V541.9h1V542.1h1V543h1V543h1V543h1V543h1V542.1h1V543h1V542.0h1V542.0h1V542.2h1V543h1V542.2h1V542.1h1V542.2h1V542.1h1V542.0h1V542.0h1V542.0h1V543h1V543h1V543h1V542.0h1V542.0h1V542.2h1V542.2h1V542.2h1V542.1h1V542.2h1V542.0h1V542.1h1V543h1V541.9h1V542.1h1V542.2h1V543h1V543h1V543h1V543h1V543h1V542.1h1V542.1h1V541.9h1V542.2h1V543h1V543h1V542.1h1V542.2h1V542.1h1V543h1V543h1V542.2h1V542.1h1V542.2h1V542.0h1V542.1h1V542.2h1V541.9h1V542.0h1V542.2h1V542.0h1V541.9h1V542.0h1V543h1V543h1V543h1V542.1h1V542.2h1V542.1h1V542.2h1V542.1h1V542.0h1V542.0h1V542.1h1V542.1h1V542.2h1V542.1h1V542.2h1V542.0h1V543h1V543h1V542.0h1V542.0h1V542.2h1V542.1h1V542.0h1V543h1V542.2h1V542.0h1V542.1h1V542.2h1V541.9h1V542.0h1V542.0h1V542.2h1V542.0h1V542.2h1V542.0h1V543h1V543h1V542.1h1V543h1V543h1V543h1V543h1V543h1V542.2h1V543h1V543h1V543h1V543h1V543h1V542.0h1V543h1V542.2h1V542.2h1V542.1h1V542.0h1V542.2h1V541.9h1V543h1V543h1V543h1V543h1V543h1V542.2h1V541.9h1V542.2h1V542.2h1V542.1h1V543h1V543h1V543h1V543h1V543h1V542.2h1V542.2h1V542.1h1V543h1V542.0h1V542.2h1V541.9h1V542.0h1V542.1h1V542.0h1V542.1h1V542.2h1V543h1V543h1V542.2h1V542.2h1V543h1V543h1V543h1V543h1V543h1V542.2h1V542.2h1V542.2h1V542.0h1V543h1V543h1V543h1V543h1V542.2h1V542.2h1V543h1V541.9h1V542.1h1V542.0h1V542.1h1V542.0h1V542.1h1V543h1V543h1V543h1V542.2h1V542.0h1V542.1h1V543h1V543h1V543h1V543h1V543h1V542.0h1V542.2h1V542.2h1V542.1h1V542.0h1V541.9h1V541.9h1V542.0h1V542.1h1V542.1h1V543h1V543h1V543h1V542.2h1V542.0h1V542.0h1V542.0h1V543h1V543h1V543h1V543h1V542.2h1V542.2h1V543h1V543h1V543h1V543h1V543h1V542.1h1V541.9h1V542.0h1V542.2h1V543h1V543h1V542.2h1V542.1h1V542.1h1V542.2h1V543h1V541.9h1V543h1V543h1V543h1V542.2h1V543h1V543h1V543h1V543h1V542.0h1V543h1V542.0h1V542.1h1V542.1h1V542.0h1V542.1h1V543h1V543h1V542.2h1V541.9h1V543h1V543h1V543h1V543h1V543h1V542.2h1V543h1V542.0h1V543h1V543h1V543h1V543h1V543h1V542.0h1V542.2h1V543h1V543h1V543h1V543h1V543h1V542.0h1V542.2h1V542.0h1V542.1h1V541.9h1V542.2h1V542.2h1V542.2h1V542.1h1V543h1V543h1V543h1V543h1V543h1V542.0h1V542.2h1V542.1h1V542.0h1V542.1h1V542.0h1V542.0h1V542.0h1V543h1V542.2h1V542.0h1V542.0h1V543Z" fill="#777"/>
<path d="M467 590.7V589.9h1V589.3h1V588.7h1V589.8h1V589.4h1V589.4h1V589.6h1V589.4h1V589.6h1V589.1h1V588.6h1V589.6h1V589.2h1V589.2h1V589.6h1V589.0h1V589.8h1V588.6h1V588.8h1V590.7h1V590.7h1V590.7h1V588.5h1V589.7h1V589.5h1V588.5h1V588.8h1V589.1h1V589.6h1V589.7h1V588.6h1V589.5h1V589.7h1V589.7h1V589.4h1V589.8h1V588.6h1V590.7h1V590.7h1V589.0h1V589.7h1V588.6h1V588.8h1V589.2h1V590.7h1V589.7h1V589.0h1V589.5h1V589.5h1V589.1h1V588.7h1V589.4h1V588.5h1V589.3h1V589.5h1V588.8h1V589.3h1V589.1h1V589.9h1V589.4h1V588.8h1V589.4h1V589.7h1V589.5h1V589.3h1V589.5h1V589.1h1V589.4h1V590.7h1V590.7h1V590.7h1V590.7h1V590.7h1V588.9h1V588.7h1V589.5h1V589.5h1V589.8h1V589.6h1V589.7h1V588.5h1V589.6h1V589.2h1V588.5h1V588.9h1V588.7h1V589.7h1V588.7h1V588.7h1V588.6h1V589.3h1V589.3h1V589.3h1V588.3h1V588.0h1V588.0h1V587.3h1V587.2h1V587.2h1V589.3h1V588.8h1V587.7h1V588.3h1V587.2h1V589.4h1V587.8h1V588.5h1V588.5h1V588.2h1V587.2h1V588.5h1V587.4h1V587.2h1V587.9h1V587.0h1V586.8h1V586.1h1V586.3h1V586.1h1V586.2h1V586.7h1V586.2h1V588.8h1V584.6h1V588.1h1V587.9h1V586.4h1V588.1h1V586.1h1V588.7h1V589.2h1V588.8h1V588.8h1V589.9h1V589.5h1V589.9h1V589.8h1V589.1h1V589.9h1V589.5h1V589.0h1V589.9h1V589.1h1V589.5h1V589.9h1V589.5h1V589.4h1V589.7h1V589.6h1V589.5h1V589.2h1V589.9h1V589.6h1V589.0h1V589.9h1V589.7h1V589.6h1V589.0h1V589.6h1V589.3h1V588.9h1V589.2h1V589.9h1V589.1h1V589.9h1V589.9h1V589.9h1V589.9h1V589.2h1V589.2h1V589.9h1V589.9h1V589.9h1V589.9h1V589.0h1V589.2h1V588.5h1V589.0h1V589.0h1V589.1h1V588.3h1V588.7h1V588.8h1V589.5h1V588.6h1V588.5h1V588.7h1V589.6h1V589.8h1V588.7h1V589.3h1V589.7h1V589.7h1V588.7h1V589.2h1V588.6h1V588.8h1V589.2h1V589.6h1V589.9h1V588.7h1V589.3h1V589.6h1V589.1h1V588.4h1V588.7h1V588.8h1V589.6h1V589.6h1V589.2h1V588.6h1V588.7h1V588.8h1V589.1h1V588.8h1V589.5h1V589.0h1V589.1h1V588.9h1V589.3h1V588.9h1V589.7h1V588.7h1V589.3h1V589.0h1V589.7h1V588.7h1V588.4h1V589.7h1V589.6h1V588.7h1V589.2h1V589.8h1V588.5h1V589.4h1V589.4h1V589.5h1V589.3h1V589.5h1V589.3h1V589.0h1V588.7h1V588.5h1V588.8h1V588.7h1V589.0h1V588.4h1V588.3h1V588.6h1V588.7h1V588.8h1V588.8h1V588.8h1V589.5h1V587.8h1V588.8h1V588.6h1V587.9h1V589.0h1V587.7h1V588.1h1V589.6h1V588.8h1V588.3h1V589.6h1V589.5h1V590.7h1V590.7h1V590.7h1V590.7h1V590.7h1V588.5h1V589.3h1V587.5h1V589.5h1V588.2h1V587.4h1V587.7h1V587.7h1V589.0h1V588.0h1V589.1h1V587.5h1V589.2h1V588.7h1V588.1h1V587.5h1V588.8h1V587.9h1V589.4h1V588.1h1V588.6h1V589.0h1V588.4h1V588.1h1V587.5h1V587.9h1V589.4h1V587.5h1V587.6h1V587.5h1V589.6h1V588.4h1V588.8h1V589.5h1V588.9h1V588.5h1V589.5h1V589.1h1V586.7h1V589.0h1V587.2h1V587.9h1V586.5h1V586.4h1V587.0h1V588.0h1V587.5h1V586.1h1V587.4h1V587.2h1V588.9h1V588.6h1V588.8h1V586.4h1V587.0h1V588.9h1V588.3h1V586.4h1V587.1h1V586.7h1V588.9h1V588.4h1V587.0h1V587.7h1V588.3h1V587.3h1V588.2h1V587.1h1V588.8h1V586.9h1V588.4h1V586.6h1V587.5h1V586.2h1V588.4h1V587.7h1V586.0h1V587.5h1V589.2h1V587.2h1V587.9h1V589.2h1V588.3h1V588.6h1V588.2h1V589.4h1V588.4h1V587.7h1V589.3h1V587.2h1V589.1h1V587.5h1V590.7h1V590.7h1V590.7h1V590.7h1V589.2h1V587.6h1V589.4h1V589.2h1V589.2h1V587.8h1V588.4h1V587.2h1V587.4h1V587.8h1V588.8h1V587.2h1V588.4h1V588.4h1V588.2h1V588.5h1V587.4h1V589.3h1V587.3h1V587.7h1V587.8h1V587.9h1V587.9h1V589.0h1V587.5h1V588.9h1V588.7h1V587.1h1V588.2h1V589.3h1V588.5h1V587.6h1V588.3h1V588.1h1V588.3h1V589.3h1V587.8h1V587.4h1V587.4h1V589.3h1V588.3h1V589.4h1V588.0h1V589.1h1V587.6h1V587.5h1V588.6h1V588.3h1V589.1h1V588.0h1V588.7h1V588.6h1V587.9h1V588.9h1V588.8h1V589.3h1V588.9h1V589.3h1V588.4h1V588.6h1V587.1h1V587.1h1V589.4h1V588.3h1V588.5h1V588.6h1V587.8h1V587.7h1V587.4h1V587.9h1V589.3h1V589.0h1V589.5h1V587.7h1V587.3h1V588.1h1V589.1h1V588.4h1V587.6h1V589.1h1V588.7h1V587.6h1V588.0h1V589.4h1V589.4h1V589.1h1V587.7h1V589.0h1V588.6h1V587.1h1V587.4h1V588.3h1V588.2h1V589.2h1V589.2h1V588.7h1V588.4h1V589.3h1V589.1h1V588.9h1V588.5h1V588.5h1V587.9h1V587.2h1V588.5h1V587.9h1V588.4h1V588.1h1V587.9h1V587.4h1V588.2h1V589.0h1V588.8h1V588.3h1V588.5h1V589.2h1V587.5h1V588.4h1V588.3h1V588.8h1V587.8h1V587.6h1V589.4h1V588.0h1V587.8h1V588.0h1V587.7h1V587.4h1V589.3h1V589.4h1V588.7h1V587.5h1V589.2h1V589.2h1V589.1h1V588.0h1V589.3h1V588.9h1V587.7h1V587.6h1V589.2h1V588.3h1V588.3h1V587.8h1V588.1h1V588.3h1V587.3h1V588.1h1V587.6h1V588.6h1V587.7h1V587.2h1V588.9h1V587.6h1V587.5h1V588.8h1V588.8h1V588.7h1V589.5h1V588.7h1V588.7h1V588.7h1V588.4h1V587.4h1V588.8h1V588.4h1V588.1h1V587.8h1V587.8h1V589.1h1V588.1h1V587.6h1V588.2h1V588.4h1V588.0h1V589.1h1V588.4h1V590.7Z" fill="#888"/>
<path d="M467 639.2V620.3h1V622.6h1V629.1h1V626.1h1V621.4h1V621.8h1V620.0h1V621.1h1V629.9h1V618.9h1V628.7h1V626.0h1V622.9h1V626.6h1V621.4h1V627.5h1V626.4h1V627.3h1V620.1h1V628.3h1V620.6h1V627.8h1V624.1h1V631.0h1V626.1h1V620.8h1V623.4h1V628.0h1V624.9h1V627.1h1V620.8h1V625.9h1V631.8h1V622.6h1V626.9h1V615.2h1V632.5h1V623.6h1V626.4h1V623.4h1V623.0h1V623.7h1V627.7h1V628.1h1V629.9h1V622.9h1V621.7h1V620.9h1V635.5h1V635.4h1V635.9h1V636.8h1V637.0h1V635.7h1V634.6h1V634.9h1V635.7h1V635.2h1V634.6h1V636.3h1V634.5h1V636.1h1V635.2h1V636.4h1V634.7h1V635.1h1V634.6h1V634.2h1V626.1h1V630.5h1V625.6h1V627.3h1V630.2h1V628.9h1V616.4h1V630.1h1V629.5h1V630.1h1V628.4h1V625.5h1V628.3h1V622.5h1V630.4h1V629.4h1V624.3h1V626.8h1V632.2h1V631.8h1V630.5h1V628.0h1V630.6h1V625.3h1V631.3h1V625.3h1V622.9h1V622.9h1V623.5h1V630.3h1V630.6h1V631.2h1V632.3h1V632.0h1V632.5h1V628.7h1V626.9h1V624.8h1V627.1h1V629.7h1V625.3h1V625.7h1V628.6h1V629.0h1V631.8h1V628.8h1V625.5h1V629.9h1V627.1h1V629.9h1V629.6h1V630.5h1V630.3h1V632.4h1V624.1h1V628.7h1V624.0h1V626.5h1V625.1h1V629.3h1V627.3h1V615.2h1V627.2h1V627.0h1V627.5h1V624.0h1V627.0h1V626.1h1V630.3h1V624.9h1V630.8h1V635.1h1V636.7h1V634.5h1V635.5h1V633.9h1V633.0h1V635.2h1V636.8h1V635.2h1V637.6h1V637.8h1V639.2h1V639.2h1V637.7h1V637.2h1V636.2h1V636.7h1V637.3h1V636.6h1V633.8h1V631.3h1V630.4h1V631.4h1V633.9h1V633.7h1V634.3h1V634.7h1V632.6h1V635.0h1V632.0h1V630.1h1V632.8h1V629.3h1V631.4h1V627.6h1V623.9h1V629.9h1V628.7h1V631.3h1V626.9h1V626.3h1V621.6h1V627.2h1V623.6h1V621.9h1V625.3h1V628.5h1V629.9h1V627.0h1V623.9h1V624.4h1V625.9h1V624.8h1V631.7h1V627.2h1V631.1h1V626.6h1V628.2h1V624.0h1V625.4h1V622.2h1V622.0h1V626.2h1V623.8h1V630.2h1V626.7h1V630.4h1V623.8h1V625.4h1V627.3h1V629.5h1V629.1h1V627.6h1V628.9h1V624.6h1V621.6h1V628.8h1V621.0h1V624.2h1V626.8h1V625.3h1V627.9h1V629.4h1V630.1h1V628.9h1V626.2h1V628.6h1V630.5h1V624.2h1V625.9h1V626.5h1V627.6h1V624.4h1V627.5h1V623.8h1V625.7h1V625.0h1V625.8h1V627.1h1V627.8h1V626.3h1V615.2h1V627.4h1V622.0h1V625.9h1V620.5h1V621.4h1V626.1h1V629.0h1V624.8h1V625.7h1V626.6h1V625.6h1V628.1h1V628.3h1V621.0h1V622.6h1V629.0h1V626.9h1V627.8h1V627.4h1V629.4h1V615.2h1V625.2h1V627.8h1V628.1h1V629.2h1V625.4h1V626.2h1V622.7h1V628.4h1V630.3h1V630.5h1V627.7h1V628.4h1V627.4h1V628.5h1V630.4h1V628.7h1V626.7h1V629.4h1V625.9h1V627.2h1V626.3h1V627.9h1V627.5h1V631.4h1V629.0h1V627.6h1V624.9h1V629.7h1V632.0h1V627.6h1V623.2h1V630.6h1V632.7h1V626.6h1V626.0h1V625.4h1V634.5h1V634.3h1V634.8h1V633.8h1V633.1h1V633.6h1V633.8h1V633.7h1V635.6h1V634.7h1V635.2h1V633.8h1V634.4h1V624.5h1V633.6h1V635.2h1V633.7h1V635.3h1V636.0h1V632.6h1V635.2h1V634.7h1V632.5h1V634.7h1V633.7h1V639.2h1V639.2h1V639.2h1V639.2h1V639.2h1V629.6h1V631.2h1V627.1h1V627.2h1V626.8h1V628.9h1V628.4h1V632.1h1V631.4h1V626.7h1V626.9h1V632.9h1V629.9h1V630.1h1V630.6h1V630.2h1V629.8h1V626.9h1V631.0h1V629.7h1V629.8h1V627.1h1V631.2h1V631.7h1V632.9h1V629.2h1V632.3h1V630.9h1V625.6h1V625.7h1V630.8h1V631.0h1V629.1h1V627.7h1V626.0h1V624.0h1V628.4h1V627.1h1V629.7h1V628.9h1V626.2h1V630.4h1V628.2h1V621.6h1V630.2h1V626.8h1V626.0h1V627.3h1V626.5h1V627.2h1V629.5h1V615.2h1V621.3h1V625.4h1V623.7h1V624.0h1V625.5h1V629.0h1V625.8h1V615.2h1V625.3h1V629.2h1V626.4h1V629.0h1V628.7h1V621.1h1V627.6h1V626.1h1V625.6h1V625.5h1V625.7h1V628.5h1V624.2h1V621.1h1V627.2h1V628.2h1V628.3h1V625.4h1V628.6h1V626.6h1V624.7h1V622.2h1V627.8h1V627.1h1V626.8h1V629.7h1V624.1h1V622.8h1V628.1h1V628.1h1V615.2h1V626.4h1V627.5h1V620.5h1V624.7h1V631.1h1V621.5h1V628.6h1V628.2h1V624.2h1V627.4h1V620.9h1V621.9h1V621.6h1V629.0h1V629.0h1V622.3h1V628.9h1V624.7h1V630.5h1V630.3h1V631.5h1V632.3h1V629.1h1V621.8h1V632.0h1V631.7h1V632.2h1V626.6h1V628.0h1V620.4h1V625.1h1V623.2h1V623.7h1V623.7h1V624.7h1V615.2h1V629.0h1V624.1h1V632.2h1V627.6h1V623.0h1V628.0h1V621.2h1V629.1h1V622.9h1V626.6h1V631.7h1V626.4h1V620.9h1V626.9h1V623.3h1V624.5h1V628.3h1V619.8h1V620.5h1V615.2h1V621.1h1V628.4h1V624.4h1V625.3h1V622.1h1V626.8h1V627.2h1V623.4h1V628.5h1V628.0h1V622.4h1V625.8h1V628.3h1V624.3h1V622.6h1V626.3h1V621.4h1V630.2h1V622.1h1V628.4h1V625.9h1V626.3h1V623.2h1V625.3h1V625.6h1V627.4h1V619.6h1V621.1h1V629.8h1V627.7h1V622.6h1V622.9h1V619.6h1V622.9h1V624.4h1V626.3h1V628.1h1V626.2h1V629.1h1V626.0h1V631.5h1V631.0h1V622.8h1V620.4h1V624.8h1V619.4h1V624.9h1V627.2h1V623.7h1V629.1h1V623.2h1V627.3h1V629.4h1V626.5h1V620.9h1V625.5h1V624.1h1V629.7h1V624.6h1V622.7h1V624.4h1V627.0h1V627.3h1V629.5h1V625.9h1V623.5h1V626.5h1V622.7h1V630.7h1V639.2Z" fill="#8c8c8c"/>
<rect x="455.9" y="509.6" width="2.8" height="130.4" fill="#888"/>
<text x="467" y="527" font-size="17" fill="#888" text-anchor="start" stroke="#fff" stroke-width="0.31" >0hr</text>
<text x="467.5" y="574.5" font-size="17" fill="#888" text-anchor="start" stroke="#fff" stroke-width="0.31" >12hr</text>
<text x="467" y="622.5" font-size="17" fill="#888" text-anchor="start" stroke="#fff" stroke-width="0.31" >36hr</text>
<text transform="translate(434,574.3) rotate(-90)" font-size="17" fill="#888" text-anchor="middle">i-WT-r</text>
<text transform="translate(451.3,574.3) rotate(-90)" font-size="17" fill="#888" text-anchor="middle">H3K27me2</text>
<text x="622.5" y="559" font-size="17.4" fill="#e8305a" text-anchor="start" stroke="#fff" stroke-width="0.31" >Early</text>
<text x="622.5" y="579" font-size="17.4" fill="#e8305a" text-anchor="start" stroke="#fff" stroke-width="0.31" >recruitment</text>
<line x1="620.7" y1="561.5" x2="605.2" y2="568.2" stroke="#e8305a" stroke-width="1.7"/>
<path transform="translate(597.8 571.3) rotate(156.8)" d="M0 0 L-14.5 -7.5 L-10 0 L-14.5 7.5 Z" fill="#e8305a"/>
<text x="836" y="559" font-size="17.4" fill="#e8305a" text-anchor="start" stroke="#fff" stroke-width="0.31" >Early</text>
<text x="836" y="579" font-size="17.4" fill="#e8305a" text-anchor="start" stroke="#fff" stroke-width="0.31" >recruitment</text>
<line x1="834.5" y1="562" x2="819.0" y2="568.3" stroke="#e8305a" stroke-width="1.7"/>
<path transform="translate(811.6 571.3) rotate(157.9)" d="M0 0 L-14.5 -7.5 L-10 0 L-14.5 7.5 Z" fill="#e8305a"/>
<path d="M467 702.5V702.5h1V702.5h1V702.5h1V702.5h1V702.5h1V702.5h1V702.5h1V702.5h1V702.5h1V702.5h1V702.5h1V702.5h1V702.5h1V702.5h1V702.5h1V702.5h1V702.5h1V702.5h1V701.0h1V701.0h1V702.5h1V702.5h1V702.5h1V702.5h1V702.5h1V702.5h1V702.5h1V702.5h1V701.3h1V700.8h1V701.3h1V701.1h1V701.3h1V702.5h1V700.9h1V701.4h1V701.0h1V701.5h1V702.5h1V702.5h1V702.5h1V702.5h1V702.5h1V702.5h1V701.1h1V701.4h1V700.8h1V701.5h1V701.4h1V702.5h1V702.5h1V702.5h1V702.5h1V702.5h1V701.4h1V701.4h1V701.2h1V701.1h1V701.2h1V700.9h1V702.5h1V701.3h1V701.2h1V701.2h1V702.5h1V702.5h1V702.5h1V702.5h1V702.5h1V702.5h1V702.5h1V702.5h1V702.5h1V701.3h1V700.8h1V700.9h1V702.5h1V702.5h1V701.0h1V701.3h1V701.6h1V701.0h1V702.5h1V702.5h1V702.5h1V702.5h1V702.5h1V702.5h1V702.5h1V701.0h1V701.2h1V701.1h1V701.5h1V701.3h1V701.3h1V701.3h1V701.2h1V701.3h1V700.9h1V702.5h1V702.5h1V702.5h1V702.5h1V701.4h1V700.9h1V701.3h1V701.2h1V701.2h1V701.1h1V701.2h1V701.0h1V702.5h1V702.5h1V702.5h1V702.5h1V702.5h1V701.5h1V701.4h1V702.5h1V702.5h1V702.5h1V702.5h1V702.5h1V701.0h1V701.5h1V701.1h1V701.3h1V701.3h1V701.5h1V700.8h1V700.9h1V702.5h1V702.5h1V702.5h1V702.5h1V702.5h1V700.9h1V701.0h1V702.5h1V702.5h1V702.5h1V701.5h1V701.4h1V700.9h1V701.4h1V701.5h1V701.4h1V700.9h1V700.9h1V701.2h1V701.5h1V701.4h1V700.9h1V701.1h1V701.0h1V701.4h1V701.4h1V701.2h1V702.5h1V702.5h1V702.5h1V702.5h1V702.5h1V702.5h1V700.8h1V702.5h1V702.5h1V702.5h1V702.5h1V702.5h1V700.9h1V702.5h1V702.5h1V702.5h1V702.5h1V701.2h1V701.1h1V701.0h1V701.1h1V702.5h1V702.5h1V702.5h1V702.5h1V702.5h1V701.1h1V701.2h1V700.8h1V701.2h1V701.1h1V702.5h1V702.5h1V702.5h1V702.5h1V702.5h1V702.5h1V701.1h1V700.9h1V701.1h1V701.3h1V701.6h1V701.5h1V700.8h1V701.2h1V701.4h1V701.1h1V701.5h1V701.3h1V701.4h1V701.2h1V701.3h1V700.9h1V700.8h1V701.1h1V700.9h1V701.2h1V701.0h1V702.5h1V702.5h1V701.5h1V700.9h1V702.5h1V702.5h1V702.5h1V702.5h1V700.9h1V701.0h1V701.2h1V702.5h1V701.4h1V700.9h1V700.9h1V700.8h1V702.5h1V702.5h1V702.5h1V702.5h1V702.5h1V702.5h1V702.5h1V702.5h1V702.5h1V701.3h1V701.5h1V701.3h1V702.5h1V702.5h1V702.5h1V702.5h1V702.5h1V702.5h1V702.5h1V701.5h1V701.4h1V701.3h1V701.5h1V701.5h1V702.5h1V702.5h1V702.5h1V702.5h1V702.5h1V702.5h1V702.5h1V702.5h1V702.5h1V700.8h1V701.1h1V701.0h1V701.3h1V700.8h1V701.4h1V701.1h1V701.4h1V700.9h1V700.9h1V701.1h1V700.8h1V700.9h1V700.8h1V700.9h1V701.1h1V702.5h1V702.5h1V702.5h1V702.5h1V701.2h1V701.4h1V701.1h1V700.8h1V702.5h1V702.5h1V702.5h1V702.5h1V702.5h1V701.5h1V701.2h1V700.9h1V701.1h1V701.5h1V701.6h1V701.0h1V701.1h1V701.5h1V700.9h1V701.2h1V702.5h1V702.5h1V701.5h1V700.9h1V701.2h1V701.1h1V702.5h1V700.5h1V700.5h1V699.5h1V700.5h1V699.5h1V700.9h1V700.2h1V699.8h1V699.6h1V698.5h1V700.4h1V699.8h1V700.1h1V698.8h1V699.4h1V700.4h1V700.1h1V700.4h1V699.8h1V700.4h1V700.9h1V699.7h1V698.6h1V702.5h1V702.5h1V702.5h1V702.5h1V701.3h1V700.9h1V701.0h1V702.5h1V702.5h1V702.5h1V701.0h1V702.5h1V702.5h1V702.5h1V702.5h1V702.5h1V702.5h1V702.5h1V701.5h1V701.2h1V701.1h1V701.5h1V701.0h1V702.5h1V702.5h1V702.5h1V702.5h1V702.5h1V702.5h1V702.5h1V702.5h1V702.5h1V701.0h1V701.5h1V702.5h1V702.5h1V701.2h1V700.9h1V701.1h1V700.9h1V701.3h1V701.5h1V701.4h1V701.4h1V702.5h1V702.5h1V702.5h1V702.5h1V702.5h1V702.5h1V702.5h1V702.5h1V701.0h1V700.8h1V701.5h1V700.9h1V701.5h1V701.5h1V701.4h1V701.2h1V701.1h1V701.1h1V702.5h1V702.5h1V702.5h1V702.5h1V702.5h1V702.5h1V702.5h1V702.5h1V702.5h1V701.5h1V702.5h1V702.5h1V701.3h1V701.2h1V701.5h1V701.5h1V702.5h1V702.5h1V702.5h1V702.5h1V702.5h1V702.5h1V702.5h1V702.5h1V702.5h1V701.1h1V700.9h1V702.5h1V702.5h1V702.5h1V702.5h1V701.1h1V701.1h1V702.5h1V702.5h1V701.3h1V701.1h1V701.4h1V700.9h1V701.4h1V701.6h1V701.4h1V700.8h1V701.1h1V702.5h1V701.4h1V700.8h1V702.5h1V700.9h1V700.9h1V701.0h1V702.5h1V702.5h1V702.5h1V700.9h1V700.8h1V701.5h1V700.9h1V700.9h1V701.2h1V700.8h1V701.3h1V701.2h1V702.5h1V702.5h1V702.5h1V702.5h1V702.5h1V702.5h1V702.5h1V702.5h1V701.2h1V700.9h1V701.4h1V702.5h1V702.5h1V702.5h1V702.5h1V702.5h1V702.5h1V702.5h1V702.5h1V702.5h1V701.2h1V702.5h1V702.5h1V701.2h1V701.0h1V701.3h1V701.3h1V700.9h1V701.6h1V701.3h1V701.0h1V701.2h1V702.5h1V702.5h1V702.5h1V702.5h1V702.5h1V701.3h1V701.2h1V700.8h1V700.9h1V701.2h1V702.5h1V702.5h1V702.5h1V702.5h1V702.5h1V702.5h1V701.5h1V701.2h1V701.2h1V701.3h1V701.0h1V701.0h1V701.1h1V701.5h1V701.3h1V700.9h1V702.5h1V702.5h1V702.5h1V702.5h1V702.5h1V702.5h1V702.5h1V702.5h1V702.5h1V700.9h1V700.9h1V701.1h1V700.8h1V701.1h1V702.5h1V702.5h1V702.5h1V702.5h1V702.5h1V702.5h1V702.5h1V702.5h1V702.5h1V702.5h1V702.5h1V702.5h1V702.5Z" fill="#5ab4e6"/>
<path d="M467 750V747.9h1V746.4h1V746.4h1V748.5h1V748.6h1V746.1h1V748.5h1V748.0h1V748.3h1V747.2h1V747.6h1V746.6h1V746.9h1V748.3h1V748.2h1V748.0h1V747.7h1V748.1h1V747.7h1V746.2h1V746.3h1V746.6h1V748.3h1V746.4h1V746.5h1V748.3h1V746.8h1V747.2h1V748.2h1V747.3h1V747.6h1V746.9h1V747.0h1V747.9h1V747.2h1V747.3h1V747.9h1V747.3h1V748.2h1V746.8h1V748.0h1V748.1h1V747.8h1V748.5h1V748.7h1V747.5h1V747.9h1V746.5h1V750h1V750h1V750h1V750h1V750h1V750h1V750h1V747.3h1V748.9h1V747.5h1V749.1h1V748.8h1V748.5h1V747.8h1V748.2h1V748.1h1V747.5h1V748.1h1V748.6h1V748.9h1V747.8h1V747.5h1V748.3h1V747.8h1V748.9h1V748.3h1V750h1V749.0h1V747.4h1V747.6h1V747.7h1V748.3h1V748.8h1V748.8h1V747.6h1V748.0h1V748.2h1V748.7h1V748.3h1V747.5h1V748.8h1V747.4h1V748.0h1V749.1h1V748.5h1V748.7h1V748.4h1V748.5h1V748.7h1V747.8h1V748.9h1V747.8h1V748.5h1V747.7h1V747.6h1V748.4h1V748.5h1V747.4h1V749.1h1V748.2h1V750h1V748.1h1V747.7h1V748.0h1V745.6h1V745.3h1V745.3h1V743.3h1V743.1h1V744.7h1V743.4h1V744.8h1V744.0h1V743.4h1V741.8h1V745.1h1V743.9h1V744.9h1V746.2h1V744.5h1V746.0h1V744.6h1V745.9h1V746.4h1V748.1h1V750h1V750h1V750h1V750h1V750h1V750h1V750h1V749.1h1V749.2h1V750h1V750h1V750h1V750h1V750h1V750h1V750h1V748.7h1V749.0h1V748.9h1V748.6h1V748.7h1V747.7h1V748.9h1V748.3h1V749.0h1V747.4h1V748.3h1V747.5h1V748.3h1V748.4h1V747.9h1V750h1V749.1h1V748.4h1V747.5h1V748.2h1V748.1h1V747.8h1V747.8h1V748.1h1V748.4h1V747.7h1V748.8h1V748.8h1V748.2h1V749.1h1V747.7h1V748.4h1V747.5h1V748.7h1V747.7h1V748.0h1V747.6h1V747.8h1V748.2h1V748.4h1V750h1V747.7h1V747.6h1V747.7h1V748.0h1V747.5h1V750h1V750h1V750h1V750h1V750h1V750h1V747.3h1V748.9h1V749.0h1V747.4h1V747.7h1V748.2h1V749.1h1V748.0h1V749.0h1V748.0h1V748.1h1V747.9h1V748.3h1V748.6h1V748.7h1V748.2h1V747.9h1V748.5h1V747.9h1V748.6h1V749.1h1V748.3h1V748.4h1V748.6h1V749.1h1V748.7h1V748.0h1V750h1V747.5h1V747.4h1V748.9h1V747.6h1V747.9h1V748.3h1V749.0h1V747.9h1V748.7h1V749.0h1V747.9h1V748.1h1V747.7h1V748.1h1V747.9h1V748.5h1V747.8h1V747.9h1V748.4h1V748.0h1V748.0h1V747.5h1V748.6h1V747.6h1V748.6h1V747.6h1V747.7h1V747.5h1V747.5h1V748.8h1V747.3h1V747.4h1V747.6h1V748.7h1V747.8h1V750h1V750h1V750h1V750h1V750h1V750h1V750h1V749.0h1V748.4h1V747.9h1V748.0h1V747.1h1V746.8h1V746.7h1V746.4h1V747.9h1V746.3h1V748.2h1V746.5h1V747.6h1V747.0h1V747.4h1V746.7h1V746.3h1V747.3h1V748.5h1V747.4h1V746.2h1V748.4h1V746.6h1V747.5h1V748.6h1V747.1h1V747.0h1V748.6h1V747.7h1V748.1h1V746.4h1V746.2h1V746.2h1V748.6h1V748.0h1V746.4h1V746.2h1V745.2h1V745.8h1V744.7h1V743.4h1V739.5h1V745.2h1V737.6h1V739.3h1V744.3h1V738.3h1V735.5h1V738.1h1V734.4h1V731.2h1V735.3h1V729.5h1V722.6h1V727.8h1V732.9h1V727.3h1V735.0h1V736.6h1V728.2h1V737.9h1V736.6h1V726.2h1V730.6h1V734.7h1V730.1h1V732.6h1V731.7h1V742.7h1V735.9h1V740.2h1V741.6h1V738.3h1V740.2h1V742.5h1V742.4h1V745.7h1V747.4h1V747.8h1V747.8h1V747.8h1V746.5h1V746.6h1V748.2h1V747.8h1V748.5h1V747.8h1V747.8h1V747.8h1V746.2h1V748.4h1V747.5h1V746.4h1V747.0h1V748.4h1V747.5h1V746.3h1V746.8h1V748.6h1V747.9h1V748.6h1V746.5h1V748.1h1V746.5h1V748.2h1V748.4h1V746.7h1V747.3h1V747.7h1V746.5h1V748.7h1V747.3h1V748.1h1V746.5h1V748.7h1V748.0h1V747.4h1V748.3h1V747.4h1V746.2h1V748.0h1V748.3h1V747.2h1V747.1h1V746.3h1V746.8h1V748.6h1V748.5h1V748.0h1V746.8h1V747.0h1V746.9h1V746.5h1V748.7h1V748.3h1V746.9h1V747.7h1V747.8h1V748.2h1V747.0h1V747.0h1V747.7h1V747.3h1V748.4h1V748.6h1V748.5h1V748.2h1V747.7h1V746.2h1V747.6h1V748.4h1V746.4h1V746.6h1V747.0h1V748.4h1V747.4h1V747.2h1V748.1h1V747.8h1V747.4h1V747.1h1V746.1h1V748.0h1V748.3h1V748.0h1V747.6h1V746.6h1V748.3h1V747.2h1V746.6h1V746.5h1V747.5h1V748.2h1V746.6h1V746.7h1V747.9h1V748.4h1V747.4h1V747.2h1V748.7h1V748.6h1V748.3h1V747.0h1V747.3h1V747.7h1V748.6h1V748.2h1V748.3h1V747.8h1V748.1h1V747.1h1V746.5h1V748.5h1V747.3h1V748.4h1V750h1V750h1V750h1V750h1V750h1V747.7h1V747.4h1V747.7h1V746.3h1V746.2h1V746.6h1V746.2h1V746.3h1V746.9h1V748.7h1V747.1h1V748.6h1V746.7h1V746.7h1V748.2h1V747.3h1V746.5h1V747.9h1V748.3h1V746.5h1V746.6h1V747.8h1V750h1V750h1V750h1V750h1V746.4h1V747.2h1V747.2h1V747.2h1V748.0h1V746.4h1V746.6h1V747.4h1V746.6h1V748.3h1V748.0h1V746.9h1V746.5h1V748.4h1V747.7h1V746.9h1V746.7h1V747.8h1V747.7h1V747.8h1V748.4h1V746.8h1V748.5h1V748.6h1V746.1h1V747.9h1V746.6h1V746.6h1V747.5h1V747.6h1V748.0h1V748.4h1V748.5h1V746.7h1V747.9h1V748.3h1V748.6h1V746.6h1V747.8h1V746.7h1V746.9h1V746.1h1V747.5h1V746.8h1V748.6h1V746.7h1V746.4h1V750Z" fill="#5ab4e6"/>
<path d="M467 798.4V793.9h1V793.5h1V794.5h1V795.3h1V795.0h1V793.7h1V790.2h1V794.1h1V794.1h1V793.4h1V793.9h1V795.9h1V795.8h1V794.7h1V795.2h1V795.4h1V794.4h1V794.6h1V798.4h1V798.4h1V798.4h1V798.4h1V798.4h1V798.4h1V792.6h1V793.9h1V796.3h1V795.3h1V796.3h1V792.9h1V792.7h1V794.2h1V794.4h1V792.6h1V792.7h1V794.5h1V795.6h1V794.6h1V795.4h1V795.5h1V793.7h1V795.0h1V796.2h1V792.7h1V792.7h1V794.7h1V798.4h1V798.4h1V798.4h1V798.4h1V798.4h1V796.2h1V796.3h1V798.4h1V798.4h1V798.4h1V798.4h1V798.4h1V794.6h1V794.8h1V795.0h1V796.0h1V795.9h1V796.5h1V796.5h1V797.0h1V795.1h1V795.5h1V795.3h1V795.1h1V796.3h1V794.9h1V796.7h1V795.4h1V791.3h1V795.6h1V795.9h1V794.9h1V794.5h1V794.8h1V798.4h1V798.4h1V798.4h1V798.4h1V798.4h1V798.4h1V798.4h1V794.7h1V796.8h1V795.3h1V795.7h1V796.6h1V795.9h1V794.3h1V796.5h1V795.0h1V795.4h1V794.7h1V795.9h1V793.6h1V795.4h1V793.0h1V787.2h1V787.0h1V788.3h1V791.5h1V791.7h1V785.5h1V789.9h1V784.1h1V782.7h1V783.6h1V787.9h1V784.8h1V778.3h1V790.6h1V787.5h1V781.6h1V778.6h1V790.1h1V782.3h1V789.1h1V790.5h1V787.7h1V790.0h1V791.8h1V794.4h1V798.4h1V798.4h1V797.3h1V797.6h1V796.6h1V796.8h1V796.7h1V797.6h1V797.0h1V797.5h1V796.4h1V796.2h1V796.3h1V796.5h1V797.6h1V796.5h1V796.2h1V797.1h1V797.1h1V796.2h1V797.1h1V798.4h1V798.4h1V798.4h1V798.4h1V798.4h1V798.4h1V798.4h1V798.4h1V798.4h1V798.4h1V796.0h1V789.3h1V795.8h1V794.8h1V795.2h1V795.1h1V796.5h1V795.5h1V795.0h1V798.4h1V798.4h1V798.4h1V798.4h1V798.4h1V798.4h1V798.4h1V794.9h1V795.9h1V795.9h1V793.6h1V793.9h1V790.8h1V793.8h1V793.7h1V796.1h1V794.0h1V795.5h1V796.3h1V796.3h1V795.2h1V796.0h1V796.7h1V794.9h1V793.9h1V794.1h1V793.9h1V795.5h1V789.7h1V795.0h1V796.3h1V795.8h1V798.4h1V798.4h1V798.4h1V798.4h1V795.1h1V795.0h1V794.0h1V795.7h1V794.4h1V793.9h1V789.2h1V796.0h1V796.0h1V794.9h1V793.7h1V794.0h1V792.4h1V794.2h1V795.8h1V793.8h1V793.7h1V794.3h1V794.8h1V793.9h1V796.4h1V790.6h1V796.2h1V794.2h1V796.0h1V793.7h1V795.3h1V795.1h1V795.2h1V794.3h1V794.4h1V795.0h1V796.3h1V795.2h1V794.7h1V793.9h1V795.1h1V794.6h1V796.0h1V795.2h1V796.0h1V796.1h1V796.4h1V794.2h1V795.3h1V796.4h1V794.0h1V792.7h1V794.3h1V796.1h1V795.6h1V793.6h1V796.5h1V794.7h1V794.2h1V794.6h1V795.2h1V796.1h1V791.2h1V796.1h1V796.1h1V793.7h1V794.7h1V795.9h1V795.7h1V795.0h1V796.2h1V795.9h1V796.1h1V793.7h1V792.5h1V793.6h1V794.6h1V796.0h1V796.4h1V795.0h1V794.2h1V795.0h1V794.6h1V795.1h1V793.6h1V793.9h1V793.8h1V795.3h1V795.4h1V783.5h1V794.7h1V793.4h1V793.8h1V794.2h1V792.6h1V792.4h1V793.1h1V794.2h1V795.8h1V793.9h1V792.6h1V792.9h1V796.3h1V793.7h1V795.4h1V795.2h1V795.8h1V792.8h1V788.8h1V793.0h1V785.5h1V787.5h1V790.4h1V787.5h1V787.9h1V787.4h1V776.5h1V776.3h1V786.9h1V785.7h1V774.7h1V772.1h1V786.8h1V764.9h1V765.4h1V777.8h1V786.0h1V784.1h1V776.4h1V769.4h1V780.9h1V764.7h1V784.9h1V772.9h1V785.8h1V772.2h1V780.0h1V790.2h1V775.4h1V789.6h1V791.6h1V784.2h1V783.0h1V784.5h1V783.0h1V783.5h1V790.4h1V793.2h1V792.1h1V794.6h1V796.0h1V792.1h1V794.8h1V793.2h1V793.0h1V792.4h1V791.6h1V793.2h1V794.8h1V795.3h1V791.9h1V786.4h1V794.5h1V795.4h1V793.9h1V792.4h1V793.0h1V795.0h1V794.7h1V795.4h1V794.8h1V795.5h1V792.6h1V792.2h1V794.1h1V795.3h1V793.8h1V793.1h1V792.7h1V786.9h1V789.8h1V790.4h1V790.6h1V789.0h1V782.9h1V790.4h1V790.9h1V791.3h1V794.8h1V789.4h1V791.2h1V792.9h1V792.6h1V793.3h1V795.6h1V795.2h1V791.9h1V793.2h1V794.7h1V791.7h1V795.7h1V784.6h1V794.8h1V793.3h1V796.0h1V791.9h1V793.9h1V794.8h1V795.4h1V791.7h1V795.4h1V793.2h1V793.4h1V790.2h1V784.3h1V792.7h1V792.2h1V795.5h1V794.6h1V794.2h1V795.2h1V793.5h1V794.5h1V793.4h1V794.4h1V795.2h1V792.8h1V794.4h1V792.4h1V795.8h1V793.0h1V793.1h1V792.5h1V794.4h1V792.3h1V791.7h1V794.4h1V793.3h1V795.5h1V794.6h1V795.4h1V791.9h1V792.6h1V792.8h1V796.0h1V794.2h1V794.0h1V792.5h1V796.1h1V789.1h1V795.0h1V784.5h1V795.9h1V792.4h1V791.7h1V791.9h1V793.5h1V792.7h1V793.9h1V795.1h1V794.2h1V795.8h1V795.9h1V794.8h1V795.6h1V794.0h1V791.8h1V795.7h1V795.4h1V795.7h1V794.3h1V794.9h1V791.4h1V791.5h1V792.9h1V791.8h1V794.3h1V794.2h1V792.8h1V791.7h1V795.6h1V795.3h1V792.4h1V793.8h1V793.1h1V792.5h1V792.2h1V795.3h1V794.8h1V796.1h1V794.9h1V796.1h1V794.4h1V795.3h1V792.4h1V795.9h1V793.8h1V793.1h1V794.2h1V794.1h1V795.5h1V793.5h1V792.6h1V793.6h1V796.1h1V795.8h1V794.1h1V793.8h1V793.7h1V793.8h1V795.2h1V791.7h1V792.3h1V793.3h1V791.5h1V795.0h1V795.2h1V794.9h1V793.1h1V792.3h1V794.6h1V794.6h1V793.9h1V795.0h1V794.6h1V791.6h1V793.7h1V791.6h1V795.5h1V794.9h1V792.2h1V795.4h1V793.1h1V791.7h1V793.0h1V795.9h1V792.6h1V795.8h1V792.4h1V796.1h1V792.2h1V793.2h1V795.4h1V793.3h1V795.5h1V798.4Z" fill="#5ab4e6"/>
<path d="M467 846.2V843.1h1V843.1h1V837.2h1V841.5h1V838.0h1V840.1h1V842.7h1V837.6h1V837.2h1V842.4h1V838.9h1V842.6h1V838.2h1V842.1h1V841.3h1V841.2h1V842.3h1V841.6h1V840.5h1V839.8h1V840.4h1V838.7h1V839.5h1V840.6h1V840.5h1V838.0h1V839.5h1V840.2h1V839.7h1V841.8h1V840.2h1V840.8h1V841.3h1V839.8h1V842.6h1V842.2h1V841.3h1V839.4h1V838.2h1V839.6h1V841.2h1V840.4h1V842.8h1V837.9h1V841.3h1V841.8h1V845.2h1V844.7h1V844.8h1V844.8h1V846.2h1V844.4h1V844.6h1V844.4h1V845.0h1V846.2h1V846.2h1V846.2h1V846.2h1V846.2h1V846.2h1V846.2h1V846.2h1V846.2h1V846.2h1V840.3h1V842.4h1V840.6h1V841.6h1V839.5h1V841.8h1V843.0h1V841.1h1V841.3h1V840.1h1V839.9h1V841.1h1V840.6h1V840.9h1V843.5h1V842.0h1V839.5h1V842.8h1V841.3h1V843.3h1V840.4h1V842.0h1V840.5h1V841.4h1V841.1h1V843.9h1V842.7h1V843.0h1V841.1h1V841.7h1V841.4h1V837.9h1V837.3h1V840.8h1V835.8h1V838.2h1V837.0h1V837.1h1V836.2h1V835.9h1V839.0h1V824.6h1V836.9h1V836.8h1V835.4h1V836.6h1V838.2h1V838.0h1V837.1h1V834.2h1V835.7h1V838.3h1V841.6h1V835.2h1V838.7h1V838.6h1V832.9h1V832.8h1V835.7h1V830.1h1V835.3h1V839.5h1V835.2h1V840.2h1V838.0h1V837.1h1V839.3h1V839.3h1V845.0h1V844.2h1V844.0h1V844.6h1V845.1h1V845.0h1V844.9h1V844.6h1V846.2h1V846.2h1V844.9h1V845.3h1V845.2h1V845.2h1V844.2h1V845.1h1V845.2h1V844.2h1V844.5h1V844.1h1V844.3h1V844.1h1V844.2h1V844.5h1V845.3h1V845.0h1V844.2h1V845.4h1V844.4h1V845.0h1V844.5h1V844.1h1V845.4h1V844.7h1V844.9h1V844.7h1V844.9h1V845.3h1V845.3h1V844.0h1V843.0h1V842.1h1V839.3h1V840.6h1V840.3h1V842.8h1V840.7h1V839.7h1V839.9h1V843.0h1V839.5h1V840.6h1V843.7h1V839.4h1V843.0h1V835.7h1V841.2h1V843.0h1V839.0h1V838.7h1V841.2h1V840.2h1V842.3h1V842.0h1V841.0h1V842.2h1V841.1h1V843.5h1V843.3h1V839.9h1V842.0h1V839.3h1V843.6h1V843.4h1V843.2h1V839.9h1V840.3h1V842.4h1V841.6h1V843.5h1V841.1h1V839.1h1V839.4h1V840.8h1V840.0h1V838.8h1V840.5h1V842.0h1V838.7h1V843.1h1V839.9h1V839.5h1V839.1h1V842.7h1V843.3h1V843.5h1V842.3h1V838.8h1V839.1h1V843.6h1V842.4h1V841.2h1V843.2h1V841.5h1V843.4h1V840.0h1V841.9h1V841.3h1V839.1h1V839.2h1V839.2h1V840.0h1V840.8h1V841.6h1V838.9h1V840.9h1V842.3h1V840.0h1V842.4h1V842.8h1V839.2h1V842.3h1V838.9h1V841.4h1V841.5h1V843.4h1V841.2h1V837.5h1V838.9h1V839.5h1V839.5h1V843.6h1V840.6h1V841.4h1V841.2h1V841.1h1V839.6h1V841.7h1V838.0h1V843.3h1V841.5h1V838.2h1V839.5h1V839.2h1V842.0h1V843.0h1V842.1h1V842.8h1V837.5h1V841.6h1V841.1h1V839.5h1V841.5h1V832.4h1V841.4h1V840.0h1V838.1h1V843.1h1V842.0h1V838.5h1V840.7h1V838.4h1V827.5h1V842.5h1V842.7h1V841.4h1V839.3h1V841.1h1V840.8h1V842.6h1V840.9h1V838.0h1V839.3h1V840.7h1V840.1h1V841.5h1V838.2h1V840.0h1V835.3h1V837.6h1V836.0h1V834.4h1V838.5h1V839.3h1V838.8h1V841.3h1V839.1h1V838.1h1V843.1h1V838.6h1V840.6h1V841.9h1V839.5h1V838.3h1V842.2h1V841.2h1V838.0h1V838.8h1V841.6h1V839.0h1V829.4h1V835.9h1V836.5h1V834.3h1V838.8h1V841.3h1V835.9h1V839.4h1V842.0h1V840.3h1V839.7h1V842.0h1V841.4h1V838.9h1V839.8h1V843.4h1V841.1h1V838.7h1V841.6h1V842.7h1V842.5h1V839.1h1V840.2h1V840.4h1V840.5h1V840.6h1V842.4h1V842.1h1V842.3h1V833.6h1V840.4h1V843.3h1V839.2h1V842.3h1V841.9h1V839.6h1V841.4h1V841.9h1V841.9h1V842.1h1V838.3h1V842.1h1V842.1h1V836.6h1V837.5h1V838.0h1V840.4h1V837.3h1V838.6h1V835.2h1V838.5h1V841.0h1V843.3h1V842.2h1V842.6h1V840.4h1V839.6h1V839.2h1V840.6h1V840.3h1V842.8h1V840.8h1V838.7h1V838.7h1V843.4h1V839.5h1V842.3h1V838.4h1V838.8h1V842.7h1V839.1h1V842.4h1V840.4h1V841.2h1V833.8h1V839.1h1V839.9h1V841.8h1V839.0h1V839.1h1V838.6h1V843.1h1V841.3h1V843.2h1V833.7h1V838.8h1V842.0h1V841.7h1V839.7h1V840.9h1V843.1h1V839.4h1V838.2h1V838.9h1V842.5h1V842.7h1V842.7h1V839.4h1V840.8h1V838.0h1V841.8h1V838.5h1V839.1h1V840.2h1V839.6h1V843.3h1V842.3h1V838.3h1V842.7h1V842.9h1V840.7h1V839.3h1V838.2h1V840.7h1V838.6h1V840.2h1V842.9h1V839.1h1V840.3h1V838.7h1V838.0h1V841.8h1V841.2h1V841.3h1V842.4h1V839.2h1V841.1h1V841.6h1V842.9h1V838.2h1V842.7h1V843.2h1V839.8h1V842.5h1V841.2h1V841.1h1V841.2h1V843.2h1V843.3h1V841.8h1V839.6h1V840.2h1V839.1h1V839.1h1V841.4h1V838.3h1V843.2h1V839.2h1V840.5h1V841.6h1V839.2h1V839.1h1V840.0h1V843.4h1V840.2h1V840.6h1V842.2h1V842.3h1V841.7h1V843.3h1V841.4h1V841.8h1V839.5h1V839.1h1V842.0h1V842.1h1V841.2h1V842.9h1V842.1h1V840.0h1V839.3h1V840.0h1V839.7h1V841.8h1V840.8h1V839.8h1V840.2h1V842.3h1V843.4h1V841.9h1V841.3h1V839.9h1V841.3h1V838.1h1V843.3h1V838.8h1V843.1h1V841.3h1V841.1h1V839.6h1V838.8h1V841.6h1V843.2h1V840.8h1V842.7h1V839.5h1V838.0h1V842.2h1V840.1h1V840.5h1V843.2h1V842.9h1V843.4h1V842.7h1V842.0h1V841.6h1V842.4h1V839.6h1V842.2h1V842.1h1V842.9h1V846.2Z" fill="#5ab4e6"/>
<rect x="455.9" y="669" width="2.8" height="175" fill="#5ab4e6"/>
<text x="467.5" y="685.8" font-size="17" fill="#5ab4e6" text-anchor="start" stroke="#fff" stroke-width="0.31" >12hr</text>
<text x="467" y="733.5" font-size="17" fill="#5ab4e6" text-anchor="start" stroke="#fff" stroke-width="0.31" >24hr</text>
<text x="467" y="781" font-size="17" fill="#5ab4e6" text-anchor="start" stroke="#fff" stroke-width="0.31" >36hr</text>
<text x="467" y="829.3" font-size="17" fill="#5ab4e6" text-anchor="start" stroke="#fff" stroke-width="0.31" >8days</text>
<text transform="translate(434,756) rotate(-90)" font-size="17" fill="#5ab4e6" text-anchor="middle">i-MT-r</text>
<text transform="translate(451.3,756) rotate(-90)" font-size="17" fill="#5ab4e6" text-anchor="middle">H3K27me2</text>
<text x="836" y="669.5" font-size="17.4" fill="#e8305a" text-anchor="start" stroke="#fff" stroke-width="0.31" >Early</text>
<text x="836" y="689.4" font-size="17.4" fill="#e8305a" text-anchor="start" stroke="#fff" stroke-width="0.31" >recruitment</text>
<line x1="834.5" y1="671.5" x2="819.0" y2="678.1" stroke="#e8305a" stroke-width="1.7"/>
<path transform="translate(811.6 681.2) rotate(157.0)" d="M0 0 L-14.5 -7.5 L-10 0 L-14.5 7.5 Z" fill="#e8305a"/>
<text x="622.5" y="724.5" font-size="17.4" fill="#2e7d4e" text-anchor="start" stroke="#fff" stroke-width="0.31" >Delayed</text>
<text x="622.5" y="744.3" font-size="17.4" fill="#2e7d4e" text-anchor="start" stroke="#fff" stroke-width="0.31" >recruitment</text>
<line x1="620.8" y1="722.4" x2="605.3" y2="728.9" stroke="#167a3e" stroke-width="1.7"/>
<path transform="translate(597.9 732) rotate(157.3)" d="M0 0 L-14.5 -7.5 L-10 0 L-14.5 7.5 Z" fill="#167a3e"/>
<rect x="520" y="869" width="64" height="5.5" fill="#5454a4"/>
<rect x="608" y="869" width="19" height="5.5" fill="#5454a4"/>
<rect x="791" y="869" width="78" height="5.5" fill="#5454a4"/>
<path d="M583.5 869V859.5H577.5" stroke="#111" stroke-width="1.3" fill="none"/>
<path d="M574.5 859.5l4 -3v6z" fill="#111"/>
<path d="M626 869V859.5H620" stroke="#111" stroke-width="1.3" fill="none"/>
<path d="M617 859.5l4 -3v6z" fill="#111"/>
<path d="M791.8 869V859.5H797.8" stroke="#111" stroke-width="1.3" fill="none"/>
<path d="M800.8 859.5l-4 -3v6z" fill="#111"/>
<text x="448" y="893.6" font-size="20.5" fill="#222" text-anchor="start" stroke="#fff" stroke-width="0.37" >chr6:</text>
<text x="554" y="895" font-size="16.8" fill="#222" text-anchor="middle" stroke="#fff" stroke-width="0.30" >Gm5878</text>
<text x="616" y="895" font-size="16.8" fill="#222" text-anchor="middle" stroke="#fff" stroke-width="0.30" >Spr</text>
<text x="829.5" y="894.5" font-size="16.8" fill="#222" text-anchor="middle" stroke="#fff" stroke-width="0.30" >Emx1</text>
</svg></body></html>
